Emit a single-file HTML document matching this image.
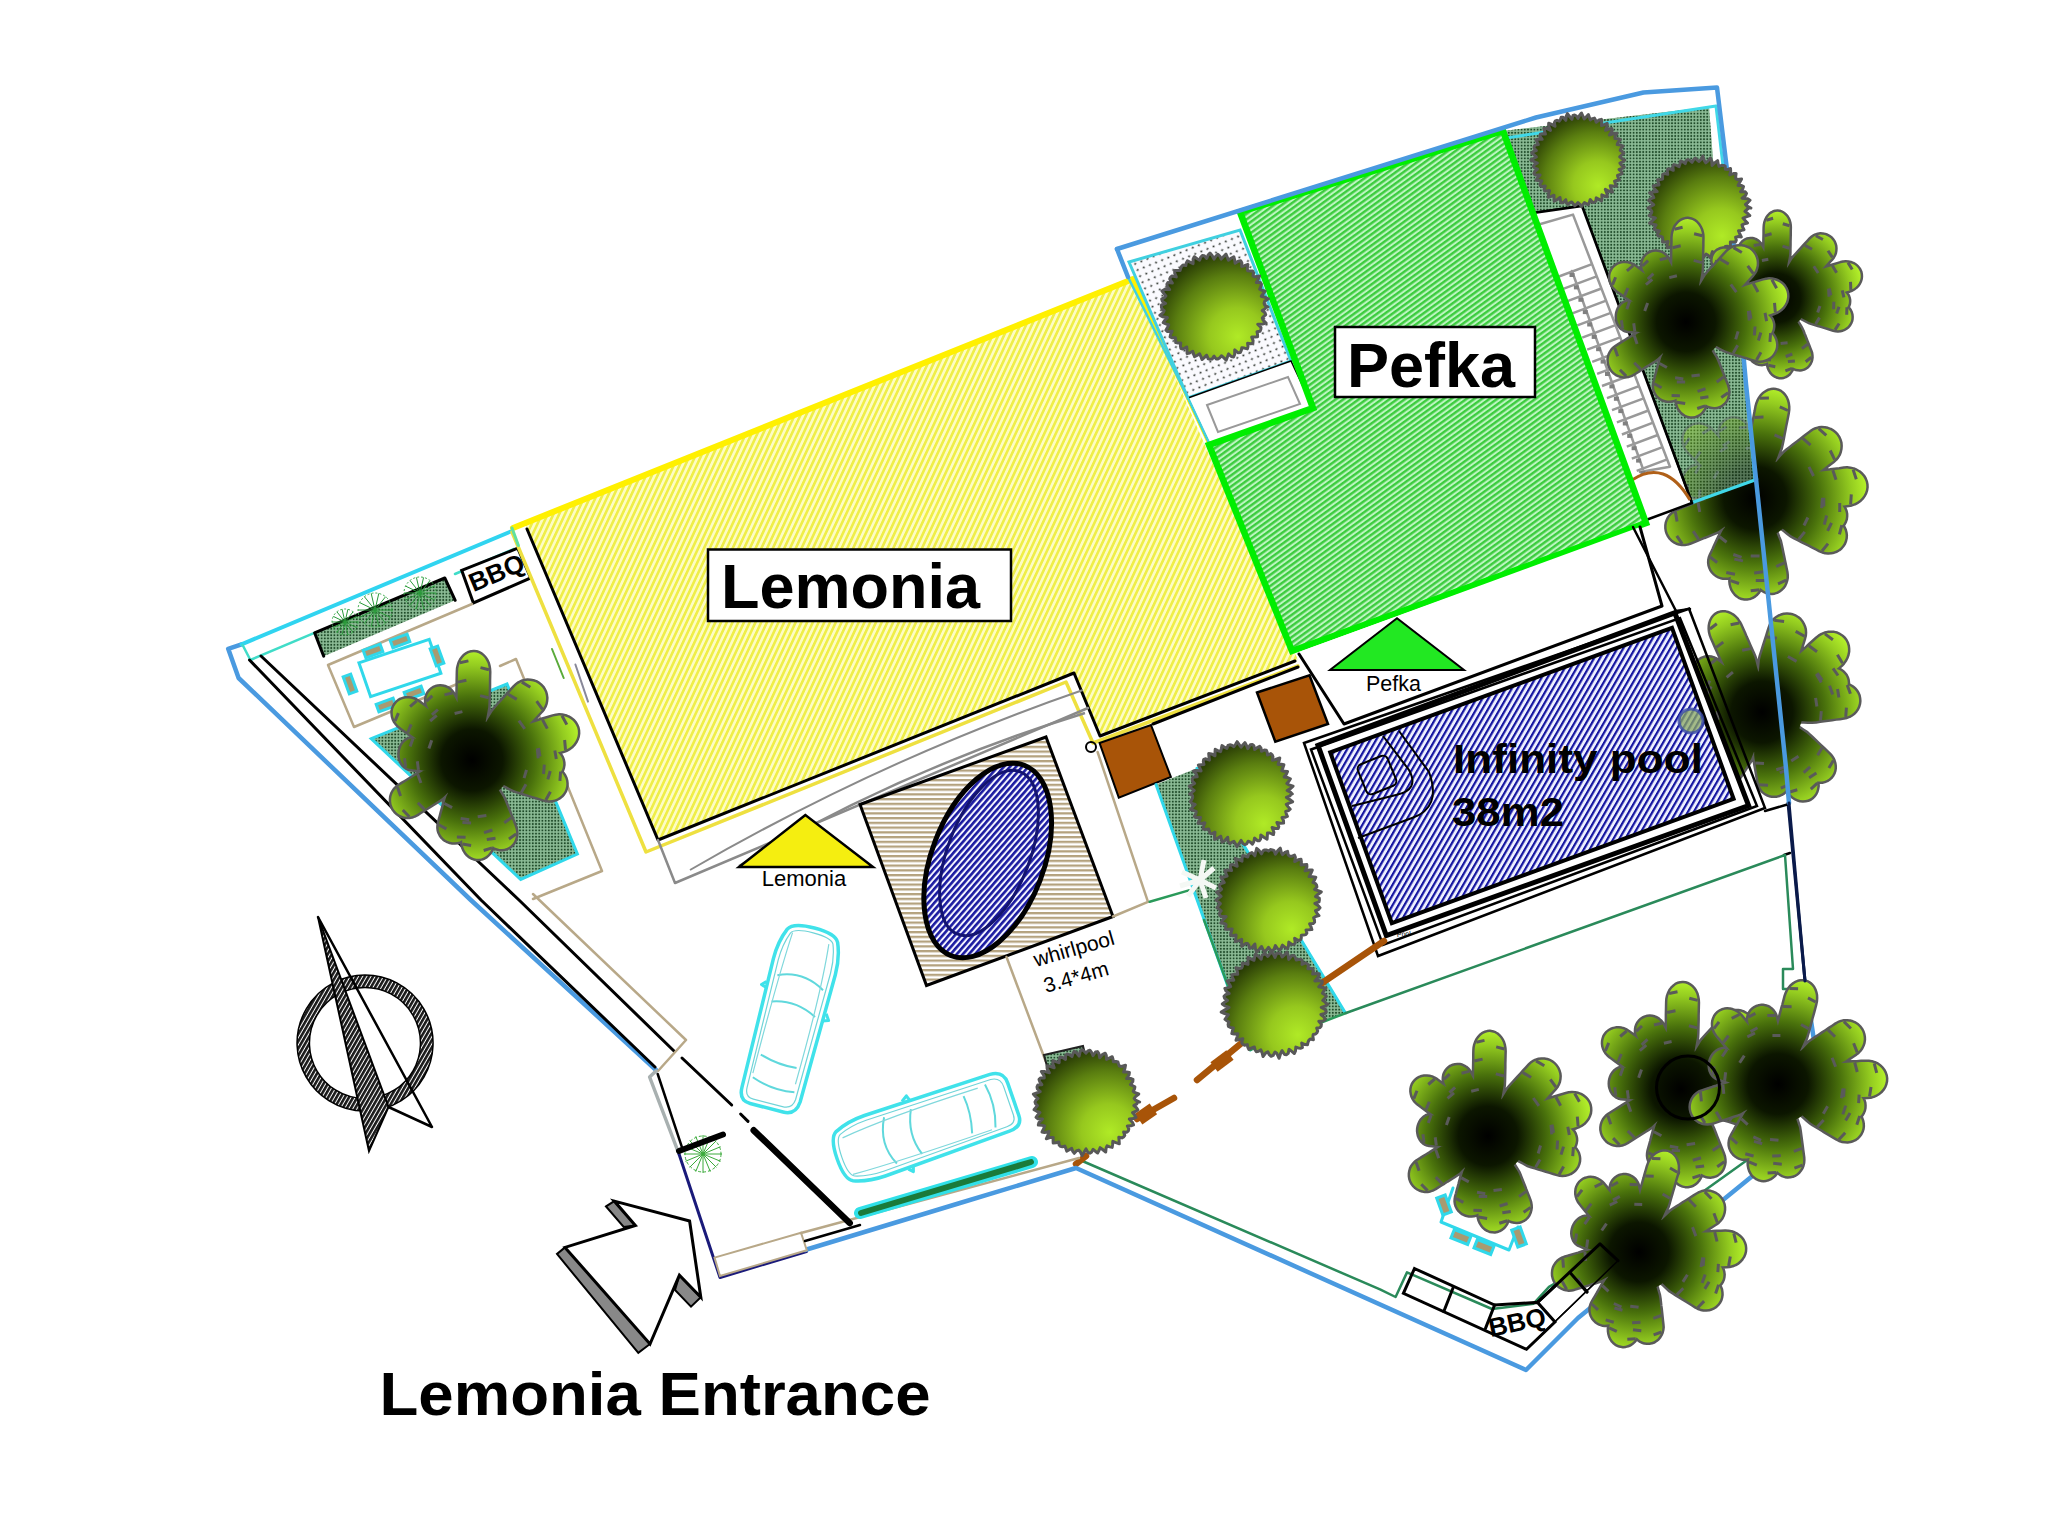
<!DOCTYPE html><html><head><meta charset="utf-8"><style>html,body{margin:0;padding:0;background:#fff;overflow:hidden;}svg{display:block;}</style></head><body><svg width="2048" height="1536" viewBox="0 0 2048 1536">
<defs>
 <pattern id="hy" patternUnits="userSpaceOnUse" width="5.2" height="5.2" patternTransform="rotate(-65)">
  <rect width="5.2" height="5.2" fill="#fdfcc4"/><rect width="5.2" height="2.6" fill="#efee48"/>
 </pattern>
 <pattern id="hg" patternUnits="userSpaceOnUse" width="4.5" height="4.5" patternTransform="rotate(-36)">
  <rect width="4.5" height="4.5" fill="#bcf6c0"/><rect width="4.5" height="2.4" fill="#3ccc3e"/>
 </pattern>
 <pattern id="hb" patternUnits="userSpaceOnUse" width="5.1" height="5.1" patternTransform="rotate(-60)">
  <rect width="5.1" height="5.1" fill="#eef0ff"/><rect width="5.1" height="2.2" fill="#1414a0"/>
 </pattern>
 <pattern id="ht" patternUnits="userSpaceOnUse" width="8" height="4.75">
  <rect width="8" height="4.75" fill="#ffffff"/><rect width="8" height="2.3" fill="#b4a27e"/>
 </pattern>
 <pattern id="he" patternUnits="userSpaceOnUse" width="4.6" height="4.6" patternTransform="rotate(-70)">
  <rect width="4.6" height="4.6" fill="#f4f4ff"/><rect width="4.6" height="2.6" fill="#1a1aa0"/>
 </pattern>
 <pattern id="hk" patternUnits="userSpaceOnUse" width="3.6" height="3.6" patternTransform="rotate(-60)">
  <rect width="3.6" height="3.6" fill="#ffffff"/><rect width="3.6" height="2.6" fill="#1a1a1a"/>
 </pattern>
 <pattern id="dots" patternUnits="userSpaceOnUse" width="6.6" height="6.6" patternTransform="rotate(-22)">
  <rect width="6.6" height="6.6" fill="#fafafe"/><circle cx="3.3" cy="3.3" r="1.05" fill="#2a302a"/>
 </pattern>
 <pattern id="tex" patternUnits="userSpaceOnUse" width="3.2" height="3.2">
  <rect width="3.2" height="3.2" fill="#8cbc96"/><circle cx="1.6" cy="1.6" r="1.0" fill="#1e4a28"/>
 </pattern>
 <radialGradient id="tree" cx="0.68" cy="0.74" r="0.85" fx="0.72" fy="0.78">
  <stop offset="0" stop-color="#b0ea26"/><stop offset="0.3" stop-color="#96c81e"/><stop offset="0.65" stop-color="#5a7e10"/><stop offset="1" stop-color="#142000"/>
 </radialGradient>
</defs>

<rect width="2048" height="1536" fill="#ffffff"/>
<polyline points="241.5,644.3 228.2,648.8 238.6,678.0 470.8,900.0 656.0,1070.0" fill="none" stroke="#4a9ae0" stroke-width="4.5" stroke-linejoin="round" stroke-linecap="round" />
<polyline points="241.5,644.3 512.0,531.0" fill="none" stroke="#30d4f0" stroke-width="4" stroke-linejoin="round" stroke-linecap="round" />
<polyline points="242.6,645.0 250.4,660.0 315.0,632.6" fill="none" stroke="#40dcc8" stroke-width="2.5" stroke-linejoin="round" stroke-linecap="round" />
<polyline points="455.0,574.0 514.0,549.0" fill="none" stroke="#40dcc8" stroke-width="2.5" stroke-linejoin="round" stroke-linecap="round" />
<polyline points="249.5,660.0 481.0,900.0 655.0,1067.0" fill="none" stroke="#000" stroke-width="3" stroke-linejoin="round" stroke-linecap="round" />
<polyline points="261.0,656.0 519.0,900.0 674.0,1051.0" fill="none" stroke="#000" stroke-width="3" stroke-linejoin="round" stroke-linecap="round" />
<polyline points="533.0,894.0 686.0,1040.0 658.0,1071.0" fill="none" stroke="#b8a888" stroke-width="2.5" stroke-linejoin="round" stroke-linecap="round" />
<polygon points="314.6,632.8 444.8,578.0 455.2,600.3 323.7,656.2" fill="url(#tex)" stroke="none" stroke-width="1" stroke-linejoin="miter" />
<polyline points="323.7,656.2 314.6,632.8 444.8,578.0 455.2,600.3" fill="none" stroke="#000" stroke-width="3" stroke-linejoin="round" stroke-linecap="round" />
<path d="M345,622 L358.0,622.0 M345,622 L356.7,627.6 M345,622 L353.1,632.2 M345,622 L347.9,634.7 M345,622 L342.1,634.7 M345,622 L336.9,632.2 M345,622 L333.3,627.6 M345,622 L332.0,622.0 M345,622 L333.3,616.4 M345,622 L336.9,611.8 M345,622 L342.1,609.3 M345,622 L347.9,609.3 M345,622 L353.1,611.8 M345,622 L356.7,616.4" stroke="#2a9a3a" stroke-width="1" fill="none"/>
<circle cx="345" cy="622" r="13" fill="none" stroke="#3aaa4a" stroke-width="1" stroke-dasharray="2 2"/>
<path d="M375,610 L392.0,610.0 M375,610 L390.3,617.4 M375,610 L385.6,623.3 M375,610 L378.8,626.6 M375,610 L371.2,626.6 M375,610 L364.4,623.3 M375,610 L359.7,617.4 M375,610 L358.0,610.0 M375,610 L359.7,602.6 M375,610 L364.4,596.7 M375,610 L371.2,593.4 M375,610 L378.8,593.4 M375,610 L385.6,596.7 M375,610 L390.3,602.6" stroke="#2a9a3a" stroke-width="1" fill="none"/>
<circle cx="375" cy="610" r="17" fill="none" stroke="#3aaa4a" stroke-width="1" stroke-dasharray="2 2"/>
<path d="M420,593 L436.0,593.0 M420,593 L434.4,599.9 M420,593 L430.0,605.5 M420,593 L423.6,608.6 M420,593 L416.4,608.6 M420,593 L410.0,605.5 M420,593 L405.6,599.9 M420,593 L404.0,593.0 M420,593 L405.6,586.1 M420,593 L410.0,580.5 M420,593 L416.4,577.4 M420,593 L423.6,577.4 M420,593 L430.0,580.5 M420,593 L434.4,586.1" stroke="#2a9a3a" stroke-width="1" fill="none"/>
<circle cx="420" cy="593" r="16" fill="none" stroke="#3aaa4a" stroke-width="1" stroke-dasharray="2 2"/>
<polygon points="461.7,570.3 517.7,548.2 530.7,578.0 473.4,602.9" fill="#fff" stroke="#000" stroke-width="3" stroke-linejoin="miter" />
<text x="0" y="0" font-family="Liberation Sans, sans-serif" font-size="26" font-weight="bold" text-anchor="middle" fill="#000" transform="translate(500,581) rotate(-23)">BBQ</text>
<polyline points="472.0,604.0 328.0,665.0 354.0,727.0 462.0,682.0" fill="none" stroke="#b8a888" stroke-width="2.5" stroke-linejoin="round" stroke-linecap="round" />
<polyline points="500.0,666.0 516.0,659.0 602.0,871.0 533.0,899.0" fill="none" stroke="#b8a888" stroke-width="2.5" stroke-linejoin="round" stroke-linecap="round" />
<polygon points="358.9,662.8 429.2,639.3 440.9,673.2 370.6,696.6" fill="#fff" stroke="#30d8ea" stroke-width="3" stroke-linejoin="miter" />
<rect x="-9" y="-4" width="18" height="8" fill="#a89a70" stroke="#30d8ea" stroke-width="3" transform="translate(373,651) rotate(-20)"/>
<rect x="-9" y="-4" width="18" height="8" fill="#a89a70" stroke="#30d8ea" stroke-width="3" transform="translate(400,641) rotate(-20)"/>
<rect x="-9" y="-4" width="18" height="8" fill="#a89a70" stroke="#30d8ea" stroke-width="3" transform="translate(350,684) rotate(70)"/>
<rect x="-9" y="-4" width="18" height="8" fill="#a89a70" stroke="#30d8ea" stroke-width="3" transform="translate(437,656) rotate(70)"/>
<rect x="-9" y="-4" width="18" height="8" fill="#a89a70" stroke="#30d8ea" stroke-width="3" transform="translate(386,705) rotate(-20)"/>
<rect x="-9" y="-4" width="18" height="8" fill="#a89a70" stroke="#30d8ea" stroke-width="3" transform="translate(414,693) rotate(-20)"/>
<polygon points="371.3,738.7 507.0,684.0 577.4,854.0 520.7,879.4" fill="url(#tex)" stroke="#30d8ea" stroke-width="3" stroke-linejoin="miter" />
<polyline points="552.0,649.0 563.7,678.0" fill="none" stroke="#5aaa3a" stroke-width="2" stroke-linejoin="round" stroke-linecap="round" />
<polyline points="575.4,664.5 588.0,701.6" fill="none" stroke="#888899" stroke-width="2" stroke-linejoin="round" stroke-linecap="round" />
<polygon points="525.0,524.0 1133.0,279.0 1298.0,660.0 1100.0,736.0 1074.0,673.0 658.0,840.0" fill="url(#hy)" stroke="none" stroke-width="1" stroke-linejoin="miter" />
<polyline points="513.0,528.0 1133.0,279.0 1212.0,447.0" fill="none" stroke="#fff000" stroke-width="6" stroke-linejoin="round" stroke-linecap="round" />
<polyline points="512.0,532.0 646.0,852.0 1066.0,682.0 1093.0,743.0 1298.0,666.0" fill="none" stroke="#eee040" stroke-width="3.5" stroke-linejoin="round" stroke-linecap="round" />
<polyline points="512.0,528.0 518.4,545.5" fill="none" stroke="#60e0a0" stroke-width="3" stroke-linejoin="round" stroke-linecap="round" />
<polyline points="527.0,529.0 658.0,840.0 1074.0,673.0 1100.0,736.0 1295.0,661.0" fill="none" stroke="#000" stroke-width="3" stroke-linejoin="round" stroke-linecap="round" />
<polyline points="1153.0,724.0 1298.0,667.0" fill="none" stroke="#000" stroke-width="3" stroke-linejoin="round" stroke-linecap="round" />
<polygon points="1129.0,262.0 1240.0,230.0 1291.0,361.0 1188.0,398.0" fill="url(#dots)" stroke="#40d0e0" stroke-width="3" stroke-linejoin="miter" />
<polygon points="1188.0,398.0 1291.0,361.0 1313.0,408.0 1210.0,445.0" fill="#ffffff" stroke="#000" stroke-width="1.5" stroke-linejoin="miter" />
<polygon points="1207.0,405.0 1288.0,377.0 1300.0,404.0 1218.0,432.0" fill="none" stroke="#999" stroke-width="2" stroke-linejoin="miter" />
<polyline points="1128.0,277.0 1188.0,398.0 1210.0,445.0" fill="none" stroke="#40d0e0" stroke-width="2.5" stroke-linejoin="round" stroke-linecap="round" />
<polygon points="1503.0,131.0 1709.0,107.0 1713.0,160.0 1746.0,384.0 1756.0,479.0 1691.0,504.0 1582.0,206.0 1533.0,213.0" fill="url(#tex)" stroke="none" stroke-width="1" stroke-linejoin="miter" />
<radialGradient id="pg0" gradientUnits="userSpaceOnUse" cx="1755" cy="498" r="112.0"><stop offset="0" stop-color="#000000"/><stop offset="0.28" stop-color="#0c1600"/><stop offset="0.58" stop-color="#4a720c"/><stop offset="0.86" stop-color="#94cc20"/><stop offset="1" stop-color="#b4f02a"/></radialGradient>
<path d="M1761.9,499.4 L1763.5,495.1 L1765.1,490.8 L1766.6,486.5 L1768.2,482.2 L1769.7,477.9 L1771.3,473.7 L1772.8,469.4 L1774.4,465.1 L1775.9,460.8 L1777.5,456.5 L1779.0,452.2 L1780.6,448.0 L1781.6,443.6 L1782.5,439.2 L1783.3,434.7 L1784.2,430.3 L1785.0,425.9 L1785.9,421.5 L1786.8,417.1 L1787.6,412.7 L1788.0,409.6 L1788.0,406.5 L1787.6,403.5 L1786.9,400.7 L1785.8,398.1 L1784.3,395.7 L1782.5,393.7 L1780.5,392.1 L1778.3,391.0 L1775.9,390.3 L1775.9,390.3 L1773.5,390.0 L1771.0,390.3 L1768.5,391.0 L1766.2,392.2 L1763.9,393.8 L1761.9,395.8 L1760.1,398.2 L1758.7,400.8 L1757.5,403.7 L1756.7,406.6 L1755.9,411.1 L1755.0,415.5 L1754.2,419.9 L1753.3,424.3 L1752.4,428.7 L1751.6,433.2 L1750.7,437.6 L1750.0,442.0 L1749.8,446.6 L1749.7,451.1 L1749.5,455.7 L1749.4,460.2 L1749.2,464.8 L1749.0,469.3 L1748.9,473.9 L1748.7,478.4 L1748.5,483.0 L1748.4,487.5 L1748.2,492.1 L1748.1,496.6Z M1761.2,496.0 L1760.8,492.5 L1760.4,489.1 L1759.9,485.7 L1759.5,482.2 L1759.1,478.8 L1758.6,475.4 L1758.2,471.9 L1757.8,468.5 L1757.4,465.1 L1756.9,461.6 L1756.5,458.2 L1756.1,454.8 L1755.2,451.5 L1754.1,448.3 L1753.1,445.0 L1752.0,441.8 L1751.0,438.6 L1749.9,435.3 L1748.9,432.1 L1747.8,428.9 L1746.9,426.7 L1745.7,424.7 L1744.2,422.9 L1742.5,421.4 L1740.5,420.2 L1738.4,419.2 L1736.2,418.7 L1733.9,418.5 L1731.6,418.6 L1729.4,419.2 L1729.4,419.2 L1727.3,420.1 L1725.3,421.3 L1723.6,422.8 L1722.2,424.5 L1721.0,426.5 L1720.1,428.7 L1719.6,430.9 L1719.4,433.2 L1719.6,435.6 L1720.2,437.9 L1721.2,441.1 L1722.3,444.3 L1723.3,447.5 L1724.4,450.8 L1725.4,454.0 L1726.5,457.2 L1727.5,460.5 L1728.7,463.7 L1730.4,466.7 L1732.1,469.7 L1733.7,472.8 L1735.4,475.8 L1737.1,478.8 L1738.8,481.8 L1740.4,484.9 L1742.1,487.9 L1743.8,490.9 L1745.4,494.0 L1747.1,497.0 L1748.8,500.0Z M1760.1,493.1 L1757.9,489.8 L1755.6,486.4 L1753.4,483.1 L1751.2,479.8 L1748.9,476.4 L1746.7,473.1 L1744.5,469.8 L1742.2,466.4 L1740.0,463.1 L1737.8,459.8 L1735.5,456.4 L1733.3,453.1 L1730.6,450.1 L1727.9,447.3 L1725.2,444.5 L1722.4,441.6 L1719.7,438.8 L1716.9,435.9 L1714.2,433.1 L1711.4,430.3 L1709.4,428.4 L1707.2,426.9 L1704.7,425.8 L1702.2,425.0 L1699.6,424.6 L1697.0,424.7 L1694.5,425.1 L1692.2,425.9 L1690.0,427.2 L1688.1,428.7 L1688.1,428.7 L1686.5,430.6 L1685.2,432.7 L1684.3,435.0 L1683.7,437.5 L1683.6,440.1 L1683.9,442.7 L1684.6,445.3 L1685.7,447.7 L1687.1,450.0 L1688.8,452.1 L1691.6,454.9 L1694.3,457.8 L1697.1,460.6 L1699.8,463.5 L1702.5,466.3 L1705.3,469.2 L1708.0,472.0 L1710.9,474.7 L1714.1,477.1 L1717.4,479.4 L1720.6,481.8 L1723.9,484.1 L1727.1,486.5 L1730.4,488.8 L1733.6,491.2 L1736.9,493.5 L1740.1,495.9 L1743.4,498.2 L1746.7,500.6 L1749.9,502.9Z M1760.0,504.5 L1763.8,502.6 L1767.7,500.6 L1771.5,498.7 L1775.4,496.8 L1779.2,494.9 L1783.1,492.9 L1786.9,491.0 L1790.8,489.1 L1794.6,487.2 L1798.5,485.3 L1802.3,483.3 L1806.2,481.4 L1809.6,479.0 L1813.0,476.4 L1816.3,473.8 L1819.7,471.2 L1823.0,468.7 L1826.4,466.1 L1829.7,463.5 L1833.1,461.0 L1835.2,459.0 L1837.1,456.8 L1838.6,454.3 L1839.6,451.6 L1840.2,448.8 L1840.4,445.9 L1840.2,443.0 L1839.4,440.3 L1838.3,437.7 L1836.7,435.3 L1836.7,435.3 L1834.8,433.2 L1832.6,431.4 L1830.1,430.0 L1827.4,429.0 L1824.6,428.4 L1821.7,428.3 L1818.9,428.6 L1816.1,429.4 L1813.4,430.6 L1811.0,432.2 L1807.6,434.7 L1804.3,437.3 L1800.9,439.9 L1797.6,442.5 L1794.2,445.0 L1790.9,447.6 L1787.5,450.2 L1784.3,452.9 L1781.4,456.1 L1778.6,459.3 L1775.7,462.5 L1772.9,465.8 L1770.0,469.0 L1767.2,472.2 L1764.3,475.4 L1761.4,478.6 L1758.6,481.9 L1755.7,485.1 L1752.9,488.3 L1750.0,491.5Z M1756.0,506.1 L1760.7,506.4 L1765.3,506.6 L1770.0,506.9 L1774.6,507.1 L1779.3,507.4 L1783.9,507.6 L1788.6,507.9 L1793.3,508.1 L1797.9,508.4 L1802.6,508.6 L1807.2,508.9 L1811.9,509.1 L1816.5,508.7 L1821.0,508.2 L1825.6,507.6 L1830.1,507.1 L1834.7,506.5 L1839.3,505.9 L1843.8,505.4 L1848.4,504.8 L1851.5,504.2 L1854.4,503.2 L1857.2,501.7 L1859.7,499.9 L1861.9,497.8 L1863.6,495.4 L1865.0,492.8 L1865.9,490.0 L1866.3,487.2 L1866.2,484.4 L1866.2,484.4 L1865.6,481.6 L1864.5,478.9 L1863.0,476.4 L1861.0,474.2 L1858.7,472.3 L1856.1,470.8 L1853.3,469.6 L1850.2,468.9 L1847.1,468.6 L1843.9,468.8 L1839.4,469.4 L1834.8,469.9 L1830.3,470.5 L1825.7,471.0 L1821.2,471.6 L1816.6,472.2 L1812.0,472.7 L1807.5,473.4 L1803.0,474.8 L1798.6,476.2 L1794.1,477.5 L1789.7,478.9 L1785.2,480.3 L1780.8,481.7 L1776.3,483.0 L1771.8,484.4 L1767.4,485.8 L1762.9,487.2 L1758.5,488.5 L1754.0,489.9Z M1753.4,504.9 L1757.0,506.4 L1760.5,508.0 L1764.1,509.5 L1767.6,511.1 L1771.2,512.6 L1774.7,514.2 L1778.3,515.7 L1781.8,517.3 L1785.4,518.8 L1788.9,520.4 L1792.5,521.9 L1796.1,523.5 L1799.7,524.5 L1803.5,525.3 L1807.2,526.2 L1810.9,527.0 L1814.6,527.9 L1818.3,528.8 L1822.0,529.6 L1825.7,530.5 L1828.3,530.9 L1830.9,530.9 L1833.5,530.5 L1836.0,529.8 L1838.3,528.6 L1840.4,527.2 L1842.2,525.5 L1843.7,523.5 L1844.8,521.3 L1845.6,518.9 L1845.6,518.9 L1845.9,516.5 L1845.9,514.0 L1845.4,511.5 L1844.5,509.2 L1843.3,507.0 L1841.7,505.0 L1839.8,503.2 L1837.7,501.7 L1835.3,500.6 L1832.8,499.8 L1829.1,499.0 L1825.4,498.1 L1821.7,497.3 L1818.0,496.4 L1814.2,495.5 L1810.5,494.7 L1806.8,493.8 L1803.1,493.1 L1799.2,492.9 L1795.3,492.8 L1791.5,492.6 L1787.6,492.4 L1783.7,492.3 L1779.8,492.1 L1776.0,491.9 L1772.1,491.8 L1768.2,491.6 L1764.3,491.4 L1760.5,491.3 L1756.6,491.1Z M1751.5,504.8 L1754.8,507.3 L1758.1,509.9 L1761.4,512.4 L1764.7,514.9 L1768.0,517.5 L1771.3,520.0 L1774.6,522.5 L1777.9,525.1 L1781.2,527.6 L1784.5,530.1 L1787.8,532.7 L1791.1,535.2 L1794.7,537.2 L1798.3,539.1 L1801.9,540.9 L1805.6,542.8 L1809.2,544.6 L1812.9,546.5 L1816.5,548.3 L1820.1,550.2 L1822.7,551.3 L1825.5,552.0 L1828.2,552.3 L1831.0,552.1 L1833.7,551.5 L1836.2,550.6 L1838.6,549.2 L1840.7,547.5 L1842.4,545.5 L1843.8,543.3 L1843.8,543.3 L1844.8,540.8 L1845.4,538.2 L1845.6,535.5 L1845.3,532.8 L1844.6,530.2 L1843.4,527.7 L1841.9,525.4 L1840.1,523.3 L1837.9,521.5 L1835.5,520.0 L1831.9,518.2 L1828.2,516.3 L1824.6,514.5 L1821.0,512.6 L1817.3,510.7 L1813.7,508.9 L1810.0,507.0 L1806.3,505.3 L1802.3,504.1 L1798.3,503.0 L1794.4,501.8 L1790.4,500.6 L1786.4,499.4 L1782.4,498.3 L1778.4,497.1 L1774.4,495.9 L1770.4,494.7 L1766.4,493.6 L1762.4,492.4 L1758.5,491.2Z M1748.1,499.4 L1748.2,503.4 L1748.3,507.4 L1748.3,511.4 L1748.4,515.5 L1748.5,519.5 L1748.6,523.5 L1748.7,527.5 L1748.8,531.5 L1748.9,535.5 L1749.0,539.5 L1749.1,543.5 L1749.2,547.5 L1749.8,551.4 L1750.6,555.3 L1751.4,559.2 L1752.2,563.1 L1753.0,566.9 L1753.8,570.8 L1754.6,574.7 L1755.3,578.5 L1756.1,581.2 L1757.2,583.6 L1758.6,585.9 L1760.3,587.9 L1762.3,589.6 L1764.5,591.0 L1766.8,592.0 L1769.3,592.5 L1771.8,592.7 L1774.2,592.4 L1774.2,592.4 L1776.6,591.7 L1778.8,590.6 L1780.8,589.1 L1782.6,587.3 L1784.1,585.2 L1785.2,582.8 L1786.0,580.3 L1786.5,577.7 L1786.5,575.0 L1786.2,572.3 L1785.4,568.4 L1784.6,564.5 L1783.8,560.7 L1783.0,556.8 L1782.2,552.9 L1781.4,549.0 L1780.6,545.2 L1779.7,541.3 L1778.2,537.6 L1776.8,533.9 L1775.3,530.1 L1773.8,526.4 L1772.3,522.7 L1770.8,519.0 L1769.3,515.2 L1767.9,511.5 L1766.4,507.8 L1764.9,504.0 L1763.4,500.3 L1761.9,496.6Z M1748.0,497.3 L1746.8,501.3 L1745.7,505.3 L1744.6,509.4 L1743.4,513.4 L1742.3,517.4 L1741.1,521.5 L1740.0,525.5 L1738.9,529.5 L1737.7,533.6 L1736.6,537.6 L1735.5,541.7 L1734.3,545.7 L1733.7,549.8 L1733.3,553.9 L1732.9,558.0 L1732.4,562.1 L1732.0,566.2 L1731.6,570.3 L1731.2,574.4 L1730.7,578.6 L1730.6,581.4 L1730.9,584.2 L1731.6,586.9 L1732.6,589.5 L1734.0,591.8 L1735.6,593.8 L1737.6,595.5 L1739.7,596.9 L1742.0,597.8 L1744.5,598.2 L1744.5,598.2 L1746.9,598.3 L1749.4,597.9 L1751.8,597.0 L1754.0,595.8 L1756.1,594.1 L1757.9,592.1 L1759.4,589.9 L1760.6,587.3 L1761.5,584.6 L1762.0,581.8 L1762.4,577.7 L1762.9,573.6 L1763.3,569.5 L1763.7,565.4 L1764.2,561.3 L1764.6,557.2 L1765.0,553.1 L1765.3,549.0 L1765.0,544.8 L1764.8,540.6 L1764.5,536.4 L1764.2,532.2 L1764.0,528.0 L1763.7,523.8 L1763.4,519.7 L1763.1,515.5 L1762.9,511.3 L1762.6,507.1 L1762.3,502.9 L1762.0,498.7Z M1748.6,495.0 L1746.4,497.9 L1744.3,500.8 L1742.2,503.7 L1740.0,506.6 L1737.9,509.5 L1735.8,512.4 L1733.6,515.3 L1731.5,518.2 L1729.4,521.2 L1727.2,524.1 L1725.1,527.0 L1722.9,529.9 L1721.3,533.0 L1719.8,536.2 L1718.3,539.4 L1716.8,542.6 L1715.3,545.8 L1713.9,549.0 L1712.4,552.2 L1710.9,555.4 L1710.0,557.7 L1709.5,560.1 L1709.4,562.6 L1709.7,565.0 L1710.4,567.3 L1711.4,569.6 L1712.8,571.6 L1714.5,573.4 L1716.4,574.9 L1718.6,576.2 L1718.6,576.2 L1720.9,577.0 L1723.3,577.5 L1725.7,577.6 L1728.2,577.4 L1730.6,576.7 L1732.8,575.7 L1734.8,574.4 L1736.6,572.8 L1738.2,570.9 L1739.4,568.7 L1740.9,565.5 L1742.4,562.3 L1743.8,559.1 L1745.3,555.9 L1746.8,552.7 L1748.3,549.5 L1749.8,546.3 L1751.2,543.0 L1752.0,539.5 L1752.9,536.0 L1753.7,532.5 L1754.6,529.0 L1755.5,525.5 L1756.3,522.0 L1757.2,518.5 L1758.0,515.0 L1758.9,511.5 L1759.7,508.0 L1760.6,504.5 L1761.4,501.0Z M1752.1,490.9 L1748.3,491.7 L1744.4,492.4 L1740.6,493.1 L1736.7,493.9 L1732.8,494.6 L1729.0,495.4 L1725.1,496.1 L1721.2,496.8 L1717.4,497.6 L1713.5,498.3 L1709.7,499.0 L1705.8,499.8 L1702.2,501.1 L1698.6,502.5 L1695.0,504.0 L1691.4,505.4 L1687.9,506.9 L1684.3,508.3 L1680.7,509.8 L1677.1,511.2 L1674.7,512.4 L1672.6,513.9 L1670.7,515.8 L1669.1,517.9 L1667.9,520.3 L1667.0,522.8 L1666.6,525.4 L1666.6,528.1 L1667.0,530.7 L1667.8,533.2 L1667.8,533.2 L1669.0,535.6 L1670.5,537.8 L1672.4,539.7 L1674.5,541.3 L1676.9,542.5 L1679.4,543.3 L1682.0,543.8 L1684.7,543.8 L1687.3,543.4 L1689.8,542.6 L1693.4,541.2 L1697.0,539.7 L1700.5,538.3 L1704.1,536.8 L1707.7,535.4 L1711.3,533.9 L1714.9,532.5 L1718.4,530.9 L1721.7,528.7 L1725.0,526.6 L1728.2,524.4 L1731.5,522.3 L1734.8,520.1 L1738.1,518.0 L1741.4,515.8 L1744.7,513.7 L1748.0,511.5 L1751.3,509.4 L1754.6,507.2 L1757.9,505.1Z M1757.0,491.2 L1754.2,489.7 L1751.5,488.2 L1748.8,486.6 L1746.1,485.1 L1743.4,483.6 L1740.6,482.1 L1737.9,480.6 L1735.2,479.1 L1732.5,477.5 L1729.8,476.0 L1727.1,474.5 L1724.3,473.0 L1721.5,472.0 L1718.5,471.2 L1715.6,470.4 L1712.7,469.5 L1709.8,468.7 L1706.9,467.8 L1704.0,467.0 L1701.1,466.2 L1699.0,465.8 L1696.9,465.8 L1694.8,466.2 L1692.7,466.9 L1690.8,468.0 L1688.9,469.4 L1687.3,471.2 L1685.9,473.1 L1684.8,475.3 L1683.9,477.6 L1683.9,477.6 L1683.4,480.0 L1683.2,482.5 L1683.4,484.9 L1683.8,487.2 L1684.6,489.4 L1685.7,491.4 L1687.1,493.1 L1688.7,494.5 L1690.5,495.6 L1692.4,496.4 L1695.3,497.2 L1698.2,498.1 L1701.1,498.9 L1704.1,499.7 L1707.0,500.6 L1709.9,501.4 L1712.8,502.3 L1715.7,503.0 L1718.9,503.1 L1722.0,503.3 L1725.1,503.4 L1728.2,503.6 L1731.3,503.7 L1734.4,503.9 L1737.5,504.0 L1740.6,504.2 L1743.7,504.3 L1746.8,504.5 L1749.9,504.6 L1753.0,504.8Z M1716.9,498.0 A38.1,38.1 0 1 0 1793.1,498.0 A38.1,38.1 0 1 0 1716.9,498.0Z" fill="#5a5a5a" stroke="#5a5a5a" stroke-width="5" stroke-linejoin="round"/>
<path d="M1761.9,499.4 L1763.5,495.1 L1765.1,490.8 L1766.6,486.5 L1768.2,482.2 L1769.7,477.9 L1771.3,473.7 L1772.8,469.4 L1774.4,465.1 L1775.9,460.8 L1777.5,456.5 L1779.0,452.2 L1780.6,448.0 L1781.6,443.6 L1782.5,439.2 L1783.3,434.7 L1784.2,430.3 L1785.0,425.9 L1785.9,421.5 L1786.8,417.1 L1787.6,412.7 L1788.0,409.6 L1788.0,406.5 L1787.6,403.5 L1786.9,400.7 L1785.8,398.1 L1784.3,395.7 L1782.5,393.7 L1780.5,392.1 L1778.3,391.0 L1775.9,390.3 L1775.9,390.3 L1773.5,390.0 L1771.0,390.3 L1768.5,391.0 L1766.2,392.2 L1763.9,393.8 L1761.9,395.8 L1760.1,398.2 L1758.7,400.8 L1757.5,403.7 L1756.7,406.6 L1755.9,411.1 L1755.0,415.5 L1754.2,419.9 L1753.3,424.3 L1752.4,428.7 L1751.6,433.2 L1750.7,437.6 L1750.0,442.0 L1749.8,446.6 L1749.7,451.1 L1749.5,455.7 L1749.4,460.2 L1749.2,464.8 L1749.0,469.3 L1748.9,473.9 L1748.7,478.4 L1748.5,483.0 L1748.4,487.5 L1748.2,492.1 L1748.1,496.6Z M1761.2,496.0 L1760.8,492.5 L1760.4,489.1 L1759.9,485.7 L1759.5,482.2 L1759.1,478.8 L1758.6,475.4 L1758.2,471.9 L1757.8,468.5 L1757.4,465.1 L1756.9,461.6 L1756.5,458.2 L1756.1,454.8 L1755.2,451.5 L1754.1,448.3 L1753.1,445.0 L1752.0,441.8 L1751.0,438.6 L1749.9,435.3 L1748.9,432.1 L1747.8,428.9 L1746.9,426.7 L1745.7,424.7 L1744.2,422.9 L1742.5,421.4 L1740.5,420.2 L1738.4,419.2 L1736.2,418.7 L1733.9,418.5 L1731.6,418.6 L1729.4,419.2 L1729.4,419.2 L1727.3,420.1 L1725.3,421.3 L1723.6,422.8 L1722.2,424.5 L1721.0,426.5 L1720.1,428.7 L1719.6,430.9 L1719.4,433.2 L1719.6,435.6 L1720.2,437.9 L1721.2,441.1 L1722.3,444.3 L1723.3,447.5 L1724.4,450.8 L1725.4,454.0 L1726.5,457.2 L1727.5,460.5 L1728.7,463.7 L1730.4,466.7 L1732.1,469.7 L1733.7,472.8 L1735.4,475.8 L1737.1,478.8 L1738.8,481.8 L1740.4,484.9 L1742.1,487.9 L1743.8,490.9 L1745.4,494.0 L1747.1,497.0 L1748.8,500.0Z M1760.1,493.1 L1757.9,489.8 L1755.6,486.4 L1753.4,483.1 L1751.2,479.8 L1748.9,476.4 L1746.7,473.1 L1744.5,469.8 L1742.2,466.4 L1740.0,463.1 L1737.8,459.8 L1735.5,456.4 L1733.3,453.1 L1730.6,450.1 L1727.9,447.3 L1725.2,444.5 L1722.4,441.6 L1719.7,438.8 L1716.9,435.9 L1714.2,433.1 L1711.4,430.3 L1709.4,428.4 L1707.2,426.9 L1704.7,425.8 L1702.2,425.0 L1699.6,424.6 L1697.0,424.7 L1694.5,425.1 L1692.2,425.9 L1690.0,427.2 L1688.1,428.7 L1688.1,428.7 L1686.5,430.6 L1685.2,432.7 L1684.3,435.0 L1683.7,437.5 L1683.6,440.1 L1683.9,442.7 L1684.6,445.3 L1685.7,447.7 L1687.1,450.0 L1688.8,452.1 L1691.6,454.9 L1694.3,457.8 L1697.1,460.6 L1699.8,463.5 L1702.5,466.3 L1705.3,469.2 L1708.0,472.0 L1710.9,474.7 L1714.1,477.1 L1717.4,479.4 L1720.6,481.8 L1723.9,484.1 L1727.1,486.5 L1730.4,488.8 L1733.6,491.2 L1736.9,493.5 L1740.1,495.9 L1743.4,498.2 L1746.7,500.6 L1749.9,502.9Z M1760.0,504.5 L1763.8,502.6 L1767.7,500.6 L1771.5,498.7 L1775.4,496.8 L1779.2,494.9 L1783.1,492.9 L1786.9,491.0 L1790.8,489.1 L1794.6,487.2 L1798.5,485.3 L1802.3,483.3 L1806.2,481.4 L1809.6,479.0 L1813.0,476.4 L1816.3,473.8 L1819.7,471.2 L1823.0,468.7 L1826.4,466.1 L1829.7,463.5 L1833.1,461.0 L1835.2,459.0 L1837.1,456.8 L1838.6,454.3 L1839.6,451.6 L1840.2,448.8 L1840.4,445.9 L1840.2,443.0 L1839.4,440.3 L1838.3,437.7 L1836.7,435.3 L1836.7,435.3 L1834.8,433.2 L1832.6,431.4 L1830.1,430.0 L1827.4,429.0 L1824.6,428.4 L1821.7,428.3 L1818.9,428.6 L1816.1,429.4 L1813.4,430.6 L1811.0,432.2 L1807.6,434.7 L1804.3,437.3 L1800.9,439.9 L1797.6,442.5 L1794.2,445.0 L1790.9,447.6 L1787.5,450.2 L1784.3,452.9 L1781.4,456.1 L1778.6,459.3 L1775.7,462.5 L1772.9,465.8 L1770.0,469.0 L1767.2,472.2 L1764.3,475.4 L1761.4,478.6 L1758.6,481.9 L1755.7,485.1 L1752.9,488.3 L1750.0,491.5Z M1756.0,506.1 L1760.7,506.4 L1765.3,506.6 L1770.0,506.9 L1774.6,507.1 L1779.3,507.4 L1783.9,507.6 L1788.6,507.9 L1793.3,508.1 L1797.9,508.4 L1802.6,508.6 L1807.2,508.9 L1811.9,509.1 L1816.5,508.7 L1821.0,508.2 L1825.6,507.6 L1830.1,507.1 L1834.7,506.5 L1839.3,505.9 L1843.8,505.4 L1848.4,504.8 L1851.5,504.2 L1854.4,503.2 L1857.2,501.7 L1859.7,499.9 L1861.9,497.8 L1863.6,495.4 L1865.0,492.8 L1865.9,490.0 L1866.3,487.2 L1866.2,484.4 L1866.2,484.4 L1865.6,481.6 L1864.5,478.9 L1863.0,476.4 L1861.0,474.2 L1858.7,472.3 L1856.1,470.8 L1853.3,469.6 L1850.2,468.9 L1847.1,468.6 L1843.9,468.8 L1839.4,469.4 L1834.8,469.9 L1830.3,470.5 L1825.7,471.0 L1821.2,471.6 L1816.6,472.2 L1812.0,472.7 L1807.5,473.4 L1803.0,474.8 L1798.6,476.2 L1794.1,477.5 L1789.7,478.9 L1785.2,480.3 L1780.8,481.7 L1776.3,483.0 L1771.8,484.4 L1767.4,485.8 L1762.9,487.2 L1758.5,488.5 L1754.0,489.9Z M1753.4,504.9 L1757.0,506.4 L1760.5,508.0 L1764.1,509.5 L1767.6,511.1 L1771.2,512.6 L1774.7,514.2 L1778.3,515.7 L1781.8,517.3 L1785.4,518.8 L1788.9,520.4 L1792.5,521.9 L1796.1,523.5 L1799.7,524.5 L1803.5,525.3 L1807.2,526.2 L1810.9,527.0 L1814.6,527.9 L1818.3,528.8 L1822.0,529.6 L1825.7,530.5 L1828.3,530.9 L1830.9,530.9 L1833.5,530.5 L1836.0,529.8 L1838.3,528.6 L1840.4,527.2 L1842.2,525.5 L1843.7,523.5 L1844.8,521.3 L1845.6,518.9 L1845.6,518.9 L1845.9,516.5 L1845.9,514.0 L1845.4,511.5 L1844.5,509.2 L1843.3,507.0 L1841.7,505.0 L1839.8,503.2 L1837.7,501.7 L1835.3,500.6 L1832.8,499.8 L1829.1,499.0 L1825.4,498.1 L1821.7,497.3 L1818.0,496.4 L1814.2,495.5 L1810.5,494.7 L1806.8,493.8 L1803.1,493.1 L1799.2,492.9 L1795.3,492.8 L1791.5,492.6 L1787.6,492.4 L1783.7,492.3 L1779.8,492.1 L1776.0,491.9 L1772.1,491.8 L1768.2,491.6 L1764.3,491.4 L1760.5,491.3 L1756.6,491.1Z M1751.5,504.8 L1754.8,507.3 L1758.1,509.9 L1761.4,512.4 L1764.7,514.9 L1768.0,517.5 L1771.3,520.0 L1774.6,522.5 L1777.9,525.1 L1781.2,527.6 L1784.5,530.1 L1787.8,532.7 L1791.1,535.2 L1794.7,537.2 L1798.3,539.1 L1801.9,540.9 L1805.6,542.8 L1809.2,544.6 L1812.9,546.5 L1816.5,548.3 L1820.1,550.2 L1822.7,551.3 L1825.5,552.0 L1828.2,552.3 L1831.0,552.1 L1833.7,551.5 L1836.2,550.6 L1838.6,549.2 L1840.7,547.5 L1842.4,545.5 L1843.8,543.3 L1843.8,543.3 L1844.8,540.8 L1845.4,538.2 L1845.6,535.5 L1845.3,532.8 L1844.6,530.2 L1843.4,527.7 L1841.9,525.4 L1840.1,523.3 L1837.9,521.5 L1835.5,520.0 L1831.9,518.2 L1828.2,516.3 L1824.6,514.5 L1821.0,512.6 L1817.3,510.7 L1813.7,508.9 L1810.0,507.0 L1806.3,505.3 L1802.3,504.1 L1798.3,503.0 L1794.4,501.8 L1790.4,500.6 L1786.4,499.4 L1782.4,498.3 L1778.4,497.1 L1774.4,495.9 L1770.4,494.7 L1766.4,493.6 L1762.4,492.4 L1758.5,491.2Z M1748.1,499.4 L1748.2,503.4 L1748.3,507.4 L1748.3,511.4 L1748.4,515.5 L1748.5,519.5 L1748.6,523.5 L1748.7,527.5 L1748.8,531.5 L1748.9,535.5 L1749.0,539.5 L1749.1,543.5 L1749.2,547.5 L1749.8,551.4 L1750.6,555.3 L1751.4,559.2 L1752.2,563.1 L1753.0,566.9 L1753.8,570.8 L1754.6,574.7 L1755.3,578.5 L1756.1,581.2 L1757.2,583.6 L1758.6,585.9 L1760.3,587.9 L1762.3,589.6 L1764.5,591.0 L1766.8,592.0 L1769.3,592.5 L1771.8,592.7 L1774.2,592.4 L1774.2,592.4 L1776.6,591.7 L1778.8,590.6 L1780.8,589.1 L1782.6,587.3 L1784.1,585.2 L1785.2,582.8 L1786.0,580.3 L1786.5,577.7 L1786.5,575.0 L1786.2,572.3 L1785.4,568.4 L1784.6,564.5 L1783.8,560.7 L1783.0,556.8 L1782.2,552.9 L1781.4,549.0 L1780.6,545.2 L1779.7,541.3 L1778.2,537.6 L1776.8,533.9 L1775.3,530.1 L1773.8,526.4 L1772.3,522.7 L1770.8,519.0 L1769.3,515.2 L1767.9,511.5 L1766.4,507.8 L1764.9,504.0 L1763.4,500.3 L1761.9,496.6Z M1748.0,497.3 L1746.8,501.3 L1745.7,505.3 L1744.6,509.4 L1743.4,513.4 L1742.3,517.4 L1741.1,521.5 L1740.0,525.5 L1738.9,529.5 L1737.7,533.6 L1736.6,537.6 L1735.5,541.7 L1734.3,545.7 L1733.7,549.8 L1733.3,553.9 L1732.9,558.0 L1732.4,562.1 L1732.0,566.2 L1731.6,570.3 L1731.2,574.4 L1730.7,578.6 L1730.6,581.4 L1730.9,584.2 L1731.6,586.9 L1732.6,589.5 L1734.0,591.8 L1735.6,593.8 L1737.6,595.5 L1739.7,596.9 L1742.0,597.8 L1744.5,598.2 L1744.5,598.2 L1746.9,598.3 L1749.4,597.9 L1751.8,597.0 L1754.0,595.8 L1756.1,594.1 L1757.9,592.1 L1759.4,589.9 L1760.6,587.3 L1761.5,584.6 L1762.0,581.8 L1762.4,577.7 L1762.9,573.6 L1763.3,569.5 L1763.7,565.4 L1764.2,561.3 L1764.6,557.2 L1765.0,553.1 L1765.3,549.0 L1765.0,544.8 L1764.8,540.6 L1764.5,536.4 L1764.2,532.2 L1764.0,528.0 L1763.7,523.8 L1763.4,519.7 L1763.1,515.5 L1762.9,511.3 L1762.6,507.1 L1762.3,502.9 L1762.0,498.7Z M1748.6,495.0 L1746.4,497.9 L1744.3,500.8 L1742.2,503.7 L1740.0,506.6 L1737.9,509.5 L1735.8,512.4 L1733.6,515.3 L1731.5,518.2 L1729.4,521.2 L1727.2,524.1 L1725.1,527.0 L1722.9,529.9 L1721.3,533.0 L1719.8,536.2 L1718.3,539.4 L1716.8,542.6 L1715.3,545.8 L1713.9,549.0 L1712.4,552.2 L1710.9,555.4 L1710.0,557.7 L1709.5,560.1 L1709.4,562.6 L1709.7,565.0 L1710.4,567.3 L1711.4,569.6 L1712.8,571.6 L1714.5,573.4 L1716.4,574.9 L1718.6,576.2 L1718.6,576.2 L1720.9,577.0 L1723.3,577.5 L1725.7,577.6 L1728.2,577.4 L1730.6,576.7 L1732.8,575.7 L1734.8,574.4 L1736.6,572.8 L1738.2,570.9 L1739.4,568.7 L1740.9,565.5 L1742.4,562.3 L1743.8,559.1 L1745.3,555.9 L1746.8,552.7 L1748.3,549.5 L1749.8,546.3 L1751.2,543.0 L1752.0,539.5 L1752.9,536.0 L1753.7,532.5 L1754.6,529.0 L1755.5,525.5 L1756.3,522.0 L1757.2,518.5 L1758.0,515.0 L1758.9,511.5 L1759.7,508.0 L1760.6,504.5 L1761.4,501.0Z M1752.1,490.9 L1748.3,491.7 L1744.4,492.4 L1740.6,493.1 L1736.7,493.9 L1732.8,494.6 L1729.0,495.4 L1725.1,496.1 L1721.2,496.8 L1717.4,497.6 L1713.5,498.3 L1709.7,499.0 L1705.8,499.8 L1702.2,501.1 L1698.6,502.5 L1695.0,504.0 L1691.4,505.4 L1687.9,506.9 L1684.3,508.3 L1680.7,509.8 L1677.1,511.2 L1674.7,512.4 L1672.6,513.9 L1670.7,515.8 L1669.1,517.9 L1667.9,520.3 L1667.0,522.8 L1666.6,525.4 L1666.6,528.1 L1667.0,530.7 L1667.8,533.2 L1667.8,533.2 L1669.0,535.6 L1670.5,537.8 L1672.4,539.7 L1674.5,541.3 L1676.9,542.5 L1679.4,543.3 L1682.0,543.8 L1684.7,543.8 L1687.3,543.4 L1689.8,542.6 L1693.4,541.2 L1697.0,539.7 L1700.5,538.3 L1704.1,536.8 L1707.7,535.4 L1711.3,533.9 L1714.9,532.5 L1718.4,530.9 L1721.7,528.7 L1725.0,526.6 L1728.2,524.4 L1731.5,522.3 L1734.8,520.1 L1738.1,518.0 L1741.4,515.8 L1744.7,513.7 L1748.0,511.5 L1751.3,509.4 L1754.6,507.2 L1757.9,505.1Z M1757.0,491.2 L1754.2,489.7 L1751.5,488.2 L1748.8,486.6 L1746.1,485.1 L1743.4,483.6 L1740.6,482.1 L1737.9,480.6 L1735.2,479.1 L1732.5,477.5 L1729.8,476.0 L1727.1,474.5 L1724.3,473.0 L1721.5,472.0 L1718.5,471.2 L1715.6,470.4 L1712.7,469.5 L1709.8,468.7 L1706.9,467.8 L1704.0,467.0 L1701.1,466.2 L1699.0,465.8 L1696.9,465.8 L1694.8,466.2 L1692.7,466.9 L1690.8,468.0 L1688.9,469.4 L1687.3,471.2 L1685.9,473.1 L1684.8,475.3 L1683.9,477.6 L1683.9,477.6 L1683.4,480.0 L1683.2,482.5 L1683.4,484.9 L1683.8,487.2 L1684.6,489.4 L1685.7,491.4 L1687.1,493.1 L1688.7,494.5 L1690.5,495.6 L1692.4,496.4 L1695.3,497.2 L1698.2,498.1 L1701.1,498.9 L1704.1,499.7 L1707.0,500.6 L1709.9,501.4 L1712.8,502.3 L1715.7,503.0 L1718.9,503.1 L1722.0,503.3 L1725.1,503.4 L1728.2,503.6 L1731.3,503.7 L1734.4,503.9 L1737.5,504.0 L1740.6,504.2 L1743.7,504.3 L1746.8,504.5 L1749.9,504.6 L1753.0,504.8Z" fill="url(#pg0)"/><circle cx="1755" cy="498" r="41.4" fill="url(#pg0)"/>
<path d="M1782.6,438.5 L1774.5,434.9 M1754.6,417.4 L1763.5,417.1 M1787.9,410.5 L1779.8,406.9 M1760.0,398.3 L1768.9,398.0 M1754.0,447.8 L1745.7,448.4 M1722.8,445.7 L1729.7,441.4 M1747.2,427.3 L1739.0,427.9 M1719.6,431.1 L1726.6,426.7 M1727.5,446.9 L1719.9,451.5 M1695.5,459.0 L1700.3,451.6 M1710.0,428.9 L1702.4,433.5 M1684.6,445.4 L1689.5,438.0 M1813.5,476.0 L1809.0,466.9 M1802.8,438.4 L1810.5,445.1 M1834.6,459.6 L1830.2,450.5 M1818.7,428.7 L1826.3,435.4 M1821.7,508.1 L1822.5,497.9 M1832.8,470.2 L1836.0,479.8 M1850.6,504.4 L1851.3,494.3 M1853.1,469.6 L1856.3,479.2 M1804.0,525.5 L1807.9,517.5 M1823.8,497.7 L1823.8,506.6 M1827.6,530.8 L1831.5,522.8 M1839.7,503.1 L1839.7,512.0 M1798.8,539.3 L1804.8,531.9 M1826.6,515.5 L1824.2,524.7 M1822.0,551.0 L1828.0,543.6 M1841.8,525.2 L1839.4,534.4 M1750.7,555.9 L1759.6,556.1 M1784.2,562.8 L1776.2,566.5 M1755.8,580.4 L1764.7,580.6 M1786.1,580.1 L1778.0,583.8 M1733.3,554.5 L1741.6,557.4 M1763.1,571.8 L1754.2,572.9 M1730.6,580.6 L1739.0,583.5 M1759.5,589.7 L1750.7,590.8 M1719.6,536.7 L1726.6,542.2 M1743.0,560.9 L1734.3,559.1 M1710.2,557.0 L1717.2,562.5 M1735.0,574.3 L1726.3,572.5 M1698.1,502.7 L1699.7,512.1 M1698.5,539.1 L1693.2,531.2 M1675.4,512.0 L1677.1,521.4 M1682.2,543.8 L1676.8,535.9 M1718.1,471.1 L1713.8,478.8 M1699.5,498.4 L1700.0,489.6 M1699.6,465.9 L1695.3,473.6 M1687.2,493.2 L1687.6,484.3" stroke="#5a5a5a" stroke-width="3" fill="none"/>
<polygon points="1503.0,131.0 1709.0,107.0 1713.0,160.0 1746.0,384.0 1756.0,479.0 1691.0,504.0 1582.0,206.0 1533.0,213.0" fill="url(#tex)" stroke="none" stroke-width="1" stroke-linejoin="miter" opacity="0.6"/>
<polyline points="1533.0,213.0 1582.0,206.0 1692.0,503.0" fill="none" stroke="#000" stroke-width="2.5" stroke-linejoin="round" stroke-linecap="round" />
<polyline points="1506.0,138.0 1716.0,106.0 1733.0,251.0 1755.0,480.0 1691.0,503.0" fill="none" stroke="#40d8e8" stroke-width="3" stroke-linejoin="round" stroke-linecap="round" />
<polygon points="1533.0,213.0 1582.5,206.0 1691.0,504.0 1646.0,522.0" fill="#fff" stroke="none" stroke-width="1" stroke-linejoin="miter" />
<polyline points="1533.0,213.0 1582.0,206.0 1692.0,503.0" fill="none" stroke="#000" stroke-width="2.5" stroke-linejoin="round" stroke-linecap="round" />
<polyline points="1537.0,225.0 1573.0,214.6 1670.0,466.7 1640.0,472.0" fill="none" stroke="#999" stroke-width="2.5" stroke-linejoin="round" stroke-linecap="round" />
<polyline points="1537.0,225.0 1557.0,277.0" fill="none" stroke="#999" stroke-width="2.5" stroke-linejoin="round" stroke-linecap="round" />
<polyline points="1572.0,271.0 1643.0,469.0" fill="none" stroke="#999" stroke-width="2.5" stroke-linejoin="round" stroke-linecap="round" />
<path d="M1557.5,277.0 L1592.0,264.1 M1562.5,289.1 L1596.7,276.3 M1567.4,301.2 L1601.4,288.5 M1572.3,313.3 L1606.1,300.7 M1577.3,325.4 L1610.8,312.9 M1582.2,337.6 L1615.5,325.1 M1587.2,349.7 L1620.2,337.3 M1592.2,361.8 L1624.9,349.5 M1597.1,373.9 L1629.6,361.7 M1602.0,386.0 L1634.3,373.9 M1607.0,398.1 L1639.0,386.1 M1612.0,410.2 L1643.7,398.3 M1616.9,422.4 L1648.4,410.5 M1621.9,434.5 L1653.1,422.7 M1626.8,446.6 L1657.8,435.0 M1631.8,458.7 L1662.5,447.2 M1636.7,470.8 L1667.2,459.4" stroke="#999" stroke-width="2.5"/>
<rect x="1569.5" y="273.0" width="5" height="4" fill="#808080"/><rect x="1573.9" y="285.4" width="5" height="4" fill="#808080"/><rect x="1578.4" y="297.8" width="5" height="4" fill="#808080"/><rect x="1582.8" y="310.1" width="5" height="4" fill="#808080"/><rect x="1587.2" y="322.5" width="5" height="4" fill="#808080"/><rect x="1591.7" y="334.9" width="5" height="4" fill="#808080"/><rect x="1596.1" y="347.2" width="5" height="4" fill="#808080"/><rect x="1600.6" y="359.6" width="5" height="4" fill="#808080"/><rect x="1605.0" y="372.0" width="5" height="4" fill="#808080"/><rect x="1609.4" y="384.4" width="5" height="4" fill="#808080"/><rect x="1613.9" y="396.8" width="5" height="4" fill="#808080"/><rect x="1618.3" y="409.1" width="5" height="4" fill="#808080"/><rect x="1622.8" y="421.5" width="5" height="4" fill="#808080"/><rect x="1627.2" y="433.9" width="5" height="4" fill="#808080"/><rect x="1631.6" y="446.2" width="5" height="4" fill="#808080"/><rect x="1636.1" y="458.6" width="5" height="4" fill="#808080"/><rect x="1640.5" y="471.0" width="5" height="4" fill="#808080"/>
<path d="M1632,480 Q1665,458 1690,500" fill="none" stroke="#b06018" stroke-width="3"/>
<polyline points="1646.0,520.0 1692.0,503.0" fill="none" stroke="#000" stroke-width="2.5" stroke-linejoin="round" stroke-linecap="round" />
<polygon points="1240.0,212.0 1503.0,131.0 1646.0,523.0 1292.0,651.0 1209.0,445.0 1313.0,408.0" fill="url(#hg)" stroke="#00ee00" stroke-width="6.5" stroke-linejoin="miter" />
<polyline points="1117.0,249.0 1536.0,117.5 1643.5,92.5 1717.0,87.5 1727.0,170.0 1746.0,384.0 1756.0,479.0" fill="none" stroke="#4a9ae0" stroke-width="4.5" stroke-linejoin="round" stroke-linecap="round" />
<polyline points="1117.0,249.0 1128.0,277.0" fill="none" stroke="#4a9ae0" stroke-width="4.5" stroke-linejoin="round" stroke-linecap="round" />
<polyline points="1788.0,803.0 1805.0,981.0" fill="none" stroke="#0a1a4a" stroke-width="3" stroke-linejoin="round" stroke-linecap="round" />
<rect x="708" y="549.5" width="303" height="71.5" fill="#fff" stroke="#000" stroke-width="2.5"/>
<text x="850.5" y="608" font-family="Liberation Sans, sans-serif" font-size="63" font-weight="bold" text-anchor="middle" fill="#000" >Lemonia</text>
<rect x="1335" y="327" width="200" height="70" fill="#fff" stroke="#000" stroke-width="2.5"/>
<text x="1431" y="387" font-family="Liberation Sans, sans-serif" font-size="63" font-weight="bold" text-anchor="middle" fill="#000" >Pefka</text>
<polyline points="658.0,840.0 675.0,883.0 1088.0,708.0" fill="none" stroke="#8a8a8a" stroke-width="2.5" stroke-linejoin="round" stroke-linecap="round" />
<path d="M739,866 Q900,770 1085,713" fill="none" stroke="#8a8a8a" stroke-width="2.5"/>
<path d="M690,870 Q880,760 1083,690" fill="none" stroke="#8a8a8a" stroke-width="2"/>
<polygon points="860.0,804.5 1046.0,737.0 1113.0,916.5 926.5,985.5" fill="url(#ht)" stroke="#000" stroke-width="3" stroke-linejoin="miter" />
<ellipse cx="0" cy="0" rx="56" ry="102" fill="url(#he)" stroke="#000" stroke-width="5" transform="translate(987.7,860.5) rotate(21)"/>
<ellipse cx="0" cy="0" rx="41" ry="87" fill="none" stroke="#141470" stroke-width="3" transform="translate(989,853) rotate(21)"/>
<polyline points="1097.6,752.0 1148.0,901.8 1113.0,916.5" fill="none" stroke="#b8a888" stroke-width="2.5" stroke-linejoin="round" stroke-linecap="round" />
<polyline points="1149.7,901.8 1188.8,890.4" fill="none" stroke="#2a9a5a" stroke-width="2.5" stroke-linejoin="round" stroke-linecap="round" />
<polyline points="1006.5,957.0 1045.6,1061.0" fill="none" stroke="#b8a888" stroke-width="2.5" stroke-linejoin="round" stroke-linecap="round" />
<polygon points="1099.6,743.0 1151.0,725.0 1170.9,777.0 1118.8,797.6" fill="#a85408" stroke="#000" stroke-width="2" stroke-linejoin="miter" />
<polygon points="1257.0,692.5 1309.5,675.4 1328.0,724.0 1275.3,741.7" fill="#a85408" stroke="#000" stroke-width="2.5" stroke-linejoin="miter" />
<circle cx="1091" cy="747" r="5" fill="none" stroke="#000" stroke-width="2"/>
<polygon points="805.4,815.0 739.0,867.0 873.0,867.0" fill="#f5ee10" stroke="#000" stroke-width="2.5" stroke-linejoin="miter" />
<text x="804" y="886" font-family="Liberation Sans, sans-serif" font-size="22" font-weight="normal" text-anchor="middle" fill="#000" >Lemonia</text>
<text x="0" y="0" font-family="Liberation Sans, sans-serif" font-size="21" font-weight="normal" text-anchor="start" fill="#000" transform="translate(1036,967) rotate(-16)">whirlpool</text>
<text x="0" y="0" font-family="Liberation Sans, sans-serif" font-size="21" font-weight="normal" text-anchor="start" fill="#000" transform="translate(1046,993) rotate(-16)">3.4*4m</text>
<polygon points="1156.0,784.6 1197.0,768.3 1345.0,1012.4 1250.6,1049.9" fill="url(#tex)" stroke="none" stroke-width="1" stroke-linejoin="miter" />
<polyline points="1156.0,784.6 1250.6,1049.9" fill="none" stroke="#30d8ea" stroke-width="3" stroke-linejoin="round" stroke-linecap="round" />
<path d="M1200,880 l-18,-8 M1200,880 l-20,6 M1200,880 l-12,16 M1200,880 l4,-20 M1200,880 l14,-12 M1200,880 l16,8 M1200,880 l6,18" stroke="#f4f8f4" stroke-width="5" fill="none"/>
<polyline points="1197.0,768.3 1345.0,1012.4" fill="none" stroke="#30d8ea" stroke-width="3" stroke-linejoin="round" stroke-linecap="round" />
<polyline points="1250.0,1050.0 1346.0,1013.0" fill="none" stroke="#2a9a5a" stroke-width="2.5" stroke-linejoin="round" stroke-linecap="round" />
<polyline points="1204.0,920.0 1251.0,1049.0" fill="none" stroke="#2a9a5a" stroke-width="2.5" stroke-linejoin="round" stroke-linecap="round" />
<polygon points="1299.0,652.0 1640.0,527.0 1662.0,606.0 1344.0,724.0" fill="#fff" stroke="none" stroke-width="1" stroke-linejoin="miter" />
<polyline points="1640.0,527.0 1662.0,606.0 1344.0,724.0 1299.0,654.0" fill="none" stroke="#000" stroke-width="3" stroke-linejoin="round" stroke-linecap="round" />
<polygon points="1397.0,618.3 1330.0,670.0 1464.0,670.0" fill="#22e822" stroke="#000" stroke-width="2" stroke-linejoin="miter" />
<text x="1393.5" y="691" font-family="Liberation Sans, sans-serif" font-size="21.5" font-weight="normal" text-anchor="middle" fill="#000" >Pefka</text>
<polyline points="1633.0,527.0 1676.0,611.0 1690.0,609.0" fill="none" stroke="#000" stroke-width="2.5" stroke-linejoin="round" stroke-linecap="round" />
<polygon points="1304.0,743.0 1689.0,608.7 1765.0,808.0 1378.0,956.0" fill="#fff" stroke="none" stroke-width="2.5" stroke-linejoin="miter" />
<radialGradient id="pg1" gradientUnits="userSpaceOnUse" cx="1762" cy="712" r="110.0"><stop offset="0" stop-color="#000000"/><stop offset="0.28" stop-color="#0c1600"/><stop offset="0.58" stop-color="#4a720c"/><stop offset="0.86" stop-color="#94cc20"/><stop offset="1" stop-color="#b4f02a"/></radialGradient>
<path d="M1768.3,709.2 L1767.2,704.9 L1766.0,700.5 L1764.9,696.2 L1763.7,691.9 L1762.5,687.6 L1761.4,683.2 L1760.2,678.9 L1759.1,674.6 L1757.9,670.3 L1756.7,666.0 L1755.6,661.6 L1754.4,657.3 L1752.7,653.2 L1750.9,649.2 L1749.1,645.2 L1747.3,641.1 L1745.5,637.1 L1743.8,633.0 L1742.0,629.0 L1740.2,625.0 L1738.7,622.3 L1737.0,619.8 L1735.0,617.6 L1732.8,615.7 L1730.4,614.3 L1728.0,613.2 L1725.4,612.6 L1722.9,612.4 L1720.5,612.8 L1718.2,613.5 L1718.2,613.5 L1716.0,614.7 L1714.2,616.3 L1712.6,618.3 L1711.4,620.6 L1710.5,623.2 L1710.0,625.9 L1709.9,628.8 L1710.2,631.7 L1710.9,634.7 L1711.9,637.5 L1713.7,641.6 L1715.5,645.6 L1717.3,649.6 L1719.1,653.7 L1720.9,657.7 L1722.7,661.8 L1724.5,665.8 L1726.4,669.8 L1728.9,673.5 L1731.3,677.3 L1733.7,681.0 L1736.2,684.8 L1738.6,688.5 L1741.0,692.3 L1743.5,696.1 L1745.9,699.8 L1748.3,703.6 L1750.8,707.3 L1753.2,711.1 L1755.7,714.8Z M1765.9,706.9 L1763.6,704.4 L1761.3,701.8 L1759.0,699.3 L1756.7,696.8 L1754.5,694.3 L1752.2,691.7 L1749.9,689.2 L1747.6,686.7 L1745.4,684.2 L1743.1,681.7 L1740.8,679.1 L1738.5,676.6 L1735.9,674.5 L1733.3,672.5 L1730.6,670.5 L1727.9,668.5 L1725.3,666.5 L1722.6,664.5 L1719.9,662.5 L1717.3,660.4 L1715.3,659.2 L1713.2,658.3 L1711.0,657.7 L1708.8,657.4 L1706.5,657.5 L1704.3,658.0 L1702.2,658.8 L1700.2,659.9 L1698.5,661.3 L1697.0,663.0 L1697.0,663.0 L1695.8,664.9 L1694.9,667.0 L1694.4,669.1 L1694.2,671.4 L1694.4,673.6 L1694.9,675.9 L1695.7,678.0 L1696.9,679.9 L1698.4,681.7 L1700.1,683.2 L1702.8,685.2 L1705.4,687.2 L1708.1,689.2 L1710.8,691.2 L1713.4,693.3 L1716.1,695.3 L1718.8,697.3 L1721.5,699.2 L1724.6,700.7 L1727.6,702.2 L1730.7,703.7 L1733.7,705.2 L1736.8,706.7 L1739.8,708.2 L1742.9,709.6 L1745.9,711.1 L1749.0,712.6 L1752.0,714.1 L1755.1,715.6 L1758.1,717.1Z M1763.3,705.2 L1759.7,703.8 L1756.0,702.3 L1752.3,700.9 L1748.6,699.5 L1745.0,698.1 L1741.3,696.6 L1737.6,695.2 L1733.9,693.8 L1730.3,692.4 L1726.6,690.9 L1722.9,689.5 L1719.2,688.1 L1715.5,687.2 L1711.6,686.5 L1707.8,685.7 L1704.0,685.0 L1700.2,684.3 L1696.4,683.5 L1692.6,682.8 L1688.8,682.0 L1686.1,681.7 L1683.5,681.8 L1680.9,682.2 L1678.4,683.0 L1676.1,684.2 L1674.1,685.7 L1672.3,687.4 L1670.9,689.4 L1669.8,691.6 L1669.1,693.9 L1669.1,693.9 L1668.9,696.4 L1669.0,698.8 L1669.6,701.2 L1670.6,703.5 L1672.0,705.6 L1673.6,707.6 L1675.6,709.2 L1677.9,710.6 L1680.3,711.7 L1682.9,712.4 L1686.7,713.1 L1690.5,713.8 L1694.3,714.6 L1698.1,715.3 L1701.9,716.1 L1705.8,716.8 L1709.6,717.5 L1713.4,718.1 L1717.3,718.2 L1721.3,718.3 L1725.2,718.3 L1729.2,718.4 L1733.1,718.4 L1737.0,718.5 L1741.0,718.5 L1744.9,718.6 L1748.9,718.7 L1752.8,718.7 L1756.7,718.8 L1760.7,718.8Z M1769.6,714.4 L1771.7,710.7 L1773.7,707.0 L1775.7,703.3 L1777.7,699.5 L1779.7,695.8 L1781.7,692.1 L1783.7,688.4 L1785.8,684.7 L1787.8,681.0 L1789.8,677.3 L1791.8,673.5 L1793.8,669.8 L1795.2,665.9 L1796.5,662.0 L1797.7,658.0 L1799.0,654.0 L1800.2,650.1 L1801.5,646.1 L1802.7,642.2 L1803.9,638.2 L1804.6,635.4 L1804.8,632.6 L1804.6,629.7 L1803.9,627.0 L1802.8,624.4 L1801.4,622.0 L1799.6,619.8 L1797.4,618.0 L1795.0,616.5 L1792.4,615.5 L1792.4,615.5 L1789.7,614.9 L1786.9,614.7 L1784.1,614.9 L1781.4,615.7 L1778.8,616.8 L1776.4,618.3 L1774.3,620.2 L1772.5,622.4 L1771.0,624.8 L1770.0,627.5 L1768.7,631.5 L1767.5,635.4 L1766.2,639.4 L1765.0,643.3 L1763.7,647.3 L1762.5,651.2 L1761.2,655.2 L1760.1,659.2 L1759.6,663.4 L1759.2,667.6 L1758.7,671.8 L1758.2,676.0 L1757.7,680.2 L1757.2,684.4 L1756.8,688.6 L1756.3,692.8 L1755.8,697.0 L1755.3,701.2 L1754.8,705.4 L1754.4,709.6Z M1767.4,718.0 L1771.3,715.5 L1775.1,713.1 L1779.0,710.7 L1782.9,708.3 L1786.8,705.9 L1790.7,703.4 L1794.6,701.0 L1798.5,698.6 L1802.4,696.2 L1806.3,693.8 L1810.1,691.3 L1814.0,688.9 L1817.5,686.0 L1820.8,683.0 L1824.2,680.0 L1827.5,677.0 L1830.9,673.9 L1834.3,670.9 L1837.6,667.9 L1841.0,664.9 L1843.1,662.7 L1844.9,660.1 L1846.3,657.4 L1847.3,654.6 L1847.9,651.6 L1847.9,648.7 L1847.6,645.9 L1846.7,643.1 L1845.4,640.6 L1843.7,638.4 L1843.7,638.4 L1841.7,636.5 L1839.3,635.0 L1836.7,633.8 L1833.9,633.1 L1831.0,632.9 L1828.0,633.1 L1825.1,633.8 L1822.2,635.0 L1819.6,636.5 L1817.1,638.4 L1813.8,641.4 L1810.4,644.4 L1807.1,647.5 L1803.7,650.5 L1800.3,653.5 L1797.0,656.5 L1793.6,659.5 L1790.4,662.7 L1787.6,666.3 L1784.8,669.9 L1782.0,673.5 L1779.1,677.1 L1776.3,680.7 L1773.5,684.4 L1770.7,688.0 L1767.9,691.6 L1765.1,695.2 L1762.3,698.8 L1759.4,702.4 L1756.6,706.0Z M1764.6,718.4 L1768.3,717.7 L1772.1,716.9 L1775.8,716.2 L1779.5,715.4 L1783.3,714.7 L1787.0,713.9 L1790.7,713.1 L1794.5,712.4 L1798.2,711.6 L1801.9,710.9 L1805.7,710.1 L1809.4,709.4 L1812.9,708.1 L1816.4,706.7 L1819.8,705.3 L1823.3,703.9 L1826.8,702.5 L1830.3,701.1 L1833.7,699.7 L1837.2,698.3 L1839.5,697.1 L1841.6,695.7 L1843.5,693.9 L1845.1,691.9 L1846.3,689.7 L1847.1,687.4 L1847.6,685.0 L1847.7,682.5 L1847.4,680.1 L1846.7,677.8 L1846.7,677.8 L1845.6,675.6 L1844.1,673.7 L1842.4,672.0 L1840.3,670.6 L1838.1,669.5 L1835.7,668.8 L1833.2,668.4 L1830.6,668.4 L1828.1,668.8 L1825.6,669.6 L1822.2,671.0 L1818.7,672.4 L1815.2,673.8 L1811.7,675.2 L1808.3,676.6 L1804.8,678.0 L1801.3,679.5 L1797.9,681.0 L1794.7,683.0 L1791.5,685.1 L1788.3,687.1 L1785.1,689.2 L1781.9,691.2 L1778.7,693.3 L1775.4,695.3 L1772.2,697.4 L1769.0,699.4 L1765.8,701.5 L1762.6,703.5 L1759.4,705.6Z M1763.0,719.4 L1767.1,719.6 L1771.2,719.8 L1775.3,720.0 L1779.4,720.1 L1783.4,720.3 L1787.5,720.5 L1791.6,720.7 L1795.7,720.9 L1799.8,721.1 L1803.8,721.3 L1807.9,721.4 L1812.0,721.6 L1816.0,721.2 L1820.0,720.6 L1823.9,720.1 L1827.9,719.5 L1831.9,719.0 L1835.9,718.4 L1839.8,717.9 L1843.8,717.3 L1846.5,716.7 L1849.1,715.7 L1851.5,714.4 L1853.6,712.7 L1855.5,710.7 L1857.0,708.5 L1858.1,706.1 L1858.8,703.6 L1859.1,701.0 L1858.9,698.4 L1858.9,698.4 L1858.4,695.8 L1857.4,693.4 L1856.0,691.2 L1854.3,689.2 L1852.2,687.4 L1849.9,686.1 L1847.4,685.0 L1844.7,684.4 L1841.9,684.2 L1839.2,684.4 L1835.2,684.9 L1831.2,685.5 L1827.3,686.0 L1823.3,686.6 L1819.3,687.2 L1815.3,687.7 L1811.4,688.3 L1807.4,689.0 L1803.5,690.3 L1799.7,691.6 L1795.8,692.9 L1791.9,694.2 L1788.1,695.5 L1784.2,696.8 L1780.3,698.1 L1776.4,699.4 L1772.6,700.7 L1768.7,702.0 L1764.8,703.3 L1761.0,704.6Z M1757.2,717.0 L1759.6,720.2 L1761.9,723.4 L1764.2,726.6 L1766.6,729.7 L1768.9,732.9 L1771.2,736.1 L1773.6,739.3 L1775.9,742.4 L1778.2,745.6 L1780.6,748.8 L1782.9,752.0 L1785.2,755.1 L1787.9,757.9 L1790.8,760.6 L1793.6,763.3 L1796.4,765.9 L1799.2,768.6 L1802.0,771.3 L1804.8,773.9 L1807.6,776.6 L1809.7,778.3 L1812.0,779.7 L1814.4,780.7 L1816.9,781.3 L1819.5,781.6 L1822.0,781.5 L1824.4,780.9 L1826.7,780.0 L1828.8,778.7 L1830.6,777.1 L1830.6,777.1 L1832.1,775.2 L1833.3,773.1 L1834.1,770.8 L1834.5,768.3 L1834.5,765.8 L1834.1,763.2 L1833.3,760.7 L1832.2,758.4 L1830.7,756.2 L1828.9,754.2 L1826.1,751.5 L1823.3,748.9 L1820.5,746.2 L1817.6,743.5 L1814.8,740.8 L1812.0,738.2 L1809.2,735.5 L1806.3,732.9 L1803.0,730.8 L1799.7,728.6 L1796.4,726.4 L1793.1,724.3 L1789.8,722.1 L1786.5,719.9 L1783.2,717.8 L1780.0,715.6 L1776.7,713.5 L1773.4,711.3 L1770.1,709.1 L1766.8,707.0Z M1755.9,715.4 L1757.3,719.3 L1758.6,723.1 L1760.0,727.0 L1761.4,730.9 L1762.7,734.8 L1764.1,738.7 L1765.4,742.6 L1766.8,746.5 L1768.1,750.4 L1769.5,754.2 L1770.9,758.1 L1772.2,762.0 L1774.1,765.6 L1776.0,769.2 L1778.0,772.7 L1780.0,776.3 L1781.9,779.8 L1783.9,783.4 L1785.9,786.9 L1787.8,790.5 L1789.4,792.8 L1791.2,794.9 L1793.2,796.7 L1795.5,798.2 L1797.9,799.3 L1800.4,800.0 L1802.9,800.3 L1805.4,800.1 L1807.8,799.6 L1810.0,798.6 L1810.0,798.6 L1812.0,797.2 L1813.7,795.5 L1815.2,793.5 L1816.3,791.2 L1817.0,788.7 L1817.4,786.1 L1817.3,783.4 L1816.9,780.7 L1816.0,778.0 L1814.9,775.5 L1812.9,772.0 L1810.9,768.4 L1809.0,764.9 L1807.0,761.3 L1805.0,757.8 L1803.1,754.2 L1801.1,750.7 L1799.0,747.2 L1796.4,744.0 L1793.8,740.8 L1791.3,737.5 L1788.7,734.3 L1786.1,731.1 L1783.5,727.9 L1781.0,724.7 L1778.4,721.5 L1775.8,718.3 L1773.2,715.1 L1770.7,711.8 L1768.1,708.6Z M1755.2,713.2 L1755.1,716.7 L1755.0,720.3 L1754.9,723.8 L1754.8,727.4 L1754.7,730.9 L1754.7,734.5 L1754.6,738.0 L1754.5,741.5 L1754.4,745.1 L1754.3,748.6 L1754.2,752.2 L1754.2,755.7 L1754.6,759.1 L1755.2,762.6 L1755.8,766.0 L1756.4,769.4 L1757.0,772.8 L1757.6,776.2 L1758.2,779.7 L1758.9,783.1 L1759.5,785.4 L1760.4,787.6 L1761.7,789.6 L1763.3,791.4 L1765.2,792.9 L1767.3,794.1 L1769.5,795.0 L1771.9,795.5 L1774.3,795.6 L1776.7,795.4 L1776.7,795.4 L1779.1,794.8 L1781.3,793.8 L1783.3,792.6 L1785.1,791.0 L1786.7,789.1 L1787.9,787.1 L1788.8,784.8 L1789.3,782.5 L1789.5,780.1 L1789.3,777.7 L1788.7,774.3 L1788.1,770.9 L1787.5,767.5 L1786.9,764.0 L1786.3,760.6 L1785.7,757.2 L1785.0,753.8 L1784.3,750.4 L1783.0,747.1 L1781.7,743.8 L1780.4,740.5 L1779.2,737.2 L1777.9,733.9 L1776.6,730.6 L1775.3,727.3 L1774.0,724.0 L1772.7,720.7 L1771.4,717.4 L1770.1,714.1 L1768.8,710.8Z M1755.7,707.9 L1753.0,710.7 L1750.3,713.5 L1747.6,716.2 L1745.0,719.0 L1742.3,721.8 L1739.6,724.5 L1736.9,727.3 L1734.2,730.1 L1731.5,732.8 L1728.8,735.6 L1726.1,738.4 L1723.4,741.1 L1721.2,744.2 L1719.2,747.4 L1717.1,750.6 L1715.0,753.8 L1713.0,757.0 L1710.9,760.1 L1708.8,763.3 L1706.8,766.5 L1705.5,768.8 L1704.7,771.2 L1704.2,773.8 L1704.1,776.4 L1704.5,779.0 L1705.2,781.5 L1706.3,783.9 L1707.8,786.0 L1709.6,787.9 L1711.7,789.5 L1711.7,789.5 L1714.0,790.7 L1716.4,791.6 L1719.0,792.1 L1721.6,792.2 L1724.2,791.8 L1726.7,791.1 L1729.0,789.9 L1731.2,788.5 L1733.1,786.7 L1734.7,784.6 L1736.7,781.4 L1738.8,778.2 L1740.9,775.1 L1742.9,771.9 L1745.0,768.7 L1747.1,765.5 L1749.1,762.4 L1751.1,759.1 L1752.5,755.5 L1753.9,751.9 L1755.4,748.3 L1756.8,744.8 L1758.2,741.2 L1759.7,737.6 L1761.1,734.0 L1762.5,730.4 L1764.0,726.8 L1765.4,723.2 L1766.8,719.7 L1768.3,716.1Z M1759.7,705.4 L1756.7,705.7 L1753.7,706.0 L1750.6,706.4 L1747.6,706.7 L1744.5,707.0 L1741.5,707.3 L1738.4,707.6 L1735.4,707.9 L1732.4,708.2 L1729.3,708.5 L1726.3,708.8 L1723.2,709.2 L1720.4,710.0 L1717.6,711.0 L1714.8,711.9 L1711.9,712.9 L1709.1,713.9 L1706.3,714.8 L1703.5,715.8 L1700.7,716.8 L1698.8,717.6 L1697.1,718.8 L1695.6,720.3 L1694.4,722.1 L1693.4,724.1 L1692.8,726.2 L1692.4,728.5 L1692.4,730.9 L1692.7,733.3 L1693.4,735.6 L1693.4,735.6 L1694.3,737.9 L1695.5,739.9 L1697.0,741.8 L1698.7,743.4 L1700.5,744.7 L1702.5,745.7 L1704.6,746.3 L1706.7,746.6 L1708.7,746.5 L1710.7,746.0 L1713.6,745.0 L1716.4,744.0 L1719.2,743.1 L1722.0,742.1 L1724.8,741.1 L1727.6,740.2 L1730.4,739.2 L1733.2,738.1 L1735.8,736.5 L1738.4,734.8 L1741.0,733.2 L1743.6,731.6 L1746.1,730.0 L1748.7,728.3 L1751.3,726.7 L1753.9,725.1 L1756.5,723.5 L1759.1,721.8 L1761.7,720.2 L1764.3,718.6Z M1724.6,712.0 A37.4,37.4 0 1 0 1799.4,712.0 A37.4,37.4 0 1 0 1724.6,712.0Z" fill="#5a5a5a" stroke="#5a5a5a" stroke-width="5" stroke-linejoin="round"/>
<path d="M1768.3,709.2 L1767.2,704.9 L1766.0,700.5 L1764.9,696.2 L1763.7,691.9 L1762.5,687.6 L1761.4,683.2 L1760.2,678.9 L1759.1,674.6 L1757.9,670.3 L1756.7,666.0 L1755.6,661.6 L1754.4,657.3 L1752.7,653.2 L1750.9,649.2 L1749.1,645.2 L1747.3,641.1 L1745.5,637.1 L1743.8,633.0 L1742.0,629.0 L1740.2,625.0 L1738.7,622.3 L1737.0,619.8 L1735.0,617.6 L1732.8,615.7 L1730.4,614.3 L1728.0,613.2 L1725.4,612.6 L1722.9,612.4 L1720.5,612.8 L1718.2,613.5 L1718.2,613.5 L1716.0,614.7 L1714.2,616.3 L1712.6,618.3 L1711.4,620.6 L1710.5,623.2 L1710.0,625.9 L1709.9,628.8 L1710.2,631.7 L1710.9,634.7 L1711.9,637.5 L1713.7,641.6 L1715.5,645.6 L1717.3,649.6 L1719.1,653.7 L1720.9,657.7 L1722.7,661.8 L1724.5,665.8 L1726.4,669.8 L1728.9,673.5 L1731.3,677.3 L1733.7,681.0 L1736.2,684.8 L1738.6,688.5 L1741.0,692.3 L1743.5,696.1 L1745.9,699.8 L1748.3,703.6 L1750.8,707.3 L1753.2,711.1 L1755.7,714.8Z M1765.9,706.9 L1763.6,704.4 L1761.3,701.8 L1759.0,699.3 L1756.7,696.8 L1754.5,694.3 L1752.2,691.7 L1749.9,689.2 L1747.6,686.7 L1745.4,684.2 L1743.1,681.7 L1740.8,679.1 L1738.5,676.6 L1735.9,674.5 L1733.3,672.5 L1730.6,670.5 L1727.9,668.5 L1725.3,666.5 L1722.6,664.5 L1719.9,662.5 L1717.3,660.4 L1715.3,659.2 L1713.2,658.3 L1711.0,657.7 L1708.8,657.4 L1706.5,657.5 L1704.3,658.0 L1702.2,658.8 L1700.2,659.9 L1698.5,661.3 L1697.0,663.0 L1697.0,663.0 L1695.8,664.9 L1694.9,667.0 L1694.4,669.1 L1694.2,671.4 L1694.4,673.6 L1694.9,675.9 L1695.7,678.0 L1696.9,679.9 L1698.4,681.7 L1700.1,683.2 L1702.8,685.2 L1705.4,687.2 L1708.1,689.2 L1710.8,691.2 L1713.4,693.3 L1716.1,695.3 L1718.8,697.3 L1721.5,699.2 L1724.6,700.7 L1727.6,702.2 L1730.7,703.7 L1733.7,705.2 L1736.8,706.7 L1739.8,708.2 L1742.9,709.6 L1745.9,711.1 L1749.0,712.6 L1752.0,714.1 L1755.1,715.6 L1758.1,717.1Z M1763.3,705.2 L1759.7,703.8 L1756.0,702.3 L1752.3,700.9 L1748.6,699.5 L1745.0,698.1 L1741.3,696.6 L1737.6,695.2 L1733.9,693.8 L1730.3,692.4 L1726.6,690.9 L1722.9,689.5 L1719.2,688.1 L1715.5,687.2 L1711.6,686.5 L1707.8,685.7 L1704.0,685.0 L1700.2,684.3 L1696.4,683.5 L1692.6,682.8 L1688.8,682.0 L1686.1,681.7 L1683.5,681.8 L1680.9,682.2 L1678.4,683.0 L1676.1,684.2 L1674.1,685.7 L1672.3,687.4 L1670.9,689.4 L1669.8,691.6 L1669.1,693.9 L1669.1,693.9 L1668.9,696.4 L1669.0,698.8 L1669.6,701.2 L1670.6,703.5 L1672.0,705.6 L1673.6,707.6 L1675.6,709.2 L1677.9,710.6 L1680.3,711.7 L1682.9,712.4 L1686.7,713.1 L1690.5,713.8 L1694.3,714.6 L1698.1,715.3 L1701.9,716.1 L1705.8,716.8 L1709.6,717.5 L1713.4,718.1 L1717.3,718.2 L1721.3,718.3 L1725.2,718.3 L1729.2,718.4 L1733.1,718.4 L1737.0,718.5 L1741.0,718.5 L1744.9,718.6 L1748.9,718.7 L1752.8,718.7 L1756.7,718.8 L1760.7,718.8Z M1769.6,714.4 L1771.7,710.7 L1773.7,707.0 L1775.7,703.3 L1777.7,699.5 L1779.7,695.8 L1781.7,692.1 L1783.7,688.4 L1785.8,684.7 L1787.8,681.0 L1789.8,677.3 L1791.8,673.5 L1793.8,669.8 L1795.2,665.9 L1796.5,662.0 L1797.7,658.0 L1799.0,654.0 L1800.2,650.1 L1801.5,646.1 L1802.7,642.2 L1803.9,638.2 L1804.6,635.4 L1804.8,632.6 L1804.6,629.7 L1803.9,627.0 L1802.8,624.4 L1801.4,622.0 L1799.6,619.8 L1797.4,618.0 L1795.0,616.5 L1792.4,615.5 L1792.4,615.5 L1789.7,614.9 L1786.9,614.7 L1784.1,614.9 L1781.4,615.7 L1778.8,616.8 L1776.4,618.3 L1774.3,620.2 L1772.5,622.4 L1771.0,624.8 L1770.0,627.5 L1768.7,631.5 L1767.5,635.4 L1766.2,639.4 L1765.0,643.3 L1763.7,647.3 L1762.5,651.2 L1761.2,655.2 L1760.1,659.2 L1759.6,663.4 L1759.2,667.6 L1758.7,671.8 L1758.2,676.0 L1757.7,680.2 L1757.2,684.4 L1756.8,688.6 L1756.3,692.8 L1755.8,697.0 L1755.3,701.2 L1754.8,705.4 L1754.4,709.6Z M1767.4,718.0 L1771.3,715.5 L1775.1,713.1 L1779.0,710.7 L1782.9,708.3 L1786.8,705.9 L1790.7,703.4 L1794.6,701.0 L1798.5,698.6 L1802.4,696.2 L1806.3,693.8 L1810.1,691.3 L1814.0,688.9 L1817.5,686.0 L1820.8,683.0 L1824.2,680.0 L1827.5,677.0 L1830.9,673.9 L1834.3,670.9 L1837.6,667.9 L1841.0,664.9 L1843.1,662.7 L1844.9,660.1 L1846.3,657.4 L1847.3,654.6 L1847.9,651.6 L1847.9,648.7 L1847.6,645.9 L1846.7,643.1 L1845.4,640.6 L1843.7,638.4 L1843.7,638.4 L1841.7,636.5 L1839.3,635.0 L1836.7,633.8 L1833.9,633.1 L1831.0,632.9 L1828.0,633.1 L1825.1,633.8 L1822.2,635.0 L1819.6,636.5 L1817.1,638.4 L1813.8,641.4 L1810.4,644.4 L1807.1,647.5 L1803.7,650.5 L1800.3,653.5 L1797.0,656.5 L1793.6,659.5 L1790.4,662.7 L1787.6,666.3 L1784.8,669.9 L1782.0,673.5 L1779.1,677.1 L1776.3,680.7 L1773.5,684.4 L1770.7,688.0 L1767.9,691.6 L1765.1,695.2 L1762.3,698.8 L1759.4,702.4 L1756.6,706.0Z M1764.6,718.4 L1768.3,717.7 L1772.1,716.9 L1775.8,716.2 L1779.5,715.4 L1783.3,714.7 L1787.0,713.9 L1790.7,713.1 L1794.5,712.4 L1798.2,711.6 L1801.9,710.9 L1805.7,710.1 L1809.4,709.4 L1812.9,708.1 L1816.4,706.7 L1819.8,705.3 L1823.3,703.9 L1826.8,702.5 L1830.3,701.1 L1833.7,699.7 L1837.2,698.3 L1839.5,697.1 L1841.6,695.7 L1843.5,693.9 L1845.1,691.9 L1846.3,689.7 L1847.1,687.4 L1847.6,685.0 L1847.7,682.5 L1847.4,680.1 L1846.7,677.8 L1846.7,677.8 L1845.6,675.6 L1844.1,673.7 L1842.4,672.0 L1840.3,670.6 L1838.1,669.5 L1835.7,668.8 L1833.2,668.4 L1830.6,668.4 L1828.1,668.8 L1825.6,669.6 L1822.2,671.0 L1818.7,672.4 L1815.2,673.8 L1811.7,675.2 L1808.3,676.6 L1804.8,678.0 L1801.3,679.5 L1797.9,681.0 L1794.7,683.0 L1791.5,685.1 L1788.3,687.1 L1785.1,689.2 L1781.9,691.2 L1778.7,693.3 L1775.4,695.3 L1772.2,697.4 L1769.0,699.4 L1765.8,701.5 L1762.6,703.5 L1759.4,705.6Z M1763.0,719.4 L1767.1,719.6 L1771.2,719.8 L1775.3,720.0 L1779.4,720.1 L1783.4,720.3 L1787.5,720.5 L1791.6,720.7 L1795.7,720.9 L1799.8,721.1 L1803.8,721.3 L1807.9,721.4 L1812.0,721.6 L1816.0,721.2 L1820.0,720.6 L1823.9,720.1 L1827.9,719.5 L1831.9,719.0 L1835.9,718.4 L1839.8,717.9 L1843.8,717.3 L1846.5,716.7 L1849.1,715.7 L1851.5,714.4 L1853.6,712.7 L1855.5,710.7 L1857.0,708.5 L1858.1,706.1 L1858.8,703.6 L1859.1,701.0 L1858.9,698.4 L1858.9,698.4 L1858.4,695.8 L1857.4,693.4 L1856.0,691.2 L1854.3,689.2 L1852.2,687.4 L1849.9,686.1 L1847.4,685.0 L1844.7,684.4 L1841.9,684.2 L1839.2,684.4 L1835.2,684.9 L1831.2,685.5 L1827.3,686.0 L1823.3,686.6 L1819.3,687.2 L1815.3,687.7 L1811.4,688.3 L1807.4,689.0 L1803.5,690.3 L1799.7,691.6 L1795.8,692.9 L1791.9,694.2 L1788.1,695.5 L1784.2,696.8 L1780.3,698.1 L1776.4,699.4 L1772.6,700.7 L1768.7,702.0 L1764.8,703.3 L1761.0,704.6Z M1757.2,717.0 L1759.6,720.2 L1761.9,723.4 L1764.2,726.6 L1766.6,729.7 L1768.9,732.9 L1771.2,736.1 L1773.6,739.3 L1775.9,742.4 L1778.2,745.6 L1780.6,748.8 L1782.9,752.0 L1785.2,755.1 L1787.9,757.9 L1790.8,760.6 L1793.6,763.3 L1796.4,765.9 L1799.2,768.6 L1802.0,771.3 L1804.8,773.9 L1807.6,776.6 L1809.7,778.3 L1812.0,779.7 L1814.4,780.7 L1816.9,781.3 L1819.5,781.6 L1822.0,781.5 L1824.4,780.9 L1826.7,780.0 L1828.8,778.7 L1830.6,777.1 L1830.6,777.1 L1832.1,775.2 L1833.3,773.1 L1834.1,770.8 L1834.5,768.3 L1834.5,765.8 L1834.1,763.2 L1833.3,760.7 L1832.2,758.4 L1830.7,756.2 L1828.9,754.2 L1826.1,751.5 L1823.3,748.9 L1820.5,746.2 L1817.6,743.5 L1814.8,740.8 L1812.0,738.2 L1809.2,735.5 L1806.3,732.9 L1803.0,730.8 L1799.7,728.6 L1796.4,726.4 L1793.1,724.3 L1789.8,722.1 L1786.5,719.9 L1783.2,717.8 L1780.0,715.6 L1776.7,713.5 L1773.4,711.3 L1770.1,709.1 L1766.8,707.0Z M1755.9,715.4 L1757.3,719.3 L1758.6,723.1 L1760.0,727.0 L1761.4,730.9 L1762.7,734.8 L1764.1,738.7 L1765.4,742.6 L1766.8,746.5 L1768.1,750.4 L1769.5,754.2 L1770.9,758.1 L1772.2,762.0 L1774.1,765.6 L1776.0,769.2 L1778.0,772.7 L1780.0,776.3 L1781.9,779.8 L1783.9,783.4 L1785.9,786.9 L1787.8,790.5 L1789.4,792.8 L1791.2,794.9 L1793.2,796.7 L1795.5,798.2 L1797.9,799.3 L1800.4,800.0 L1802.9,800.3 L1805.4,800.1 L1807.8,799.6 L1810.0,798.6 L1810.0,798.6 L1812.0,797.2 L1813.7,795.5 L1815.2,793.5 L1816.3,791.2 L1817.0,788.7 L1817.4,786.1 L1817.3,783.4 L1816.9,780.7 L1816.0,778.0 L1814.9,775.5 L1812.9,772.0 L1810.9,768.4 L1809.0,764.9 L1807.0,761.3 L1805.0,757.8 L1803.1,754.2 L1801.1,750.7 L1799.0,747.2 L1796.4,744.0 L1793.8,740.8 L1791.3,737.5 L1788.7,734.3 L1786.1,731.1 L1783.5,727.9 L1781.0,724.7 L1778.4,721.5 L1775.8,718.3 L1773.2,715.1 L1770.7,711.8 L1768.1,708.6Z M1755.2,713.2 L1755.1,716.7 L1755.0,720.3 L1754.9,723.8 L1754.8,727.4 L1754.7,730.9 L1754.7,734.5 L1754.6,738.0 L1754.5,741.5 L1754.4,745.1 L1754.3,748.6 L1754.2,752.2 L1754.2,755.7 L1754.6,759.1 L1755.2,762.6 L1755.8,766.0 L1756.4,769.4 L1757.0,772.8 L1757.6,776.2 L1758.2,779.7 L1758.9,783.1 L1759.5,785.4 L1760.4,787.6 L1761.7,789.6 L1763.3,791.4 L1765.2,792.9 L1767.3,794.1 L1769.5,795.0 L1771.9,795.5 L1774.3,795.6 L1776.7,795.4 L1776.7,795.4 L1779.1,794.8 L1781.3,793.8 L1783.3,792.6 L1785.1,791.0 L1786.7,789.1 L1787.9,787.1 L1788.8,784.8 L1789.3,782.5 L1789.5,780.1 L1789.3,777.7 L1788.7,774.3 L1788.1,770.9 L1787.5,767.5 L1786.9,764.0 L1786.3,760.6 L1785.7,757.2 L1785.0,753.8 L1784.3,750.4 L1783.0,747.1 L1781.7,743.8 L1780.4,740.5 L1779.2,737.2 L1777.9,733.9 L1776.6,730.6 L1775.3,727.3 L1774.0,724.0 L1772.7,720.7 L1771.4,717.4 L1770.1,714.1 L1768.8,710.8Z M1755.7,707.9 L1753.0,710.7 L1750.3,713.5 L1747.6,716.2 L1745.0,719.0 L1742.3,721.8 L1739.6,724.5 L1736.9,727.3 L1734.2,730.1 L1731.5,732.8 L1728.8,735.6 L1726.1,738.4 L1723.4,741.1 L1721.2,744.2 L1719.2,747.4 L1717.1,750.6 L1715.0,753.8 L1713.0,757.0 L1710.9,760.1 L1708.8,763.3 L1706.8,766.5 L1705.5,768.8 L1704.7,771.2 L1704.2,773.8 L1704.1,776.4 L1704.5,779.0 L1705.2,781.5 L1706.3,783.9 L1707.8,786.0 L1709.6,787.9 L1711.7,789.5 L1711.7,789.5 L1714.0,790.7 L1716.4,791.6 L1719.0,792.1 L1721.6,792.2 L1724.2,791.8 L1726.7,791.1 L1729.0,789.9 L1731.2,788.5 L1733.1,786.7 L1734.7,784.6 L1736.7,781.4 L1738.8,778.2 L1740.9,775.1 L1742.9,771.9 L1745.0,768.7 L1747.1,765.5 L1749.1,762.4 L1751.1,759.1 L1752.5,755.5 L1753.9,751.9 L1755.4,748.3 L1756.8,744.8 L1758.2,741.2 L1759.7,737.6 L1761.1,734.0 L1762.5,730.4 L1764.0,726.8 L1765.4,723.2 L1766.8,719.7 L1768.3,716.1Z M1759.7,705.4 L1756.7,705.7 L1753.7,706.0 L1750.6,706.4 L1747.6,706.7 L1744.5,707.0 L1741.5,707.3 L1738.4,707.6 L1735.4,707.9 L1732.4,708.2 L1729.3,708.5 L1726.3,708.8 L1723.2,709.2 L1720.4,710.0 L1717.6,711.0 L1714.8,711.9 L1711.9,712.9 L1709.1,713.9 L1706.3,714.8 L1703.5,715.8 L1700.7,716.8 L1698.8,717.6 L1697.1,718.8 L1695.6,720.3 L1694.4,722.1 L1693.4,724.1 L1692.8,726.2 L1692.4,728.5 L1692.4,730.9 L1692.7,733.3 L1693.4,735.6 L1693.4,735.6 L1694.3,737.9 L1695.5,739.9 L1697.0,741.8 L1698.7,743.4 L1700.5,744.7 L1702.5,745.7 L1704.6,746.3 L1706.7,746.6 L1708.7,746.5 L1710.7,746.0 L1713.6,745.0 L1716.4,744.0 L1719.2,743.1 L1722.0,742.1 L1724.8,741.1 L1727.6,740.2 L1730.4,739.2 L1733.2,738.1 L1735.8,736.5 L1738.4,734.8 L1741.0,733.2 L1743.6,731.6 L1746.1,730.0 L1748.7,728.3 L1751.3,726.7 L1753.9,725.1 L1756.5,723.5 L1759.1,721.8 L1761.7,720.2 L1764.3,718.6Z" fill="url(#pg1)"/><circle cx="1762" cy="712" r="40.7" fill="url(#pg1)"/>
<path d="M1750.7,648.6 L1742.1,650.2 M1716.3,647.4 L1723.3,642.1 M1739.2,623.0 L1730.6,624.7 M1709.9,629.0 L1716.8,623.7 M1732.9,672.2 L1726.6,677.3 M1706.6,688.1 L1709.7,680.6 M1715.9,659.5 L1709.6,664.6 M1695.8,678.1 L1698.9,670.6 M1711.1,686.4 L1707.5,694.3 M1692.2,714.2 L1691.9,705.4 M1686.9,681.8 L1683.3,689.7 M1675.8,709.3 L1675.4,700.6 M1796.6,661.4 L1787.9,656.5 M1766.9,637.1 L1776.9,638.2 M1804.5,636.3 L1795.7,631.4 M1774.2,620.3 L1784.1,621.4 M1821.3,682.6 L1816.3,673.9 M1808.9,645.8 L1817.0,651.7 M1842.5,663.3 L1837.4,654.7 M1824.9,633.9 L1832.9,639.8 M1816.9,706.5 L1815.6,697.9 M1817.2,673.1 L1822.2,680.2 M1838.9,697.5 L1837.5,688.9 M1833.0,668.4 L1838.0,675.5 M1820.5,720.6 L1821.3,711.2 M1829.5,685.7 L1832.7,694.5 M1845.7,716.9 L1846.4,707.6 M1847.2,685.0 L1850.4,693.8 M1791.2,761.0 L1798.5,756.2 M1822.0,747.7 L1817.6,755.2 M1809.1,777.8 L1816.4,773.0 M1833.3,760.6 L1828.9,768.1 M1776.3,769.7 L1784.7,767.3 M1810.1,766.9 L1803.6,772.7 M1788.9,792.2 L1797.3,789.8 M1817.3,783.2 L1810.8,789.1 M1755.3,763.1 L1764.0,763.6 M1787.8,769.4 L1779.8,772.8 M1759.2,784.7 L1768.0,785.2 M1788.9,784.7 L1780.8,788.1 M1718.9,747.9 L1725.4,754.5 M1739.7,776.9 L1731.0,773.5 M1705.9,768.1 L1712.4,774.8 M1729.2,789.9 L1720.4,786.6 M1717.2,711.1 L1718.0,719.8 M1717.6,743.6 L1712.9,736.2 M1699.3,717.3 L1700.2,726.0 M1704.7,746.4 L1700.1,739.0" stroke="#5a5a5a" stroke-width="3" fill="none"/>
<polygon points="1318.0,745.4 1674.8,612.8 1748.6,805.6 1386.3,935.5" fill="#fff" stroke="#000" stroke-width="5" stroke-linejoin="miter" />
<polygon points="1304.0,743.0 1689.0,608.7 1765.0,808.0 1378.0,956.0" fill="none" stroke="#000" stroke-width="2.5" stroke-linejoin="miter" />
<polygon points="1311.0,749.5 1680.0,618.0 1757.0,806.0 1383.0,945.0" fill="none" stroke="#000" stroke-width="2.5" stroke-linejoin="miter" />
<polygon points="1330.2,752.3 1672.0,627.9 1733.6,798.8 1391.8,923.2" fill="url(#hb)" stroke="#000" stroke-width="4" stroke-linejoin="miter" />
<rect x="-16" y="-16" width="32" height="32" rx="5" fill="none" stroke="#000" stroke-width="2" transform="translate(1377,775) rotate(-22)"/>
<path d="M1383,736 L1409,770 Q1420,790 1396,795 L1352,806" fill="none" stroke="#000" stroke-width="2"/>
<path d="M1399,731 L1429,772 Q1442,808 1412,818 L1358,838" fill="none" stroke="#000" stroke-width="2"/>
<text x="1453" y="773" font-family="Liberation Sans, sans-serif" font-size="40" font-weight="bold" text-anchor="start" fill="#000" textLength="250" lengthAdjust="spacingAndGlyphs">Infinity pool</text>
<text x="1452" y="826" font-family="Liberation Sans, sans-serif" font-size="40" font-weight="bold" text-anchor="start" fill="#000" textLength="112" lengthAdjust="spacingAndGlyphs">38m2</text>
<text x="0" y="0" font-family="Liberation Sans, sans-serif" font-size="7" font-weight="normal" text-anchor="start" fill="#000" transform="translate(1397,937) rotate(-5)">Pool</text>
<circle cx="1691" cy="721" r="12" fill="#8aa860" fill-opacity="0.75" stroke="#3a4aa8" stroke-width="3" stroke-opacity="0.8"/>
<polyline points="1765.0,811.0 1789.0,804.0" fill="none" stroke="#000" stroke-width="2.5" stroke-linejoin="round" stroke-linecap="round" />
<polyline points="1784.0,855.0 1790.0,853.0" fill="none" stroke="#000" stroke-width="2.5" stroke-linejoin="round" stroke-linecap="round" />
<polyline points="1346.0,1013.0 1785.0,855.0 1793.0,969.0 1783.0,969.0 1783.0,989.0 1796.0,989.0" fill="none" stroke="#2a8a5a" stroke-width="2.5" stroke-linejoin="round" stroke-linecap="round" />
<polyline points="1080.0,1160.0 1380.0,1289.4 1395.6,1297.0 1407.0,1272.4 1492.0,1309.0 1533.6,1303.7 1549.0,1286.8 1655.0,1226.0 1750.0,1158.0" fill="none" stroke="#2a8a5a" stroke-width="2.5" stroke-linejoin="round" stroke-linecap="round" />
<polyline points="1384.0,941.0 1322.0,983.0" fill="none" stroke="#a85408" stroke-width="6.5" stroke-linejoin="round" stroke-linecap="round" />
<polyline points="1244.0,1041.0 1197.0,1080.0" fill="none" stroke="#a85408" stroke-width="6.5" stroke-linejoin="round" stroke-linecap="round" />
<polyline points="1174.0,1098.0 1137.0,1119.0" fill="none" stroke="#a85408" stroke-width="6.5" stroke-linejoin="round" stroke-linecap="round" />
<polyline points="1086.0,1156.0 1076.0,1164.0" fill="none" stroke="#a85408" stroke-width="6.5" stroke-linejoin="round" stroke-linecap="round" />
<rect x="-10" y="-6" width="20" height="12" fill="#a85408" transform="translate(1222,1061) rotate(-37)"/>
<rect x="-9" y="-6.5" width="18" height="13" fill="#a85408" transform="translate(1146,1114) rotate(-35)"/>
<polyline points="656.0,1071.0 649.6,1077.0 679.0,1154.0" fill="none" stroke="#a8b0b0" stroke-width="3.5" stroke-linejoin="round" stroke-linecap="round" />
<polyline points="679.0,1154.0 720.0,1277.5 806.5,1251.5" fill="none" stroke="#1a1a7a" stroke-width="3" stroke-linejoin="round" stroke-linecap="round" />
<path d="M703,1154 L722.0,1154.0" stroke="#3aaa3a" stroke-width="1"/>
<path d="M703,1154 L720.6,1161.3" stroke="#3aaa3a" stroke-width="1"/>
<path d="M703,1154 L716.4,1167.4" stroke="#3aaa3a" stroke-width="1"/>
<path d="M703,1154 L710.3,1171.6" stroke="#3aaa3a" stroke-width="1"/>
<path d="M703,1154 L703.0,1173.0" stroke="#3aaa3a" stroke-width="1"/>
<path d="M703,1154 L695.7,1171.6" stroke="#3aaa3a" stroke-width="1"/>
<path d="M703,1154 L689.6,1167.4" stroke="#3aaa3a" stroke-width="1"/>
<path d="M703,1154 L685.4,1161.3" stroke="#3aaa3a" stroke-width="1"/>
<path d="M703,1154 L684.0,1154.0" stroke="#3aaa3a" stroke-width="1"/>
<path d="M703,1154 L685.4,1146.7" stroke="#3aaa3a" stroke-width="1"/>
<path d="M703,1154 L689.6,1140.6" stroke="#3aaa3a" stroke-width="1"/>
<path d="M703,1154 L695.7,1136.4" stroke="#3aaa3a" stroke-width="1"/>
<path d="M703,1154 L703.0,1135.0" stroke="#3aaa3a" stroke-width="1"/>
<path d="M703,1154 L710.3,1136.4" stroke="#3aaa3a" stroke-width="1"/>
<path d="M703,1154 L716.4,1140.6" stroke="#3aaa3a" stroke-width="1"/>
<path d="M703,1154 L720.6,1146.7" stroke="#3aaa3a" stroke-width="1"/>
<circle cx="703" cy="1154" r="18" fill="none" stroke="#3aaa3a" stroke-width="1" stroke-dasharray="3 2"/>
<polyline points="805.0,1250.0 960.0,1203.0 1076.0,1168.0 1526.0,1370.0 1578.0,1318.0 1761.0,1169.0 1820.0,1080.0 1805.0,981.0" fill="none" stroke="#4a9ae0" stroke-width="4.5" stroke-linejoin="round" stroke-linecap="round" />
<polygon points="714.5,1257.6 801.0,1232.7 806.8,1250.3 720.0,1276.0" fill="#fff" stroke="#b8a888" stroke-width="2" stroke-linejoin="miter" />
<polyline points="805.0,1241.0 860.0,1225.0" fill="none" stroke="#000" stroke-width="2.5" stroke-linejoin="round" stroke-linecap="round" />
<polyline points="801.0,1233.0 1079.0,1158.0" fill="none" stroke="#b8a888" stroke-width="2.5" stroke-linejoin="round" stroke-linecap="round" />
<polyline points="860.0,1213.0 1032.0,1162.0" fill="none" stroke="#30e0e8" stroke-width="12" stroke-linejoin="round" stroke-linecap="round" stroke-linecap="butt"/>
<polyline points="861.0,1213.0 1031.0,1162.0" fill="none" stroke="#1a7a3a" stroke-width="6" stroke-linejoin="round" stroke-linecap="round" stroke-linecap="butt"/>
<polyline points="753.7,1130.3 849.7,1223.0" fill="none" stroke="#000" stroke-width="6.5" stroke-linejoin="round" stroke-linecap="round" />
<polyline points="682.0,1058.0 731.7,1105.0" fill="none" stroke="#000" stroke-width="3" stroke-linejoin="round" stroke-linecap="round" />
<polyline points="740.6,1114.0 748.0,1121.4" fill="none" stroke="#000" stroke-width="3" stroke-linejoin="round" stroke-linecap="round" />
<polyline points="679.0,1151.0 723.0,1134.5" fill="none" stroke="#000" stroke-width="6" stroke-linejoin="round" stroke-linecap="round" />
<polyline points="657.7,1074.0 682.0,1147.4" fill="none" stroke="#000" stroke-width="2.5" stroke-linejoin="round" stroke-linecap="round" />
<g transform="translate(791,1018) rotate(14.6)" fill="none" stroke-linejoin="round"><path d="M-26.0,-85.0 Q-22.0,-93.0 0,-93.0 Q22.0,-93.0 26.0,-85.0 Q32.0,-71.0 32.0,-53.0 L30.0,79.0 Q29.0,93.0 16.0,93.0 L-18.0,93.0 Q-30.0,93.0 -30.0,79.0 L-32.0,-53.0 Q-32.0,-71.0 -26.0,-85.0Z" stroke="#40e2ea" stroke-width="3.5"/><path d="M-22.0,-82.0 Q-19.0,-88.0 0,-88.0 Q19.0,-88.0 22.0,-82.0 Q27.0,-69.0 27.0,-53.0 L25.0,78.0 Q24.0,88.0 14.0,88.0 L-16.0,88.0 Q-25.0,88.0 -25.0,78.0 L-27.0,-53.0 Q-27.0,-69.0 -22.0,-82.0Z" stroke="#70d4d8" stroke-width="1.2"/><path d="M-24.0,-38.0 Q0,-49.0 24.0,-35.0 M-23.0,-11.0 Q0,-19.0 23.0,-7.0 M-20.0,43.0 Q0,49.0 18.0,47.0 M-22.0,67.0 Q0,75.0 22.0,71.0" stroke="#60d8dc" stroke-width="2"/><path d="M-20.0,-83.0 Q-23.0,-33.0 -23.0,63.0 M18.0,-81.0 Q23.0,-33.0 21.0,63.0" stroke="#80d8dc" stroke-width="1.2"/><path d="M-33.0,-29.0 L-37.0,-25.0 L-31.0,-23.0 M33.0,-13.0 L37.0,-7.0 L31.0,-5.0" stroke="#40e2ea" stroke-width="3"/></g>
<g transform="translate(925,1128.5) rotate(-109)" fill="none" stroke-linejoin="round"><path d="M-26.0,-85.0 Q-22.0,-93.0 0,-93.0 Q22.0,-93.0 26.0,-85.0 Q32.0,-71.0 32.0,-53.0 L30.0,79.0 Q29.0,93.0 16.0,93.0 L-18.0,93.0 Q-30.0,93.0 -30.0,79.0 L-32.0,-53.0 Q-32.0,-71.0 -26.0,-85.0Z" stroke="#40e2ea" stroke-width="3.5"/><path d="M-22.0,-82.0 Q-19.0,-88.0 0,-88.0 Q19.0,-88.0 22.0,-82.0 Q27.0,-69.0 27.0,-53.0 L25.0,78.0 Q24.0,88.0 14.0,88.0 L-16.0,88.0 Q-25.0,88.0 -25.0,78.0 L-27.0,-53.0 Q-27.0,-69.0 -22.0,-82.0Z" stroke="#70d4d8" stroke-width="1.2"/><path d="M-24.0,-38.0 Q0,-49.0 24.0,-35.0 M-23.0,-11.0 Q0,-19.0 23.0,-7.0 M-20.0,43.0 Q0,49.0 18.0,47.0 M-22.0,67.0 Q0,75.0 22.0,71.0" stroke="#60d8dc" stroke-width="2"/><path d="M-20.0,-83.0 Q-23.0,-33.0 -23.0,63.0 M18.0,-81.0 Q23.0,-33.0 21.0,63.0" stroke="#80d8dc" stroke-width="1.2"/><path d="M-33.0,-29.0 L-37.0,-25.0 L-31.0,-23.0 M33.0,-13.0 L37.0,-7.0 L31.0,-5.0" stroke="#40e2ea" stroke-width="3"/></g>
<polyline points="1453.0,1188.0 1441.0,1222.0 1509.0,1250.0 1518.0,1227.0" fill="none" stroke="#30d8ea" stroke-width="3" stroke-linejoin="round" stroke-linecap="round" />
<rect x="-9" y="-4.5" width="18" height="9" fill="#a89a70" stroke="#30d8ea" stroke-width="3" transform="translate(1444,1205) rotate(70)"/>
<rect x="-9" y="-4.5" width="18" height="9" fill="#a89a70" stroke="#30d8ea" stroke-width="3" transform="translate(1461,1237) rotate(22)"/>
<rect x="-9" y="-4.5" width="18" height="9" fill="#a89a70" stroke="#30d8ea" stroke-width="3" transform="translate(1484,1247) rotate(22)"/>
<rect x="-9" y="-4.5" width="18" height="9" fill="#a89a70" stroke="#30d8ea" stroke-width="3" transform="translate(1519,1237) rotate(70)"/>
<polygon points="1414.5,1268.5 1494.6,1305.0 1537.5,1302.4 1555.0,1322.0 1526.5,1349.3 1403.4,1293.3" fill="none" stroke="#000" stroke-width="3" stroke-linejoin="miter" />
<polyline points="1453.0,1288.0 1443.8,1311.5" fill="none" stroke="#000" stroke-width="3" stroke-linejoin="round" stroke-linecap="round" />
<polyline points="1494.6,1305.0 1485.5,1328.4" fill="none" stroke="#000" stroke-width="3" stroke-linejoin="round" stroke-linecap="round" />
<polyline points="1537.5,1302.4 1600.0,1243.8 1618.0,1260.7" fill="none" stroke="#000" stroke-width="3" stroke-linejoin="round" stroke-linecap="round" />
<polyline points="1526.5,1349.3 1618.0,1260.7" fill="none" stroke="#000" stroke-width="1.5" stroke-linejoin="round" stroke-linecap="round" />
<polyline points="1570.0,1272.4 1587.0,1292.0" fill="none" stroke="#000" stroke-width="3" stroke-linejoin="round" stroke-linecap="round" />
<text x="0" y="0" font-family="Liberation Sans, sans-serif" font-size="26" font-weight="bold" text-anchor="middle" fill="#000" transform="translate(1519,1331) rotate(-12)">BBQ</text>
<path d="M1266.4,307.0 L1264.8,308.9 L1262.3,310.6 L1265.0,312.7 L1265.7,314.8 L1263.7,316.4 L1262.3,318.0 L1263.1,320.2 L1266.1,323.1 L1262.5,324.0 L1257.7,324.2 L1261.0,327.5 L1260.8,329.5 L1260.0,331.3 L1257.0,331.8 L1257.5,334.3 L1257.6,336.7 L1254.8,337.1 L1251.7,337.1 L1253.1,340.6 L1252.9,343.0 L1250.8,343.8 L1247.6,343.2 L1248.0,346.6 L1247.4,348.9 L1244.3,348.1 L1241.8,347.8 L1241.3,350.4 L1240.3,352.6 L1238.2,352.8 L1234.7,349.9 L1234.7,354.4 L1233.6,356.9 L1231.3,356.5 L1228.5,353.9 L1227.4,356.9 L1226.2,360.3 L1223.5,357.4 L1221.4,355.8 L1219.7,357.9 L1217.9,358.9 L1215.9,358.7 L1214.0,356.1 L1212.1,359.1 L1210.1,359.3 L1208.2,358.9 L1206.7,355.2 L1204.5,357.3 L1202.0,359.5 L1200.8,356.3 L1199.6,353.8 L1197.0,355.5 L1194.5,356.6 L1193.6,353.9 L1192.7,351.3 L1189.7,353.0 L1187.1,353.5 L1187.0,350.0 L1186.7,347.0 L1183.0,349.0 L1180.9,348.5 L1180.4,346.1 L1180.7,342.9 L1178.1,342.9 L1175.7,342.6 L1175.6,340.0 L1175.4,337.8 L1172.2,337.8 L1170.1,336.9 L1170.7,334.2 L1172.1,331.2 L1167.5,331.6 L1165.9,330.2 L1167.6,327.2 L1168.7,324.8 L1165.8,323.9 L1163.2,322.7 L1164.9,320.2 L1167.4,317.6 L1162.5,316.7 L1159.9,315.1 L1163.2,312.7 L1164.2,310.7 L1162.0,308.9 L1161.4,307.0 L1161.5,305.0 L1165.6,303.4 L1162.3,301.2 L1161.7,299.1 L1164.3,297.6 L1165.9,296.0 L1164.0,293.6 L1162.0,291.0 L1164.4,289.6 L1169.7,289.6 L1167.4,286.7 L1166.9,284.3 L1167.8,282.6 L1172.4,283.0 L1169.9,279.3 L1170.4,277.3 L1172.0,276.0 L1176.3,276.9 L1174.7,273.2 L1174.7,270.5 L1177.6,270.6 L1180.1,270.5 L1180.7,268.3 L1181.6,266.4 L1183.0,265.0 L1185.8,265.6 L1186.3,263.0 L1187.4,260.9 L1190.4,262.4 L1193.1,263.7 L1193.1,259.1 L1194.3,256.7 L1197.1,258.7 L1199.6,260.2 L1200.7,257.2 L1202.3,255.6 L1204.3,255.8 L1206.7,258.5 L1208.1,255.1 L1210.0,253.1 L1212.1,255.5 L1214.0,259.1 L1215.9,256.1 L1217.9,254.3 L1219.7,256.0 L1221.2,259.1 L1223.6,256.5 L1226.0,254.2 L1227.3,257.3 L1228.4,260.3 L1231.1,258.3 L1233.8,256.7 L1234.6,259.7 L1235.1,263.3 L1238.2,261.2 L1240.7,260.7 L1241.8,262.7 L1241.6,266.5 L1244.4,265.7 L1247.9,264.5 L1247.3,268.3 L1247.6,270.7 L1249.9,271.1 L1252.7,271.1 L1253.7,272.9 L1253.0,275.9 L1255.0,276.8 L1259.6,275.9 L1258.2,279.2 L1256.4,282.5 L1260.3,282.6 L1261.4,284.2 L1260.9,286.5 L1259.7,289.1 L1261.9,290.2 L1265.1,291.2 L1263.2,293.8 L1261.3,296.2 L1265.3,297.3 L1268.4,298.8 L1264.6,301.3 L1264.1,303.2 L1264.7,305.1 L1268.0,307.0Z" fill="url(#tree)" stroke="#585858" stroke-width="3" stroke-linejoin="round"/>
<path d="M1624.8,160.0 L1623.1,161.7 L1619.9,163.1 L1621.2,164.9 L1624.3,167.0 L1622.3,168.4 L1619.0,169.4 L1621.4,171.6 L1622.1,173.6 L1619.7,174.6 L1617.5,175.5 L1618.1,177.5 L1619.5,180.0 L1616.6,180.4 L1614.5,181.1 L1615.3,183.4 L1616.6,186.3 L1613.3,186.1 L1610.2,185.7 L1611.0,188.4 L1612.5,192.0 L1609.3,191.3 L1605.3,189.4 L1607.0,193.7 L1607.3,196.8 L1604.4,195.8 L1601.8,194.9 L1602.0,198.1 L1601.6,200.9 L1598.6,199.1 L1596.2,197.9 L1595.9,201.0 L1594.5,202.2 L1592.8,202.4 L1590.2,199.5 L1589.4,202.4 L1588.2,204.8 L1586.2,203.5 L1584.4,202.6 L1583.0,204.5 L1581.5,206.6 L1579.7,204.1 L1578.0,202.6 L1576.3,204.5 L1574.6,205.7 L1573.1,203.6 L1571.7,202.0 L1569.9,202.7 L1567.9,204.4 L1566.5,203.1 L1565.8,199.7 L1563.0,202.7 L1561.2,202.7 L1560.4,200.4 L1560.0,197.4 L1557.0,199.7 L1554.2,201.2 L1554.0,198.2 L1554.0,195.2 L1551.2,196.3 L1548.2,197.3 L1548.5,194.3 L1549.6,190.6 L1547.2,190.8 L1544.7,190.9 L1544.0,189.3 L1545.3,186.1 L1541.9,186.6 L1540.4,185.7 L1539.8,184.0 L1541.8,180.9 L1539.3,180.5 L1536.0,180.2 L1537.8,177.5 L1540.1,174.9 L1535.1,175.0 L1533.8,173.6 L1534.7,171.6 L1537.6,169.2 L1535.0,168.1 L1533.3,166.7 L1534.0,165.0 L1537.4,163.0 L1534.2,161.6 L1530.8,160.0 L1533.8,158.3 L1536.4,156.9 L1534.5,155.1 L1531.7,153.0 L1533.3,151.5 L1536.4,150.5 L1534.1,148.2 L1534.1,146.5 L1535.4,145.1 L1538.4,144.5 L1537.3,142.3 L1535.8,139.7 L1538.5,139.1 L1542.2,139.3 L1539.8,136.0 L1540.3,134.3 L1542.4,133.7 L1545.5,134.1 L1544.6,131.3 L1543.8,128.3 L1546.4,128.4 L1550.5,130.4 L1548.6,125.8 L1548.7,123.2 L1551.7,124.4 L1555.0,126.2 L1554.4,122.5 L1555.4,120.9 L1557.0,120.3 L1559.3,121.2 L1560.4,119.7 L1561.2,117.2 L1563.1,117.3 L1565.8,120.3 L1566.3,116.2 L1567.4,113.6 L1569.9,117.0 L1571.9,119.3 L1573.0,115.4 L1574.6,115.0 L1576.4,116.0 L1578.0,118.4 L1579.7,115.2 L1581.5,113.0 L1582.9,116.1 L1584.2,119.0 L1586.1,117.0 L1588.4,114.6 L1589.4,117.5 L1590.3,120.0 L1592.5,118.6 L1594.4,118.1 L1595.5,120.0 L1596.2,122.3 L1599.1,120.0 L1601.4,119.4 L1601.7,122.3 L1601.5,125.5 L1604.1,124.7 L1607.2,123.3 L1607.2,126.1 L1605.5,130.3 L1609.1,128.9 L1611.8,128.6 L1612.4,130.4 L1609.4,135.0 L1613.9,133.5 L1617.1,133.3 L1614.9,136.8 L1615.0,138.6 L1618.0,138.8 L1620.5,139.6 L1618.0,142.5 L1617.2,144.6 L1620.6,145.1 L1623.2,146.1 L1621.0,148.5 L1620.2,150.4 L1622.3,151.6 L1623.9,153.1 L1621.6,155.1 L1619.7,156.9 L1621.5,158.4 L1624.7,160.0Z" fill="url(#tree)" stroke="#585858" stroke-width="3" stroke-linejoin="round"/>
<path d="M1748.7,208.0 L1746.6,209.8 L1745.0,211.4 L1747.7,213.5 L1749.8,215.6 L1746.1,216.9 L1743.0,218.1 L1744.9,220.3 L1747.5,223.0 L1744.3,223.9 L1742.0,224.9 L1742.6,227.0 L1744.0,229.7 L1741.5,230.4 L1738.5,230.8 L1739.6,233.5 L1741.3,236.9 L1737.7,236.6 L1735.6,237.2 L1736.3,240.1 L1735.6,241.9 L1733.1,242.1 L1730.4,241.9 L1730.4,244.5 L1730.6,247.6 L1727.2,246.2 L1725.2,246.4 L1725.3,249.8 L1725.0,253.0 L1721.6,250.8 L1719.5,250.5 L1718.1,251.8 L1717.5,255.1 L1714.9,253.4 L1712.4,251.6 L1711.5,254.5 L1710.3,257.6 L1708.0,255.3 L1706.0,254.1 L1704.4,256.2 L1702.7,257.2 L1700.8,257.2 L1699.0,254.2 L1697.2,255.8 L1695.2,258.7 L1693.6,255.5 L1692.1,253.5 L1690.0,255.4 L1687.5,258.5 L1686.6,254.4 L1685.7,251.0 L1682.9,254.0 L1680.9,254.2 L1679.5,252.7 L1679.4,248.7 L1676.6,250.3 L1674.1,251.1 L1672.7,249.9 L1673.3,245.6 L1670.2,247.0 L1667.3,247.8 L1667.0,245.2 L1668.0,241.4 L1664.9,242.1 L1662.5,241.9 L1662.7,239.2 L1662.4,237.2 L1660.7,236.3 L1658.1,235.9 L1657.3,234.2 L1659.3,230.9 L1656.9,230.3 L1654.4,229.5 L1654.5,227.4 L1656.0,224.9 L1652.9,224.1 L1649.6,223.2 L1652.7,220.4 L1655.4,217.9 L1651.5,217.0 L1649.1,215.5 L1651.4,213.4 L1651.9,211.5 L1650.8,209.8 L1647.9,208.0 L1651.0,206.2 L1653.7,204.6 L1651.3,202.6 L1648.6,200.4 L1650.5,198.8 L1653.8,197.7 L1652.9,195.6 L1649.6,192.8 L1653.3,192.0 L1657.2,191.6 L1654.2,188.5 L1653.2,186.0 L1655.9,185.2 L1659.0,184.9 L1658.5,182.6 L1657.6,179.8 L1660.4,179.5 L1662.6,179.0 L1662.6,176.7 L1662.7,174.3 L1664.6,173.6 L1667.7,174.3 L1667.3,171.2 L1667.8,168.9 L1670.1,168.8 L1673.3,170.3 L1672.8,166.3 L1673.9,164.6 L1676.4,165.3 L1679.1,166.6 L1679.9,164.1 L1680.6,161.0 L1682.8,161.8 L1685.3,163.6 L1686.3,160.5 L1687.9,159.5 L1690.0,160.5 L1692.1,162.3 L1693.6,159.8 L1695.3,158.0 L1697.2,160.1 L1699.0,161.5 L1700.8,159.7 L1702.9,156.1 L1704.3,160.6 L1705.8,162.8 L1707.9,161.1 L1710.4,158.0 L1711.7,160.8 L1712.1,165.5 L1714.9,162.6 L1717.6,160.6 L1718.2,163.9 L1719.0,166.4 L1721.6,165.3 L1723.6,165.4 L1725.2,166.2 L1725.4,169.3 L1727.4,169.6 L1730.5,168.5 L1730.7,171.1 L1729.7,174.9 L1733.4,173.6 L1736.1,173.6 L1735.7,176.5 L1735.7,178.7 L1737.6,179.5 L1741.6,178.9 L1739.6,182.5 L1738.1,185.4 L1741.6,185.5 L1743.5,186.6 L1742.7,188.9 L1740.6,191.7 L1745.3,191.8 L1746.5,193.4 L1745.6,195.5 L1742.1,198.2 L1747.7,198.8 L1750.0,200.3 L1747.9,202.5 L1745.5,204.5 L1747.1,206.2 L1750.9,208.0Z" fill="url(#tree)" stroke="#585858" stroke-width="3" stroke-linejoin="round"/>
<path d="M1291.2,794.0 L1290.0,795.8 L1286.4,797.4 L1289.7,799.5 L1292.6,801.8 L1289.1,803.1 L1286.3,804.3 L1288.0,806.6 L1290.2,809.2 L1288.5,810.6 L1285.7,811.5 L1286.2,813.7 L1287.4,816.4 L1285.0,817.3 L1282.0,817.6 L1283.5,820.7 L1283.6,823.1 L1280.6,823.2 L1276.9,822.6 L1278.8,826.6 L1278.2,828.5 L1275.5,828.5 L1272.1,827.5 L1273.9,832.2 L1273.4,834.6 L1269.8,833.0 L1267.5,832.9 L1267.3,835.9 L1267.1,839.2 L1263.8,837.2 L1260.8,835.1 L1260.6,838.9 L1259.4,840.8 L1257.4,840.7 L1254.6,838.0 L1253.8,841.8 L1252.4,844.1 L1250.1,841.9 L1248.1,841.3 L1246.6,843.9 L1244.8,844.7 L1242.9,843.5 L1241.0,840.4 L1239.2,843.4 L1237.0,846.8 L1235.4,843.8 L1233.9,841.3 L1231.9,842.1 L1229.7,843.7 L1228.2,841.7 L1227.7,837.2 L1224.6,840.8 L1222.1,842.2 L1221.4,839.0 L1220.7,836.2 L1217.6,838.2 L1214.7,839.5 L1214.5,836.2 L1215.0,832.2 L1211.6,833.8 L1209.8,833.2 L1209.3,830.8 L1208.6,828.9 L1205.5,829.5 L1203.2,829.1 L1203.6,826.2 L1204.9,822.8 L1201.1,823.5 L1198.0,823.3 L1199.7,820.0 L1200.5,817.4 L1196.4,817.6 L1194.4,816.4 L1195.8,813.7 L1196.3,811.6 L1193.9,810.5 L1190.6,809.5 L1192.6,807.0 L1195.2,804.5 L1192.0,803.3 L1190.3,801.6 L1191.7,799.6 L1192.7,797.6 L1192.6,795.8 L1189.7,794.0 L1192.3,792.2 L1194.2,790.5 L1191.5,788.4 L1189.2,786.2 L1192.4,784.8 L1194.6,783.4 L1192.4,781.0 L1192.2,778.9 L1193.3,777.3 L1197.2,776.8 L1196.6,774.6 L1193.4,771.1 L1196.7,770.6 L1201.1,770.9 L1199.9,768.2 L1198.4,765.0 L1201.4,764.7 L1204.0,764.5 L1203.3,761.5 L1203.7,759.4 L1205.8,758.8 L1209.5,760.1 L1209.0,756.8 L1208.7,753.5 L1211.4,753.9 L1215.0,755.8 L1215.0,752.6 L1215.2,749.3 L1218.2,750.9 L1220.6,751.6 L1221.3,748.9 L1222.0,745.6 L1224.7,747.4 L1226.9,748.4 L1228.0,745.5 L1229.8,744.8 L1231.8,745.3 L1233.9,746.7 L1235.4,744.5 L1237.1,741.7 L1239.2,744.7 L1241.0,747.2 L1242.8,745.1 L1244.9,742.6 L1246.5,745.4 L1247.8,748.6 L1250.3,744.7 L1252.3,744.5 L1253.9,745.7 L1254.7,749.6 L1257.2,747.6 L1259.7,746.3 L1261.0,748.2 L1261.5,751.3 L1264.3,750.0 L1266.3,750.2 L1267.2,752.3 L1267.5,755.1 L1270.8,753.6 L1272.2,754.9 L1273.0,756.8 L1272.4,760.2 L1275.5,759.5 L1279.8,758.0 L1279.0,761.3 L1278.1,764.4 L1281.4,764.2 L1283.9,764.8 L1283.0,767.6 L1281.8,770.5 L1284.0,771.3 L1287.6,771.5 L1286.4,774.2 L1284.2,777.0 L1287.7,777.6 L1290.4,778.8 L1288.9,781.2 L1286.9,783.5 L1289.1,784.9 L1293.1,786.1 L1290.7,788.4 L1287.2,790.5 L1290.4,792.1 L1292.3,794.0Z" fill="url(#tree)" stroke="#585858" stroke-width="3" stroke-linejoin="round"/>
<path d="M1319.4,900.0 L1319.0,901.9 L1314.9,903.5 L1318.1,905.6 L1320.0,907.8 L1318.5,909.5 L1315.5,910.7 L1316.7,912.9 L1319.0,915.6 L1315.6,916.5 L1313.6,917.7 L1314.5,920.1 L1314.6,922.2 L1313.1,923.6 L1309.6,923.8 L1311.0,926.7 L1311.9,929.6 L1308.9,929.8 L1306.0,929.9 L1306.9,933.1 L1305.8,934.6 L1303.6,935.1 L1301.3,935.3 L1301.3,938.1 L1300.4,940.0 L1298.4,940.5 L1294.6,938.3 L1295.3,942.7 L1294.1,944.3 L1292.0,944.5 L1288.8,942.2 L1288.5,945.9 L1287.6,948.6 L1285.1,947.4 L1282.4,945.1 L1281.3,947.9 L1279.9,950.1 L1277.8,949.0 L1275.4,945.6 L1274.0,949.2 L1272.3,951.1 L1270.4,950.1 L1268.5,947.3 L1266.6,949.8 L1264.6,951.9 L1262.9,949.5 L1261.5,946.5 L1259.1,949.5 L1256.6,952.1 L1255.4,948.7 L1254.9,944.1 L1251.8,947.7 L1249.5,948.3 L1248.8,945.1 L1247.5,943.5 L1245.5,943.6 L1241.8,946.3 L1241.6,942.8 L1241.7,939.3 L1238.3,940.9 L1235.3,941.6 L1235.8,938.0 L1236.1,934.9 L1232.7,935.8 L1230.6,935.1 L1231.2,932.1 L1232.1,929.0 L1228.8,929.3 L1225.6,929.3 L1225.6,927.0 L1226.1,924.5 L1224.2,923.4 L1220.8,923.0 L1222.9,919.9 L1226.1,916.6 L1221.0,916.6 L1219.7,915.1 L1219.4,913.2 L1221.2,910.8 L1219.4,909.3 L1217.0,907.8 L1218.5,905.6 L1220.4,903.6 L1218.6,901.9 L1216.0,900.0 L1218.8,898.1 L1221.1,896.4 L1219.0,894.4 L1216.5,892.2 L1219.8,890.8 L1221.6,889.3 L1219.6,886.9 L1219.5,884.9 L1221.3,883.5 L1224.3,882.6 L1222.5,879.9 L1220.8,877.0 L1224.8,876.9 L1227.1,876.1 L1225.8,873.2 L1224.8,870.2 L1228.0,870.1 L1231.6,870.5 L1230.4,867.2 L1230.5,864.7 L1233.1,864.6 L1237.2,866.3 L1236.5,862.9 L1235.2,858.3 L1238.9,859.9 L1242.0,861.1 L1242.1,858.0 L1242.8,855.5 L1245.2,856.0 L1247.8,857.0 L1248.5,854.3 L1250.2,853.3 L1251.9,852.5 L1254.9,855.8 L1255.7,852.1 L1256.7,848.4 L1259.2,850.7 L1261.5,853.8 L1263.0,850.8 L1264.7,849.9 L1266.6,849.9 L1268.5,851.1 L1270.4,849.6 L1272.3,849.9 L1274.1,850.7 L1275.4,854.3 L1277.8,850.6 L1280.3,848.2 L1281.3,852.3 L1282.5,854.7 L1285.3,852.1 L1287.6,851.4 L1288.2,854.9 L1289.6,856.2 L1291.6,856.3 L1294.5,855.0 L1295.4,857.3 L1294.7,861.6 L1298.2,859.7 L1301.0,859.2 L1301.4,861.8 L1301.0,864.9 L1303.8,864.7 L1306.8,864.5 L1306.9,866.9 L1305.1,870.8 L1309.2,869.9 L1312.3,870.1 L1310.9,873.3 L1309.1,876.6 L1312.4,876.8 L1315.8,877.2 L1314.6,879.9 L1313.0,882.5 L1315.5,883.6 L1316.6,885.2 L1316.9,887.0 L1314.6,889.5 L1318.0,890.6 L1321.3,892.0 L1317.8,894.4 L1315.5,896.5 L1319.3,898.1 L1319.4,900.0Z" fill="url(#tree)" stroke="#585858" stroke-width="3" stroke-linejoin="round"/>
<path d="M1328.1,1004.0 L1325.8,1005.9 L1321.3,1007.5 L1325.5,1009.7 L1326.3,1011.7 L1324.9,1013.5 L1320.9,1014.5 L1324.1,1017.2 L1325.3,1019.5 L1323.4,1020.9 L1318.8,1021.2 L1321.4,1024.3 L1321.1,1026.2 L1319.8,1027.7 L1316.7,1028.1 L1317.7,1030.9 L1317.0,1032.6 L1315.6,1034.0 L1313.2,1034.5 L1312.9,1036.6 L1313.4,1039.7 L1310.1,1039.1 L1308.8,1040.4 L1308.0,1042.4 L1307.5,1044.8 L1305.0,1044.6 L1301.7,1043.1 L1302.4,1047.6 L1300.5,1048.2 L1298.3,1048.0 L1295.8,1047.1 L1295.5,1050.9 L1294.4,1053.5 L1291.5,1051.1 L1289.0,1049.3 L1288.2,1053.4 L1286.6,1054.7 L1284.6,1054.5 L1282.0,1050.7 L1280.6,1053.5 L1279.1,1058.3 L1276.9,1053.5 L1275.0,1052.0 L1273.1,1055.4 L1271.1,1056.3 L1269.3,1054.7 L1267.8,1051.8 L1265.8,1052.8 L1263.0,1056.5 L1262.0,1052.5 L1260.8,1049.9 L1258.5,1051.2 L1256.3,1051.7 L1255.0,1049.7 L1254.3,1047.0 L1251.8,1047.9 L1248.8,1049.4 L1247.8,1047.2 L1247.3,1044.6 L1244.5,1045.3 L1242.9,1044.3 L1241.7,1042.7 L1242.8,1038.7 L1239.5,1039.5 L1236.0,1040.2 L1237.2,1036.6 L1237.8,1033.7 L1234.2,1034.1 L1231.8,1033.5 L1232.5,1030.7 L1233.4,1028.0 L1230.5,1027.5 L1228.4,1026.4 L1228.1,1024.4 L1229.0,1022.1 L1226.9,1020.8 L1225.0,1019.4 L1226.6,1017.0 L1228.4,1014.6 L1224.6,1013.5 L1221.2,1012.1 L1225.4,1009.6 L1229.0,1007.4 L1224.8,1005.9 L1222.3,1004.0 L1224.7,1002.1 L1227.5,1000.4 L1224.6,998.3 L1224.0,996.3 L1225.7,994.7 L1229.2,993.5 L1225.9,990.8 L1224.9,988.5 L1228.2,987.6 L1230.7,986.6 L1229.3,984.1 L1227.2,981.0 L1230.1,980.3 L1233.8,980.2 L1232.3,977.2 L1231.9,974.6 L1234.5,974.1 L1237.7,974.3 L1237.4,971.6 L1235.9,967.7 L1239.5,968.5 L1241.6,968.1 L1242.5,966.2 L1242.4,963.1 L1245.1,963.5 L1248.0,964.4 L1248.0,961.1 L1248.1,957.3 L1251.3,959.1 L1254.0,960.3 L1254.6,957.3 L1255.4,954.2 L1258.3,956.3 L1261.2,959.2 L1262.0,955.5 L1263.6,954.3 L1265.5,953.9 L1267.8,956.5 L1269.4,954.3 L1271.1,952.6 L1273.1,953.5 L1275.0,957.4 L1276.9,953.0 L1278.8,953.4 L1280.7,953.8 L1282.1,957.0 L1284.3,955.1 L1286.9,952.0 L1288.1,955.3 L1288.8,959.4 L1292.0,955.5 L1294.0,955.5 L1295.3,957.5 L1296.2,960.0 L1298.5,959.5 L1300.8,959.3 L1302.3,960.5 L1302.0,964.4 L1305.4,962.8 L1307.1,963.8 L1308.6,965.0 L1307.8,968.7 L1310.6,968.4 L1312.9,968.8 L1313.3,971.1 L1312.6,974.0 L1316.2,973.6 L1319.4,973.7 L1318.5,976.7 L1314.9,980.9 L1319.3,980.6 L1322.3,981.2 L1322.0,983.5 L1318.8,986.8 L1322.6,987.4 L1325.8,988.3 L1323.9,990.9 L1322.5,993.2 L1324.8,994.6 L1326.3,996.3 L1324.6,998.4 L1322.8,1000.4 L1325.2,1002.1 L1326.5,1004.0Z" fill="url(#tree)" stroke="#585858" stroke-width="3" stroke-linejoin="round"/>
<polygon points="1044.0,1055.0 1083.0,1046.0 1087.0,1062.0 1048.0,1070.0" fill="url(#tex)" stroke="#222" stroke-width="2" stroke-linejoin="miter" />
<path d="M1137.6,1102.0 L1136.8,1103.9 L1133.8,1105.6 L1136.4,1107.7 L1137.9,1109.8 L1135.6,1111.4 L1132.5,1112.6 L1134.7,1115.0 L1136.0,1117.4 L1133.2,1118.5 L1129.3,1119.0 L1132.3,1122.2 L1133.6,1124.9 L1131.0,1125.8 L1127.3,1125.9 L1128.8,1128.9 L1128.3,1130.9 L1126.9,1132.2 L1123.6,1132.0 L1124.8,1135.4 L1123.7,1136.9 L1121.9,1137.9 L1118.8,1137.3 L1119.1,1140.4 L1119.3,1143.8 L1116.0,1142.7 L1112.8,1141.3 L1112.6,1144.4 L1112.2,1147.4 L1109.7,1146.9 L1107.1,1145.8 L1106.1,1148.2 L1105.7,1152.1 L1102.6,1149.5 L1100.1,1147.7 L1099.0,1150.5 L1097.6,1153.0 L1095.3,1151.2 L1093.1,1149.3 L1091.6,1152.1 L1089.8,1153.2 L1087.9,1152.4 L1086.0,1148.9 L1084.1,1152.3 L1082.0,1155.7 L1080.4,1151.9 L1078.7,1150.1 L1076.8,1150.6 L1074.3,1153.3 L1072.8,1151.4 L1071.7,1148.4 L1069.3,1149.7 L1066.7,1151.1 L1065.8,1148.4 L1064.8,1146.1 L1062.3,1146.8 L1060.3,1146.4 L1059.1,1144.8 L1058.8,1141.9 L1055.9,1142.8 L1053.2,1143.1 L1053.1,1140.2 L1053.2,1137.4 L1050.6,1137.4 L1046.3,1138.8 L1048.3,1134.5 L1049.0,1131.5 L1044.5,1132.6 L1042.0,1132.0 L1043.7,1128.6 L1044.6,1125.9 L1042.0,1125.3 L1038.3,1125.0 L1039.0,1122.5 L1042.6,1119.0 L1037.9,1118.8 L1036.0,1117.4 L1037.8,1114.9 L1040.0,1112.5 L1036.8,1111.3 L1034.0,1109.8 L1035.7,1107.7 L1037.5,1105.6 L1035.7,1103.9 L1035.0,1102.0 L1036.1,1100.1 L1038.1,1098.4 L1035.2,1096.3 L1033.3,1094.1 L1037.4,1092.8 L1040.3,1091.6 L1037.4,1089.0 L1037.0,1086.9 L1037.8,1085.1 L1041.9,1084.7 L1039.9,1081.9 L1039.0,1079.4 L1040.6,1078.0 L1044.3,1077.9 L1044.0,1075.6 L1041.3,1071.5 L1044.9,1071.6 L1049.4,1072.8 L1047.1,1068.5 L1047.0,1065.8 L1050.5,1066.5 L1054.2,1067.7 L1052.7,1063.3 L1053.0,1060.6 L1056.4,1061.9 L1059.2,1062.7 L1059.2,1059.4 L1060.0,1057.0 L1062.5,1057.5 L1065.5,1059.5 L1065.6,1055.3 L1067.1,1053.9 L1069.5,1054.8 L1072.0,1056.6 L1073.0,1053.4 L1074.4,1051.3 L1076.7,1053.0 L1079.1,1056.1 L1080.3,1051.2 L1082.1,1049.6 L1084.1,1051.2 L1086.0,1053.1 L1087.9,1050.9 L1089.9,1050.2 L1091.6,1052.5 L1093.0,1055.6 L1095.5,1052.0 L1097.5,1051.6 L1098.9,1053.7 L1099.7,1057.7 L1102.7,1054.3 L1105.2,1053.2 L1106.3,1055.5 L1106.5,1059.4 L1109.2,1058.1 L1112.2,1056.7 L1113.0,1059.1 L1113.4,1061.8 L1115.9,1061.4 L1117.9,1062.0 L1118.6,1064.2 L1119.3,1066.1 L1121.5,1066.5 L1125.5,1065.3 L1124.9,1068.5 L1123.6,1072.0 L1126.7,1072.0 L1129.4,1072.4 L1129.0,1075.0 L1126.6,1078.5 L1130.6,1078.5 L1133.0,1079.4 L1132.8,1081.6 L1130.4,1084.6 L1132.7,1085.7 L1134.9,1086.9 L1134.5,1089.0 L1133.2,1091.2 L1135.1,1092.7 L1138.8,1094.0 L1135.8,1096.4 L1134.1,1098.4 L1135.5,1100.1 L1139.7,1102.0Z" fill="url(#tree)" stroke="#585858" stroke-width="3" stroke-linejoin="round"/>
<radialGradient id="pg2" gradientUnits="userSpaceOnUse" cx="1776" cy="298" r="88.0"><stop offset="0" stop-color="#000000"/><stop offset="0.28" stop-color="#0c1600"/><stop offset="0.58" stop-color="#4a720c"/><stop offset="0.86" stop-color="#94cc20"/><stop offset="1" stop-color="#b4f02a"/></radialGradient>
<path d="M1781.6,298.1 L1782.2,294.6 L1782.8,291.0 L1783.4,287.5 L1784.0,284.0 L1784.7,280.5 L1785.3,276.9 L1785.9,273.4 L1786.5,269.9 L1787.1,266.4 L1787.7,262.8 L1788.4,259.3 L1789.0,255.8 L1789.2,252.3 L1789.2,248.7 L1789.3,245.2 L1789.3,241.7 L1789.4,238.1 L1789.5,234.6 L1789.5,231.0 L1789.6,227.5 L1789.5,225.1 L1789.1,222.7 L1788.4,220.4 L1787.4,218.3 L1786.2,216.5 L1784.7,214.9 L1783.1,213.6 L1781.3,212.6 L1779.4,212.0 L1777.5,211.8 L1777.5,211.8 L1775.6,211.9 L1773.7,212.5 L1771.9,213.4 L1770.2,214.6 L1768.7,216.2 L1767.4,218.0 L1766.4,220.1 L1765.6,222.3 L1765.1,224.7 L1764.9,227.1 L1764.8,230.6 L1764.8,234.1 L1764.7,237.7 L1764.6,241.2 L1764.6,244.8 L1764.5,248.3 L1764.4,251.8 L1764.5,255.4 L1765.0,258.9 L1765.5,262.5 L1766.0,266.0 L1766.5,269.5 L1767.0,273.1 L1767.5,276.6 L1768.0,280.2 L1768.5,283.7 L1769.0,287.3 L1769.5,290.8 L1769.9,294.4 L1770.4,297.9Z M1780.5,295.6 L1779.7,293.0 L1778.9,290.4 L1778.1,287.8 L1777.3,285.2 L1776.5,282.6 L1775.7,280.0 L1774.9,277.4 L1774.1,274.8 L1773.3,272.2 L1772.5,269.6 L1771.7,267.0 L1770.9,264.4 L1769.8,262.0 L1768.5,259.6 L1767.3,257.3 L1766.0,254.9 L1764.8,252.6 L1763.5,250.2 L1762.3,247.9 L1761.0,245.5 L1760.0,243.9 L1758.8,242.6 L1757.4,241.4 L1755.8,240.4 L1754.2,239.7 L1752.4,239.3 L1750.6,239.2 L1748.8,239.4 L1747.1,239.8 L1745.4,240.5 L1745.4,240.5 L1743.9,241.5 L1742.6,242.7 L1741.5,244.1 L1740.6,245.6 L1739.9,247.3 L1739.5,249.1 L1739.5,250.9 L1739.7,252.7 L1740.1,254.5 L1740.9,256.2 L1742.1,258.6 L1743.4,260.9 L1744.6,263.3 L1745.9,265.6 L1747.1,268.0 L1748.4,270.4 L1749.6,272.7 L1751.0,275.0 L1752.7,277.1 L1754.4,279.3 L1756.1,281.4 L1757.8,283.5 L1759.5,285.6 L1761.2,287.7 L1762.9,289.8 L1764.6,291.9 L1766.3,294.1 L1768.1,296.2 L1769.8,298.3 L1771.5,300.4Z M1779.3,293.5 L1777.1,291.2 L1774.9,289.0 L1772.7,286.7 L1770.5,284.4 L1768.4,282.1 L1766.2,279.9 L1764.0,277.6 L1761.8,275.3 L1759.6,273.0 L1757.4,270.8 L1755.3,268.5 L1753.1,266.2 L1750.6,264.3 L1748.1,262.5 L1745.6,260.6 L1743.1,258.8 L1740.6,257.0 L1738.1,255.2 L1735.6,253.4 L1733.1,251.5 L1731.2,250.4 L1729.3,249.5 L1727.3,249.0 L1725.2,248.7 L1723.1,248.8 L1721.1,249.2 L1719.3,249.9 L1717.6,250.8 L1716.0,252.1 L1714.8,253.5 L1714.8,253.5 L1713.8,255.2 L1713.1,257.0 L1712.7,258.9 L1712.6,260.9 L1712.9,262.9 L1713.4,264.9 L1714.3,266.8 L1715.5,268.6 L1716.9,270.1 L1718.5,271.5 L1721.0,273.3 L1723.6,275.2 L1726.1,277.0 L1728.6,278.8 L1731.1,280.6 L1733.6,282.5 L1736.1,284.3 L1738.7,286.0 L1741.5,287.4 L1744.4,288.8 L1747.2,290.1 L1750.0,291.5 L1752.9,292.9 L1755.7,294.3 L1758.5,295.6 L1761.4,297.0 L1764.2,298.4 L1767.1,299.8 L1769.9,301.1 L1772.7,302.5Z M1780.7,302.3 L1783.4,300.3 L1786.2,298.3 L1788.9,296.3 L1791.6,294.3 L1794.3,292.3 L1797.0,290.3 L1799.7,288.2 L1802.5,286.2 L1805.2,284.2 L1807.9,282.2 L1810.6,280.2 L1813.3,278.2 L1815.7,275.8 L1817.9,273.4 L1820.1,270.9 L1822.4,268.5 L1824.6,266.0 L1826.9,263.6 L1829.1,261.1 L1831.4,258.7 L1832.8,256.9 L1833.9,254.9 L1834.7,252.8 L1835.1,250.5 L1835.2,248.3 L1835.0,246.0 L1834.4,243.9 L1833.5,241.8 L1832.2,239.9 L1830.7,238.3 L1830.7,238.3 L1828.9,236.9 L1827.0,235.9 L1824.9,235.1 L1822.6,234.7 L1820.4,234.6 L1818.1,234.9 L1816.0,235.6 L1813.9,236.6 L1812.0,237.9 L1810.3,239.4 L1808.1,241.9 L1805.9,244.3 L1803.6,246.8 L1801.4,249.2 L1799.1,251.7 L1796.9,254.1 L1794.6,256.6 L1792.5,259.1 L1790.7,262.0 L1789.0,264.8 L1787.2,267.7 L1785.4,270.6 L1783.6,273.5 L1781.9,276.4 L1780.1,279.3 L1778.3,282.1 L1776.6,285.0 L1774.8,287.9 L1773.0,290.8 L1771.3,293.7Z M1777.9,304.1 L1781.5,303.7 L1785.2,303.3 L1788.8,302.8 L1792.4,302.4 L1796.1,301.9 L1799.7,301.5 L1803.3,301.1 L1807.0,300.6 L1810.6,300.2 L1814.3,299.7 L1817.9,299.3 L1821.5,298.9 L1825.0,297.9 L1828.5,296.9 L1831.9,295.8 L1835.4,294.8 L1838.8,293.7 L1842.3,292.6 L1845.7,291.6 L1849.2,290.5 L1851.5,289.6 L1853.7,288.4 L1855.6,286.9 L1857.3,285.2 L1858.7,283.3 L1859.7,281.2 L1860.4,279.0 L1860.7,276.7 L1860.6,274.5 L1860.2,272.3 L1860.2,272.3 L1859.3,270.2 L1858.1,268.3 L1856.6,266.6 L1854.8,265.1 L1852.8,264.0 L1850.5,263.2 L1848.2,262.7 L1845.7,262.5 L1843.3,262.7 L1840.8,263.3 L1837.4,264.3 L1833.9,265.4 L1830.5,266.4 L1827.0,267.5 L1823.6,268.5 L1820.1,269.6 L1816.7,270.7 L1813.3,271.8 L1810.0,273.5 L1806.7,275.2 L1803.5,276.8 L1800.2,278.5 L1797.0,280.2 L1793.7,281.8 L1790.4,283.5 L1787.2,285.2 L1783.9,286.9 L1780.6,288.5 L1777.4,290.2 L1774.1,291.9Z M1775.7,303.6 L1778.7,304.3 L1781.6,305.0 L1784.6,305.7 L1787.6,306.4 L1790.5,307.1 L1793.5,307.8 L1796.4,308.5 L1799.4,309.3 L1802.4,310.0 L1805.3,310.7 L1808.3,311.4 L1811.2,312.1 L1814.2,312.4 L1817.2,312.5 L1820.2,312.7 L1823.2,312.8 L1826.2,313.0 L1829.2,313.2 L1832.2,313.3 L1835.2,313.5 L1837.2,313.4 L1839.3,313.1 L1841.2,312.4 L1843.0,311.5 L1844.6,310.3 L1846.1,308.9 L1847.2,307.3 L1848.1,305.6 L1848.7,303.7 L1848.9,301.8 L1848.9,301.8 L1848.9,299.9 L1848.5,298.0 L1847.8,296.1 L1846.8,294.4 L1845.6,292.9 L1844.1,291.6 L1842.3,290.5 L1840.5,289.6 L1838.5,289.1 L1836.5,288.8 L1833.5,288.6 L1830.5,288.5 L1827.5,288.3 L1824.5,288.2 L1821.5,288.0 L1818.5,287.9 L1815.5,287.7 L1812.5,287.7 L1809.5,288.1 L1806.5,288.5 L1803.5,288.9 L1800.4,289.2 L1797.4,289.6 L1794.4,290.0 L1791.4,290.4 L1788.4,290.8 L1785.4,291.2 L1782.3,291.6 L1779.3,292.0 L1776.3,292.4Z M1774.2,303.7 L1777.1,305.2 L1780.0,306.8 L1782.9,308.3 L1785.8,309.8 L1788.7,311.3 L1791.6,312.8 L1794.5,314.3 L1797.4,315.8 L1800.3,317.3 L1803.2,318.9 L1806.1,320.4 L1809.0,321.9 L1812.0,322.9 L1815.1,323.9 L1818.2,324.8 L1821.2,325.7 L1824.3,326.7 L1827.4,327.6 L1830.5,328.6 L1833.5,329.5 L1835.7,330.0 L1837.9,330.2 L1840.1,330.0 L1842.2,329.5 L1844.2,328.7 L1846.0,327.6 L1847.7,326.2 L1849.0,324.6 L1850.1,322.8 L1850.9,320.9 L1850.9,320.9 L1851.3,318.9 L1851.4,316.8 L1851.2,314.7 L1850.6,312.6 L1849.7,310.7 L1848.5,308.9 L1847.0,307.3 L1845.3,305.9 L1843.4,304.9 L1841.3,304.1 L1838.2,303.1 L1835.2,302.2 L1832.1,301.2 L1829.0,300.3 L1826.0,299.4 L1822.9,298.4 L1819.8,297.5 L1816.7,296.7 L1813.5,296.3 L1810.2,295.9 L1807.0,295.6 L1803.7,295.2 L1800.5,294.8 L1797.2,294.5 L1794.0,294.1 L1790.7,293.7 L1787.5,293.4 L1784.2,293.0 L1781.0,292.6 L1777.8,292.3Z M1770.8,300.0 L1771.4,303.1 L1772.1,306.2 L1772.7,309.3 L1773.3,312.4 L1773.9,315.5 L1774.5,318.6 L1775.2,321.7 L1775.8,324.8 L1776.4,327.9 L1777.0,330.9 L1777.6,334.0 L1778.3,337.1 L1779.3,340.1 L1780.4,342.9 L1781.6,345.8 L1782.7,348.7 L1783.8,351.6 L1785.0,354.5 L1786.1,357.4 L1787.2,360.3 L1788.2,362.2 L1789.4,364.0 L1790.8,365.5 L1792.4,366.9 L1794.1,367.9 L1796.0,368.7 L1798.0,369.1 L1799.9,369.2 L1801.9,369.0 L1803.7,368.4 L1803.7,368.4 L1805.5,367.5 L1807.0,366.4 L1808.4,365.0 L1809.5,363.3 L1810.4,361.5 L1811.0,359.5 L1811.3,357.5 L1811.2,355.3 L1810.9,353.2 L1810.2,351.2 L1809.1,348.3 L1808.0,345.4 L1806.8,342.6 L1805.7,339.7 L1804.6,336.8 L1803.4,333.9 L1802.3,331.0 L1801.0,328.2 L1799.4,325.5 L1797.7,322.8 L1796.1,320.1 L1794.4,317.4 L1792.8,314.7 L1791.1,312.1 L1789.5,309.4 L1787.8,306.7 L1786.1,304.0 L1784.5,301.3 L1782.8,298.6 L1781.2,296.0Z M1770.5,298.4 L1770.1,301.7 L1769.8,304.9 L1769.5,308.2 L1769.1,311.5 L1768.8,314.8 L1768.5,318.1 L1768.1,321.3 L1767.8,324.6 L1767.5,327.9 L1767.2,331.2 L1766.8,334.4 L1766.5,337.7 L1766.6,341.0 L1766.8,344.2 L1767.1,347.5 L1767.3,350.7 L1767.5,353.9 L1767.8,357.2 L1768.0,360.4 L1768.2,363.6 L1768.5,365.9 L1769.1,368.0 L1770.0,370.0 L1771.1,371.8 L1772.5,373.5 L1774.1,374.8 L1775.8,375.8 L1777.7,376.6 L1779.6,377.0 L1781.5,377.0 L1781.5,377.0 L1783.4,376.7 L1785.3,376.0 L1787.0,375.1 L1788.6,373.8 L1789.9,372.2 L1791.1,370.4 L1792.0,368.5 L1792.6,366.4 L1792.9,364.2 L1792.9,361.9 L1792.6,358.7 L1792.4,355.4 L1792.2,352.2 L1791.9,349.0 L1791.7,345.7 L1791.5,342.5 L1791.3,339.2 L1790.9,336.0 L1790.2,332.8 L1789.4,329.6 L1788.6,326.4 L1787.8,323.2 L1787.0,320.0 L1786.2,316.8 L1785.5,313.6 L1784.7,310.4 L1783.9,307.2 L1783.1,304.0 L1782.3,300.8 L1781.5,297.6Z M1770.6,296.6 L1769.4,299.1 L1768.1,301.6 L1766.9,304.2 L1765.6,306.7 L1764.3,309.3 L1763.1,311.8 L1761.8,314.3 L1760.6,316.9 L1759.3,319.4 L1758.1,322.0 L1756.8,324.5 L1755.5,327.0 L1754.7,329.7 L1754.0,332.4 L1753.3,335.1 L1752.6,337.7 L1751.8,340.4 L1751.1,343.1 L1750.4,345.8 L1749.7,348.5 L1749.3,350.4 L1749.3,352.3 L1749.6,354.2 L1750.1,356.0 L1750.9,357.7 L1752.1,359.3 L1753.4,360.7 L1754.9,361.9 L1756.6,362.8 L1758.5,363.5 L1758.5,363.5 L1760.4,363.8 L1762.3,363.9 L1764.2,363.6 L1766.1,363.1 L1767.8,362.3 L1769.4,361.2 L1770.8,359.9 L1772.0,358.4 L1772.9,356.7 L1773.6,354.9 L1774.3,352.2 L1775.0,349.5 L1775.7,346.8 L1776.4,344.1 L1777.1,341.5 L1777.9,338.8 L1778.6,336.1 L1779.2,333.4 L1779.4,330.5 L1779.6,327.7 L1779.7,324.9 L1779.9,322.1 L1780.1,319.2 L1780.3,316.4 L1780.5,313.6 L1780.6,310.7 L1780.8,307.9 L1781.0,305.1 L1781.2,302.3 L1781.4,299.4Z M1772.8,292.9 L1769.9,294.0 L1767.1,295.1 L1764.2,296.2 L1761.3,297.3 L1758.4,298.4 L1755.5,299.5 L1752.6,300.6 L1749.7,301.7 L1746.8,302.8 L1743.9,303.9 L1741.1,305.0 L1738.2,306.1 L1735.5,307.6 L1733.0,309.2 L1730.4,310.8 L1727.8,312.4 L1725.3,314.0 L1722.7,315.6 L1720.1,317.2 L1717.5,318.8 L1715.9,320.1 L1714.4,321.6 L1713.2,323.3 L1712.3,325.1 L1711.6,327.1 L1711.3,329.2 L1711.3,331.3 L1711.7,333.3 L1712.3,335.3 L1713.3,337.2 L1713.3,337.2 L1714.6,338.8 L1716.0,340.3 L1717.7,341.5 L1719.6,342.5 L1721.6,343.1 L1723.7,343.4 L1725.8,343.4 L1727.8,343.0 L1729.8,342.4 L1731.6,341.4 L1734.2,339.8 L1736.8,338.2 L1739.4,336.6 L1741.9,335.0 L1744.5,333.4 L1747.1,331.8 L1749.6,330.2 L1752.1,328.5 L1754.4,326.3 L1756.7,324.2 L1758.9,322.1 L1761.2,320.0 L1763.4,317.9 L1765.7,315.8 L1767.9,313.7 L1770.2,311.5 L1772.4,309.4 L1774.7,307.3 L1776.9,305.2 L1779.2,303.1Z M1776.6,292.5 L1774.3,291.7 L1772.0,290.9 L1769.7,290.1 L1767.3,289.3 L1765.0,288.5 L1762.7,287.7 L1760.4,286.8 L1758.1,286.0 L1755.8,285.2 L1753.5,284.4 L1751.2,283.6 L1748.9,282.8 L1746.5,282.5 L1744.1,282.2 L1741.8,282.0 L1739.4,281.7 L1737.0,281.5 L1734.7,281.2 L1732.3,281.0 L1729.9,280.7 L1728.3,280.7 L1726.7,281.0 L1725.1,281.6 L1723.6,282.4 L1722.2,283.6 L1721.0,284.9 L1720.0,286.5 L1719.1,288.2 L1718.6,290.0 L1718.2,291.9 L1718.2,291.9 L1718.2,293.9 L1718.3,295.8 L1718.8,297.6 L1719.5,299.4 L1720.4,300.9 L1721.5,302.3 L1722.8,303.5 L1724.2,304.4 L1725.7,305.0 L1727.3,305.3 L1729.7,305.6 L1732.1,305.8 L1734.4,306.1 L1736.8,306.3 L1739.2,306.6 L1741.6,306.8 L1743.9,307.1 L1746.3,307.2 L1748.7,306.9 L1751.2,306.6 L1753.6,306.3 L1756.0,306.0 L1758.4,305.7 L1760.9,305.4 L1763.3,305.1 L1765.7,304.8 L1768.1,304.4 L1770.6,304.1 L1773.0,303.8 L1775.4,303.5Z M1746.1,298.0 A29.9,29.9 0 1 0 1805.9,298.0 A29.9,29.9 0 1 0 1746.1,298.0Z" fill="#5a5a5a" stroke="#5a5a5a" stroke-width="5" stroke-linejoin="round"/>
<path d="M1781.6,298.1 L1782.2,294.6 L1782.8,291.0 L1783.4,287.5 L1784.0,284.0 L1784.7,280.5 L1785.3,276.9 L1785.9,273.4 L1786.5,269.9 L1787.1,266.4 L1787.7,262.8 L1788.4,259.3 L1789.0,255.8 L1789.2,252.3 L1789.2,248.7 L1789.3,245.2 L1789.3,241.7 L1789.4,238.1 L1789.5,234.6 L1789.5,231.0 L1789.6,227.5 L1789.5,225.1 L1789.1,222.7 L1788.4,220.4 L1787.4,218.3 L1786.2,216.5 L1784.7,214.9 L1783.1,213.6 L1781.3,212.6 L1779.4,212.0 L1777.5,211.8 L1777.5,211.8 L1775.6,211.9 L1773.7,212.5 L1771.9,213.4 L1770.2,214.6 L1768.7,216.2 L1767.4,218.0 L1766.4,220.1 L1765.6,222.3 L1765.1,224.7 L1764.9,227.1 L1764.8,230.6 L1764.8,234.1 L1764.7,237.7 L1764.6,241.2 L1764.6,244.8 L1764.5,248.3 L1764.4,251.8 L1764.5,255.4 L1765.0,258.9 L1765.5,262.5 L1766.0,266.0 L1766.5,269.5 L1767.0,273.1 L1767.5,276.6 L1768.0,280.2 L1768.5,283.7 L1769.0,287.3 L1769.5,290.8 L1769.9,294.4 L1770.4,297.9Z M1780.5,295.6 L1779.7,293.0 L1778.9,290.4 L1778.1,287.8 L1777.3,285.2 L1776.5,282.6 L1775.7,280.0 L1774.9,277.4 L1774.1,274.8 L1773.3,272.2 L1772.5,269.6 L1771.7,267.0 L1770.9,264.4 L1769.8,262.0 L1768.5,259.6 L1767.3,257.3 L1766.0,254.9 L1764.8,252.6 L1763.5,250.2 L1762.3,247.9 L1761.0,245.5 L1760.0,243.9 L1758.8,242.6 L1757.4,241.4 L1755.8,240.4 L1754.2,239.7 L1752.4,239.3 L1750.6,239.2 L1748.8,239.4 L1747.1,239.8 L1745.4,240.5 L1745.4,240.5 L1743.9,241.5 L1742.6,242.7 L1741.5,244.1 L1740.6,245.6 L1739.9,247.3 L1739.5,249.1 L1739.5,250.9 L1739.7,252.7 L1740.1,254.5 L1740.9,256.2 L1742.1,258.6 L1743.4,260.9 L1744.6,263.3 L1745.9,265.6 L1747.1,268.0 L1748.4,270.4 L1749.6,272.7 L1751.0,275.0 L1752.7,277.1 L1754.4,279.3 L1756.1,281.4 L1757.8,283.5 L1759.5,285.6 L1761.2,287.7 L1762.9,289.8 L1764.6,291.9 L1766.3,294.1 L1768.1,296.2 L1769.8,298.3 L1771.5,300.4Z M1779.3,293.5 L1777.1,291.2 L1774.9,289.0 L1772.7,286.7 L1770.5,284.4 L1768.4,282.1 L1766.2,279.9 L1764.0,277.6 L1761.8,275.3 L1759.6,273.0 L1757.4,270.8 L1755.3,268.5 L1753.1,266.2 L1750.6,264.3 L1748.1,262.5 L1745.6,260.6 L1743.1,258.8 L1740.6,257.0 L1738.1,255.2 L1735.6,253.4 L1733.1,251.5 L1731.2,250.4 L1729.3,249.5 L1727.3,249.0 L1725.2,248.7 L1723.1,248.8 L1721.1,249.2 L1719.3,249.9 L1717.6,250.8 L1716.0,252.1 L1714.8,253.5 L1714.8,253.5 L1713.8,255.2 L1713.1,257.0 L1712.7,258.9 L1712.6,260.9 L1712.9,262.9 L1713.4,264.9 L1714.3,266.8 L1715.5,268.6 L1716.9,270.1 L1718.5,271.5 L1721.0,273.3 L1723.6,275.2 L1726.1,277.0 L1728.6,278.8 L1731.1,280.6 L1733.6,282.5 L1736.1,284.3 L1738.7,286.0 L1741.5,287.4 L1744.4,288.8 L1747.2,290.1 L1750.0,291.5 L1752.9,292.9 L1755.7,294.3 L1758.5,295.6 L1761.4,297.0 L1764.2,298.4 L1767.1,299.8 L1769.9,301.1 L1772.7,302.5Z M1780.7,302.3 L1783.4,300.3 L1786.2,298.3 L1788.9,296.3 L1791.6,294.3 L1794.3,292.3 L1797.0,290.3 L1799.7,288.2 L1802.5,286.2 L1805.2,284.2 L1807.9,282.2 L1810.6,280.2 L1813.3,278.2 L1815.7,275.8 L1817.9,273.4 L1820.1,270.9 L1822.4,268.5 L1824.6,266.0 L1826.9,263.6 L1829.1,261.1 L1831.4,258.7 L1832.8,256.9 L1833.9,254.9 L1834.7,252.8 L1835.1,250.5 L1835.2,248.3 L1835.0,246.0 L1834.4,243.9 L1833.5,241.8 L1832.2,239.9 L1830.7,238.3 L1830.7,238.3 L1828.9,236.9 L1827.0,235.9 L1824.9,235.1 L1822.6,234.7 L1820.4,234.6 L1818.1,234.9 L1816.0,235.6 L1813.9,236.6 L1812.0,237.9 L1810.3,239.4 L1808.1,241.9 L1805.9,244.3 L1803.6,246.8 L1801.4,249.2 L1799.1,251.7 L1796.9,254.1 L1794.6,256.6 L1792.5,259.1 L1790.7,262.0 L1789.0,264.8 L1787.2,267.7 L1785.4,270.6 L1783.6,273.5 L1781.9,276.4 L1780.1,279.3 L1778.3,282.1 L1776.6,285.0 L1774.8,287.9 L1773.0,290.8 L1771.3,293.7Z M1777.9,304.1 L1781.5,303.7 L1785.2,303.3 L1788.8,302.8 L1792.4,302.4 L1796.1,301.9 L1799.7,301.5 L1803.3,301.1 L1807.0,300.6 L1810.6,300.2 L1814.3,299.7 L1817.9,299.3 L1821.5,298.9 L1825.0,297.9 L1828.5,296.9 L1831.9,295.8 L1835.4,294.8 L1838.8,293.7 L1842.3,292.6 L1845.7,291.6 L1849.2,290.5 L1851.5,289.6 L1853.7,288.4 L1855.6,286.9 L1857.3,285.2 L1858.7,283.3 L1859.7,281.2 L1860.4,279.0 L1860.7,276.7 L1860.6,274.5 L1860.2,272.3 L1860.2,272.3 L1859.3,270.2 L1858.1,268.3 L1856.6,266.6 L1854.8,265.1 L1852.8,264.0 L1850.5,263.2 L1848.2,262.7 L1845.7,262.5 L1843.3,262.7 L1840.8,263.3 L1837.4,264.3 L1833.9,265.4 L1830.5,266.4 L1827.0,267.5 L1823.6,268.5 L1820.1,269.6 L1816.7,270.7 L1813.3,271.8 L1810.0,273.5 L1806.7,275.2 L1803.5,276.8 L1800.2,278.5 L1797.0,280.2 L1793.7,281.8 L1790.4,283.5 L1787.2,285.2 L1783.9,286.9 L1780.6,288.5 L1777.4,290.2 L1774.1,291.9Z M1775.7,303.6 L1778.7,304.3 L1781.6,305.0 L1784.6,305.7 L1787.6,306.4 L1790.5,307.1 L1793.5,307.8 L1796.4,308.5 L1799.4,309.3 L1802.4,310.0 L1805.3,310.7 L1808.3,311.4 L1811.2,312.1 L1814.2,312.4 L1817.2,312.5 L1820.2,312.7 L1823.2,312.8 L1826.2,313.0 L1829.2,313.2 L1832.2,313.3 L1835.2,313.5 L1837.2,313.4 L1839.3,313.1 L1841.2,312.4 L1843.0,311.5 L1844.6,310.3 L1846.1,308.9 L1847.2,307.3 L1848.1,305.6 L1848.7,303.7 L1848.9,301.8 L1848.9,301.8 L1848.9,299.9 L1848.5,298.0 L1847.8,296.1 L1846.8,294.4 L1845.6,292.9 L1844.1,291.6 L1842.3,290.5 L1840.5,289.6 L1838.5,289.1 L1836.5,288.8 L1833.5,288.6 L1830.5,288.5 L1827.5,288.3 L1824.5,288.2 L1821.5,288.0 L1818.5,287.9 L1815.5,287.7 L1812.5,287.7 L1809.5,288.1 L1806.5,288.5 L1803.5,288.9 L1800.4,289.2 L1797.4,289.6 L1794.4,290.0 L1791.4,290.4 L1788.4,290.8 L1785.4,291.2 L1782.3,291.6 L1779.3,292.0 L1776.3,292.4Z M1774.2,303.7 L1777.1,305.2 L1780.0,306.8 L1782.9,308.3 L1785.8,309.8 L1788.7,311.3 L1791.6,312.8 L1794.5,314.3 L1797.4,315.8 L1800.3,317.3 L1803.2,318.9 L1806.1,320.4 L1809.0,321.9 L1812.0,322.9 L1815.1,323.9 L1818.2,324.8 L1821.2,325.7 L1824.3,326.7 L1827.4,327.6 L1830.5,328.6 L1833.5,329.5 L1835.7,330.0 L1837.9,330.2 L1840.1,330.0 L1842.2,329.5 L1844.2,328.7 L1846.0,327.6 L1847.7,326.2 L1849.0,324.6 L1850.1,322.8 L1850.9,320.9 L1850.9,320.9 L1851.3,318.9 L1851.4,316.8 L1851.2,314.7 L1850.6,312.6 L1849.7,310.7 L1848.5,308.9 L1847.0,307.3 L1845.3,305.9 L1843.4,304.9 L1841.3,304.1 L1838.2,303.1 L1835.2,302.2 L1832.1,301.2 L1829.0,300.3 L1826.0,299.4 L1822.9,298.4 L1819.8,297.5 L1816.7,296.7 L1813.5,296.3 L1810.2,295.9 L1807.0,295.6 L1803.7,295.2 L1800.5,294.8 L1797.2,294.5 L1794.0,294.1 L1790.7,293.7 L1787.5,293.4 L1784.2,293.0 L1781.0,292.6 L1777.8,292.3Z M1770.8,300.0 L1771.4,303.1 L1772.1,306.2 L1772.7,309.3 L1773.3,312.4 L1773.9,315.5 L1774.5,318.6 L1775.2,321.7 L1775.8,324.8 L1776.4,327.9 L1777.0,330.9 L1777.6,334.0 L1778.3,337.1 L1779.3,340.1 L1780.4,342.9 L1781.6,345.8 L1782.7,348.7 L1783.8,351.6 L1785.0,354.5 L1786.1,357.4 L1787.2,360.3 L1788.2,362.2 L1789.4,364.0 L1790.8,365.5 L1792.4,366.9 L1794.1,367.9 L1796.0,368.7 L1798.0,369.1 L1799.9,369.2 L1801.9,369.0 L1803.7,368.4 L1803.7,368.4 L1805.5,367.5 L1807.0,366.4 L1808.4,365.0 L1809.5,363.3 L1810.4,361.5 L1811.0,359.5 L1811.3,357.5 L1811.2,355.3 L1810.9,353.2 L1810.2,351.2 L1809.1,348.3 L1808.0,345.4 L1806.8,342.6 L1805.7,339.7 L1804.6,336.8 L1803.4,333.9 L1802.3,331.0 L1801.0,328.2 L1799.4,325.5 L1797.7,322.8 L1796.1,320.1 L1794.4,317.4 L1792.8,314.7 L1791.1,312.1 L1789.5,309.4 L1787.8,306.7 L1786.1,304.0 L1784.5,301.3 L1782.8,298.6 L1781.2,296.0Z M1770.5,298.4 L1770.1,301.7 L1769.8,304.9 L1769.5,308.2 L1769.1,311.5 L1768.8,314.8 L1768.5,318.1 L1768.1,321.3 L1767.8,324.6 L1767.5,327.9 L1767.2,331.2 L1766.8,334.4 L1766.5,337.7 L1766.6,341.0 L1766.8,344.2 L1767.1,347.5 L1767.3,350.7 L1767.5,353.9 L1767.8,357.2 L1768.0,360.4 L1768.2,363.6 L1768.5,365.9 L1769.1,368.0 L1770.0,370.0 L1771.1,371.8 L1772.5,373.5 L1774.1,374.8 L1775.8,375.8 L1777.7,376.6 L1779.6,377.0 L1781.5,377.0 L1781.5,377.0 L1783.4,376.7 L1785.3,376.0 L1787.0,375.1 L1788.6,373.8 L1789.9,372.2 L1791.1,370.4 L1792.0,368.5 L1792.6,366.4 L1792.9,364.2 L1792.9,361.9 L1792.6,358.7 L1792.4,355.4 L1792.2,352.2 L1791.9,349.0 L1791.7,345.7 L1791.5,342.5 L1791.3,339.2 L1790.9,336.0 L1790.2,332.8 L1789.4,329.6 L1788.6,326.4 L1787.8,323.2 L1787.0,320.0 L1786.2,316.8 L1785.5,313.6 L1784.7,310.4 L1783.9,307.2 L1783.1,304.0 L1782.3,300.8 L1781.5,297.6Z M1770.6,296.6 L1769.4,299.1 L1768.1,301.6 L1766.9,304.2 L1765.6,306.7 L1764.3,309.3 L1763.1,311.8 L1761.8,314.3 L1760.6,316.9 L1759.3,319.4 L1758.1,322.0 L1756.8,324.5 L1755.5,327.0 L1754.7,329.7 L1754.0,332.4 L1753.3,335.1 L1752.6,337.7 L1751.8,340.4 L1751.1,343.1 L1750.4,345.8 L1749.7,348.5 L1749.3,350.4 L1749.3,352.3 L1749.6,354.2 L1750.1,356.0 L1750.9,357.7 L1752.1,359.3 L1753.4,360.7 L1754.9,361.9 L1756.6,362.8 L1758.5,363.5 L1758.5,363.5 L1760.4,363.8 L1762.3,363.9 L1764.2,363.6 L1766.1,363.1 L1767.8,362.3 L1769.4,361.2 L1770.8,359.9 L1772.0,358.4 L1772.9,356.7 L1773.6,354.9 L1774.3,352.2 L1775.0,349.5 L1775.7,346.8 L1776.4,344.1 L1777.1,341.5 L1777.9,338.8 L1778.6,336.1 L1779.2,333.4 L1779.4,330.5 L1779.6,327.7 L1779.7,324.9 L1779.9,322.1 L1780.1,319.2 L1780.3,316.4 L1780.5,313.6 L1780.6,310.7 L1780.8,307.9 L1781.0,305.1 L1781.2,302.3 L1781.4,299.4Z M1772.8,292.9 L1769.9,294.0 L1767.1,295.1 L1764.2,296.2 L1761.3,297.3 L1758.4,298.4 L1755.5,299.5 L1752.6,300.6 L1749.7,301.7 L1746.8,302.8 L1743.9,303.9 L1741.1,305.0 L1738.2,306.1 L1735.5,307.6 L1733.0,309.2 L1730.4,310.8 L1727.8,312.4 L1725.3,314.0 L1722.7,315.6 L1720.1,317.2 L1717.5,318.8 L1715.9,320.1 L1714.4,321.6 L1713.2,323.3 L1712.3,325.1 L1711.6,327.1 L1711.3,329.2 L1711.3,331.3 L1711.7,333.3 L1712.3,335.3 L1713.3,337.2 L1713.3,337.2 L1714.6,338.8 L1716.0,340.3 L1717.7,341.5 L1719.6,342.5 L1721.6,343.1 L1723.7,343.4 L1725.8,343.4 L1727.8,343.0 L1729.8,342.4 L1731.6,341.4 L1734.2,339.8 L1736.8,338.2 L1739.4,336.6 L1741.9,335.0 L1744.5,333.4 L1747.1,331.8 L1749.6,330.2 L1752.1,328.5 L1754.4,326.3 L1756.7,324.2 L1758.9,322.1 L1761.2,320.0 L1763.4,317.9 L1765.7,315.8 L1767.9,313.7 L1770.2,311.5 L1772.4,309.4 L1774.7,307.3 L1776.9,305.2 L1779.2,303.1Z M1776.6,292.5 L1774.3,291.7 L1772.0,290.9 L1769.7,290.1 L1767.3,289.3 L1765.0,288.5 L1762.7,287.7 L1760.4,286.8 L1758.1,286.0 L1755.8,285.2 L1753.5,284.4 L1751.2,283.6 L1748.9,282.8 L1746.5,282.5 L1744.1,282.2 L1741.8,282.0 L1739.4,281.7 L1737.0,281.5 L1734.7,281.2 L1732.3,281.0 L1729.9,280.7 L1728.3,280.7 L1726.7,281.0 L1725.1,281.6 L1723.6,282.4 L1722.2,283.6 L1721.0,284.9 L1720.0,286.5 L1719.1,288.2 L1718.6,290.0 L1718.2,291.9 L1718.2,291.9 L1718.2,293.9 L1718.3,295.8 L1718.8,297.6 L1719.5,299.4 L1720.4,300.9 L1721.5,302.3 L1722.8,303.5 L1724.2,304.4 L1725.7,305.0 L1727.3,305.3 L1729.7,305.6 L1732.1,305.8 L1734.4,306.1 L1736.8,306.3 L1739.2,306.6 L1741.6,306.8 L1743.9,307.1 L1746.3,307.2 L1748.7,306.9 L1751.2,306.6 L1753.6,306.3 L1756.0,306.0 L1758.4,305.7 L1760.9,305.4 L1763.3,305.1 L1765.7,304.8 L1768.1,304.4 L1770.6,304.1 L1773.0,303.8 L1775.4,303.5Z" fill="url(#pg2)"/><circle cx="1776" cy="298" r="32.6" fill="url(#pg2)"/>
<path d="M1789.2,248.2 L1782.5,246.1 M1764.7,235.7 L1771.6,233.8 M1789.5,225.8 L1782.8,223.7 M1766.3,220.2 L1773.1,218.3 M1768.3,259.3 L1761.9,260.5 M1743.9,262.0 L1748.5,257.2 M1760.3,244.4 L1753.8,245.6 M1739.5,251.0 L1744.1,246.3 M1747.8,262.2 L1742.1,266.5 M1724.7,276.0 L1727.0,269.3 M1731.8,250.7 L1726.2,255.0 M1714.4,266.9 L1716.8,260.2 M1818.2,273.0 L1813.8,266.2 M1804.9,245.4 L1812.0,249.2 M1832.4,257.4 L1828.0,250.7 M1815.8,235.7 L1822.9,239.5 M1829.0,296.7 L1828.6,288.6 M1832.4,265.8 L1836.6,272.8 M1850.8,289.9 L1850.5,281.9 M1848.0,262.6 L1852.2,269.5 M1817.7,312.6 L1820.0,305.9 M1829.2,288.4 L1830.8,295.3 M1836.6,313.5 L1839.0,306.8 M1842.2,290.4 L1843.9,297.3 M1815.6,324.0 L1819.6,317.6 M1833.8,301.8 L1833.6,309.3 M1835.0,329.9 L1839.1,323.5 M1846.9,307.2 L1846.7,314.8 M1780.6,343.4 L1787.6,342.7 M1807.5,344.2 L1801.9,348.5 M1787.9,361.6 L1794.9,361.0 M1811.3,357.3 L1805.7,361.7 M1766.9,344.7 L1773.8,346.2 M1792.3,354.0 L1785.7,356.5 M1768.4,365.2 L1775.3,366.7 M1792.0,368.3 L1785.4,370.8 M1753.9,332.8 L1759.9,336.5 M1775.3,348.3 L1768.2,348.5 M1749.4,349.8 L1755.5,353.5 M1770.9,359.8 L1763.8,359.9 M1732.6,309.4 L1734.8,316.7 M1737.9,337.5 L1732.3,332.3 M1716.3,319.7 L1718.5,327.0 M1725.9,343.4 L1720.3,338.2 M1743.8,282.2 L1741.1,288.7 M1733.1,305.9 L1731.8,298.9 M1728.8,280.7 L1726.1,287.2 M1722.9,303.5 L1721.6,296.6" stroke="#5a5a5a" stroke-width="3" fill="none"/>
<radialGradient id="pg3" gradientUnits="userSpaceOnUse" cx="1686" cy="322" r="105.0"><stop offset="0" stop-color="#000000"/><stop offset="0.28" stop-color="#0c1600"/><stop offset="0.58" stop-color="#4a720c"/><stop offset="0.86" stop-color="#94cc20"/><stop offset="1" stop-color="#b4f02a"/></radialGradient>
<path d="M1692.6,322.1 L1693.4,317.9 L1694.1,313.7 L1694.8,309.5 L1695.6,305.3 L1696.3,301.1 L1697.1,296.9 L1697.8,292.7 L1698.5,288.5 L1699.3,284.3 L1700.0,280.0 L1700.8,275.8 L1701.5,271.6 L1701.7,267.4 L1701.8,263.2 L1701.8,259.0 L1701.9,254.8 L1702.0,250.5 L1702.1,246.3 L1702.1,242.1 L1702.2,237.9 L1702.1,235.0 L1701.6,232.2 L1700.8,229.5 L1699.6,227.0 L1698.1,224.7 L1696.4,222.8 L1694.5,221.3 L1692.3,220.1 L1690.1,219.4 L1687.8,219.1 L1687.8,219.1 L1685.5,219.3 L1683.2,219.9 L1681.1,221.0 L1679.1,222.5 L1677.3,224.4 L1675.7,226.5 L1674.5,229.0 L1673.6,231.7 L1673.0,234.5 L1672.7,237.4 L1672.7,241.6 L1672.6,245.8 L1672.5,250.0 L1672.4,254.3 L1672.4,258.5 L1672.3,262.7 L1672.2,266.9 L1672.3,271.1 L1672.9,275.4 L1673.5,279.6 L1674.0,283.8 L1674.6,288.0 L1675.2,292.3 L1675.8,296.5 L1676.4,300.7 L1677.0,305.0 L1677.6,309.2 L1678.2,313.4 L1678.8,317.7 L1679.4,321.9Z M1691.4,319.1 L1690.5,316.0 L1689.5,312.9 L1688.5,309.8 L1687.6,306.7 L1686.6,303.6 L1685.7,300.5 L1684.7,297.4 L1683.8,294.3 L1682.8,291.2 L1681.9,288.1 L1680.9,285.0 L1680.0,281.9 L1678.6,279.0 L1677.1,276.2 L1675.6,273.4 L1674.1,270.6 L1672.6,267.8 L1671.1,265.0 L1669.6,262.2 L1668.1,259.4 L1666.9,257.5 L1665.5,255.9 L1663.8,254.4 L1661.9,253.3 L1659.9,252.5 L1657.8,252.0 L1655.7,251.8 L1653.6,252.0 L1651.5,252.5 L1649.5,253.4 L1649.5,253.4 L1647.7,254.5 L1646.1,256.0 L1644.8,257.6 L1643.7,259.5 L1642.9,261.5 L1642.5,263.7 L1642.4,265.8 L1642.6,268.0 L1643.2,270.1 L1644.1,272.1 L1645.6,274.9 L1647.1,277.8 L1648.6,280.6 L1650.1,283.4 L1651.6,286.2 L1653.0,289.0 L1654.5,291.8 L1656.1,294.6 L1658.2,297.1 L1660.2,299.6 L1662.3,302.2 L1664.3,304.7 L1666.3,307.2 L1668.4,309.7 L1670.4,312.3 L1672.4,314.8 L1674.5,317.3 L1676.5,319.8 L1678.6,322.4 L1680.6,324.9Z M1689.9,316.6 L1687.3,313.9 L1684.7,311.2 L1682.1,308.5 L1679.5,305.8 L1676.9,303.1 L1674.3,300.3 L1671.7,297.6 L1669.1,294.9 L1666.5,292.2 L1663.9,289.5 L1661.3,286.8 L1658.6,284.1 L1655.7,281.8 L1652.7,279.6 L1649.7,277.4 L1646.7,275.3 L1643.7,273.1 L1640.8,270.9 L1637.8,268.7 L1634.8,266.6 L1632.6,265.2 L1630.3,264.2 L1627.8,263.5 L1625.4,263.2 L1622.9,263.3 L1620.6,263.7 L1618.3,264.5 L1616.3,265.7 L1614.5,267.2 L1612.9,268.9 L1612.9,268.9 L1611.8,270.9 L1610.9,273.1 L1610.4,275.4 L1610.4,277.8 L1610.7,280.2 L1611.4,282.5 L1612.4,284.8 L1613.8,286.9 L1615.5,288.8 L1617.4,290.4 L1620.4,292.6 L1623.4,294.8 L1626.4,296.9 L1629.4,299.1 L1632.4,301.3 L1635.4,303.5 L1638.4,305.6 L1641.5,307.7 L1644.9,309.3 L1648.2,311.0 L1651.6,312.6 L1655.0,314.3 L1658.4,315.9 L1661.8,317.5 L1665.2,319.2 L1668.6,320.8 L1671.9,322.5 L1675.3,324.1 L1678.7,325.7 L1682.1,327.4Z M1691.6,327.2 L1694.9,324.8 L1698.1,322.4 L1701.4,320.0 L1704.6,317.6 L1707.9,315.2 L1711.1,312.8 L1714.3,310.4 L1717.6,308.0 L1720.8,305.6 L1724.1,303.2 L1727.3,300.8 L1730.5,298.3 L1733.3,295.5 L1736.0,292.6 L1738.7,289.7 L1741.4,286.8 L1744.0,283.9 L1746.7,280.9 L1749.4,278.0 L1752.1,275.1 L1753.7,272.9 L1755.1,270.6 L1756.0,268.0 L1756.6,265.4 L1756.7,262.7 L1756.4,260.0 L1755.7,257.4 L1754.6,255.0 L1753.1,252.7 L1751.3,250.8 L1751.3,250.8 L1749.2,249.1 L1746.8,247.9 L1744.3,247.0 L1741.6,246.5 L1739.0,246.4 L1736.3,246.8 L1733.7,247.5 L1731.2,248.7 L1729.0,250.2 L1727.0,252.1 L1724.3,255.0 L1721.6,257.9 L1718.9,260.9 L1716.3,263.8 L1713.6,266.7 L1710.9,269.6 L1708.2,272.5 L1705.7,275.6 L1703.6,279.0 L1701.5,282.4 L1699.3,285.9 L1697.2,289.3 L1695.1,292.8 L1693.0,296.2 L1690.9,299.6 L1688.8,303.1 L1686.7,306.5 L1684.6,310.0 L1682.5,313.4 L1680.4,316.8Z M1688.2,329.3 L1692.6,328.8 L1696.9,328.3 L1701.3,327.7 L1705.6,327.2 L1709.9,326.7 L1714.3,326.2 L1718.6,325.6 L1723.0,325.1 L1727.3,324.6 L1731.6,324.1 L1736.0,323.5 L1740.3,323.0 L1744.5,321.9 L1748.6,320.6 L1752.7,319.4 L1756.8,318.1 L1761.0,316.9 L1765.1,315.6 L1769.2,314.4 L1773.3,313.1 L1776.1,312.0 L1778.7,310.6 L1781.0,308.8 L1783.0,306.7 L1784.6,304.4 L1785.9,301.9 L1786.7,299.3 L1787.1,296.6 L1787.0,293.9 L1786.4,291.3 L1786.4,291.3 L1785.4,288.8 L1784.0,286.5 L1782.2,284.5 L1780.0,282.8 L1777.6,281.4 L1774.9,280.4 L1772.1,279.8 L1769.2,279.6 L1766.3,279.9 L1763.4,280.6 L1759.2,281.8 L1755.1,283.1 L1751.0,284.3 L1746.9,285.6 L1742.8,286.9 L1738.7,288.1 L1734.5,289.4 L1730.5,290.8 L1726.6,292.8 L1722.7,294.8 L1718.8,296.7 L1714.9,298.7 L1711.0,300.7 L1707.1,302.7 L1703.2,304.7 L1699.3,306.7 L1695.4,308.7 L1691.5,310.7 L1687.7,312.7 L1683.8,314.7Z M1685.7,328.6 L1689.2,329.5 L1692.7,330.3 L1696.3,331.2 L1699.8,332.0 L1703.3,332.9 L1706.9,333.7 L1710.4,334.6 L1713.9,335.4 L1717.5,336.3 L1721.0,337.1 L1724.5,338.0 L1728.1,338.8 L1731.6,339.2 L1735.2,339.3 L1738.8,339.5 L1742.3,339.7 L1745.9,339.9 L1749.5,340.1 L1753.0,340.3 L1756.6,340.5 L1759.1,340.4 L1761.5,340.0 L1763.8,339.2 L1765.9,338.1 L1767.9,336.7 L1769.6,335.1 L1771.0,333.2 L1772.0,331.1 L1772.7,328.9 L1773.0,326.6 L1773.0,326.6 L1773.0,324.2 L1772.5,322.0 L1771.7,319.8 L1770.5,317.8 L1769.0,315.9 L1767.2,314.3 L1765.2,313.0 L1762.9,312.0 L1760.6,311.3 L1758.1,311.0 L1754.6,310.8 L1751.0,310.6 L1747.4,310.5 L1743.9,310.3 L1740.3,310.1 L1736.7,309.9 L1733.2,309.7 L1729.6,309.7 L1726.0,310.1 L1722.4,310.6 L1718.8,311.1 L1715.2,311.6 L1711.6,312.0 L1708.0,312.5 L1704.4,313.0 L1700.8,313.5 L1697.2,313.9 L1693.6,314.4 L1690.0,314.9 L1686.3,315.4Z M1683.9,328.8 L1687.4,330.6 L1690.8,332.4 L1694.3,334.2 L1697.7,336.1 L1701.2,337.9 L1704.6,339.7 L1708.1,341.5 L1711.5,343.3 L1715.0,345.1 L1718.5,346.9 L1721.9,348.7 L1725.4,350.5 L1729.0,351.7 L1732.7,352.9 L1736.3,354.0 L1740.0,355.1 L1743.6,356.2 L1747.3,357.3 L1751.0,358.5 L1754.6,359.6 L1757.2,360.2 L1759.8,360.4 L1762.4,360.2 L1765.0,359.6 L1767.4,358.6 L1769.6,357.3 L1771.5,355.7 L1773.1,353.8 L1774.4,351.6 L1775.4,349.3 L1775.4,349.3 L1775.9,346.9 L1776.0,344.4 L1775.7,341.9 L1775.0,339.5 L1773.9,337.1 L1772.5,335.0 L1770.7,333.1 L1768.7,331.5 L1766.4,330.2 L1763.9,329.2 L1760.3,328.1 L1756.6,327.0 L1752.9,325.9 L1749.3,324.7 L1745.6,323.6 L1741.9,322.5 L1738.3,321.4 L1734.6,320.4 L1730.7,320.0 L1726.8,319.5 L1722.9,319.1 L1719.1,318.7 L1715.2,318.2 L1711.3,317.8 L1707.5,317.3 L1703.6,316.9 L1699.7,316.5 L1695.8,316.0 L1692.0,315.6 L1688.1,315.2Z M1679.8,324.4 L1680.6,328.1 L1681.3,331.8 L1682.0,335.5 L1682.8,339.2 L1683.5,342.9 L1684.3,346.6 L1685.0,350.2 L1685.7,353.9 L1686.5,357.6 L1687.2,361.3 L1687.9,365.0 L1688.7,368.7 L1689.9,372.2 L1691.3,375.6 L1692.6,379.1 L1694.0,382.5 L1695.4,386.0 L1696.7,389.4 L1698.1,392.9 L1699.4,396.3 L1700.5,398.6 L1701.9,400.7 L1703.6,402.6 L1705.5,404.2 L1707.7,405.4 L1709.9,406.3 L1712.2,406.8 L1714.6,406.9 L1716.9,406.7 L1719.1,406.0 L1719.1,406.0 L1721.2,405.0 L1723.0,403.6 L1724.7,401.9 L1726.0,400.0 L1727.0,397.8 L1727.7,395.4 L1728.1,392.9 L1728.0,390.4 L1727.6,387.9 L1726.9,385.5 L1725.5,382.0 L1724.1,378.6 L1722.8,375.2 L1721.4,371.7 L1720.1,368.3 L1718.7,364.8 L1717.4,361.4 L1715.9,358.0 L1713.9,354.8 L1711.9,351.6 L1710.0,348.4 L1708.0,345.2 L1706.0,342.0 L1704.0,338.8 L1702.0,335.6 L1700.1,332.4 L1698.1,329.2 L1696.1,326.0 L1694.1,322.8 L1692.2,319.6Z M1679.4,322.5 L1679.0,326.4 L1678.6,330.3 L1678.2,334.2 L1677.8,338.1 L1677.4,342.0 L1677.0,345.9 L1676.6,349.8 L1676.2,353.8 L1675.8,357.7 L1675.5,361.6 L1675.1,365.5 L1674.7,369.4 L1674.8,373.3 L1675.1,377.1 L1675.3,381.0 L1675.6,384.9 L1675.9,388.7 L1676.2,392.6 L1676.4,396.5 L1676.7,400.3 L1677.1,403.0 L1677.8,405.5 L1678.8,407.9 L1680.2,410.1 L1681.8,412.0 L1683.7,413.6 L1685.8,414.9 L1688.0,415.8 L1690.3,416.2 L1692.6,416.3 L1692.6,416.3 L1694.9,415.9 L1697.1,415.1 L1699.1,414.0 L1701.0,412.4 L1702.6,410.6 L1704.0,408.4 L1705.0,406.1 L1705.8,403.6 L1706.1,400.9 L1706.1,398.3 L1705.8,394.4 L1705.6,390.5 L1705.3,386.7 L1705.0,382.8 L1704.8,378.9 L1704.5,375.1 L1704.2,371.2 L1703.8,367.4 L1702.9,363.5 L1702.0,359.7 L1701.0,355.9 L1700.1,352.1 L1699.2,348.3 L1698.2,344.4 L1697.3,340.6 L1696.4,336.8 L1695.4,333.0 L1694.5,329.2 L1693.6,325.4 L1692.6,321.5Z M1679.6,320.3 L1678.1,323.3 L1676.6,326.3 L1675.1,329.4 L1673.6,332.4 L1672.1,335.4 L1670.6,338.5 L1669.1,341.5 L1667.6,344.5 L1666.1,347.6 L1664.6,350.6 L1663.1,353.6 L1661.6,356.6 L1660.6,359.8 L1659.7,363.0 L1658.9,366.2 L1658.0,369.4 L1657.2,372.6 L1656.3,375.8 L1655.5,379.0 L1654.6,382.2 L1654.2,384.5 L1654.1,386.8 L1654.4,389.0 L1655.1,391.2 L1656.1,393.3 L1657.4,395.2 L1659.0,396.8 L1660.9,398.2 L1662.9,399.3 L1665.1,400.1 L1665.1,400.1 L1667.3,400.5 L1669.7,400.6 L1671.9,400.3 L1674.2,399.7 L1676.2,398.7 L1678.1,397.4 L1679.8,395.8 L1681.2,394.0 L1682.3,392.0 L1683.1,389.9 L1683.9,386.7 L1684.8,383.4 L1685.7,380.2 L1686.5,377.0 L1687.4,373.8 L1688.2,370.6 L1689.1,367.4 L1689.8,364.2 L1690.0,360.8 L1690.3,357.5 L1690.5,354.1 L1690.7,350.7 L1690.9,347.3 L1691.1,344.0 L1691.3,340.6 L1691.5,337.2 L1691.8,333.8 L1692.0,330.5 L1692.2,327.1 L1692.4,323.7Z M1682.2,315.9 L1678.8,317.3 L1675.3,318.6 L1671.9,319.9 L1668.4,321.2 L1665.0,322.5 L1661.5,323.8 L1658.1,325.1 L1654.6,326.4 L1651.2,327.7 L1647.8,329.0 L1644.3,330.3 L1640.9,331.7 L1637.7,333.4 L1634.7,335.4 L1631.6,337.3 L1628.5,339.2 L1625.5,341.1 L1622.4,343.0 L1619.3,344.9 L1616.3,346.9 L1614.3,348.3 L1612.5,350.1 L1611.1,352.1 L1609.9,354.4 L1609.2,356.8 L1608.8,359.2 L1608.9,361.7 L1609.3,364.2 L1610.1,366.5 L1611.2,368.7 L1611.2,368.7 L1612.7,370.7 L1614.5,372.5 L1616.5,373.9 L1618.7,375.0 L1621.1,375.8 L1623.6,376.2 L1626.0,376.1 L1628.5,375.7 L1630.9,374.9 L1633.1,373.8 L1636.1,371.9 L1639.2,370.0 L1642.3,368.0 L1645.3,366.1 L1648.4,364.2 L1651.5,362.3 L1654.5,360.4 L1657.5,358.3 L1660.2,355.8 L1662.9,353.3 L1665.6,350.8 L1668.3,348.2 L1671.0,345.7 L1673.7,343.2 L1676.3,340.7 L1679.0,338.2 L1681.7,335.6 L1684.4,333.1 L1687.1,330.6 L1689.8,328.1Z M1686.7,315.4 L1683.9,314.4 L1681.2,313.5 L1678.4,312.5 L1675.7,311.6 L1672.9,310.6 L1670.2,309.7 L1667.4,308.7 L1664.6,307.7 L1661.9,306.8 L1659.1,305.8 L1656.4,304.9 L1653.6,303.9 L1650.8,303.5 L1648.0,303.2 L1645.2,302.9 L1642.3,302.6 L1639.5,302.3 L1636.7,302.0 L1633.9,301.7 L1631.0,301.4 L1629.1,301.4 L1627.1,301.7 L1625.2,302.4 L1623.4,303.4 L1621.8,304.8 L1620.4,306.4 L1619.1,308.2 L1618.2,310.3 L1617.5,312.5 L1617.1,314.8 L1617.1,314.8 L1617.0,317.1 L1617.2,319.4 L1617.7,321.6 L1618.5,323.6 L1619.6,325.5 L1620.9,327.2 L1622.5,328.5 L1624.2,329.6 L1626.0,330.3 L1627.9,330.7 L1630.8,331.0 L1633.6,331.3 L1636.4,331.6 L1639.2,331.9 L1642.1,332.2 L1644.9,332.5 L1647.7,332.8 L1650.6,333.0 L1653.5,332.6 L1656.4,332.2 L1659.2,331.9 L1662.1,331.5 L1665.0,331.1 L1667.9,330.8 L1670.8,330.4 L1673.7,330.1 L1676.6,329.7 L1679.5,329.3 L1682.4,329.0 L1685.3,328.6Z M1650.3,322.0 A35.7,35.7 0 1 0 1721.7,322.0 A35.7,35.7 0 1 0 1650.3,322.0Z" fill="#5a5a5a" stroke="#5a5a5a" stroke-width="5" stroke-linejoin="round"/>
<path d="M1692.6,322.1 L1693.4,317.9 L1694.1,313.7 L1694.8,309.5 L1695.6,305.3 L1696.3,301.1 L1697.1,296.9 L1697.8,292.7 L1698.5,288.5 L1699.3,284.3 L1700.0,280.0 L1700.8,275.8 L1701.5,271.6 L1701.7,267.4 L1701.8,263.2 L1701.8,259.0 L1701.9,254.8 L1702.0,250.5 L1702.1,246.3 L1702.1,242.1 L1702.2,237.9 L1702.1,235.0 L1701.6,232.2 L1700.8,229.5 L1699.6,227.0 L1698.1,224.7 L1696.4,222.8 L1694.5,221.3 L1692.3,220.1 L1690.1,219.4 L1687.8,219.1 L1687.8,219.1 L1685.5,219.3 L1683.2,219.9 L1681.1,221.0 L1679.1,222.5 L1677.3,224.4 L1675.7,226.5 L1674.5,229.0 L1673.6,231.7 L1673.0,234.5 L1672.7,237.4 L1672.7,241.6 L1672.6,245.8 L1672.5,250.0 L1672.4,254.3 L1672.4,258.5 L1672.3,262.7 L1672.2,266.9 L1672.3,271.1 L1672.9,275.4 L1673.5,279.6 L1674.0,283.8 L1674.6,288.0 L1675.2,292.3 L1675.8,296.5 L1676.4,300.7 L1677.0,305.0 L1677.6,309.2 L1678.2,313.4 L1678.8,317.7 L1679.4,321.9Z M1691.4,319.1 L1690.5,316.0 L1689.5,312.9 L1688.5,309.8 L1687.6,306.7 L1686.6,303.6 L1685.7,300.5 L1684.7,297.4 L1683.8,294.3 L1682.8,291.2 L1681.9,288.1 L1680.9,285.0 L1680.0,281.9 L1678.6,279.0 L1677.1,276.2 L1675.6,273.4 L1674.1,270.6 L1672.6,267.8 L1671.1,265.0 L1669.6,262.2 L1668.1,259.4 L1666.9,257.5 L1665.5,255.9 L1663.8,254.4 L1661.9,253.3 L1659.9,252.5 L1657.8,252.0 L1655.7,251.8 L1653.6,252.0 L1651.5,252.5 L1649.5,253.4 L1649.5,253.4 L1647.7,254.5 L1646.1,256.0 L1644.8,257.6 L1643.7,259.5 L1642.9,261.5 L1642.5,263.7 L1642.4,265.8 L1642.6,268.0 L1643.2,270.1 L1644.1,272.1 L1645.6,274.9 L1647.1,277.8 L1648.6,280.6 L1650.1,283.4 L1651.6,286.2 L1653.0,289.0 L1654.5,291.8 L1656.1,294.6 L1658.2,297.1 L1660.2,299.6 L1662.3,302.2 L1664.3,304.7 L1666.3,307.2 L1668.4,309.7 L1670.4,312.3 L1672.4,314.8 L1674.5,317.3 L1676.5,319.8 L1678.6,322.4 L1680.6,324.9Z M1689.9,316.6 L1687.3,313.9 L1684.7,311.2 L1682.1,308.5 L1679.5,305.8 L1676.9,303.1 L1674.3,300.3 L1671.7,297.6 L1669.1,294.9 L1666.5,292.2 L1663.9,289.5 L1661.3,286.8 L1658.6,284.1 L1655.7,281.8 L1652.7,279.6 L1649.7,277.4 L1646.7,275.3 L1643.7,273.1 L1640.8,270.9 L1637.8,268.7 L1634.8,266.6 L1632.6,265.2 L1630.3,264.2 L1627.8,263.5 L1625.4,263.2 L1622.9,263.3 L1620.6,263.7 L1618.3,264.5 L1616.3,265.7 L1614.5,267.2 L1612.9,268.9 L1612.9,268.9 L1611.8,270.9 L1610.9,273.1 L1610.4,275.4 L1610.4,277.8 L1610.7,280.2 L1611.4,282.5 L1612.4,284.8 L1613.8,286.9 L1615.5,288.8 L1617.4,290.4 L1620.4,292.6 L1623.4,294.8 L1626.4,296.9 L1629.4,299.1 L1632.4,301.3 L1635.4,303.5 L1638.4,305.6 L1641.5,307.7 L1644.9,309.3 L1648.2,311.0 L1651.6,312.6 L1655.0,314.3 L1658.4,315.9 L1661.8,317.5 L1665.2,319.2 L1668.6,320.8 L1671.9,322.5 L1675.3,324.1 L1678.7,325.7 L1682.1,327.4Z M1691.6,327.2 L1694.9,324.8 L1698.1,322.4 L1701.4,320.0 L1704.6,317.6 L1707.9,315.2 L1711.1,312.8 L1714.3,310.4 L1717.6,308.0 L1720.8,305.6 L1724.1,303.2 L1727.3,300.8 L1730.5,298.3 L1733.3,295.5 L1736.0,292.6 L1738.7,289.7 L1741.4,286.8 L1744.0,283.9 L1746.7,280.9 L1749.4,278.0 L1752.1,275.1 L1753.7,272.9 L1755.1,270.6 L1756.0,268.0 L1756.6,265.4 L1756.7,262.7 L1756.4,260.0 L1755.7,257.4 L1754.6,255.0 L1753.1,252.7 L1751.3,250.8 L1751.3,250.8 L1749.2,249.1 L1746.8,247.9 L1744.3,247.0 L1741.6,246.5 L1739.0,246.4 L1736.3,246.8 L1733.7,247.5 L1731.2,248.7 L1729.0,250.2 L1727.0,252.1 L1724.3,255.0 L1721.6,257.9 L1718.9,260.9 L1716.3,263.8 L1713.6,266.7 L1710.9,269.6 L1708.2,272.5 L1705.7,275.6 L1703.6,279.0 L1701.5,282.4 L1699.3,285.9 L1697.2,289.3 L1695.1,292.8 L1693.0,296.2 L1690.9,299.6 L1688.8,303.1 L1686.7,306.5 L1684.6,310.0 L1682.5,313.4 L1680.4,316.8Z M1688.2,329.3 L1692.6,328.8 L1696.9,328.3 L1701.3,327.7 L1705.6,327.2 L1709.9,326.7 L1714.3,326.2 L1718.6,325.6 L1723.0,325.1 L1727.3,324.6 L1731.6,324.1 L1736.0,323.5 L1740.3,323.0 L1744.5,321.9 L1748.6,320.6 L1752.7,319.4 L1756.8,318.1 L1761.0,316.9 L1765.1,315.6 L1769.2,314.4 L1773.3,313.1 L1776.1,312.0 L1778.7,310.6 L1781.0,308.8 L1783.0,306.7 L1784.6,304.4 L1785.9,301.9 L1786.7,299.3 L1787.1,296.6 L1787.0,293.9 L1786.4,291.3 L1786.4,291.3 L1785.4,288.8 L1784.0,286.5 L1782.2,284.5 L1780.0,282.8 L1777.6,281.4 L1774.9,280.4 L1772.1,279.8 L1769.2,279.6 L1766.3,279.9 L1763.4,280.6 L1759.2,281.8 L1755.1,283.1 L1751.0,284.3 L1746.9,285.6 L1742.8,286.9 L1738.7,288.1 L1734.5,289.4 L1730.5,290.8 L1726.6,292.8 L1722.7,294.8 L1718.8,296.7 L1714.9,298.7 L1711.0,300.7 L1707.1,302.7 L1703.2,304.7 L1699.3,306.7 L1695.4,308.7 L1691.5,310.7 L1687.7,312.7 L1683.8,314.7Z M1685.7,328.6 L1689.2,329.5 L1692.7,330.3 L1696.3,331.2 L1699.8,332.0 L1703.3,332.9 L1706.9,333.7 L1710.4,334.6 L1713.9,335.4 L1717.5,336.3 L1721.0,337.1 L1724.5,338.0 L1728.1,338.8 L1731.6,339.2 L1735.2,339.3 L1738.8,339.5 L1742.3,339.7 L1745.9,339.9 L1749.5,340.1 L1753.0,340.3 L1756.6,340.5 L1759.1,340.4 L1761.5,340.0 L1763.8,339.2 L1765.9,338.1 L1767.9,336.7 L1769.6,335.1 L1771.0,333.2 L1772.0,331.1 L1772.7,328.9 L1773.0,326.6 L1773.0,326.6 L1773.0,324.2 L1772.5,322.0 L1771.7,319.8 L1770.5,317.8 L1769.0,315.9 L1767.2,314.3 L1765.2,313.0 L1762.9,312.0 L1760.6,311.3 L1758.1,311.0 L1754.6,310.8 L1751.0,310.6 L1747.4,310.5 L1743.9,310.3 L1740.3,310.1 L1736.7,309.9 L1733.2,309.7 L1729.6,309.7 L1726.0,310.1 L1722.4,310.6 L1718.8,311.1 L1715.2,311.6 L1711.6,312.0 L1708.0,312.5 L1704.4,313.0 L1700.8,313.5 L1697.2,313.9 L1693.6,314.4 L1690.0,314.9 L1686.3,315.4Z M1683.9,328.8 L1687.4,330.6 L1690.8,332.4 L1694.3,334.2 L1697.7,336.1 L1701.2,337.9 L1704.6,339.7 L1708.1,341.5 L1711.5,343.3 L1715.0,345.1 L1718.5,346.9 L1721.9,348.7 L1725.4,350.5 L1729.0,351.7 L1732.7,352.9 L1736.3,354.0 L1740.0,355.1 L1743.6,356.2 L1747.3,357.3 L1751.0,358.5 L1754.6,359.6 L1757.2,360.2 L1759.8,360.4 L1762.4,360.2 L1765.0,359.6 L1767.4,358.6 L1769.6,357.3 L1771.5,355.7 L1773.1,353.8 L1774.4,351.6 L1775.4,349.3 L1775.4,349.3 L1775.9,346.9 L1776.0,344.4 L1775.7,341.9 L1775.0,339.5 L1773.9,337.1 L1772.5,335.0 L1770.7,333.1 L1768.7,331.5 L1766.4,330.2 L1763.9,329.2 L1760.3,328.1 L1756.6,327.0 L1752.9,325.9 L1749.3,324.7 L1745.6,323.6 L1741.9,322.5 L1738.3,321.4 L1734.6,320.4 L1730.7,320.0 L1726.8,319.5 L1722.9,319.1 L1719.1,318.7 L1715.2,318.2 L1711.3,317.8 L1707.5,317.3 L1703.6,316.9 L1699.7,316.5 L1695.8,316.0 L1692.0,315.6 L1688.1,315.2Z M1679.8,324.4 L1680.6,328.1 L1681.3,331.8 L1682.0,335.5 L1682.8,339.2 L1683.5,342.9 L1684.3,346.6 L1685.0,350.2 L1685.7,353.9 L1686.5,357.6 L1687.2,361.3 L1687.9,365.0 L1688.7,368.7 L1689.9,372.2 L1691.3,375.6 L1692.6,379.1 L1694.0,382.5 L1695.4,386.0 L1696.7,389.4 L1698.1,392.9 L1699.4,396.3 L1700.5,398.6 L1701.9,400.7 L1703.6,402.6 L1705.5,404.2 L1707.7,405.4 L1709.9,406.3 L1712.2,406.8 L1714.6,406.9 L1716.9,406.7 L1719.1,406.0 L1719.1,406.0 L1721.2,405.0 L1723.0,403.6 L1724.7,401.9 L1726.0,400.0 L1727.0,397.8 L1727.7,395.4 L1728.1,392.9 L1728.0,390.4 L1727.6,387.9 L1726.9,385.5 L1725.5,382.0 L1724.1,378.6 L1722.8,375.2 L1721.4,371.7 L1720.1,368.3 L1718.7,364.8 L1717.4,361.4 L1715.9,358.0 L1713.9,354.8 L1711.9,351.6 L1710.0,348.4 L1708.0,345.2 L1706.0,342.0 L1704.0,338.8 L1702.0,335.6 L1700.1,332.4 L1698.1,329.2 L1696.1,326.0 L1694.1,322.8 L1692.2,319.6Z M1679.4,322.5 L1679.0,326.4 L1678.6,330.3 L1678.2,334.2 L1677.8,338.1 L1677.4,342.0 L1677.0,345.9 L1676.6,349.8 L1676.2,353.8 L1675.8,357.7 L1675.5,361.6 L1675.1,365.5 L1674.7,369.4 L1674.8,373.3 L1675.1,377.1 L1675.3,381.0 L1675.6,384.9 L1675.9,388.7 L1676.2,392.6 L1676.4,396.5 L1676.7,400.3 L1677.1,403.0 L1677.8,405.5 L1678.8,407.9 L1680.2,410.1 L1681.8,412.0 L1683.7,413.6 L1685.8,414.9 L1688.0,415.8 L1690.3,416.2 L1692.6,416.3 L1692.6,416.3 L1694.9,415.9 L1697.1,415.1 L1699.1,414.0 L1701.0,412.4 L1702.6,410.6 L1704.0,408.4 L1705.0,406.1 L1705.8,403.6 L1706.1,400.9 L1706.1,398.3 L1705.8,394.4 L1705.6,390.5 L1705.3,386.7 L1705.0,382.8 L1704.8,378.9 L1704.5,375.1 L1704.2,371.2 L1703.8,367.4 L1702.9,363.5 L1702.0,359.7 L1701.0,355.9 L1700.1,352.1 L1699.2,348.3 L1698.2,344.4 L1697.3,340.6 L1696.4,336.8 L1695.4,333.0 L1694.5,329.2 L1693.6,325.4 L1692.6,321.5Z M1679.6,320.3 L1678.1,323.3 L1676.6,326.3 L1675.1,329.4 L1673.6,332.4 L1672.1,335.4 L1670.6,338.5 L1669.1,341.5 L1667.6,344.5 L1666.1,347.6 L1664.6,350.6 L1663.1,353.6 L1661.6,356.6 L1660.6,359.8 L1659.7,363.0 L1658.9,366.2 L1658.0,369.4 L1657.2,372.6 L1656.3,375.8 L1655.5,379.0 L1654.6,382.2 L1654.2,384.5 L1654.1,386.8 L1654.4,389.0 L1655.1,391.2 L1656.1,393.3 L1657.4,395.2 L1659.0,396.8 L1660.9,398.2 L1662.9,399.3 L1665.1,400.1 L1665.1,400.1 L1667.3,400.5 L1669.7,400.6 L1671.9,400.3 L1674.2,399.7 L1676.2,398.7 L1678.1,397.4 L1679.8,395.8 L1681.2,394.0 L1682.3,392.0 L1683.1,389.9 L1683.9,386.7 L1684.8,383.4 L1685.7,380.2 L1686.5,377.0 L1687.4,373.8 L1688.2,370.6 L1689.1,367.4 L1689.8,364.2 L1690.0,360.8 L1690.3,357.5 L1690.5,354.1 L1690.7,350.7 L1690.9,347.3 L1691.1,344.0 L1691.3,340.6 L1691.5,337.2 L1691.8,333.8 L1692.0,330.5 L1692.2,327.1 L1692.4,323.7Z M1682.2,315.9 L1678.8,317.3 L1675.3,318.6 L1671.9,319.9 L1668.4,321.2 L1665.0,322.5 L1661.5,323.8 L1658.1,325.1 L1654.6,326.4 L1651.2,327.7 L1647.8,329.0 L1644.3,330.3 L1640.9,331.7 L1637.7,333.4 L1634.7,335.4 L1631.6,337.3 L1628.5,339.2 L1625.5,341.1 L1622.4,343.0 L1619.3,344.9 L1616.3,346.9 L1614.3,348.3 L1612.5,350.1 L1611.1,352.1 L1609.9,354.4 L1609.2,356.8 L1608.8,359.2 L1608.9,361.7 L1609.3,364.2 L1610.1,366.5 L1611.2,368.7 L1611.2,368.7 L1612.7,370.7 L1614.5,372.5 L1616.5,373.9 L1618.7,375.0 L1621.1,375.8 L1623.6,376.2 L1626.0,376.1 L1628.5,375.7 L1630.9,374.9 L1633.1,373.8 L1636.1,371.9 L1639.2,370.0 L1642.3,368.0 L1645.3,366.1 L1648.4,364.2 L1651.5,362.3 L1654.5,360.4 L1657.5,358.3 L1660.2,355.8 L1662.9,353.3 L1665.6,350.8 L1668.3,348.2 L1671.0,345.7 L1673.7,343.2 L1676.3,340.7 L1679.0,338.2 L1681.7,335.6 L1684.4,333.1 L1687.1,330.6 L1689.8,328.1Z M1686.7,315.4 L1683.9,314.4 L1681.2,313.5 L1678.4,312.5 L1675.7,311.6 L1672.9,310.6 L1670.2,309.7 L1667.4,308.7 L1664.6,307.7 L1661.9,306.8 L1659.1,305.8 L1656.4,304.9 L1653.6,303.9 L1650.8,303.5 L1648.0,303.2 L1645.2,302.9 L1642.3,302.6 L1639.5,302.3 L1636.7,302.0 L1633.9,301.7 L1631.0,301.4 L1629.1,301.4 L1627.1,301.7 L1625.2,302.4 L1623.4,303.4 L1621.8,304.8 L1620.4,306.4 L1619.1,308.2 L1618.2,310.3 L1617.5,312.5 L1617.1,314.8 L1617.1,314.8 L1617.0,317.1 L1617.2,319.4 L1617.7,321.6 L1618.5,323.6 L1619.6,325.5 L1620.9,327.2 L1622.5,328.5 L1624.2,329.6 L1626.0,330.3 L1627.9,330.7 L1630.8,331.0 L1633.6,331.3 L1636.4,331.6 L1639.2,331.9 L1642.1,332.2 L1644.9,332.5 L1647.7,332.8 L1650.6,333.0 L1653.5,332.6 L1656.4,332.2 L1659.2,331.9 L1662.1,331.5 L1665.0,331.1 L1667.9,330.8 L1670.8,330.4 L1673.7,330.1 L1676.6,329.7 L1679.5,329.3 L1682.4,329.0 L1685.3,328.6Z" fill="url(#pg3)"/><circle cx="1686" cy="322" r="38.9" fill="url(#pg3)"/>
<path d="M1701.8,262.6 L1693.7,260.4 M1672.6,247.7 L1680.7,245.8 M1702.2,235.8 L1694.1,233.7 M1674.4,229.2 L1682.6,227.3 M1676.9,275.8 L1669.3,277.6 M1647.7,279.0 L1653.4,273.7 M1667.3,258.0 L1659.8,259.8 M1642.4,266.0 L1648.1,260.7 M1652.3,279.3 L1645.9,284.7 M1624.7,295.7 L1627.9,288.0 M1633.2,265.6 L1626.9,270.9 M1612.5,284.9 L1615.6,277.2 M1736.4,292.2 L1730.8,284.4 M1720.4,259.2 L1728.7,264.1 M1753.3,273.6 L1747.7,265.8 M1733.5,247.6 L1741.8,252.5 M1749.2,320.5 L1748.4,310.9 M1753.3,283.6 L1758.0,292.0 M1775.3,312.4 L1774.5,302.8 M1771.9,279.8 L1776.6,288.2 M1735.7,339.4 L1738.1,331.4 M1749.4,310.6 L1751.0,318.8 M1758.3,340.5 L1760.8,332.5 M1765.0,312.9 L1766.6,321.1 M1733.2,353.0 L1737.7,345.3 M1755.0,326.5 L1754.3,335.4 M1756.5,360.0 L1760.9,352.3 M1770.6,333.0 L1769.9,341.9 M1691.5,376.1 L1699.8,375.0 M1723.5,377.1 L1716.7,381.9 M1700.2,397.9 L1708.4,396.8 M1728.1,392.8 L1721.3,397.6 M1675.1,377.7 L1683.3,379.1 M1705.5,388.8 L1697.5,391.4 M1676.9,402.2 L1685.2,403.6 M1705.1,405.9 L1697.2,408.5 M1659.6,363.5 L1666.9,367.5 M1685.2,382.0 L1676.8,381.9 M1654.3,383.8 L1661.6,387.8 M1679.9,395.7 L1671.6,395.5 M1634.2,335.6 L1637.1,344.1 M1640.6,369.1 L1634.2,362.8 M1614.8,347.9 L1617.7,356.3 M1626.2,376.1 L1619.9,369.8 M1647.6,303.1 L1644.7,311.0 M1634.8,331.4 L1633.7,323.2 M1629.6,301.3 L1626.8,309.2 M1622.6,328.6 L1621.4,320.3" stroke="#5a5a5a" stroke-width="3" fill="none"/>
<radialGradient id="pg4" gradientUnits="userSpaceOnUse" cx="472" cy="760" r="110.0"><stop offset="0" stop-color="#000000"/><stop offset="0.28" stop-color="#0c1600"/><stop offset="0.58" stop-color="#4a720c"/><stop offset="0.86" stop-color="#94cc20"/><stop offset="1" stop-color="#b4f02a"/></radialGradient>
<path d="M478.9,760.1 L479.7,755.7 L480.5,751.3 L481.3,746.9 L482.0,742.5 L482.8,738.1 L483.6,733.7 L484.4,729.3 L485.1,724.9 L485.9,720.5 L486.7,716.1 L487.5,711.6 L488.2,707.2 L488.4,702.8 L488.5,698.4 L488.6,694.0 L488.7,689.6 L488.8,685.1 L488.8,680.7 L488.9,676.3 L489.0,671.9 L488.8,668.8 L488.3,665.9 L487.5,663.0 L486.2,660.4 L484.7,658.1 L482.9,656.1 L480.9,654.5 L478.6,653.2 L476.3,652.5 L473.9,652.2 L473.9,652.2 L471.5,652.4 L469.1,653.1 L466.8,654.2 L464.7,655.8 L462.9,657.7 L461.2,660.0 L459.9,662.6 L459.0,665.4 L458.3,668.3 L458.1,671.3 L458.0,675.8 L457.9,680.2 L457.9,684.6 L457.8,689.0 L457.7,693.4 L457.6,697.9 L457.6,702.3 L457.6,706.7 L458.2,711.1 L458.9,715.6 L459.5,720.0 L460.1,724.4 L460.7,728.9 L461.3,733.3 L462.0,737.7 L462.6,742.2 L463.2,746.6 L463.8,751.0 L464.4,755.4 L465.1,759.9Z M477.7,757.0 L476.7,753.7 L475.7,750.5 L474.7,747.2 L473.7,744.0 L472.7,740.7 L471.7,737.5 L470.7,734.2 L469.7,731.0 L468.7,727.8 L467.7,724.5 L466.7,721.3 L465.7,718.0 L464.2,715.0 L462.7,712.1 L461.1,709.1 L459.5,706.2 L458.0,703.2 L456.4,700.3 L454.8,697.3 L453.3,694.4 L452.0,692.4 L450.5,690.7 L448.8,689.2 L446.8,688.0 L444.7,687.2 L442.5,686.7 L440.2,686.5 L438.0,686.7 L435.8,687.2 L433.8,688.1 L433.8,688.1 L431.9,689.3 L430.2,690.8 L428.8,692.6 L427.7,694.5 L426.9,696.6 L426.4,698.9 L426.3,701.2 L426.6,703.4 L427.2,705.7 L428.1,707.8 L429.6,710.7 L431.2,713.7 L432.8,716.6 L434.3,719.5 L435.9,722.5 L437.5,725.4 L439.0,728.4 L440.7,731.3 L442.9,733.9 L445.0,736.6 L447.1,739.2 L449.3,741.9 L451.4,744.5 L453.5,747.1 L455.7,749.8 L457.8,752.4 L459.9,755.1 L462.1,757.7 L464.2,760.4 L466.3,763.0Z M476.1,754.4 L473.4,751.5 L470.6,748.7 L467.9,745.8 L465.2,743.0 L462.4,740.2 L459.7,737.3 L457.0,734.5 L454.3,731.6 L451.5,728.8 L448.8,725.9 L446.1,723.1 L443.3,720.3 L440.3,717.9 L437.1,715.6 L434.0,713.3 L430.9,711.0 L427.7,708.7 L424.6,706.5 L421.5,704.2 L418.3,701.9 L416.1,700.5 L413.6,699.4 L411.1,698.7 L408.5,698.4 L405.9,698.5 L403.4,699.0 L401.1,699.8 L398.9,701.0 L397.1,702.6 L395.5,704.4 L395.5,704.4 L394.2,706.5 L393.3,708.7 L392.8,711.2 L392.8,713.7 L393.1,716.2 L393.8,718.6 L394.9,721.0 L396.4,723.2 L398.1,725.2 L400.2,726.9 L403.3,729.2 L406.4,731.5 L409.6,733.7 L412.7,736.0 L415.9,738.3 L419.0,740.6 L422.1,742.9 L425.3,745.0 L428.9,746.7 L432.4,748.5 L436.0,750.2 L439.5,751.9 L443.1,753.6 L446.6,755.3 L450.2,757.0 L453.7,758.8 L457.3,760.5 L460.8,762.2 L464.4,763.9 L467.9,765.6Z M477.9,765.4 L481.3,762.9 L484.7,760.4 L488.1,757.9 L491.5,755.4 L494.9,752.8 L498.3,750.3 L501.7,747.8 L505.1,745.3 L508.5,742.8 L511.9,740.3 L515.3,737.7 L518.7,735.2 L521.6,732.3 L524.4,729.2 L527.2,726.2 L530.0,723.1 L532.8,720.0 L535.6,717.0 L538.4,713.9 L541.2,710.9 L543.0,708.6 L544.4,706.1 L545.4,703.4 L545.9,700.7 L546.1,697.8 L545.7,695.0 L545.0,692.3 L543.8,689.8 L542.3,687.4 L540.4,685.4 L540.4,685.4 L538.2,683.7 L535.7,682.3 L533.1,681.4 L530.3,680.9 L527.5,680.8 L524.7,681.2 L521.9,682.0 L519.4,683.2 L517.0,684.8 L514.9,686.8 L512.1,689.8 L509.3,692.9 L506.5,696.0 L503.7,699.0 L500.9,702.1 L498.1,705.1 L495.3,708.2 L492.6,711.4 L490.4,715.0 L488.2,718.6 L486.0,722.2 L483.8,725.8 L481.6,729.4 L479.4,733.0 L477.1,736.6 L474.9,740.2 L472.7,743.8 L470.5,747.4 L468.3,751.0 L466.1,754.6Z M474.3,767.7 L478.9,767.1 L483.4,766.6 L488.0,766.0 L492.5,765.5 L497.1,764.9 L501.6,764.4 L506.2,763.8 L510.7,763.3 L515.3,762.7 L519.8,762.2 L524.4,761.6 L528.9,761.1 L533.3,759.9 L537.6,758.6 L541.9,757.3 L546.2,755.9 L550.5,754.6 L554.8,753.3 L559.2,752.0 L563.5,750.7 L566.4,749.6 L569.1,748.0 L571.5,746.2 L573.6,744.0 L575.3,741.6 L576.6,739.0 L577.5,736.2 L577.9,733.4 L577.8,730.6 L577.2,727.8 L577.2,727.8 L576.1,725.2 L574.7,722.9 L572.8,720.7 L570.5,718.9 L568.0,717.5 L565.2,716.4 L562.2,715.8 L559.2,715.6 L556.1,715.9 L553.0,716.6 L548.7,717.9 L544.4,719.2 L540.1,720.5 L535.8,721.9 L531.5,723.2 L527.2,724.5 L522.9,725.8 L518.6,727.3 L514.5,729.4 L510.4,731.5 L506.4,733.5 L502.3,735.6 L498.2,737.7 L494.1,739.8 L490.0,741.9 L486.0,744.0 L481.9,746.1 L477.8,748.2 L473.7,750.2 L469.7,752.3Z M471.6,766.9 L475.3,767.8 L479.0,768.7 L482.7,769.6 L486.4,770.5 L490.1,771.4 L493.8,772.3 L497.5,773.2 L501.3,774.1 L505.0,775.0 L508.7,775.9 L512.4,776.7 L516.1,777.6 L519.8,778.0 L523.5,778.2 L527.3,778.4 L531.0,778.6 L534.7,778.8 L538.5,778.9 L542.2,779.1 L546.0,779.3 L548.5,779.3 L551.1,778.9 L553.5,778.1 L555.8,776.9 L557.8,775.4 L559.6,773.7 L561.0,771.7 L562.1,769.5 L562.8,767.2 L563.2,764.8 L563.2,764.8 L563.1,762.4 L562.6,760.0 L561.8,757.7 L560.5,755.5 L558.9,753.6 L557.1,751.9 L554.9,750.6 L552.6,749.5 L550.1,748.8 L547.6,748.5 L543.8,748.3 L540.1,748.1 L536.4,747.9 L532.6,747.7 L528.9,747.5 L525.1,747.3 L521.4,747.1 L517.7,747.1 L513.9,747.6 L510.1,748.1 L506.3,748.6 L502.6,749.1 L498.8,749.6 L495.0,750.1 L491.2,750.6 L487.5,751.1 L483.7,751.6 L479.9,752.1 L476.1,752.6 L472.4,753.1Z M469.8,767.2 L473.4,769.0 L477.1,770.9 L480.7,772.8 L484.3,774.7 L487.9,776.6 L491.5,778.5 L495.1,780.4 L498.8,782.3 L502.4,784.2 L506.0,786.1 L509.6,788.0 L513.2,789.8 L517.0,791.2 L520.9,792.3 L524.7,793.5 L528.6,794.7 L532.4,795.9 L536.2,797.0 L540.1,798.2 L543.9,799.4 L546.6,800.0 L549.4,800.2 L552.1,800.0 L554.7,799.4 L557.2,798.4 L559.5,797.0 L561.6,795.3 L563.3,793.3 L564.7,791.0 L565.6,788.6 L565.6,788.6 L566.2,786.1 L566.3,783.5 L566.0,780.8 L565.3,778.3 L564.1,775.9 L562.6,773.6 L560.8,771.6 L558.6,769.9 L556.2,768.6 L553.6,767.6 L549.8,766.4 L546.0,765.2 L542.1,764.0 L538.3,762.9 L534.4,761.7 L530.6,760.5 L526.8,759.4 L522.9,758.3 L518.8,757.9 L514.8,757.4 L510.7,756.9 L506.7,756.5 L502.6,756.0 L498.5,755.6 L494.5,755.1 L490.4,754.7 L486.4,754.2 L482.3,753.8 L478.2,753.3 L474.2,752.8Z M465.5,762.5 L466.3,766.4 L467.1,770.3 L467.9,774.1 L468.6,778.0 L469.4,781.9 L470.2,785.7 L470.9,789.6 L471.7,793.5 L472.5,797.3 L473.3,801.2 L474.0,805.1 L474.8,808.9 L476.1,812.6 L477.5,816.2 L479.0,819.8 L480.4,823.4 L481.8,827.0 L483.2,830.6 L484.6,834.2 L486.1,837.8 L487.2,840.2 L488.7,842.5 L490.5,844.4 L492.5,846.1 L494.7,847.4 L497.0,848.3 L499.5,848.9 L501.9,849.0 L504.3,848.7 L506.7,848.0 L506.7,848.0 L508.8,846.9 L510.8,845.5 L512.5,843.7 L513.9,841.7 L515.0,839.4 L515.7,836.9 L516.1,834.3 L516.0,831.7 L515.6,829.1 L514.8,826.5 L513.4,822.9 L512.0,819.3 L510.5,815.7 L509.1,812.1 L507.7,808.5 L506.3,804.9 L504.8,801.3 L503.3,797.7 L501.2,794.3 L499.2,791.0 L497.1,787.6 L495.0,784.3 L493.0,780.9 L490.9,777.6 L488.8,774.2 L486.7,770.9 L484.7,767.5 L482.6,764.2 L480.5,760.8 L478.5,757.5Z M465.1,760.5 L464.7,764.6 L464.2,768.7 L463.8,772.8 L463.4,776.9 L463.0,781.0 L462.6,785.1 L462.2,789.2 L461.8,793.3 L461.4,797.4 L461.0,801.5 L460.5,805.6 L460.1,809.7 L460.3,813.7 L460.6,817.8 L460.8,821.8 L461.1,825.9 L461.4,829.9 L461.7,834.0 L462.0,838.0 L462.3,842.1 L462.6,844.8 L463.4,847.5 L464.5,850.0 L465.9,852.3 L467.6,854.3 L469.6,856.0 L471.8,857.3 L474.1,858.2 L476.5,858.7 L478.9,858.8 L478.9,858.8 L481.3,858.4 L483.6,857.6 L485.8,856.3 L487.7,854.7 L489.4,852.8 L490.9,850.6 L492.0,848.1 L492.7,845.5 L493.1,842.7 L493.1,839.9 L492.8,835.9 L492.5,831.8 L492.2,827.8 L491.9,823.7 L491.7,819.7 L491.4,815.6 L491.1,811.6 L490.7,807.5 L489.7,803.5 L488.7,799.5 L487.7,795.5 L486.8,791.5 L485.8,787.5 L484.8,783.5 L483.8,779.5 L482.8,775.5 L481.9,771.5 L480.9,767.5 L479.9,763.5 L478.9,759.5Z M465.3,758.2 L463.7,761.4 L462.1,764.5 L460.6,767.7 L459.0,770.9 L457.4,774.1 L455.9,777.2 L454.3,780.4 L452.7,783.6 L451.1,786.8 L449.6,789.9 L448.0,793.1 L446.4,796.3 L445.4,799.6 L444.5,803.0 L443.6,806.3 L442.7,809.7 L441.8,813.0 L440.9,816.4 L440.0,819.7 L439.1,823.1 L438.7,825.4 L438.6,827.8 L438.9,830.2 L439.6,832.5 L440.7,834.7 L442.1,836.7 L443.7,838.4 L445.7,839.9 L447.8,841.0 L450.1,841.8 L450.1,841.8 L452.5,842.3 L454.9,842.3 L457.3,842.0 L459.6,841.4 L461.8,840.3 L463.8,839.0 L465.5,837.3 L467.0,835.4 L468.1,833.3 L468.9,831.1 L469.8,827.7 L470.7,824.4 L471.6,821.0 L472.5,817.7 L473.4,814.3 L474.3,811.0 L475.2,807.6 L476.0,804.2 L476.2,800.7 L476.5,797.1 L476.7,793.6 L476.9,790.1 L477.1,786.5 L477.4,783.0 L477.6,779.5 L477.8,775.9 L478.0,772.4 L478.3,768.9 L478.5,765.3 L478.7,761.8Z M468.0,753.7 L464.4,755.0 L460.8,756.4 L457.2,757.8 L453.6,759.1 L450.0,760.5 L446.4,761.9 L442.8,763.3 L439.2,764.6 L435.5,766.0 L431.9,767.4 L428.3,768.7 L424.7,770.1 L421.4,772.0 L418.2,774.0 L415.0,776.0 L411.8,778.0 L408.6,780.0 L405.4,782.0 L402.1,784.0 L398.9,786.0 L396.8,787.6 L395.0,789.5 L393.5,791.6 L392.3,793.9 L391.5,796.4 L391.2,799.0 L391.2,801.6 L391.6,804.2 L392.4,806.6 L393.6,809.0 L393.6,809.0 L395.2,811.1 L397.1,812.9 L399.2,814.4 L401.5,815.6 L404.0,816.4 L406.6,816.7 L409.2,816.7 L411.8,816.3 L414.2,815.5 L416.6,814.3 L419.8,812.2 L423.0,810.2 L426.2,808.2 L429.4,806.2 L432.6,804.2 L435.8,802.2 L439.0,800.2 L442.2,798.1 L445.0,795.4 L447.8,792.8 L450.6,790.1 L453.4,787.5 L456.3,784.9 L459.1,782.2 L461.9,779.6 L464.7,776.9 L467.5,774.3 L470.3,771.6 L473.2,769.0 L476.0,766.3Z M472.7,753.1 L469.8,752.1 L467.0,751.1 L464.1,750.1 L461.2,749.1 L458.3,748.1 L455.4,747.1 L452.5,746.1 L449.6,745.1 L446.7,744.1 L443.9,743.0 L441.0,742.0 L438.1,741.0 L435.1,740.6 L432.2,740.3 L429.2,740.0 L426.2,739.7 L423.3,739.4 L420.3,739.0 L417.4,738.7 L414.4,738.4 L412.4,738.4 L410.3,738.7 L408.3,739.5 L406.5,740.5 L404.7,742.0 L403.2,743.6 L401.9,745.6 L400.9,747.7 L400.2,750.0 L399.8,752.4 L399.8,752.4 L399.7,754.8 L399.9,757.2 L400.5,759.5 L401.3,761.7 L402.5,763.7 L403.8,765.4 L405.5,766.8 L407.2,768.0 L409.2,768.7 L411.2,769.1 L414.1,769.4 L417.1,769.8 L420.1,770.1 L423.0,770.4 L426.0,770.7 L428.9,771.0 L431.9,771.3 L434.9,771.5 L437.9,771.1 L440.9,770.7 L444.0,770.3 L447.0,770.0 L450.0,769.6 L453.1,769.2 L456.1,768.8 L459.1,768.4 L462.2,768.1 L465.2,767.7 L468.2,767.3 L471.3,766.9Z M434.6,760.0 A37.4,37.4 0 1 0 509.4,760.0 A37.4,37.4 0 1 0 434.6,760.0Z" fill="#5a5a5a" stroke="#5a5a5a" stroke-width="5" stroke-linejoin="round"/>
<path d="M478.9,760.1 L479.7,755.7 L480.5,751.3 L481.3,746.9 L482.0,742.5 L482.8,738.1 L483.6,733.7 L484.4,729.3 L485.1,724.9 L485.9,720.5 L486.7,716.1 L487.5,711.6 L488.2,707.2 L488.4,702.8 L488.5,698.4 L488.6,694.0 L488.7,689.6 L488.8,685.1 L488.8,680.7 L488.9,676.3 L489.0,671.9 L488.8,668.8 L488.3,665.9 L487.5,663.0 L486.2,660.4 L484.7,658.1 L482.9,656.1 L480.9,654.5 L478.6,653.2 L476.3,652.5 L473.9,652.2 L473.9,652.2 L471.5,652.4 L469.1,653.1 L466.8,654.2 L464.7,655.8 L462.9,657.7 L461.2,660.0 L459.9,662.6 L459.0,665.4 L458.3,668.3 L458.1,671.3 L458.0,675.8 L457.9,680.2 L457.9,684.6 L457.8,689.0 L457.7,693.4 L457.6,697.9 L457.6,702.3 L457.6,706.7 L458.2,711.1 L458.9,715.6 L459.5,720.0 L460.1,724.4 L460.7,728.9 L461.3,733.3 L462.0,737.7 L462.6,742.2 L463.2,746.6 L463.8,751.0 L464.4,755.4 L465.1,759.9Z M477.7,757.0 L476.7,753.7 L475.7,750.5 L474.7,747.2 L473.7,744.0 L472.7,740.7 L471.7,737.5 L470.7,734.2 L469.7,731.0 L468.7,727.8 L467.7,724.5 L466.7,721.3 L465.7,718.0 L464.2,715.0 L462.7,712.1 L461.1,709.1 L459.5,706.2 L458.0,703.2 L456.4,700.3 L454.8,697.3 L453.3,694.4 L452.0,692.4 L450.5,690.7 L448.8,689.2 L446.8,688.0 L444.7,687.2 L442.5,686.7 L440.2,686.5 L438.0,686.7 L435.8,687.2 L433.8,688.1 L433.8,688.1 L431.9,689.3 L430.2,690.8 L428.8,692.6 L427.7,694.5 L426.9,696.6 L426.4,698.9 L426.3,701.2 L426.6,703.4 L427.2,705.7 L428.1,707.8 L429.6,710.7 L431.2,713.7 L432.8,716.6 L434.3,719.5 L435.9,722.5 L437.5,725.4 L439.0,728.4 L440.7,731.3 L442.9,733.9 L445.0,736.6 L447.1,739.2 L449.3,741.9 L451.4,744.5 L453.5,747.1 L455.7,749.8 L457.8,752.4 L459.9,755.1 L462.1,757.7 L464.2,760.4 L466.3,763.0Z M476.1,754.4 L473.4,751.5 L470.6,748.7 L467.9,745.8 L465.2,743.0 L462.4,740.2 L459.7,737.3 L457.0,734.5 L454.3,731.6 L451.5,728.8 L448.8,725.9 L446.1,723.1 L443.3,720.3 L440.3,717.9 L437.1,715.6 L434.0,713.3 L430.9,711.0 L427.7,708.7 L424.6,706.5 L421.5,704.2 L418.3,701.9 L416.1,700.5 L413.6,699.4 L411.1,698.7 L408.5,698.4 L405.9,698.5 L403.4,699.0 L401.1,699.8 L398.9,701.0 L397.1,702.6 L395.5,704.4 L395.5,704.4 L394.2,706.5 L393.3,708.7 L392.8,711.2 L392.8,713.7 L393.1,716.2 L393.8,718.6 L394.9,721.0 L396.4,723.2 L398.1,725.2 L400.2,726.9 L403.3,729.2 L406.4,731.5 L409.6,733.7 L412.7,736.0 L415.9,738.3 L419.0,740.6 L422.1,742.9 L425.3,745.0 L428.9,746.7 L432.4,748.5 L436.0,750.2 L439.5,751.9 L443.1,753.6 L446.6,755.3 L450.2,757.0 L453.7,758.8 L457.3,760.5 L460.8,762.2 L464.4,763.9 L467.9,765.6Z M477.9,765.4 L481.3,762.9 L484.7,760.4 L488.1,757.9 L491.5,755.4 L494.9,752.8 L498.3,750.3 L501.7,747.8 L505.1,745.3 L508.5,742.8 L511.9,740.3 L515.3,737.7 L518.7,735.2 L521.6,732.3 L524.4,729.2 L527.2,726.2 L530.0,723.1 L532.8,720.0 L535.6,717.0 L538.4,713.9 L541.2,710.9 L543.0,708.6 L544.4,706.1 L545.4,703.4 L545.9,700.7 L546.1,697.8 L545.7,695.0 L545.0,692.3 L543.8,689.8 L542.3,687.4 L540.4,685.4 L540.4,685.4 L538.2,683.7 L535.7,682.3 L533.1,681.4 L530.3,680.9 L527.5,680.8 L524.7,681.2 L521.9,682.0 L519.4,683.2 L517.0,684.8 L514.9,686.8 L512.1,689.8 L509.3,692.9 L506.5,696.0 L503.7,699.0 L500.9,702.1 L498.1,705.1 L495.3,708.2 L492.6,711.4 L490.4,715.0 L488.2,718.6 L486.0,722.2 L483.8,725.8 L481.6,729.4 L479.4,733.0 L477.1,736.6 L474.9,740.2 L472.7,743.8 L470.5,747.4 L468.3,751.0 L466.1,754.6Z M474.3,767.7 L478.9,767.1 L483.4,766.6 L488.0,766.0 L492.5,765.5 L497.1,764.9 L501.6,764.4 L506.2,763.8 L510.7,763.3 L515.3,762.7 L519.8,762.2 L524.4,761.6 L528.9,761.1 L533.3,759.9 L537.6,758.6 L541.9,757.3 L546.2,755.9 L550.5,754.6 L554.8,753.3 L559.2,752.0 L563.5,750.7 L566.4,749.6 L569.1,748.0 L571.5,746.2 L573.6,744.0 L575.3,741.6 L576.6,739.0 L577.5,736.2 L577.9,733.4 L577.8,730.6 L577.2,727.8 L577.2,727.8 L576.1,725.2 L574.7,722.9 L572.8,720.7 L570.5,718.9 L568.0,717.5 L565.2,716.4 L562.2,715.8 L559.2,715.6 L556.1,715.9 L553.0,716.6 L548.7,717.9 L544.4,719.2 L540.1,720.5 L535.8,721.9 L531.5,723.2 L527.2,724.5 L522.9,725.8 L518.6,727.3 L514.5,729.4 L510.4,731.5 L506.4,733.5 L502.3,735.6 L498.2,737.7 L494.1,739.8 L490.0,741.9 L486.0,744.0 L481.9,746.1 L477.8,748.2 L473.7,750.2 L469.7,752.3Z M471.6,766.9 L475.3,767.8 L479.0,768.7 L482.7,769.6 L486.4,770.5 L490.1,771.4 L493.8,772.3 L497.5,773.2 L501.3,774.1 L505.0,775.0 L508.7,775.9 L512.4,776.7 L516.1,777.6 L519.8,778.0 L523.5,778.2 L527.3,778.4 L531.0,778.6 L534.7,778.8 L538.5,778.9 L542.2,779.1 L546.0,779.3 L548.5,779.3 L551.1,778.9 L553.5,778.1 L555.8,776.9 L557.8,775.4 L559.6,773.7 L561.0,771.7 L562.1,769.5 L562.8,767.2 L563.2,764.8 L563.2,764.8 L563.1,762.4 L562.6,760.0 L561.8,757.7 L560.5,755.5 L558.9,753.6 L557.1,751.9 L554.9,750.6 L552.6,749.5 L550.1,748.8 L547.6,748.5 L543.8,748.3 L540.1,748.1 L536.4,747.9 L532.6,747.7 L528.9,747.5 L525.1,747.3 L521.4,747.1 L517.7,747.1 L513.9,747.6 L510.1,748.1 L506.3,748.6 L502.6,749.1 L498.8,749.6 L495.0,750.1 L491.2,750.6 L487.5,751.1 L483.7,751.6 L479.9,752.1 L476.1,752.6 L472.4,753.1Z M469.8,767.2 L473.4,769.0 L477.1,770.9 L480.7,772.8 L484.3,774.7 L487.9,776.6 L491.5,778.5 L495.1,780.4 L498.8,782.3 L502.4,784.2 L506.0,786.1 L509.6,788.0 L513.2,789.8 L517.0,791.2 L520.9,792.3 L524.7,793.5 L528.6,794.7 L532.4,795.9 L536.2,797.0 L540.1,798.2 L543.9,799.4 L546.6,800.0 L549.4,800.2 L552.1,800.0 L554.7,799.4 L557.2,798.4 L559.5,797.0 L561.6,795.3 L563.3,793.3 L564.7,791.0 L565.6,788.6 L565.6,788.6 L566.2,786.1 L566.3,783.5 L566.0,780.8 L565.3,778.3 L564.1,775.9 L562.6,773.6 L560.8,771.6 L558.6,769.9 L556.2,768.6 L553.6,767.6 L549.8,766.4 L546.0,765.2 L542.1,764.0 L538.3,762.9 L534.4,761.7 L530.6,760.5 L526.8,759.4 L522.9,758.3 L518.8,757.9 L514.8,757.4 L510.7,756.9 L506.7,756.5 L502.6,756.0 L498.5,755.6 L494.5,755.1 L490.4,754.7 L486.4,754.2 L482.3,753.8 L478.2,753.3 L474.2,752.8Z M465.5,762.5 L466.3,766.4 L467.1,770.3 L467.9,774.1 L468.6,778.0 L469.4,781.9 L470.2,785.7 L470.9,789.6 L471.7,793.5 L472.5,797.3 L473.3,801.2 L474.0,805.1 L474.8,808.9 L476.1,812.6 L477.5,816.2 L479.0,819.8 L480.4,823.4 L481.8,827.0 L483.2,830.6 L484.6,834.2 L486.1,837.8 L487.2,840.2 L488.7,842.5 L490.5,844.4 L492.5,846.1 L494.7,847.4 L497.0,848.3 L499.5,848.9 L501.9,849.0 L504.3,848.7 L506.7,848.0 L506.7,848.0 L508.8,846.9 L510.8,845.5 L512.5,843.7 L513.9,841.7 L515.0,839.4 L515.7,836.9 L516.1,834.3 L516.0,831.7 L515.6,829.1 L514.8,826.5 L513.4,822.9 L512.0,819.3 L510.5,815.7 L509.1,812.1 L507.7,808.5 L506.3,804.9 L504.8,801.3 L503.3,797.7 L501.2,794.3 L499.2,791.0 L497.1,787.6 L495.0,784.3 L493.0,780.9 L490.9,777.6 L488.8,774.2 L486.7,770.9 L484.7,767.5 L482.6,764.2 L480.5,760.8 L478.5,757.5Z M465.1,760.5 L464.7,764.6 L464.2,768.7 L463.8,772.8 L463.4,776.9 L463.0,781.0 L462.6,785.1 L462.2,789.2 L461.8,793.3 L461.4,797.4 L461.0,801.5 L460.5,805.6 L460.1,809.7 L460.3,813.7 L460.6,817.8 L460.8,821.8 L461.1,825.9 L461.4,829.9 L461.7,834.0 L462.0,838.0 L462.3,842.1 L462.6,844.8 L463.4,847.5 L464.5,850.0 L465.9,852.3 L467.6,854.3 L469.6,856.0 L471.8,857.3 L474.1,858.2 L476.5,858.7 L478.9,858.8 L478.9,858.8 L481.3,858.4 L483.6,857.6 L485.8,856.3 L487.7,854.7 L489.4,852.8 L490.9,850.6 L492.0,848.1 L492.7,845.5 L493.1,842.7 L493.1,839.9 L492.8,835.9 L492.5,831.8 L492.2,827.8 L491.9,823.7 L491.7,819.7 L491.4,815.6 L491.1,811.6 L490.7,807.5 L489.7,803.5 L488.7,799.5 L487.7,795.5 L486.8,791.5 L485.8,787.5 L484.8,783.5 L483.8,779.5 L482.8,775.5 L481.9,771.5 L480.9,767.5 L479.9,763.5 L478.9,759.5Z M465.3,758.2 L463.7,761.4 L462.1,764.5 L460.6,767.7 L459.0,770.9 L457.4,774.1 L455.9,777.2 L454.3,780.4 L452.7,783.6 L451.1,786.8 L449.6,789.9 L448.0,793.1 L446.4,796.3 L445.4,799.6 L444.5,803.0 L443.6,806.3 L442.7,809.7 L441.8,813.0 L440.9,816.4 L440.0,819.7 L439.1,823.1 L438.7,825.4 L438.6,827.8 L438.9,830.2 L439.6,832.5 L440.7,834.7 L442.1,836.7 L443.7,838.4 L445.7,839.9 L447.8,841.0 L450.1,841.8 L450.1,841.8 L452.5,842.3 L454.9,842.3 L457.3,842.0 L459.6,841.4 L461.8,840.3 L463.8,839.0 L465.5,837.3 L467.0,835.4 L468.1,833.3 L468.9,831.1 L469.8,827.7 L470.7,824.4 L471.6,821.0 L472.5,817.7 L473.4,814.3 L474.3,811.0 L475.2,807.6 L476.0,804.2 L476.2,800.7 L476.5,797.1 L476.7,793.6 L476.9,790.1 L477.1,786.5 L477.4,783.0 L477.6,779.5 L477.8,775.9 L478.0,772.4 L478.3,768.9 L478.5,765.3 L478.7,761.8Z M468.0,753.7 L464.4,755.0 L460.8,756.4 L457.2,757.8 L453.6,759.1 L450.0,760.5 L446.4,761.9 L442.8,763.3 L439.2,764.6 L435.5,766.0 L431.9,767.4 L428.3,768.7 L424.7,770.1 L421.4,772.0 L418.2,774.0 L415.0,776.0 L411.8,778.0 L408.6,780.0 L405.4,782.0 L402.1,784.0 L398.9,786.0 L396.8,787.6 L395.0,789.5 L393.5,791.6 L392.3,793.9 L391.5,796.4 L391.2,799.0 L391.2,801.6 L391.6,804.2 L392.4,806.6 L393.6,809.0 L393.6,809.0 L395.2,811.1 L397.1,812.9 L399.2,814.4 L401.5,815.6 L404.0,816.4 L406.6,816.7 L409.2,816.7 L411.8,816.3 L414.2,815.5 L416.6,814.3 L419.8,812.2 L423.0,810.2 L426.2,808.2 L429.4,806.2 L432.6,804.2 L435.8,802.2 L439.0,800.2 L442.2,798.1 L445.0,795.4 L447.8,792.8 L450.6,790.1 L453.4,787.5 L456.3,784.9 L459.1,782.2 L461.9,779.6 L464.7,776.9 L467.5,774.3 L470.3,771.6 L473.2,769.0 L476.0,766.3Z M472.7,753.1 L469.8,752.1 L467.0,751.1 L464.1,750.1 L461.2,749.1 L458.3,748.1 L455.4,747.1 L452.5,746.1 L449.6,745.1 L446.7,744.1 L443.9,743.0 L441.0,742.0 L438.1,741.0 L435.1,740.6 L432.2,740.3 L429.2,740.0 L426.2,739.7 L423.3,739.4 L420.3,739.0 L417.4,738.7 L414.4,738.4 L412.4,738.4 L410.3,738.7 L408.3,739.5 L406.5,740.5 L404.7,742.0 L403.2,743.6 L401.9,745.6 L400.9,747.7 L400.2,750.0 L399.8,752.4 L399.8,752.4 L399.7,754.8 L399.9,757.2 L400.5,759.5 L401.3,761.7 L402.5,763.7 L403.8,765.4 L405.5,766.8 L407.2,768.0 L409.2,768.7 L411.2,769.1 L414.1,769.4 L417.1,769.8 L420.1,770.1 L423.0,770.4 L426.0,770.7 L428.9,771.0 L431.9,771.3 L434.9,771.5 L437.9,771.1 L440.9,770.7 L444.0,770.3 L447.0,770.0 L450.0,769.6 L453.1,769.2 L456.1,768.8 L459.1,768.4 L462.2,768.1 L465.2,767.7 L468.2,767.3 L471.3,766.9Z" fill="url(#pg4)"/><circle cx="472" cy="760" r="40.7" fill="url(#pg4)"/>
<path d="M488.5,697.8 L480.1,695.6 M457.9,682.1 L466.4,680.3 M488.9,669.7 L480.5,667.6 M459.9,662.8 L468.4,660.9 M462.4,711.6 L454.6,713.5 M431.9,714.9 L437.9,709.5 M452.4,693.0 L444.5,694.9 M426.3,701.3 L432.3,695.9 M436.7,715.3 L430.1,721.0 M407.8,732.5 L411.2,724.4 M416.7,700.9 L410.1,706.6 M395.0,721.1 L398.4,713.1 M524.8,728.8 L518.9,720.7 M508.1,694.2 L516.7,699.4 M542.5,709.3 L536.6,701.2 M521.8,682.1 L530.3,687.2 M538.2,758.4 L537.3,748.4 M542.5,719.8 L547.3,728.6 M565.5,749.9 L564.6,740.0 M562.0,715.8 L566.8,724.6 M524.1,778.2 L526.5,769.8 M538.5,748.0 L540.0,756.6 M547.8,779.3 L550.2,771.0 M554.8,750.5 L556.3,759.1 M521.4,792.5 L526.0,784.3 M544.3,764.7 L543.5,774.0 M545.8,799.9 L550.4,791.7 M560.6,771.5 L559.9,780.8 M477.7,816.7 L486.4,815.5 M511.3,817.7 L504.2,822.7 M486.8,839.6 L495.5,838.3 M516.1,834.1 L508.9,839.1 M460.6,818.4 L469.2,819.8 M492.4,830.0 L484.0,832.6 M462.5,844.0 L471.1,845.4 M492.0,847.9 L483.7,850.5 M444.4,803.5 L452.1,807.6 M471.1,822.9 L462.4,822.6 M438.8,824.8 L446.4,828.9 M465.6,837.2 L456.9,836.9 M417.7,774.3 L420.9,783.1 M424.4,809.4 L417.9,802.7 M397.4,787.1 L400.6,795.9 M409.4,816.7 L402.8,810.0 M431.7,740.2 L428.9,748.5 M418.4,769.9 L417.3,761.2 M413.0,738.4 L410.1,746.6 M405.6,766.9 L404.5,758.3" stroke="#5a5a5a" stroke-width="3" fill="none"/>
<radialGradient id="pg5" gradientUnits="userSpaceOnUse" cx="1488" cy="1136" r="106.0"><stop offset="0" stop-color="#000000"/><stop offset="0.28" stop-color="#0c1600"/><stop offset="0.58" stop-color="#4a720c"/><stop offset="0.86" stop-color="#94cc20"/><stop offset="1" stop-color="#b4f02a"/></radialGradient>
<path d="M1494.7,1136.1 L1495.4,1131.9 L1496.2,1127.6 L1496.9,1123.4 L1497.7,1119.1 L1498.4,1114.9 L1499.2,1110.6 L1499.9,1106.4 L1500.7,1102.1 L1501.4,1097.9 L1502.2,1093.6 L1502.9,1089.4 L1503.6,1085.2 L1503.8,1080.9 L1503.9,1076.6 L1504.0,1072.4 L1504.1,1068.1 L1504.1,1063.9 L1504.2,1059.6 L1504.3,1055.3 L1504.4,1051.1 L1504.2,1048.2 L1503.7,1045.3 L1502.9,1042.6 L1501.7,1040.1 L1500.2,1037.8 L1498.5,1035.9 L1496.5,1034.3 L1494.4,1033.1 L1492.1,1032.4 L1489.8,1032.1 L1489.8,1032.1 L1487.5,1032.3 L1485.2,1033.0 L1483.0,1034.1 L1481.0,1035.6 L1479.2,1037.4 L1477.6,1039.6 L1476.4,1042.1 L1475.4,1044.8 L1474.8,1047.7 L1474.6,1050.6 L1474.5,1054.8 L1474.5,1059.1 L1474.4,1063.3 L1474.3,1067.6 L1474.2,1071.9 L1474.2,1076.1 L1474.1,1080.4 L1474.1,1084.6 L1474.7,1088.9 L1475.3,1093.2 L1475.9,1097.5 L1476.5,1101.7 L1477.1,1106.0 L1477.7,1110.3 L1478.3,1114.5 L1478.9,1118.8 L1479.5,1123.1 L1480.1,1127.3 L1480.7,1131.6 L1481.3,1135.9Z M1493.5,1133.1 L1492.5,1130.0 L1491.5,1126.8 L1490.6,1123.7 L1489.6,1120.6 L1488.6,1117.4 L1487.7,1114.3 L1486.7,1111.2 L1485.8,1108.1 L1484.8,1104.9 L1483.8,1101.8 L1482.9,1098.7 L1481.9,1095.5 L1480.5,1092.6 L1479.0,1089.8 L1477.5,1087.0 L1476.0,1084.1 L1474.5,1081.3 L1473.0,1078.4 L1471.4,1075.6 L1469.9,1072.8 L1468.7,1070.9 L1467.3,1069.2 L1465.6,1067.8 L1463.7,1066.7 L1461.7,1065.8 L1459.6,1065.3 L1457.4,1065.2 L1455.2,1065.4 L1453.2,1065.9 L1451.2,1066.7 L1451.2,1066.7 L1449.4,1067.9 L1447.8,1069.3 L1446.4,1071.0 L1445.3,1072.9 L1444.5,1075.0 L1444.1,1077.1 L1444.0,1079.3 L1444.2,1081.5 L1444.8,1083.6 L1445.7,1085.7 L1447.2,1088.5 L1448.7,1091.3 L1450.2,1094.2 L1451.7,1097.0 L1453.2,1099.9 L1454.7,1102.7 L1456.2,1105.5 L1457.9,1108.3 L1459.9,1110.9 L1462.0,1113.4 L1464.0,1116.0 L1466.1,1118.5 L1468.1,1121.1 L1470.2,1123.6 L1472.3,1126.2 L1474.3,1128.7 L1476.4,1131.3 L1478.4,1133.8 L1480.5,1136.4 L1482.5,1138.9Z M1491.9,1130.6 L1489.3,1127.8 L1486.7,1125.1 L1484.0,1122.4 L1481.4,1119.6 L1478.8,1116.9 L1476.2,1114.1 L1473.5,1111.4 L1470.9,1108.7 L1468.3,1105.9 L1465.6,1103.2 L1463.0,1100.4 L1460.4,1097.7 L1457.4,1095.4 L1454.4,1093.2 L1451.4,1091.0 L1448.4,1088.8 L1445.3,1086.6 L1442.3,1084.4 L1439.3,1082.2 L1436.3,1080.0 L1434.1,1078.7 L1431.7,1077.6 L1429.3,1077.0 L1426.8,1076.7 L1424.3,1076.7 L1421.9,1077.2 L1419.7,1078.0 L1417.6,1079.2 L1415.8,1080.7 L1414.3,1082.4 L1414.3,1082.4 L1413.0,1084.4 L1412.2,1086.6 L1411.7,1088.9 L1411.6,1091.3 L1412.0,1093.8 L1412.6,1096.1 L1413.7,1098.4 L1415.1,1100.5 L1416.8,1102.4 L1418.8,1104.1 L1421.8,1106.3 L1424.8,1108.5 L1427.8,1110.7 L1430.9,1112.9 L1433.9,1115.1 L1436.9,1117.3 L1439.9,1119.5 L1443.0,1121.6 L1446.5,1123.2 L1449.9,1124.9 L1453.3,1126.5 L1456.7,1128.2 L1460.1,1129.8 L1463.6,1131.5 L1467.0,1133.1 L1470.4,1134.8 L1473.8,1136.5 L1477.2,1138.1 L1480.6,1139.8 L1484.1,1141.4Z M1493.7,1141.2 L1497.0,1138.8 L1500.2,1136.4 L1503.5,1133.9 L1506.8,1131.5 L1510.1,1129.1 L1513.3,1126.7 L1516.6,1124.2 L1519.9,1121.8 L1523.1,1119.4 L1526.4,1117.0 L1529.7,1114.5 L1533.0,1112.1 L1535.8,1109.3 L1538.5,1106.3 L1541.2,1103.4 L1543.9,1100.4 L1546.6,1097.5 L1549.3,1094.5 L1552.0,1091.6 L1554.7,1088.6 L1556.4,1086.5 L1557.7,1084.1 L1558.7,1081.5 L1559.2,1078.8 L1559.4,1076.1 L1559.1,1073.4 L1558.3,1070.8 L1557.2,1068.3 L1555.7,1066.1 L1553.9,1064.1 L1553.9,1064.1 L1551.8,1062.4 L1549.4,1061.1 L1546.8,1060.2 L1544.2,1059.8 L1541.5,1059.7 L1538.8,1060.0 L1536.1,1060.8 L1533.6,1062.0 L1531.4,1063.6 L1529.4,1065.4 L1526.7,1068.4 L1524.0,1071.3 L1521.3,1074.3 L1518.6,1077.2 L1515.9,1080.2 L1513.2,1083.1 L1510.5,1086.1 L1507.9,1089.1 L1505.7,1092.6 L1503.6,1096.1 L1501.5,1099.5 L1499.3,1103.0 L1497.2,1106.5 L1495.1,1110.0 L1493.0,1113.4 L1490.8,1116.9 L1488.7,1120.4 L1486.6,1123.8 L1484.4,1127.3 L1482.3,1130.8Z M1490.3,1143.4 L1494.6,1142.9 L1499.0,1142.3 L1503.4,1141.8 L1507.8,1141.3 L1512.2,1140.7 L1516.6,1140.2 L1520.9,1139.7 L1525.3,1139.1 L1529.7,1138.6 L1534.1,1138.1 L1538.5,1137.6 L1542.8,1137.0 L1547.0,1135.9 L1551.2,1134.6 L1555.4,1133.4 L1559.5,1132.1 L1563.7,1130.8 L1567.8,1129.6 L1572.0,1128.3 L1576.1,1127.0 L1578.9,1125.9 L1581.5,1124.5 L1583.9,1122.7 L1585.9,1120.6 L1587.6,1118.3 L1588.8,1115.7 L1589.7,1113.1 L1590.0,1110.4 L1589.9,1107.6 L1589.4,1105.0 L1589.4,1105.0 L1588.4,1102.5 L1586.9,1100.2 L1585.1,1098.2 L1582.9,1096.4 L1580.5,1095.0 L1577.8,1094.0 L1574.9,1093.4 L1572.0,1093.2 L1569.0,1093.5 L1566.1,1094.2 L1561.9,1095.4 L1557.8,1096.7 L1553.6,1098.0 L1549.5,1099.2 L1545.3,1100.5 L1541.2,1101.8 L1537.0,1103.1 L1532.9,1104.5 L1529.0,1106.5 L1525.0,1108.5 L1521.1,1110.5 L1517.2,1112.5 L1513.2,1114.5 L1509.3,1116.5 L1505.4,1118.6 L1501.5,1120.6 L1497.5,1122.6 L1493.6,1124.6 L1489.7,1126.6 L1485.7,1128.6Z M1487.6,1142.7 L1491.2,1143.5 L1494.8,1144.4 L1498.4,1145.3 L1501.9,1146.1 L1505.5,1147.0 L1509.1,1147.8 L1512.6,1148.7 L1516.2,1149.6 L1519.8,1150.4 L1523.3,1151.3 L1526.9,1152.1 L1530.5,1153.0 L1534.1,1153.3 L1537.7,1153.5 L1541.3,1153.7 L1544.9,1153.9 L1548.5,1154.1 L1552.1,1154.3 L1555.7,1154.4 L1559.3,1154.6 L1561.7,1154.6 L1564.2,1154.2 L1566.5,1153.4 L1568.7,1152.3 L1570.7,1150.9 L1572.4,1149.2 L1573.8,1147.3 L1574.8,1145.2 L1575.5,1142.9 L1575.9,1140.6 L1575.9,1140.6 L1575.8,1138.3 L1575.3,1136.0 L1574.5,1133.8 L1573.3,1131.7 L1571.8,1129.9 L1570.0,1128.2 L1567.9,1126.9 L1565.7,1125.9 L1563.3,1125.2 L1560.8,1124.9 L1557.2,1124.7 L1553.6,1124.5 L1550.0,1124.3 L1546.4,1124.2 L1542.8,1124.0 L1539.2,1123.8 L1535.6,1123.6 L1532.0,1123.5 L1528.4,1124.0 L1524.7,1124.5 L1521.1,1125.0 L1517.4,1125.5 L1513.8,1125.9 L1510.2,1126.4 L1506.5,1126.9 L1502.9,1127.4 L1499.3,1127.9 L1495.6,1128.3 L1492.0,1128.8 L1488.4,1129.3Z M1485.9,1142.9 L1489.4,1144.7 L1492.9,1146.5 L1496.4,1148.4 L1499.8,1150.2 L1503.3,1152.0 L1506.8,1153.8 L1510.3,1155.7 L1513.8,1157.5 L1517.3,1159.3 L1520.8,1161.1 L1524.3,1162.9 L1527.7,1164.8 L1531.4,1166.0 L1535.1,1167.2 L1538.8,1168.3 L1542.5,1169.4 L1546.2,1170.6 L1549.9,1171.7 L1553.6,1172.8 L1557.3,1173.9 L1559.9,1174.5 L1562.5,1174.7 L1565.2,1174.5 L1567.7,1173.9 L1570.1,1173.0 L1572.4,1171.6 L1574.3,1170.0 L1576.0,1168.1 L1577.3,1165.9 L1578.2,1163.6 L1578.2,1163.6 L1578.8,1161.1 L1578.9,1158.6 L1578.6,1156.1 L1577.9,1153.6 L1576.8,1151.3 L1575.3,1149.1 L1573.5,1147.2 L1571.5,1145.6 L1569.1,1144.3 L1566.7,1143.3 L1563.0,1142.2 L1559.3,1141.0 L1555.6,1139.9 L1551.9,1138.8 L1548.2,1137.6 L1544.5,1136.5 L1540.8,1135.4 L1537.0,1134.4 L1533.1,1133.9 L1529.2,1133.5 L1525.3,1133.1 L1521.4,1132.6 L1517.5,1132.2 L1513.6,1131.7 L1509.7,1131.3 L1505.7,1130.9 L1501.8,1130.4 L1497.9,1130.0 L1494.0,1129.5 L1490.1,1129.1Z M1481.8,1138.5 L1482.5,1142.2 L1483.3,1145.9 L1484.0,1149.6 L1484.8,1153.3 L1485.5,1157.1 L1486.2,1160.8 L1487.0,1164.5 L1487.7,1168.2 L1488.5,1172.0 L1489.2,1175.7 L1490.0,1179.4 L1490.7,1183.1 L1492.0,1186.7 L1493.3,1190.1 L1494.7,1193.6 L1496.1,1197.1 L1497.4,1200.6 L1498.8,1204.0 L1500.2,1207.5 L1501.5,1211.0 L1502.7,1213.3 L1504.1,1215.5 L1505.8,1217.3 L1507.7,1218.9 L1509.9,1220.2 L1512.1,1221.1 L1514.5,1221.6 L1516.8,1221.8 L1519.2,1221.5 L1521.4,1220.8 L1521.4,1220.8 L1523.5,1219.8 L1525.4,1218.4 L1527.0,1216.7 L1528.4,1214.7 L1529.4,1212.5 L1530.1,1210.1 L1530.5,1207.6 L1530.4,1205.1 L1530.0,1202.6 L1529.2,1200.1 L1527.9,1196.6 L1526.5,1193.1 L1525.1,1189.7 L1523.8,1186.2 L1522.4,1182.7 L1521.0,1179.2 L1519.7,1175.8 L1518.2,1172.3 L1516.2,1169.1 L1514.2,1165.9 L1512.2,1162.6 L1510.2,1159.4 L1508.2,1156.2 L1506.2,1152.9 L1504.2,1149.7 L1502.2,1146.5 L1500.2,1143.2 L1498.2,1140.0 L1496.2,1136.8 L1494.2,1133.5Z M1481.3,1136.5 L1480.9,1140.4 L1480.5,1144.4 L1480.1,1148.3 L1479.7,1152.3 L1479.3,1156.2 L1478.9,1160.2 L1478.5,1164.1 L1478.1,1168.1 L1477.7,1172.0 L1477.4,1176.0 L1477.0,1179.9 L1476.6,1183.9 L1476.7,1187.8 L1477.0,1191.7 L1477.2,1195.6 L1477.5,1199.5 L1477.8,1203.4 L1478.1,1207.3 L1478.3,1211.2 L1478.6,1215.1 L1479.0,1217.7 L1479.7,1220.3 L1480.8,1222.7 L1482.2,1224.9 L1483.8,1226.9 L1485.7,1228.5 L1487.8,1229.8 L1490.0,1230.7 L1492.3,1231.1 L1494.7,1231.2 L1494.7,1231.2 L1497.0,1230.8 L1499.2,1230.0 L1501.3,1228.8 L1503.2,1227.3 L1504.8,1225.4 L1506.2,1223.3 L1507.2,1220.9 L1507.9,1218.3 L1508.3,1215.7 L1508.3,1213.0 L1508.0,1209.1 L1507.8,1205.2 L1507.5,1201.3 L1507.2,1197.4 L1506.9,1193.5 L1506.7,1189.6 L1506.4,1185.7 L1506.0,1181.8 L1505.0,1177.9 L1504.1,1174.1 L1503.2,1170.2 L1502.2,1166.4 L1501.3,1162.5 L1500.3,1158.7 L1499.4,1154.8 L1498.5,1151.0 L1497.5,1147.1 L1496.6,1143.2 L1495.6,1139.4 L1494.7,1135.5Z M1481.5,1134.3 L1480.0,1137.3 L1478.5,1140.4 L1477.0,1143.4 L1475.5,1146.5 L1474.0,1149.6 L1472.4,1152.6 L1470.9,1155.7 L1469.4,1158.7 L1467.9,1161.8 L1466.4,1164.9 L1464.9,1167.9 L1463.4,1171.0 L1462.4,1174.2 L1461.5,1177.4 L1460.6,1180.6 L1459.8,1183.9 L1458.9,1187.1 L1458.0,1190.3 L1457.2,1193.6 L1456.3,1196.8 L1455.9,1199.1 L1455.8,1201.4 L1456.1,1203.7 L1456.8,1205.9 L1457.8,1208.0 L1459.2,1209.9 L1460.8,1211.5 L1462.6,1213.0 L1464.7,1214.1 L1466.9,1214.8 L1466.9,1214.8 L1469.2,1215.3 L1471.5,1215.3 L1473.8,1215.0 L1476.1,1214.4 L1478.2,1213.4 L1480.1,1212.1 L1481.8,1210.5 L1483.2,1208.7 L1484.3,1206.7 L1485.1,1204.5 L1485.9,1201.3 L1486.8,1198.0 L1487.7,1194.8 L1488.5,1191.6 L1489.4,1188.3 L1490.2,1185.1 L1491.1,1181.9 L1491.9,1178.6 L1492.1,1175.2 L1492.3,1171.8 L1492.5,1168.4 L1492.7,1165.0 L1492.9,1161.6 L1493.2,1158.2 L1493.4,1154.8 L1493.6,1151.4 L1493.8,1148.0 L1494.0,1144.5 L1494.3,1141.1 L1494.5,1137.7Z M1484.2,1129.9 L1480.7,1131.2 L1477.2,1132.5 L1473.7,1133.8 L1470.3,1135.2 L1466.8,1136.5 L1463.3,1137.8 L1459.8,1139.1 L1456.3,1140.5 L1452.9,1141.8 L1449.4,1143.1 L1445.9,1144.4 L1442.4,1145.7 L1439.3,1147.6 L1436.2,1149.5 L1433.1,1151.4 L1430.0,1153.4 L1426.9,1155.3 L1423.8,1157.2 L1420.7,1159.2 L1417.6,1161.1 L1415.6,1162.6 L1413.8,1164.4 L1412.3,1166.4 L1411.2,1168.7 L1410.5,1171.1 L1410.1,1173.6 L1410.1,1176.1 L1410.5,1178.6 L1411.3,1181.0 L1412.5,1183.2 L1412.5,1183.2 L1414.0,1185.2 L1415.8,1187.0 L1417.8,1188.4 L1420.1,1189.6 L1422.5,1190.3 L1425.0,1190.7 L1427.5,1190.7 L1430.0,1190.2 L1432.3,1189.4 L1434.6,1188.3 L1437.7,1186.3 L1440.8,1184.4 L1443.9,1182.5 L1447.0,1180.5 L1450.1,1178.6 L1453.2,1176.7 L1456.2,1174.7 L1459.3,1172.7 L1462.0,1170.1 L1464.7,1167.6 L1467.4,1165.0 L1470.1,1162.5 L1472.8,1159.9 L1475.5,1157.4 L1478.3,1154.9 L1481.0,1152.3 L1483.7,1149.8 L1486.4,1147.2 L1489.1,1144.7 L1491.8,1142.1Z M1488.7,1129.3 L1485.9,1128.4 L1483.1,1127.4 L1480.4,1126.4 L1477.6,1125.5 L1474.8,1124.5 L1472.0,1123.5 L1469.2,1122.6 L1466.4,1121.6 L1463.7,1120.6 L1460.9,1119.7 L1458.1,1118.7 L1455.3,1117.7 L1452.5,1117.3 L1449.6,1117.0 L1446.8,1116.7 L1443.9,1116.4 L1441.1,1116.1 L1438.2,1115.8 L1435.4,1115.5 L1432.5,1115.2 L1430.5,1115.2 L1428.6,1115.5 L1426.6,1116.2 L1424.8,1117.3 L1423.2,1118.6 L1421.7,1120.2 L1420.5,1122.1 L1419.5,1124.2 L1418.8,1126.4 L1418.4,1128.7 L1418.4,1128.7 L1418.3,1131.0 L1418.6,1133.3 L1419.1,1135.6 L1419.9,1137.6 L1421.0,1139.5 L1422.3,1141.2 L1423.9,1142.6 L1425.6,1143.7 L1427.5,1144.4 L1429.4,1144.8 L1432.2,1145.1 L1435.1,1145.4 L1437.9,1145.7 L1440.8,1146.0 L1443.7,1146.3 L1446.5,1146.6 L1449.4,1146.9 L1452.2,1147.1 L1455.1,1146.7 L1458.1,1146.3 L1461.0,1146.0 L1463.9,1145.6 L1466.8,1145.2 L1469.8,1144.9 L1472.7,1144.5 L1475.6,1144.1 L1478.5,1143.8 L1481.5,1143.4 L1484.4,1143.0 L1487.3,1142.7Z M1452.0,1136.0 A36.0,36.0 0 1 0 1524.0,1136.0 A36.0,36.0 0 1 0 1452.0,1136.0Z" fill="#5a5a5a" stroke="#5a5a5a" stroke-width="5" stroke-linejoin="round"/>
<path d="M1494.7,1136.1 L1495.4,1131.9 L1496.2,1127.6 L1496.9,1123.4 L1497.7,1119.1 L1498.4,1114.9 L1499.2,1110.6 L1499.9,1106.4 L1500.7,1102.1 L1501.4,1097.9 L1502.2,1093.6 L1502.9,1089.4 L1503.6,1085.2 L1503.8,1080.9 L1503.9,1076.6 L1504.0,1072.4 L1504.1,1068.1 L1504.1,1063.9 L1504.2,1059.6 L1504.3,1055.3 L1504.4,1051.1 L1504.2,1048.2 L1503.7,1045.3 L1502.9,1042.6 L1501.7,1040.1 L1500.2,1037.8 L1498.5,1035.9 L1496.5,1034.3 L1494.4,1033.1 L1492.1,1032.4 L1489.8,1032.1 L1489.8,1032.1 L1487.5,1032.3 L1485.2,1033.0 L1483.0,1034.1 L1481.0,1035.6 L1479.2,1037.4 L1477.6,1039.6 L1476.4,1042.1 L1475.4,1044.8 L1474.8,1047.7 L1474.6,1050.6 L1474.5,1054.8 L1474.5,1059.1 L1474.4,1063.3 L1474.3,1067.6 L1474.2,1071.9 L1474.2,1076.1 L1474.1,1080.4 L1474.1,1084.6 L1474.7,1088.9 L1475.3,1093.2 L1475.9,1097.5 L1476.5,1101.7 L1477.1,1106.0 L1477.7,1110.3 L1478.3,1114.5 L1478.9,1118.8 L1479.5,1123.1 L1480.1,1127.3 L1480.7,1131.6 L1481.3,1135.9Z M1493.5,1133.1 L1492.5,1130.0 L1491.5,1126.8 L1490.6,1123.7 L1489.6,1120.6 L1488.6,1117.4 L1487.7,1114.3 L1486.7,1111.2 L1485.8,1108.1 L1484.8,1104.9 L1483.8,1101.8 L1482.9,1098.7 L1481.9,1095.5 L1480.5,1092.6 L1479.0,1089.8 L1477.5,1087.0 L1476.0,1084.1 L1474.5,1081.3 L1473.0,1078.4 L1471.4,1075.6 L1469.9,1072.8 L1468.7,1070.9 L1467.3,1069.2 L1465.6,1067.8 L1463.7,1066.7 L1461.7,1065.8 L1459.6,1065.3 L1457.4,1065.2 L1455.2,1065.4 L1453.2,1065.9 L1451.2,1066.7 L1451.2,1066.7 L1449.4,1067.9 L1447.8,1069.3 L1446.4,1071.0 L1445.3,1072.9 L1444.5,1075.0 L1444.1,1077.1 L1444.0,1079.3 L1444.2,1081.5 L1444.8,1083.6 L1445.7,1085.7 L1447.2,1088.5 L1448.7,1091.3 L1450.2,1094.2 L1451.7,1097.0 L1453.2,1099.9 L1454.7,1102.7 L1456.2,1105.5 L1457.9,1108.3 L1459.9,1110.9 L1462.0,1113.4 L1464.0,1116.0 L1466.1,1118.5 L1468.1,1121.1 L1470.2,1123.6 L1472.3,1126.2 L1474.3,1128.7 L1476.4,1131.3 L1478.4,1133.8 L1480.5,1136.4 L1482.5,1138.9Z M1491.9,1130.6 L1489.3,1127.8 L1486.7,1125.1 L1484.0,1122.4 L1481.4,1119.6 L1478.8,1116.9 L1476.2,1114.1 L1473.5,1111.4 L1470.9,1108.7 L1468.3,1105.9 L1465.6,1103.2 L1463.0,1100.4 L1460.4,1097.7 L1457.4,1095.4 L1454.4,1093.2 L1451.4,1091.0 L1448.4,1088.8 L1445.3,1086.6 L1442.3,1084.4 L1439.3,1082.2 L1436.3,1080.0 L1434.1,1078.7 L1431.7,1077.6 L1429.3,1077.0 L1426.8,1076.7 L1424.3,1076.7 L1421.9,1077.2 L1419.7,1078.0 L1417.6,1079.2 L1415.8,1080.7 L1414.3,1082.4 L1414.3,1082.4 L1413.0,1084.4 L1412.2,1086.6 L1411.7,1088.9 L1411.6,1091.3 L1412.0,1093.8 L1412.6,1096.1 L1413.7,1098.4 L1415.1,1100.5 L1416.8,1102.4 L1418.8,1104.1 L1421.8,1106.3 L1424.8,1108.5 L1427.8,1110.7 L1430.9,1112.9 L1433.9,1115.1 L1436.9,1117.3 L1439.9,1119.5 L1443.0,1121.6 L1446.5,1123.2 L1449.9,1124.9 L1453.3,1126.5 L1456.7,1128.2 L1460.1,1129.8 L1463.6,1131.5 L1467.0,1133.1 L1470.4,1134.8 L1473.8,1136.5 L1477.2,1138.1 L1480.6,1139.8 L1484.1,1141.4Z M1493.7,1141.2 L1497.0,1138.8 L1500.2,1136.4 L1503.5,1133.9 L1506.8,1131.5 L1510.1,1129.1 L1513.3,1126.7 L1516.6,1124.2 L1519.9,1121.8 L1523.1,1119.4 L1526.4,1117.0 L1529.7,1114.5 L1533.0,1112.1 L1535.8,1109.3 L1538.5,1106.3 L1541.2,1103.4 L1543.9,1100.4 L1546.6,1097.5 L1549.3,1094.5 L1552.0,1091.6 L1554.7,1088.6 L1556.4,1086.5 L1557.7,1084.1 L1558.7,1081.5 L1559.2,1078.8 L1559.4,1076.1 L1559.1,1073.4 L1558.3,1070.8 L1557.2,1068.3 L1555.7,1066.1 L1553.9,1064.1 L1553.9,1064.1 L1551.8,1062.4 L1549.4,1061.1 L1546.8,1060.2 L1544.2,1059.8 L1541.5,1059.7 L1538.8,1060.0 L1536.1,1060.8 L1533.6,1062.0 L1531.4,1063.6 L1529.4,1065.4 L1526.7,1068.4 L1524.0,1071.3 L1521.3,1074.3 L1518.6,1077.2 L1515.9,1080.2 L1513.2,1083.1 L1510.5,1086.1 L1507.9,1089.1 L1505.7,1092.6 L1503.6,1096.1 L1501.5,1099.5 L1499.3,1103.0 L1497.2,1106.5 L1495.1,1110.0 L1493.0,1113.4 L1490.8,1116.9 L1488.7,1120.4 L1486.6,1123.8 L1484.4,1127.3 L1482.3,1130.8Z M1490.3,1143.4 L1494.6,1142.9 L1499.0,1142.3 L1503.4,1141.8 L1507.8,1141.3 L1512.2,1140.7 L1516.6,1140.2 L1520.9,1139.7 L1525.3,1139.1 L1529.7,1138.6 L1534.1,1138.1 L1538.5,1137.6 L1542.8,1137.0 L1547.0,1135.9 L1551.2,1134.6 L1555.4,1133.4 L1559.5,1132.1 L1563.7,1130.8 L1567.8,1129.6 L1572.0,1128.3 L1576.1,1127.0 L1578.9,1125.9 L1581.5,1124.5 L1583.9,1122.7 L1585.9,1120.6 L1587.6,1118.3 L1588.8,1115.7 L1589.7,1113.1 L1590.0,1110.4 L1589.9,1107.6 L1589.4,1105.0 L1589.4,1105.0 L1588.4,1102.5 L1586.9,1100.2 L1585.1,1098.2 L1582.9,1096.4 L1580.5,1095.0 L1577.8,1094.0 L1574.9,1093.4 L1572.0,1093.2 L1569.0,1093.5 L1566.1,1094.2 L1561.9,1095.4 L1557.8,1096.7 L1553.6,1098.0 L1549.5,1099.2 L1545.3,1100.5 L1541.2,1101.8 L1537.0,1103.1 L1532.9,1104.5 L1529.0,1106.5 L1525.0,1108.5 L1521.1,1110.5 L1517.2,1112.5 L1513.2,1114.5 L1509.3,1116.5 L1505.4,1118.6 L1501.5,1120.6 L1497.5,1122.6 L1493.6,1124.6 L1489.7,1126.6 L1485.7,1128.6Z M1487.6,1142.7 L1491.2,1143.5 L1494.8,1144.4 L1498.4,1145.3 L1501.9,1146.1 L1505.5,1147.0 L1509.1,1147.8 L1512.6,1148.7 L1516.2,1149.6 L1519.8,1150.4 L1523.3,1151.3 L1526.9,1152.1 L1530.5,1153.0 L1534.1,1153.3 L1537.7,1153.5 L1541.3,1153.7 L1544.9,1153.9 L1548.5,1154.1 L1552.1,1154.3 L1555.7,1154.4 L1559.3,1154.6 L1561.7,1154.6 L1564.2,1154.2 L1566.5,1153.4 L1568.7,1152.3 L1570.7,1150.9 L1572.4,1149.2 L1573.8,1147.3 L1574.8,1145.2 L1575.5,1142.9 L1575.9,1140.6 L1575.9,1140.6 L1575.8,1138.3 L1575.3,1136.0 L1574.5,1133.8 L1573.3,1131.7 L1571.8,1129.9 L1570.0,1128.2 L1567.9,1126.9 L1565.7,1125.9 L1563.3,1125.2 L1560.8,1124.9 L1557.2,1124.7 L1553.6,1124.5 L1550.0,1124.3 L1546.4,1124.2 L1542.8,1124.0 L1539.2,1123.8 L1535.6,1123.6 L1532.0,1123.5 L1528.4,1124.0 L1524.7,1124.5 L1521.1,1125.0 L1517.4,1125.5 L1513.8,1125.9 L1510.2,1126.4 L1506.5,1126.9 L1502.9,1127.4 L1499.3,1127.9 L1495.6,1128.3 L1492.0,1128.8 L1488.4,1129.3Z M1485.9,1142.9 L1489.4,1144.7 L1492.9,1146.5 L1496.4,1148.4 L1499.8,1150.2 L1503.3,1152.0 L1506.8,1153.8 L1510.3,1155.7 L1513.8,1157.5 L1517.3,1159.3 L1520.8,1161.1 L1524.3,1162.9 L1527.7,1164.8 L1531.4,1166.0 L1535.1,1167.2 L1538.8,1168.3 L1542.5,1169.4 L1546.2,1170.6 L1549.9,1171.7 L1553.6,1172.8 L1557.3,1173.9 L1559.9,1174.5 L1562.5,1174.7 L1565.2,1174.5 L1567.7,1173.9 L1570.1,1173.0 L1572.4,1171.6 L1574.3,1170.0 L1576.0,1168.1 L1577.3,1165.9 L1578.2,1163.6 L1578.2,1163.6 L1578.8,1161.1 L1578.9,1158.6 L1578.6,1156.1 L1577.9,1153.6 L1576.8,1151.3 L1575.3,1149.1 L1573.5,1147.2 L1571.5,1145.6 L1569.1,1144.3 L1566.7,1143.3 L1563.0,1142.2 L1559.3,1141.0 L1555.6,1139.9 L1551.9,1138.8 L1548.2,1137.6 L1544.5,1136.5 L1540.8,1135.4 L1537.0,1134.4 L1533.1,1133.9 L1529.2,1133.5 L1525.3,1133.1 L1521.4,1132.6 L1517.5,1132.2 L1513.6,1131.7 L1509.7,1131.3 L1505.7,1130.9 L1501.8,1130.4 L1497.9,1130.0 L1494.0,1129.5 L1490.1,1129.1Z M1481.8,1138.5 L1482.5,1142.2 L1483.3,1145.9 L1484.0,1149.6 L1484.8,1153.3 L1485.5,1157.1 L1486.2,1160.8 L1487.0,1164.5 L1487.7,1168.2 L1488.5,1172.0 L1489.2,1175.7 L1490.0,1179.4 L1490.7,1183.1 L1492.0,1186.7 L1493.3,1190.1 L1494.7,1193.6 L1496.1,1197.1 L1497.4,1200.6 L1498.8,1204.0 L1500.2,1207.5 L1501.5,1211.0 L1502.7,1213.3 L1504.1,1215.5 L1505.8,1217.3 L1507.7,1218.9 L1509.9,1220.2 L1512.1,1221.1 L1514.5,1221.6 L1516.8,1221.8 L1519.2,1221.5 L1521.4,1220.8 L1521.4,1220.8 L1523.5,1219.8 L1525.4,1218.4 L1527.0,1216.7 L1528.4,1214.7 L1529.4,1212.5 L1530.1,1210.1 L1530.5,1207.6 L1530.4,1205.1 L1530.0,1202.6 L1529.2,1200.1 L1527.9,1196.6 L1526.5,1193.1 L1525.1,1189.7 L1523.8,1186.2 L1522.4,1182.7 L1521.0,1179.2 L1519.7,1175.8 L1518.2,1172.3 L1516.2,1169.1 L1514.2,1165.9 L1512.2,1162.6 L1510.2,1159.4 L1508.2,1156.2 L1506.2,1152.9 L1504.2,1149.7 L1502.2,1146.5 L1500.2,1143.2 L1498.2,1140.0 L1496.2,1136.8 L1494.2,1133.5Z M1481.3,1136.5 L1480.9,1140.4 L1480.5,1144.4 L1480.1,1148.3 L1479.7,1152.3 L1479.3,1156.2 L1478.9,1160.2 L1478.5,1164.1 L1478.1,1168.1 L1477.7,1172.0 L1477.4,1176.0 L1477.0,1179.9 L1476.6,1183.9 L1476.7,1187.8 L1477.0,1191.7 L1477.2,1195.6 L1477.5,1199.5 L1477.8,1203.4 L1478.1,1207.3 L1478.3,1211.2 L1478.6,1215.1 L1479.0,1217.7 L1479.7,1220.3 L1480.8,1222.7 L1482.2,1224.9 L1483.8,1226.9 L1485.7,1228.5 L1487.8,1229.8 L1490.0,1230.7 L1492.3,1231.1 L1494.7,1231.2 L1494.7,1231.2 L1497.0,1230.8 L1499.2,1230.0 L1501.3,1228.8 L1503.2,1227.3 L1504.8,1225.4 L1506.2,1223.3 L1507.2,1220.9 L1507.9,1218.3 L1508.3,1215.7 L1508.3,1213.0 L1508.0,1209.1 L1507.8,1205.2 L1507.5,1201.3 L1507.2,1197.4 L1506.9,1193.5 L1506.7,1189.6 L1506.4,1185.7 L1506.0,1181.8 L1505.0,1177.9 L1504.1,1174.1 L1503.2,1170.2 L1502.2,1166.4 L1501.3,1162.5 L1500.3,1158.7 L1499.4,1154.8 L1498.5,1151.0 L1497.5,1147.1 L1496.6,1143.2 L1495.6,1139.4 L1494.7,1135.5Z M1481.5,1134.3 L1480.0,1137.3 L1478.5,1140.4 L1477.0,1143.4 L1475.5,1146.5 L1474.0,1149.6 L1472.4,1152.6 L1470.9,1155.7 L1469.4,1158.7 L1467.9,1161.8 L1466.4,1164.9 L1464.9,1167.9 L1463.4,1171.0 L1462.4,1174.2 L1461.5,1177.4 L1460.6,1180.6 L1459.8,1183.9 L1458.9,1187.1 L1458.0,1190.3 L1457.2,1193.6 L1456.3,1196.8 L1455.9,1199.1 L1455.8,1201.4 L1456.1,1203.7 L1456.8,1205.9 L1457.8,1208.0 L1459.2,1209.9 L1460.8,1211.5 L1462.6,1213.0 L1464.7,1214.1 L1466.9,1214.8 L1466.9,1214.8 L1469.2,1215.3 L1471.5,1215.3 L1473.8,1215.0 L1476.1,1214.4 L1478.2,1213.4 L1480.1,1212.1 L1481.8,1210.5 L1483.2,1208.7 L1484.3,1206.7 L1485.1,1204.5 L1485.9,1201.3 L1486.8,1198.0 L1487.7,1194.8 L1488.5,1191.6 L1489.4,1188.3 L1490.2,1185.1 L1491.1,1181.9 L1491.9,1178.6 L1492.1,1175.2 L1492.3,1171.8 L1492.5,1168.4 L1492.7,1165.0 L1492.9,1161.6 L1493.2,1158.2 L1493.4,1154.8 L1493.6,1151.4 L1493.8,1148.0 L1494.0,1144.5 L1494.3,1141.1 L1494.5,1137.7Z M1484.2,1129.9 L1480.7,1131.2 L1477.2,1132.5 L1473.7,1133.8 L1470.3,1135.2 L1466.8,1136.5 L1463.3,1137.8 L1459.8,1139.1 L1456.3,1140.5 L1452.9,1141.8 L1449.4,1143.1 L1445.9,1144.4 L1442.4,1145.7 L1439.3,1147.6 L1436.2,1149.5 L1433.1,1151.4 L1430.0,1153.4 L1426.9,1155.3 L1423.8,1157.2 L1420.7,1159.2 L1417.6,1161.1 L1415.6,1162.6 L1413.8,1164.4 L1412.3,1166.4 L1411.2,1168.7 L1410.5,1171.1 L1410.1,1173.6 L1410.1,1176.1 L1410.5,1178.6 L1411.3,1181.0 L1412.5,1183.2 L1412.5,1183.2 L1414.0,1185.2 L1415.8,1187.0 L1417.8,1188.4 L1420.1,1189.6 L1422.5,1190.3 L1425.0,1190.7 L1427.5,1190.7 L1430.0,1190.2 L1432.3,1189.4 L1434.6,1188.3 L1437.7,1186.3 L1440.8,1184.4 L1443.9,1182.5 L1447.0,1180.5 L1450.1,1178.6 L1453.2,1176.7 L1456.2,1174.7 L1459.3,1172.7 L1462.0,1170.1 L1464.7,1167.6 L1467.4,1165.0 L1470.1,1162.5 L1472.8,1159.9 L1475.5,1157.4 L1478.3,1154.9 L1481.0,1152.3 L1483.7,1149.8 L1486.4,1147.2 L1489.1,1144.7 L1491.8,1142.1Z M1488.7,1129.3 L1485.9,1128.4 L1483.1,1127.4 L1480.4,1126.4 L1477.6,1125.5 L1474.8,1124.5 L1472.0,1123.5 L1469.2,1122.6 L1466.4,1121.6 L1463.7,1120.6 L1460.9,1119.7 L1458.1,1118.7 L1455.3,1117.7 L1452.5,1117.3 L1449.6,1117.0 L1446.8,1116.7 L1443.9,1116.4 L1441.1,1116.1 L1438.2,1115.8 L1435.4,1115.5 L1432.5,1115.2 L1430.5,1115.2 L1428.6,1115.5 L1426.6,1116.2 L1424.8,1117.3 L1423.2,1118.6 L1421.7,1120.2 L1420.5,1122.1 L1419.5,1124.2 L1418.8,1126.4 L1418.4,1128.7 L1418.4,1128.7 L1418.3,1131.0 L1418.6,1133.3 L1419.1,1135.6 L1419.9,1137.6 L1421.0,1139.5 L1422.3,1141.2 L1423.9,1142.6 L1425.6,1143.7 L1427.5,1144.4 L1429.4,1144.8 L1432.2,1145.1 L1435.1,1145.4 L1437.9,1145.7 L1440.8,1146.0 L1443.7,1146.3 L1446.5,1146.6 L1449.4,1146.9 L1452.2,1147.1 L1455.1,1146.7 L1458.1,1146.3 L1461.0,1146.0 L1463.9,1145.6 L1466.8,1145.2 L1469.8,1144.9 L1472.7,1144.5 L1475.6,1144.1 L1478.5,1143.8 L1481.5,1143.4 L1484.4,1143.0 L1487.3,1142.7Z" fill="url(#pg5)"/><circle cx="1488" cy="1136" r="39.2" fill="url(#pg5)"/>
<path d="M1503.9,1076.0 L1495.8,1073.9 M1474.4,1061.0 L1482.6,1059.1 M1504.3,1049.0 L1496.2,1046.9 M1476.3,1042.3 L1484.5,1040.4 M1478.8,1089.4 L1471.2,1091.2 M1449.4,1092.6 L1455.1,1087.3 M1469.1,1071.4 L1461.5,1073.2 M1444.0,1079.4 L1449.7,1074.1 M1454.0,1092.9 L1447.5,1098.3 M1426.2,1109.5 L1429.3,1101.7 M1434.7,1079.0 L1428.3,1084.5 M1413.8,1098.6 L1417.0,1090.8 M1538.9,1105.9 L1533.3,1098.0 M1522.8,1072.6 L1531.1,1077.5 M1555.9,1087.1 L1550.3,1079.3 M1536.0,1060.9 L1544.3,1065.8 M1551.8,1134.4 L1551.0,1124.8 M1556.0,1097.3 L1560.6,1105.7 M1578.1,1126.3 L1577.3,1116.7 M1574.7,1093.4 L1579.4,1101.8 M1538.2,1153.5 L1540.6,1145.5 M1552.0,1124.5 L1553.6,1132.7 M1561.0,1154.6 L1563.5,1146.6 M1567.8,1126.8 L1569.3,1135.1 M1535.6,1167.3 L1540.1,1159.5 M1557.6,1140.5 L1557.0,1149.5 M1559.1,1174.4 L1563.6,1166.6 M1573.4,1147.1 L1572.7,1156.1 M1493.5,1190.6 L1501.9,1189.5 M1525.9,1191.6 L1519.0,1196.5 M1502.3,1212.7 L1510.7,1211.5 M1530.5,1207.4 L1523.6,1212.3 M1477.0,1192.2 L1485.3,1193.7 M1507.6,1203.5 L1499.6,1206.0 M1478.8,1217.0 L1487.1,1218.4 M1507.3,1220.7 L1499.3,1223.3 M1461.4,1177.9 L1468.8,1181.9 M1487.2,1196.6 L1478.7,1196.4 M1456.0,1198.4 L1463.4,1202.4 M1481.9,1210.4 L1473.4,1210.2 M1435.7,1149.8 L1438.7,1158.3 M1442.1,1183.6 L1435.8,1177.1 M1416.1,1162.1 L1419.1,1170.7 M1427.6,1190.6 L1421.3,1184.2 M1449.2,1117.0 L1446.4,1124.9 M1436.3,1145.5 L1435.2,1137.2 M1431.1,1115.1 L1428.3,1123.1 M1424.0,1142.7 L1422.9,1134.3" stroke="#5a5a5a" stroke-width="3" fill="none"/>
<radialGradient id="pg6" gradientUnits="userSpaceOnUse" cx="1681" cy="1089" r="108.0"><stop offset="0" stop-color="#000000"/><stop offset="0.28" stop-color="#0c1600"/><stop offset="0.58" stop-color="#4a720c"/><stop offset="0.86" stop-color="#94cc20"/><stop offset="1" stop-color="#b4f02a"/></radialGradient>
<path d="M1687.8,1089.1 L1688.6,1084.8 L1689.3,1080.5 L1690.1,1076.1 L1690.9,1071.8 L1691.6,1067.5 L1692.4,1063.2 L1693.1,1058.8 L1693.9,1054.5 L1694.7,1050.2 L1695.4,1045.9 L1696.2,1041.5 L1696.9,1037.2 L1697.1,1032.9 L1697.2,1028.5 L1697.3,1024.2 L1697.4,1019.8 L1697.4,1015.5 L1697.5,1011.2 L1697.6,1006.8 L1697.7,1002.5 L1697.5,999.5 L1697.0,996.6 L1696.2,993.8 L1695.0,991.2 L1693.5,988.9 L1691.7,987.0 L1689.7,985.4 L1687.5,984.2 L1685.2,983.5 L1682.8,983.2 L1682.8,983.2 L1680.5,983.4 L1678.1,984.0 L1675.9,985.1 L1673.9,986.7 L1672.0,988.6 L1670.4,990.8 L1669.2,993.3 L1668.2,996.1 L1667.6,999.0 L1667.4,1002.0 L1667.3,1006.3 L1667.2,1010.6 L1667.1,1015.0 L1667.1,1019.3 L1667.0,1023.7 L1666.9,1028.0 L1666.8,1032.3 L1666.9,1036.7 L1667.5,1041.0 L1668.1,1045.4 L1668.7,1049.7 L1669.3,1054.1 L1669.9,1058.4 L1670.5,1062.8 L1671.1,1067.1 L1671.7,1071.5 L1672.4,1075.8 L1673.0,1080.2 L1673.6,1084.5 L1674.2,1088.9Z M1686.6,1086.0 L1685.6,1082.9 L1684.6,1079.7 L1683.6,1076.5 L1682.6,1073.3 L1681.7,1070.1 L1680.7,1066.9 L1679.7,1063.7 L1678.7,1060.5 L1677.7,1057.3 L1676.8,1054.1 L1675.8,1051.0 L1674.8,1047.8 L1673.4,1044.8 L1671.8,1041.9 L1670.3,1039.0 L1668.7,1036.1 L1667.2,1033.2 L1665.7,1030.4 L1664.1,1027.5 L1662.6,1024.6 L1661.4,1022.7 L1659.9,1021.0 L1658.2,1019.5 L1656.3,1018.4 L1654.2,1017.5 L1652.0,1017.0 L1649.8,1016.8 L1647.6,1017.0 L1645.5,1017.6 L1643.5,1018.4 L1643.5,1018.4 L1641.6,1019.6 L1640.0,1021.1 L1638.6,1022.8 L1637.5,1024.7 L1636.7,1026.8 L1636.3,1029.0 L1636.2,1031.2 L1636.4,1033.5 L1637.0,1035.6 L1637.9,1037.7 L1639.4,1040.6 L1641.0,1043.5 L1642.5,1046.4 L1644.0,1049.3 L1645.6,1052.2 L1647.1,1055.1 L1648.6,1058.0 L1650.3,1060.8 L1652.4,1063.4 L1654.5,1066.0 L1656.6,1068.6 L1658.7,1071.2 L1660.8,1073.8 L1662.9,1076.4 L1665.0,1079.0 L1667.1,1081.6 L1669.2,1084.2 L1671.2,1086.8 L1673.3,1089.4 L1675.4,1092.0Z M1685.0,1083.5 L1682.3,1080.7 L1679.7,1077.9 L1677.0,1075.1 L1674.3,1072.3 L1671.6,1069.5 L1668.9,1066.7 L1666.3,1063.9 L1663.6,1061.1 L1660.9,1058.4 L1658.2,1055.6 L1655.5,1052.8 L1652.9,1050.0 L1649.9,1047.6 L1646.8,1045.4 L1643.7,1043.2 L1640.6,1040.9 L1637.5,1038.7 L1634.5,1036.4 L1631.4,1034.2 L1628.3,1032.0 L1626.1,1030.6 L1623.7,1029.5 L1621.2,1028.8 L1618.6,1028.5 L1616.1,1028.6 L1613.7,1029.1 L1611.4,1029.9 L1609.3,1031.1 L1607.4,1032.6 L1605.9,1034.4 L1605.9,1034.4 L1604.6,1036.4 L1603.8,1038.7 L1603.3,1041.0 L1603.2,1043.5 L1603.5,1046.0 L1604.2,1048.4 L1605.3,1050.7 L1606.7,1052.9 L1608.5,1054.8 L1610.5,1056.5 L1613.6,1058.7 L1616.6,1061.0 L1619.7,1063.2 L1622.8,1065.5 L1625.9,1067.7 L1629.0,1069.9 L1632.0,1072.2 L1635.2,1074.3 L1638.7,1076.0 L1642.2,1077.7 L1645.6,1079.4 L1649.1,1081.0 L1652.6,1082.7 L1656.1,1084.4 L1659.6,1086.1 L1663.1,1087.8 L1666.5,1089.5 L1670.0,1091.2 L1673.5,1092.8 L1677.0,1094.5Z M1686.8,1094.3 L1690.1,1091.8 L1693.5,1089.4 L1696.8,1086.9 L1700.1,1084.4 L1703.5,1082.0 L1706.8,1079.5 L1710.1,1077.0 L1713.5,1074.6 L1716.8,1072.1 L1720.1,1069.6 L1723.5,1067.1 L1726.8,1064.7 L1729.7,1061.8 L1732.4,1058.8 L1735.2,1055.8 L1737.9,1052.8 L1740.7,1049.8 L1743.4,1046.8 L1746.2,1043.8 L1748.9,1040.8 L1750.7,1038.5 L1752.0,1036.1 L1753.0,1033.5 L1753.6,1030.7 L1753.7,1028.0 L1753.4,1025.2 L1752.7,1022.5 L1751.5,1020.0 L1750.0,1017.8 L1748.1,1015.7 L1748.1,1015.7 L1746.0,1014.1 L1743.5,1012.7 L1741.0,1011.8 L1738.2,1011.3 L1735.5,1011.2 L1732.7,1011.6 L1730.0,1012.4 L1727.5,1013.6 L1725.2,1015.2 L1723.1,1017.1 L1720.4,1020.1 L1717.6,1023.1 L1714.9,1026.1 L1712.1,1029.1 L1709.4,1032.1 L1706.6,1035.1 L1703.9,1038.1 L1701.2,1041.2 L1699.1,1044.8 L1696.9,1048.3 L1694.7,1051.9 L1692.6,1055.4 L1690.4,1058.9 L1688.2,1062.5 L1686.0,1066.0 L1683.9,1069.5 L1681.7,1073.1 L1679.5,1076.6 L1677.4,1080.1 L1675.2,1083.7Z M1683.3,1096.5 L1687.8,1096.0 L1692.2,1095.4 L1696.7,1094.9 L1701.2,1094.4 L1705.6,1093.8 L1710.1,1093.3 L1714.6,1092.7 L1719.0,1092.2 L1723.5,1091.7 L1728.0,1091.1 L1732.4,1090.6 L1736.9,1090.0 L1741.2,1088.9 L1745.4,1087.6 L1749.6,1086.3 L1753.9,1085.0 L1758.1,1083.7 L1762.3,1082.4 L1766.6,1081.1 L1770.8,1079.8 L1773.7,1078.7 L1776.3,1077.3 L1778.7,1075.4 L1780.8,1073.3 L1782.5,1070.9 L1783.7,1068.3 L1784.6,1065.6 L1785.0,1062.9 L1784.9,1060.1 L1784.3,1057.4 L1784.3,1057.4 L1783.3,1054.9 L1781.8,1052.5 L1779.9,1050.4 L1777.7,1048.7 L1775.2,1047.3 L1772.5,1046.2 L1769.6,1045.6 L1766.6,1045.4 L1763.5,1045.7 L1760.6,1046.4 L1756.3,1047.7 L1752.1,1049.0 L1747.9,1050.3 L1743.6,1051.6 L1739.4,1052.8 L1735.2,1054.1 L1730.9,1055.4 L1726.7,1056.9 L1722.7,1058.9 L1718.7,1061.0 L1714.7,1063.0 L1710.7,1065.1 L1706.7,1067.1 L1702.7,1069.2 L1698.7,1071.2 L1694.7,1073.3 L1690.7,1075.3 L1686.7,1077.4 L1682.7,1079.4 L1678.7,1081.5Z M1680.6,1095.8 L1684.3,1096.7 L1687.9,1097.6 L1691.5,1098.4 L1695.2,1099.3 L1698.8,1100.2 L1702.4,1101.1 L1706.1,1101.9 L1709.7,1102.8 L1713.4,1103.7 L1717.0,1104.6 L1720.6,1105.4 L1724.3,1106.3 L1727.9,1106.6 L1731.6,1106.8 L1735.3,1107.0 L1738.9,1107.2 L1742.6,1107.4 L1746.3,1107.6 L1749.9,1107.8 L1753.6,1108.0 L1756.1,1107.9 L1758.6,1107.5 L1761.0,1106.7 L1763.2,1105.6 L1765.2,1104.2 L1767.0,1102.4 L1768.4,1100.5 L1769.5,1098.3 L1770.2,1096.0 L1770.5,1093.7 L1770.5,1093.7 L1770.4,1091.3 L1770.0,1089.0 L1769.1,1086.7 L1767.9,1084.6 L1766.4,1082.7 L1764.5,1081.1 L1762.4,1079.7 L1760.1,1078.7 L1757.7,1078.0 L1755.2,1077.7 L1751.5,1077.5 L1747.9,1077.3 L1744.2,1077.1 L1740.5,1076.9 L1736.8,1076.7 L1733.2,1076.6 L1729.5,1076.4 L1725.8,1076.3 L1722.1,1076.8 L1718.4,1077.3 L1714.7,1077.8 L1711.0,1078.3 L1707.3,1078.8 L1703.6,1079.2 L1699.9,1079.7 L1696.2,1080.2 L1692.5,1080.7 L1688.8,1081.2 L1685.1,1081.7 L1681.4,1082.2Z M1678.9,1096.0 L1682.4,1097.9 L1686.0,1099.7 L1689.5,1101.6 L1693.1,1103.5 L1696.6,1105.3 L1700.2,1107.2 L1703.7,1109.0 L1707.3,1110.9 L1710.8,1112.7 L1714.4,1114.6 L1717.9,1116.4 L1721.5,1118.3 L1725.2,1119.6 L1729.0,1120.7 L1732.8,1121.9 L1736.5,1123.1 L1740.3,1124.2 L1744.1,1125.4 L1747.8,1126.5 L1751.6,1127.7 L1754.2,1128.3 L1756.9,1128.5 L1759.6,1128.3 L1762.2,1127.7 L1764.7,1126.7 L1767.0,1125.3 L1768.9,1123.6 L1770.6,1121.7 L1772.0,1119.5 L1772.9,1117.1 L1772.9,1117.1 L1773.5,1114.6 L1773.6,1112.0 L1773.3,1109.5 L1772.6,1107.0 L1771.4,1104.6 L1770.0,1102.4 L1768.1,1100.4 L1766.0,1098.8 L1763.7,1097.4 L1761.1,1096.4 L1757.4,1095.3 L1753.6,1094.1 L1749.8,1093.0 L1746.1,1091.8 L1742.3,1090.7 L1738.5,1089.5 L1734.8,1088.4 L1731.0,1087.3 L1727.0,1086.9 L1723.0,1086.5 L1719.0,1086.0 L1715.0,1085.6 L1711.0,1085.1 L1707.1,1084.7 L1703.1,1084.2 L1699.1,1083.8 L1695.1,1083.3 L1691.1,1082.9 L1687.1,1082.4 L1683.1,1082.0Z M1674.7,1091.5 L1675.4,1095.3 L1676.2,1099.1 L1676.9,1102.9 L1677.7,1106.7 L1678.4,1110.5 L1679.2,1114.3 L1680.0,1118.1 L1680.7,1121.9 L1681.5,1125.6 L1682.2,1129.4 L1683.0,1133.2 L1683.8,1137.0 L1685.0,1140.6 L1686.4,1144.2 L1687.8,1147.7 L1689.2,1151.2 L1690.6,1154.8 L1692.0,1158.3 L1693.4,1161.9 L1694.8,1165.4 L1695.9,1167.8 L1697.4,1170.0 L1699.1,1171.9 L1701.1,1173.5 L1703.3,1174.8 L1705.6,1175.7 L1708.0,1176.2 L1710.4,1176.4 L1712.8,1176.1 L1715.0,1175.4 L1715.0,1175.4 L1717.2,1174.4 L1719.1,1172.9 L1720.8,1171.2 L1722.2,1169.2 L1723.2,1166.9 L1723.9,1164.5 L1724.3,1162.0 L1724.2,1159.4 L1723.8,1156.8 L1723.0,1154.3 L1721.6,1150.8 L1720.2,1147.2 L1718.8,1143.7 L1717.4,1140.1 L1716.0,1136.6 L1714.6,1133.0 L1713.3,1129.5 L1711.7,1126.0 L1709.7,1122.7 L1707.7,1119.4 L1705.6,1116.1 L1703.6,1112.8 L1701.6,1109.5 L1699.5,1106.3 L1697.5,1103.0 L1695.5,1099.7 L1693.4,1096.4 L1691.4,1093.1 L1689.4,1089.8 L1687.3,1086.5Z M1674.2,1089.5 L1673.8,1093.5 L1673.4,1097.5 L1673.0,1101.5 L1672.6,1105.6 L1672.2,1109.6 L1671.8,1113.6 L1671.4,1117.6 L1671.0,1121.7 L1670.6,1125.7 L1670.2,1129.7 L1669.7,1133.7 L1669.3,1137.8 L1669.5,1141.7 L1669.8,1145.7 L1670.0,1149.7 L1670.3,1153.7 L1670.6,1157.6 L1670.9,1161.6 L1671.2,1165.6 L1671.4,1169.6 L1671.8,1172.3 L1672.6,1174.9 L1673.6,1177.4 L1675.0,1179.6 L1676.7,1181.6 L1678.7,1183.3 L1680.8,1184.5 L1683.0,1185.4 L1685.4,1185.9 L1687.8,1186.0 L1687.8,1186.0 L1690.1,1185.6 L1692.4,1184.8 L1694.5,1183.6 L1696.4,1182.0 L1698.1,1180.1 L1699.5,1177.9 L1700.6,1175.5 L1701.3,1172.9 L1701.7,1170.2 L1701.7,1167.5 L1701.4,1163.5 L1701.1,1159.5 L1700.9,1155.5 L1700.6,1151.6 L1700.3,1147.6 L1700.0,1143.6 L1699.7,1139.6 L1699.3,1135.7 L1698.4,1131.7 L1697.4,1127.8 L1696.4,1123.9 L1695.5,1119.9 L1694.5,1116.0 L1693.6,1112.1 L1692.6,1108.2 L1691.6,1104.2 L1690.7,1100.3 L1689.7,1096.4 L1688.8,1092.5 L1687.8,1088.5Z M1674.4,1087.2 L1672.9,1090.4 L1671.3,1093.5 L1669.8,1096.6 L1668.2,1099.7 L1666.7,1102.8 L1665.2,1105.9 L1663.6,1109.0 L1662.1,1112.2 L1660.5,1115.3 L1659.0,1118.4 L1657.4,1121.5 L1655.9,1124.6 L1654.9,1127.9 L1654.0,1131.2 L1653.1,1134.5 L1652.2,1137.8 L1651.4,1141.1 L1650.5,1144.4 L1649.6,1147.6 L1648.7,1150.9 L1648.3,1153.3 L1648.2,1155.6 L1648.5,1157.9 L1649.2,1160.2 L1650.3,1162.3 L1651.6,1164.3 L1653.2,1166.0 L1655.1,1167.4 L1657.2,1168.5 L1659.5,1169.3 L1659.5,1169.3 L1661.8,1169.8 L1664.2,1169.8 L1666.5,1169.5 L1668.8,1168.9 L1671.0,1167.9 L1672.9,1166.5 L1674.6,1164.9 L1676.1,1163.1 L1677.2,1161.0 L1678.0,1158.8 L1678.9,1155.5 L1679.8,1152.2 L1680.6,1148.9 L1681.5,1145.6 L1682.4,1142.3 L1683.3,1139.0 L1684.2,1135.7 L1684.9,1132.4 L1685.2,1128.9 L1685.4,1125.5 L1685.6,1122.0 L1685.8,1118.5 L1686.0,1115.1 L1686.3,1111.6 L1686.5,1108.1 L1686.7,1104.6 L1686.9,1101.2 L1687.1,1097.7 L1687.4,1094.2 L1687.6,1090.8Z M1677.1,1082.8 L1673.6,1084.1 L1670.0,1085.5 L1666.5,1086.8 L1662.9,1088.2 L1659.4,1089.5 L1655.8,1090.8 L1652.3,1092.2 L1648.7,1093.5 L1645.2,1094.9 L1641.7,1096.2 L1638.1,1097.6 L1634.6,1098.9 L1631.3,1100.8 L1628.2,1102.7 L1625.0,1104.7 L1621.9,1106.7 L1618.7,1108.7 L1615.6,1110.6 L1612.4,1112.6 L1609.3,1114.6 L1607.2,1116.1 L1605.4,1117.9 L1603.9,1120.0 L1602.8,1122.3 L1602.0,1124.7 L1601.6,1127.3 L1601.6,1129.8 L1602.1,1132.4 L1602.9,1134.8 L1604.1,1137.1 L1604.1,1137.1 L1605.6,1139.1 L1607.4,1140.9 L1609.5,1142.4 L1611.8,1143.6 L1614.2,1144.3 L1616.8,1144.7 L1619.3,1144.7 L1621.9,1144.3 L1624.3,1143.5 L1626.6,1142.3 L1629.7,1140.3 L1632.9,1138.3 L1636.0,1136.4 L1639.2,1134.4 L1642.3,1132.4 L1645.5,1130.4 L1648.6,1128.5 L1651.7,1126.4 L1654.5,1123.8 L1657.3,1121.2 L1660.0,1118.6 L1662.8,1116.0 L1665.5,1113.4 L1668.3,1110.8 L1671.1,1108.2 L1673.8,1105.6 L1676.6,1103.0 L1679.4,1100.4 L1682.1,1097.8 L1684.9,1095.2Z M1681.7,1082.2 L1678.9,1081.2 L1676.0,1080.2 L1673.2,1079.3 L1670.4,1078.3 L1667.5,1077.3 L1664.7,1076.3 L1661.9,1075.3 L1659.0,1074.3 L1656.2,1073.3 L1653.4,1072.4 L1650.5,1071.4 L1647.7,1070.4 L1644.8,1069.9 L1641.9,1069.6 L1639.0,1069.3 L1636.1,1069.0 L1633.2,1068.7 L1630.3,1068.4 L1627.4,1068.1 L1624.5,1067.8 L1622.4,1067.8 L1620.4,1068.1 L1618.5,1068.8 L1616.7,1069.9 L1615.0,1071.3 L1613.5,1072.9 L1612.2,1074.8 L1611.2,1077.0 L1610.5,1079.2 L1610.1,1081.5 L1610.1,1081.5 L1610.0,1083.9 L1610.2,1086.3 L1610.8,1088.5 L1611.6,1090.7 L1612.7,1092.6 L1614.1,1094.3 L1615.7,1095.7 L1617.4,1096.8 L1619.3,1097.6 L1621.3,1098.0 L1624.2,1098.3 L1627.1,1098.6 L1630.0,1098.9 L1632.9,1099.2 L1635.8,1099.5 L1638.7,1099.8 L1641.6,1100.1 L1644.6,1100.3 L1647.5,1099.9 L1650.5,1099.5 L1653.5,1099.2 L1656.5,1098.8 L1659.4,1098.4 L1662.4,1098.0 L1665.4,1097.7 L1668.4,1097.3 L1671.4,1096.9 L1674.3,1096.5 L1677.3,1096.2 L1680.3,1095.8Z M1644.3,1089.0 A36.7,36.7 0 1 0 1717.7,1089.0 A36.7,36.7 0 1 0 1644.3,1089.0Z" fill="#5a5a5a" stroke="#5a5a5a" stroke-width="5" stroke-linejoin="round"/>
<path d="M1687.8,1089.1 L1688.6,1084.8 L1689.3,1080.5 L1690.1,1076.1 L1690.9,1071.8 L1691.6,1067.5 L1692.4,1063.2 L1693.1,1058.8 L1693.9,1054.5 L1694.7,1050.2 L1695.4,1045.9 L1696.2,1041.5 L1696.9,1037.2 L1697.1,1032.9 L1697.2,1028.5 L1697.3,1024.2 L1697.4,1019.8 L1697.4,1015.5 L1697.5,1011.2 L1697.6,1006.8 L1697.7,1002.5 L1697.5,999.5 L1697.0,996.6 L1696.2,993.8 L1695.0,991.2 L1693.5,988.9 L1691.7,987.0 L1689.7,985.4 L1687.5,984.2 L1685.2,983.5 L1682.8,983.2 L1682.8,983.2 L1680.5,983.4 L1678.1,984.0 L1675.9,985.1 L1673.9,986.7 L1672.0,988.6 L1670.4,990.8 L1669.2,993.3 L1668.2,996.1 L1667.6,999.0 L1667.4,1002.0 L1667.3,1006.3 L1667.2,1010.6 L1667.1,1015.0 L1667.1,1019.3 L1667.0,1023.7 L1666.9,1028.0 L1666.8,1032.3 L1666.9,1036.7 L1667.5,1041.0 L1668.1,1045.4 L1668.7,1049.7 L1669.3,1054.1 L1669.9,1058.4 L1670.5,1062.8 L1671.1,1067.1 L1671.7,1071.5 L1672.4,1075.8 L1673.0,1080.2 L1673.6,1084.5 L1674.2,1088.9Z M1686.6,1086.0 L1685.6,1082.9 L1684.6,1079.7 L1683.6,1076.5 L1682.6,1073.3 L1681.7,1070.1 L1680.7,1066.9 L1679.7,1063.7 L1678.7,1060.5 L1677.7,1057.3 L1676.8,1054.1 L1675.8,1051.0 L1674.8,1047.8 L1673.4,1044.8 L1671.8,1041.9 L1670.3,1039.0 L1668.7,1036.1 L1667.2,1033.2 L1665.7,1030.4 L1664.1,1027.5 L1662.6,1024.6 L1661.4,1022.7 L1659.9,1021.0 L1658.2,1019.5 L1656.3,1018.4 L1654.2,1017.5 L1652.0,1017.0 L1649.8,1016.8 L1647.6,1017.0 L1645.5,1017.6 L1643.5,1018.4 L1643.5,1018.4 L1641.6,1019.6 L1640.0,1021.1 L1638.6,1022.8 L1637.5,1024.7 L1636.7,1026.8 L1636.3,1029.0 L1636.2,1031.2 L1636.4,1033.5 L1637.0,1035.6 L1637.9,1037.7 L1639.4,1040.6 L1641.0,1043.5 L1642.5,1046.4 L1644.0,1049.3 L1645.6,1052.2 L1647.1,1055.1 L1648.6,1058.0 L1650.3,1060.8 L1652.4,1063.4 L1654.5,1066.0 L1656.6,1068.6 L1658.7,1071.2 L1660.8,1073.8 L1662.9,1076.4 L1665.0,1079.0 L1667.1,1081.6 L1669.2,1084.2 L1671.2,1086.8 L1673.3,1089.4 L1675.4,1092.0Z M1685.0,1083.5 L1682.3,1080.7 L1679.7,1077.9 L1677.0,1075.1 L1674.3,1072.3 L1671.6,1069.5 L1668.9,1066.7 L1666.3,1063.9 L1663.6,1061.1 L1660.9,1058.4 L1658.2,1055.6 L1655.5,1052.8 L1652.9,1050.0 L1649.9,1047.6 L1646.8,1045.4 L1643.7,1043.2 L1640.6,1040.9 L1637.5,1038.7 L1634.5,1036.4 L1631.4,1034.2 L1628.3,1032.0 L1626.1,1030.6 L1623.7,1029.5 L1621.2,1028.8 L1618.6,1028.5 L1616.1,1028.6 L1613.7,1029.1 L1611.4,1029.9 L1609.3,1031.1 L1607.4,1032.6 L1605.9,1034.4 L1605.9,1034.4 L1604.6,1036.4 L1603.8,1038.7 L1603.3,1041.0 L1603.2,1043.5 L1603.5,1046.0 L1604.2,1048.4 L1605.3,1050.7 L1606.7,1052.9 L1608.5,1054.8 L1610.5,1056.5 L1613.6,1058.7 L1616.6,1061.0 L1619.7,1063.2 L1622.8,1065.5 L1625.9,1067.7 L1629.0,1069.9 L1632.0,1072.2 L1635.2,1074.3 L1638.7,1076.0 L1642.2,1077.7 L1645.6,1079.4 L1649.1,1081.0 L1652.6,1082.7 L1656.1,1084.4 L1659.6,1086.1 L1663.1,1087.8 L1666.5,1089.5 L1670.0,1091.2 L1673.5,1092.8 L1677.0,1094.5Z M1686.8,1094.3 L1690.1,1091.8 L1693.5,1089.4 L1696.8,1086.9 L1700.1,1084.4 L1703.5,1082.0 L1706.8,1079.5 L1710.1,1077.0 L1713.5,1074.6 L1716.8,1072.1 L1720.1,1069.6 L1723.5,1067.1 L1726.8,1064.7 L1729.7,1061.8 L1732.4,1058.8 L1735.2,1055.8 L1737.9,1052.8 L1740.7,1049.8 L1743.4,1046.8 L1746.2,1043.8 L1748.9,1040.8 L1750.7,1038.5 L1752.0,1036.1 L1753.0,1033.5 L1753.6,1030.7 L1753.7,1028.0 L1753.4,1025.2 L1752.7,1022.5 L1751.5,1020.0 L1750.0,1017.8 L1748.1,1015.7 L1748.1,1015.7 L1746.0,1014.1 L1743.5,1012.7 L1741.0,1011.8 L1738.2,1011.3 L1735.5,1011.2 L1732.7,1011.6 L1730.0,1012.4 L1727.5,1013.6 L1725.2,1015.2 L1723.1,1017.1 L1720.4,1020.1 L1717.6,1023.1 L1714.9,1026.1 L1712.1,1029.1 L1709.4,1032.1 L1706.6,1035.1 L1703.9,1038.1 L1701.2,1041.2 L1699.1,1044.8 L1696.9,1048.3 L1694.7,1051.9 L1692.6,1055.4 L1690.4,1058.9 L1688.2,1062.5 L1686.0,1066.0 L1683.9,1069.5 L1681.7,1073.1 L1679.5,1076.6 L1677.4,1080.1 L1675.2,1083.7Z M1683.3,1096.5 L1687.8,1096.0 L1692.2,1095.4 L1696.7,1094.9 L1701.2,1094.4 L1705.6,1093.8 L1710.1,1093.3 L1714.6,1092.7 L1719.0,1092.2 L1723.5,1091.7 L1728.0,1091.1 L1732.4,1090.6 L1736.9,1090.0 L1741.2,1088.9 L1745.4,1087.6 L1749.6,1086.3 L1753.9,1085.0 L1758.1,1083.7 L1762.3,1082.4 L1766.6,1081.1 L1770.8,1079.8 L1773.7,1078.7 L1776.3,1077.3 L1778.7,1075.4 L1780.8,1073.3 L1782.5,1070.9 L1783.7,1068.3 L1784.6,1065.6 L1785.0,1062.9 L1784.9,1060.1 L1784.3,1057.4 L1784.3,1057.4 L1783.3,1054.9 L1781.8,1052.5 L1779.9,1050.4 L1777.7,1048.7 L1775.2,1047.3 L1772.5,1046.2 L1769.6,1045.6 L1766.6,1045.4 L1763.5,1045.7 L1760.6,1046.4 L1756.3,1047.7 L1752.1,1049.0 L1747.9,1050.3 L1743.6,1051.6 L1739.4,1052.8 L1735.2,1054.1 L1730.9,1055.4 L1726.7,1056.9 L1722.7,1058.9 L1718.7,1061.0 L1714.7,1063.0 L1710.7,1065.1 L1706.7,1067.1 L1702.7,1069.2 L1698.7,1071.2 L1694.7,1073.3 L1690.7,1075.3 L1686.7,1077.4 L1682.7,1079.4 L1678.7,1081.5Z M1680.6,1095.8 L1684.3,1096.7 L1687.9,1097.6 L1691.5,1098.4 L1695.2,1099.3 L1698.8,1100.2 L1702.4,1101.1 L1706.1,1101.9 L1709.7,1102.8 L1713.4,1103.7 L1717.0,1104.6 L1720.6,1105.4 L1724.3,1106.3 L1727.9,1106.6 L1731.6,1106.8 L1735.3,1107.0 L1738.9,1107.2 L1742.6,1107.4 L1746.3,1107.6 L1749.9,1107.8 L1753.6,1108.0 L1756.1,1107.9 L1758.6,1107.5 L1761.0,1106.7 L1763.2,1105.6 L1765.2,1104.2 L1767.0,1102.4 L1768.4,1100.5 L1769.5,1098.3 L1770.2,1096.0 L1770.5,1093.7 L1770.5,1093.7 L1770.4,1091.3 L1770.0,1089.0 L1769.1,1086.7 L1767.9,1084.6 L1766.4,1082.7 L1764.5,1081.1 L1762.4,1079.7 L1760.1,1078.7 L1757.7,1078.0 L1755.2,1077.7 L1751.5,1077.5 L1747.9,1077.3 L1744.2,1077.1 L1740.5,1076.9 L1736.8,1076.7 L1733.2,1076.6 L1729.5,1076.4 L1725.8,1076.3 L1722.1,1076.8 L1718.4,1077.3 L1714.7,1077.8 L1711.0,1078.3 L1707.3,1078.8 L1703.6,1079.2 L1699.9,1079.7 L1696.2,1080.2 L1692.5,1080.7 L1688.8,1081.2 L1685.1,1081.7 L1681.4,1082.2Z M1678.9,1096.0 L1682.4,1097.9 L1686.0,1099.7 L1689.5,1101.6 L1693.1,1103.5 L1696.6,1105.3 L1700.2,1107.2 L1703.7,1109.0 L1707.3,1110.9 L1710.8,1112.7 L1714.4,1114.6 L1717.9,1116.4 L1721.5,1118.3 L1725.2,1119.6 L1729.0,1120.7 L1732.8,1121.9 L1736.5,1123.1 L1740.3,1124.2 L1744.1,1125.4 L1747.8,1126.5 L1751.6,1127.7 L1754.2,1128.3 L1756.9,1128.5 L1759.6,1128.3 L1762.2,1127.7 L1764.7,1126.7 L1767.0,1125.3 L1768.9,1123.6 L1770.6,1121.7 L1772.0,1119.5 L1772.9,1117.1 L1772.9,1117.1 L1773.5,1114.6 L1773.6,1112.0 L1773.3,1109.5 L1772.6,1107.0 L1771.4,1104.6 L1770.0,1102.4 L1768.1,1100.4 L1766.0,1098.8 L1763.7,1097.4 L1761.1,1096.4 L1757.4,1095.3 L1753.6,1094.1 L1749.8,1093.0 L1746.1,1091.8 L1742.3,1090.7 L1738.5,1089.5 L1734.8,1088.4 L1731.0,1087.3 L1727.0,1086.9 L1723.0,1086.5 L1719.0,1086.0 L1715.0,1085.6 L1711.0,1085.1 L1707.1,1084.7 L1703.1,1084.2 L1699.1,1083.8 L1695.1,1083.3 L1691.1,1082.9 L1687.1,1082.4 L1683.1,1082.0Z M1674.7,1091.5 L1675.4,1095.3 L1676.2,1099.1 L1676.9,1102.9 L1677.7,1106.7 L1678.4,1110.5 L1679.2,1114.3 L1680.0,1118.1 L1680.7,1121.9 L1681.5,1125.6 L1682.2,1129.4 L1683.0,1133.2 L1683.8,1137.0 L1685.0,1140.6 L1686.4,1144.2 L1687.8,1147.7 L1689.2,1151.2 L1690.6,1154.8 L1692.0,1158.3 L1693.4,1161.9 L1694.8,1165.4 L1695.9,1167.8 L1697.4,1170.0 L1699.1,1171.9 L1701.1,1173.5 L1703.3,1174.8 L1705.6,1175.7 L1708.0,1176.2 L1710.4,1176.4 L1712.8,1176.1 L1715.0,1175.4 L1715.0,1175.4 L1717.2,1174.4 L1719.1,1172.9 L1720.8,1171.2 L1722.2,1169.2 L1723.2,1166.9 L1723.9,1164.5 L1724.3,1162.0 L1724.2,1159.4 L1723.8,1156.8 L1723.0,1154.3 L1721.6,1150.8 L1720.2,1147.2 L1718.8,1143.7 L1717.4,1140.1 L1716.0,1136.6 L1714.6,1133.0 L1713.3,1129.5 L1711.7,1126.0 L1709.7,1122.7 L1707.7,1119.4 L1705.6,1116.1 L1703.6,1112.8 L1701.6,1109.5 L1699.5,1106.3 L1697.5,1103.0 L1695.5,1099.7 L1693.4,1096.4 L1691.4,1093.1 L1689.4,1089.8 L1687.3,1086.5Z M1674.2,1089.5 L1673.8,1093.5 L1673.4,1097.5 L1673.0,1101.5 L1672.6,1105.6 L1672.2,1109.6 L1671.8,1113.6 L1671.4,1117.6 L1671.0,1121.7 L1670.6,1125.7 L1670.2,1129.7 L1669.7,1133.7 L1669.3,1137.8 L1669.5,1141.7 L1669.8,1145.7 L1670.0,1149.7 L1670.3,1153.7 L1670.6,1157.6 L1670.9,1161.6 L1671.2,1165.6 L1671.4,1169.6 L1671.8,1172.3 L1672.6,1174.9 L1673.6,1177.4 L1675.0,1179.6 L1676.7,1181.6 L1678.7,1183.3 L1680.8,1184.5 L1683.0,1185.4 L1685.4,1185.9 L1687.8,1186.0 L1687.8,1186.0 L1690.1,1185.6 L1692.4,1184.8 L1694.5,1183.6 L1696.4,1182.0 L1698.1,1180.1 L1699.5,1177.9 L1700.6,1175.5 L1701.3,1172.9 L1701.7,1170.2 L1701.7,1167.5 L1701.4,1163.5 L1701.1,1159.5 L1700.9,1155.5 L1700.6,1151.6 L1700.3,1147.6 L1700.0,1143.6 L1699.7,1139.6 L1699.3,1135.7 L1698.4,1131.7 L1697.4,1127.8 L1696.4,1123.9 L1695.5,1119.9 L1694.5,1116.0 L1693.6,1112.1 L1692.6,1108.2 L1691.6,1104.2 L1690.7,1100.3 L1689.7,1096.4 L1688.8,1092.5 L1687.8,1088.5Z M1674.4,1087.2 L1672.9,1090.4 L1671.3,1093.5 L1669.8,1096.6 L1668.2,1099.7 L1666.7,1102.8 L1665.2,1105.9 L1663.6,1109.0 L1662.1,1112.2 L1660.5,1115.3 L1659.0,1118.4 L1657.4,1121.5 L1655.9,1124.6 L1654.9,1127.9 L1654.0,1131.2 L1653.1,1134.5 L1652.2,1137.8 L1651.4,1141.1 L1650.5,1144.4 L1649.6,1147.6 L1648.7,1150.9 L1648.3,1153.3 L1648.2,1155.6 L1648.5,1157.9 L1649.2,1160.2 L1650.3,1162.3 L1651.6,1164.3 L1653.2,1166.0 L1655.1,1167.4 L1657.2,1168.5 L1659.5,1169.3 L1659.5,1169.3 L1661.8,1169.8 L1664.2,1169.8 L1666.5,1169.5 L1668.8,1168.9 L1671.0,1167.9 L1672.9,1166.5 L1674.6,1164.9 L1676.1,1163.1 L1677.2,1161.0 L1678.0,1158.8 L1678.9,1155.5 L1679.8,1152.2 L1680.6,1148.9 L1681.5,1145.6 L1682.4,1142.3 L1683.3,1139.0 L1684.2,1135.7 L1684.9,1132.4 L1685.2,1128.9 L1685.4,1125.5 L1685.6,1122.0 L1685.8,1118.5 L1686.0,1115.1 L1686.3,1111.6 L1686.5,1108.1 L1686.7,1104.6 L1686.9,1101.2 L1687.1,1097.7 L1687.4,1094.2 L1687.6,1090.8Z M1677.1,1082.8 L1673.6,1084.1 L1670.0,1085.5 L1666.5,1086.8 L1662.9,1088.2 L1659.4,1089.5 L1655.8,1090.8 L1652.3,1092.2 L1648.7,1093.5 L1645.2,1094.9 L1641.7,1096.2 L1638.1,1097.6 L1634.6,1098.9 L1631.3,1100.8 L1628.2,1102.7 L1625.0,1104.7 L1621.9,1106.7 L1618.7,1108.7 L1615.6,1110.6 L1612.4,1112.6 L1609.3,1114.6 L1607.2,1116.1 L1605.4,1117.9 L1603.9,1120.0 L1602.8,1122.3 L1602.0,1124.7 L1601.6,1127.3 L1601.6,1129.8 L1602.1,1132.4 L1602.9,1134.8 L1604.1,1137.1 L1604.1,1137.1 L1605.6,1139.1 L1607.4,1140.9 L1609.5,1142.4 L1611.8,1143.6 L1614.2,1144.3 L1616.8,1144.7 L1619.3,1144.7 L1621.9,1144.3 L1624.3,1143.5 L1626.6,1142.3 L1629.7,1140.3 L1632.9,1138.3 L1636.0,1136.4 L1639.2,1134.4 L1642.3,1132.4 L1645.5,1130.4 L1648.6,1128.5 L1651.7,1126.4 L1654.5,1123.8 L1657.3,1121.2 L1660.0,1118.6 L1662.8,1116.0 L1665.5,1113.4 L1668.3,1110.8 L1671.1,1108.2 L1673.8,1105.6 L1676.6,1103.0 L1679.4,1100.4 L1682.1,1097.8 L1684.9,1095.2Z M1681.7,1082.2 L1678.9,1081.2 L1676.0,1080.2 L1673.2,1079.3 L1670.4,1078.3 L1667.5,1077.3 L1664.7,1076.3 L1661.9,1075.3 L1659.0,1074.3 L1656.2,1073.3 L1653.4,1072.4 L1650.5,1071.4 L1647.7,1070.4 L1644.8,1069.9 L1641.9,1069.6 L1639.0,1069.3 L1636.1,1069.0 L1633.2,1068.7 L1630.3,1068.4 L1627.4,1068.1 L1624.5,1067.8 L1622.4,1067.8 L1620.4,1068.1 L1618.5,1068.8 L1616.7,1069.9 L1615.0,1071.3 L1613.5,1072.9 L1612.2,1074.8 L1611.2,1077.0 L1610.5,1079.2 L1610.1,1081.5 L1610.1,1081.5 L1610.0,1083.9 L1610.2,1086.3 L1610.8,1088.5 L1611.6,1090.7 L1612.7,1092.6 L1614.1,1094.3 L1615.7,1095.7 L1617.4,1096.8 L1619.3,1097.6 L1621.3,1098.0 L1624.2,1098.3 L1627.1,1098.6 L1630.0,1098.9 L1632.9,1099.2 L1635.8,1099.5 L1638.7,1099.8 L1641.6,1100.1 L1644.6,1100.3 L1647.5,1099.9 L1650.5,1099.5 L1653.5,1099.2 L1656.5,1098.8 L1659.4,1098.4 L1662.4,1098.0 L1665.4,1097.7 L1668.4,1097.3 L1671.4,1096.9 L1674.3,1096.5 L1677.3,1096.2 L1680.3,1095.8Z" fill="url(#pg6)"/><circle cx="1681" cy="1089" r="40.0" fill="url(#pg6)"/>
<path d="M1697.2,1027.9 L1688.9,1025.7 M1667.2,1012.5 L1675.5,1010.7 M1697.6,1000.4 L1689.3,998.2 M1669.1,993.5 L1677.5,991.7 M1671.6,1041.5 L1663.9,1043.3 M1641.6,1044.8 L1647.5,1039.4 M1661.8,1023.2 L1654.0,1025.0 M1636.2,1031.4 L1642.0,1026.0 M1646.3,1045.1 L1639.8,1050.6 M1618.0,1062.0 L1621.3,1054.0 M1626.7,1031.0 L1620.2,1036.5 M1605.4,1050.9 L1608.7,1042.9 M1732.8,1058.3 L1727.1,1050.4 M1716.4,1024.4 L1724.9,1029.5 M1750.2,1039.2 L1744.5,1031.2 M1729.9,1012.5 L1738.3,1017.5 M1746.0,1087.4 L1745.1,1077.6 M1750.2,1049.5 L1755.0,1058.2 M1772.8,1079.1 L1771.9,1069.3 M1769.4,1045.6 L1774.1,1054.2 M1732.1,1106.9 L1734.6,1098.6 M1746.2,1077.2 L1747.8,1085.7 M1755.4,1108.0 L1757.8,1099.8 M1762.3,1079.7 L1763.8,1088.1 M1729.5,1120.9 L1734.1,1112.9 M1752.0,1093.6 L1751.2,1102.8 M1753.5,1128.1 L1758.0,1120.1 M1768.0,1100.3 L1767.3,1109.5 M1686.6,1144.7 L1695.1,1143.5 M1719.6,1145.7 L1712.6,1150.6 M1695.6,1167.1 L1704.1,1165.9 M1724.3,1161.8 L1717.2,1166.7 M1669.8,1146.3 L1678.3,1147.7 M1701.0,1157.8 L1692.8,1160.3 M1671.7,1171.5 L1680.1,1172.9 M1700.7,1175.3 L1692.5,1177.9 M1653.9,1131.7 L1661.4,1135.8 M1680.1,1150.8 L1671.6,1150.5 M1648.4,1152.6 L1655.9,1156.7 M1674.7,1164.8 L1666.2,1164.6 M1627.7,1103.0 L1630.8,1111.7 M1634.3,1137.5 L1627.8,1130.9 M1607.8,1115.6 L1610.8,1124.3 M1619.5,1144.7 L1613.1,1138.1 M1641.5,1069.6 L1638.6,1077.7 M1628.4,1098.7 L1627.3,1090.2 M1623.0,1067.8 L1620.2,1075.8 M1615.8,1095.8 L1614.7,1087.3" stroke="#5a5a5a" stroke-width="3" fill="none"/>
<radialGradient id="pg7" gradientUnits="userSpaceOnUse" cx="1778" cy="1084" r="108.0"><stop offset="0" stop-color="#000000"/><stop offset="0.28" stop-color="#0c1600"/><stop offset="0.58" stop-color="#4a720c"/><stop offset="0.86" stop-color="#94cc20"/><stop offset="1" stop-color="#b4f02a"/></radialGradient>
<path d="M1784.6,1085.8 L1786.4,1081.8 L1788.2,1077.7 L1789.9,1073.7 L1791.7,1069.7 L1793.5,1065.7 L1795.3,1061.7 L1797.1,1057.7 L1798.9,1053.6 L1800.6,1049.6 L1802.4,1045.6 L1804.2,1041.6 L1806.0,1037.6 L1807.2,1033.4 L1808.4,1029.2 L1809.5,1025.1 L1810.6,1020.9 L1811.7,1016.7 L1812.9,1012.5 L1814.0,1008.3 L1815.1,1004.1 L1815.7,1001.2 L1815.9,998.2 L1815.8,995.3 L1815.2,992.5 L1814.3,989.9 L1813.1,987.6 L1811.5,985.6 L1809.7,983.9 L1807.6,982.6 L1805.4,981.8 L1805.4,981.8 L1803.0,981.4 L1800.6,981.5 L1798.2,982.0 L1795.8,983.0 L1793.6,984.4 L1791.5,986.2 L1789.7,988.3 L1788.1,990.7 L1786.8,993.4 L1785.8,996.2 L1784.7,1000.4 L1783.6,1004.6 L1782.4,1008.8 L1781.3,1013.0 L1780.2,1017.2 L1779.1,1021.4 L1778.0,1025.6 L1777.0,1029.8 L1776.5,1034.2 L1776.0,1038.5 L1775.6,1042.9 L1775.1,1047.3 L1774.6,1051.7 L1774.2,1056.0 L1773.7,1060.4 L1773.3,1064.8 L1772.8,1069.1 L1772.3,1073.5 L1771.9,1077.9 L1771.4,1082.2Z M1784.1,1082.5 L1783.9,1079.1 L1783.8,1075.8 L1783.6,1072.5 L1783.4,1069.1 L1783.2,1065.8 L1783.0,1062.5 L1782.9,1059.2 L1782.7,1055.8 L1782.5,1052.5 L1782.3,1049.2 L1782.1,1045.8 L1781.9,1042.5 L1781.3,1039.3 L1780.5,1036.1 L1779.7,1032.9 L1778.9,1029.7 L1778.1,1026.6 L1777.3,1023.4 L1776.5,1020.2 L1775.7,1017.0 L1775.0,1014.9 L1774.0,1012.9 L1772.7,1011.1 L1771.1,1009.5 L1769.3,1008.1 L1767.3,1007.1 L1765.2,1006.4 L1763.0,1006.1 L1760.8,1006.1 L1758.7,1006.5 L1758.7,1006.5 L1756.6,1007.2 L1754.6,1008.2 L1752.9,1009.5 L1751.3,1011.1 L1750.1,1012.9 L1749.1,1014.9 L1748.5,1017.1 L1748.2,1019.3 L1748.2,1021.6 L1748.6,1023.8 L1749.4,1027.0 L1750.2,1030.2 L1750.9,1033.3 L1751.7,1036.5 L1752.5,1039.7 L1753.3,1042.9 L1754.1,1046.1 L1755.0,1049.2 L1756.4,1052.2 L1757.8,1055.3 L1759.2,1058.3 L1760.6,1061.3 L1762.1,1064.3 L1763.5,1067.4 L1764.9,1070.4 L1766.3,1073.4 L1767.7,1076.4 L1769.1,1079.5 L1770.5,1082.5 L1771.9,1085.5Z M1783.2,1079.6 L1781.3,1076.3 L1779.4,1072.9 L1777.5,1069.5 L1775.5,1066.2 L1773.6,1062.8 L1771.7,1059.5 L1769.8,1056.1 L1767.8,1052.8 L1765.9,1049.4 L1764.0,1046.0 L1762.1,1042.7 L1760.1,1039.3 L1757.8,1036.3 L1755.3,1033.4 L1752.9,1030.5 L1750.5,1027.6 L1748.0,1024.7 L1745.6,1021.7 L1743.1,1018.8 L1740.7,1015.9 L1738.8,1014.0 L1736.8,1012.4 L1734.5,1011.2 L1732.1,1010.2 L1729.7,1009.7 L1727.2,1009.6 L1724.7,1009.8 L1722.4,1010.5 L1720.2,1011.5 L1718.3,1012.8 L1718.3,1012.8 L1716.6,1014.5 L1715.2,1016.5 L1714.2,1018.7 L1713.5,1021.0 L1713.2,1023.5 L1713.3,1026.0 L1713.8,1028.5 L1714.7,1031.0 L1715.9,1033.3 L1717.4,1035.4 L1719.9,1038.3 L1722.3,1041.2 L1724.8,1044.2 L1727.2,1047.1 L1729.7,1050.0 L1732.1,1052.9 L1734.6,1055.8 L1737.1,1058.7 L1740.1,1061.1 L1743.1,1063.6 L1746.0,1066.1 L1749.0,1068.6 L1752.0,1071.0 L1754.9,1073.5 L1757.9,1076.0 L1760.9,1078.5 L1763.9,1081.0 L1766.8,1083.4 L1769.8,1085.9 L1772.8,1088.4Z M1782.3,1090.6 L1786.2,1089.0 L1790.0,1087.4 L1793.8,1085.8 L1797.7,1084.2 L1801.5,1082.6 L1805.3,1081.0 L1809.2,1079.4 L1813.0,1077.8 L1816.8,1076.3 L1820.7,1074.7 L1824.5,1073.1 L1828.3,1071.5 L1831.8,1069.4 L1835.2,1067.1 L1838.6,1064.9 L1842.0,1062.6 L1845.4,1060.4 L1848.8,1058.1 L1852.2,1055.9 L1855.6,1053.6 L1857.8,1051.9 L1859.7,1049.9 L1861.3,1047.5 L1862.5,1045.0 L1863.3,1042.4 L1863.7,1039.6 L1863.6,1036.9 L1863.1,1034.2 L1862.2,1031.6 L1860.9,1029.2 L1860.9,1029.2 L1859.2,1027.0 L1857.1,1025.1 L1854.8,1023.6 L1852.3,1022.5 L1849.7,1021.7 L1846.9,1021.4 L1844.1,1021.5 L1841.4,1022.1 L1838.7,1023.1 L1836.3,1024.4 L1832.9,1026.7 L1829.5,1028.9 L1826.1,1031.2 L1822.7,1033.4 L1819.3,1035.7 L1815.9,1037.9 L1812.5,1040.2 L1809.2,1042.6 L1806.2,1045.5 L1803.3,1048.4 L1800.3,1051.3 L1797.3,1054.2 L1794.4,1057.1 L1791.4,1060.0 L1788.5,1062.9 L1785.5,1065.8 L1782.5,1068.7 L1779.6,1071.6 L1776.6,1074.5 L1773.7,1077.4Z M1778.4,1091.9 L1782.9,1092.4 L1787.3,1093.0 L1791.8,1093.5 L1796.3,1094.1 L1800.7,1094.6 L1805.2,1095.2 L1809.7,1095.8 L1814.1,1096.3 L1818.6,1096.9 L1823.0,1097.4 L1827.5,1098.0 L1832.0,1098.5 L1836.4,1098.5 L1840.8,1098.2 L1845.2,1098.0 L1849.7,1097.8 L1854.1,1097.5 L1858.5,1097.3 L1862.9,1097.1 L1867.4,1096.8 L1870.4,1096.5 L1873.3,1095.7 L1876.1,1094.5 L1878.6,1092.9 L1880.8,1091.0 L1882.7,1088.8 L1884.2,1086.4 L1885.2,1083.8 L1885.8,1081.1 L1885.9,1078.3 L1885.9,1078.3 L1885.5,1075.6 L1884.6,1073.0 L1883.3,1070.5 L1881.6,1068.3 L1879.5,1066.3 L1877.1,1064.6 L1874.4,1063.3 L1871.6,1062.4 L1868.6,1061.9 L1865.5,1061.9 L1861.1,1062.1 L1856.7,1062.4 L1852.3,1062.6 L1847.8,1062.8 L1843.4,1063.1 L1839.0,1063.3 L1834.6,1063.5 L1830.2,1063.9 L1825.8,1064.9 L1821.4,1065.9 L1817.0,1067.0 L1812.6,1068.0 L1808.3,1069.0 L1803.9,1070.0 L1799.5,1071.0 L1795.1,1072.1 L1790.7,1073.1 L1786.3,1074.1 L1782.0,1075.1 L1777.6,1076.1Z M1776.0,1090.5 L1779.3,1092.3 L1782.6,1094.0 L1785.9,1095.7 L1789.3,1097.4 L1792.6,1099.2 L1795.9,1100.9 L1799.2,1102.6 L1802.5,1104.4 L1805.8,1106.1 L1809.2,1107.8 L1812.5,1109.5 L1815.8,1111.3 L1819.3,1112.5 L1822.8,1113.5 L1826.3,1114.6 L1829.8,1115.7 L1833.3,1116.8 L1836.8,1117.8 L1840.3,1118.9 L1843.9,1120.0 L1846.3,1120.6 L1848.8,1120.7 L1851.3,1120.6 L1853.8,1120.0 L1856.1,1119.1 L1858.2,1117.8 L1860.0,1116.3 L1861.6,1114.5 L1862.8,1112.4 L1863.7,1110.2 L1863.7,1110.2 L1864.2,1107.9 L1864.3,1105.5 L1864.1,1103.1 L1863.4,1100.8 L1862.3,1098.6 L1860.9,1096.5 L1859.2,1094.7 L1857.3,1093.2 L1855.1,1091.9 L1852.7,1091.0 L1849.2,1089.9 L1845.7,1088.8 L1842.2,1087.8 L1838.7,1086.7 L1835.2,1085.6 L1831.6,1084.5 L1828.1,1083.5 L1824.6,1082.5 L1820.9,1082.1 L1817.1,1081.7 L1813.4,1081.3 L1809.7,1080.8 L1806.0,1080.4 L1802.3,1080.0 L1798.6,1079.6 L1794.9,1079.2 L1791.1,1078.7 L1787.4,1078.3 L1783.7,1077.9 L1780.0,1077.5Z M1774.2,1090.3 L1777.2,1093.0 L1780.2,1095.6 L1783.2,1098.3 L1786.2,1100.9 L1789.2,1103.6 L1792.2,1106.3 L1795.2,1108.9 L1798.2,1111.6 L1801.2,1114.2 L1804.2,1116.9 L1807.2,1119.6 L1810.2,1122.2 L1813.5,1124.4 L1816.9,1126.4 L1820.3,1128.4 L1823.6,1130.5 L1827.0,1132.5 L1830.4,1134.5 L1833.8,1136.6 L1837.2,1138.6 L1839.6,1139.8 L1842.1,1140.7 L1844.8,1141.1 L1847.5,1141.2 L1850.1,1140.8 L1852.6,1140.0 L1855.0,1138.9 L1857.1,1137.4 L1858.9,1135.6 L1860.4,1133.5 L1860.4,1133.5 L1861.5,1131.2 L1862.3,1128.7 L1862.6,1126.2 L1862.5,1123.6 L1862.0,1121.0 L1861.1,1118.5 L1859.8,1116.2 L1858.1,1114.0 L1856.2,1112.2 L1854.0,1110.6 L1850.6,1108.6 L1847.2,1106.5 L1843.8,1104.5 L1840.5,1102.5 L1837.1,1100.4 L1833.7,1098.4 L1830.3,1096.4 L1826.9,1094.5 L1823.1,1093.1 L1819.4,1091.7 L1815.6,1090.3 L1811.8,1088.9 L1808.1,1087.5 L1804.3,1086.1 L1800.6,1084.7 L1796.8,1083.3 L1793.1,1081.9 L1789.3,1080.5 L1785.5,1079.1 L1781.8,1077.7Z M1771.2,1084.9 L1771.1,1088.8 L1770.9,1092.6 L1770.7,1096.5 L1770.5,1100.3 L1770.3,1104.2 L1770.1,1108.1 L1770.0,1111.9 L1769.8,1115.8 L1769.6,1119.7 L1769.4,1123.5 L1769.2,1127.4 L1769.1,1131.3 L1769.4,1135.1 L1769.9,1138.8 L1770.4,1142.6 L1770.9,1146.4 L1771.4,1150.2 L1771.9,1153.9 L1772.4,1157.7 L1772.9,1161.5 L1773.4,1164.1 L1774.3,1166.5 L1775.5,1168.8 L1777.1,1170.9 L1778.9,1172.6 L1780.9,1174.1 L1783.1,1175.2 L1785.4,1175.9 L1787.7,1176.2 L1790.1,1176.1 L1790.1,1176.1 L1792.4,1175.6 L1794.7,1174.7 L1796.7,1173.4 L1798.5,1171.8 L1800.1,1169.8 L1801.4,1167.7 L1802.3,1165.3 L1802.9,1162.7 L1803.1,1160.1 L1803.0,1157.5 L1802.5,1153.8 L1802.0,1150.0 L1801.5,1146.2 L1801.0,1142.4 L1800.5,1138.7 L1800.0,1134.9 L1799.5,1131.1 L1798.9,1127.3 L1797.7,1123.7 L1796.5,1120.0 L1795.3,1116.3 L1794.2,1112.6 L1793.0,1108.9 L1791.8,1105.2 L1790.6,1101.5 L1789.5,1097.9 L1788.3,1094.2 L1787.1,1090.5 L1785.9,1086.8 L1784.8,1083.1Z M1771.3,1082.8 L1769.9,1086.6 L1768.5,1090.4 L1767.2,1094.2 L1765.8,1098.0 L1764.5,1101.8 L1763.1,1105.7 L1761.7,1109.5 L1760.4,1113.3 L1759.0,1117.1 L1757.6,1120.9 L1756.3,1124.7 L1754.9,1128.5 L1754.1,1132.4 L1753.4,1136.3 L1752.7,1140.2 L1752.0,1144.2 L1751.3,1148.1 L1750.6,1152.0 L1749.9,1155.9 L1749.2,1159.9 L1748.9,1162.6 L1749.0,1165.3 L1749.5,1168.0 L1750.3,1170.5 L1751.5,1172.8 L1752.9,1174.9 L1754.7,1176.6 L1756.7,1178.1 L1758.8,1179.1 L1761.1,1179.7 L1761.1,1179.7 L1763.5,1179.9 L1765.9,1179.7 L1768.2,1179.0 L1770.5,1178.0 L1772.6,1176.5 L1774.5,1174.8 L1776.1,1172.7 L1777.4,1170.3 L1778.4,1167.8 L1779.1,1165.1 L1779.8,1161.2 L1780.5,1157.3 L1781.2,1153.4 L1781.9,1149.4 L1782.6,1145.5 L1783.2,1141.6 L1783.9,1137.7 L1784.5,1133.7 L1784.5,1129.7 L1784.5,1125.6 L1784.6,1121.6 L1784.6,1117.5 L1784.6,1113.5 L1784.6,1109.4 L1784.6,1105.4 L1784.6,1101.4 L1784.7,1097.3 L1784.7,1093.3 L1784.7,1089.2 L1784.7,1085.2Z M1772.0,1080.7 L1769.8,1083.3 L1767.5,1086.0 L1765.3,1088.6 L1763.0,1091.3 L1760.8,1093.9 L1758.5,1096.6 L1756.3,1099.2 L1754.0,1101.9 L1751.8,1104.5 L1749.5,1107.2 L1747.3,1109.8 L1745.0,1112.5 L1743.2,1115.4 L1741.6,1118.4 L1739.9,1121.4 L1738.3,1124.4 L1736.6,1127.3 L1735.0,1130.3 L1733.3,1133.3 L1731.7,1136.3 L1730.7,1138.4 L1730.1,1140.7 L1729.8,1143.0 L1729.9,1145.4 L1730.4,1147.7 L1731.3,1149.9 L1732.5,1152.0 L1733.9,1153.8 L1735.7,1155.4 L1737.7,1156.7 L1737.7,1156.7 L1739.8,1157.7 L1742.1,1158.4 L1744.5,1158.6 L1746.9,1158.6 L1749.2,1158.1 L1751.4,1157.3 L1753.5,1156.1 L1755.3,1154.7 L1756.9,1153.0 L1758.2,1151.0 L1759.9,1148.0 L1761.5,1145.0 L1763.2,1142.0 L1764.8,1139.1 L1766.5,1136.1 L1768.1,1133.1 L1769.8,1130.1 L1771.3,1127.1 L1772.4,1123.8 L1773.4,1120.4 L1774.5,1117.1 L1775.5,1113.8 L1776.6,1110.5 L1777.6,1107.2 L1778.7,1103.9 L1779.7,1100.6 L1780.8,1097.2 L1781.9,1093.9 L1782.9,1090.6 L1784.0,1087.3Z M1775.7,1077.0 L1772.0,1077.5 L1768.2,1077.9 L1764.4,1078.4 L1760.7,1078.8 L1756.9,1079.3 L1753.1,1079.7 L1749.4,1080.2 L1745.6,1080.6 L1741.8,1081.1 L1738.1,1081.5 L1734.3,1082.0 L1730.5,1082.4 L1727.0,1083.4 L1723.4,1084.6 L1719.9,1085.7 L1716.4,1086.9 L1712.8,1088.0 L1709.3,1089.2 L1705.7,1090.3 L1702.2,1091.5 L1699.8,1092.4 L1697.7,1093.8 L1695.7,1095.4 L1694.0,1097.4 L1692.7,1099.6 L1691.7,1101.9 L1691.1,1104.4 L1690.9,1107.0 L1691.1,1109.5 L1691.7,1112.0 L1691.7,1112.0 L1692.7,1114.4 L1694.0,1116.6 L1695.7,1118.5 L1697.7,1120.2 L1699.8,1121.5 L1702.2,1122.5 L1704.7,1123.1 L1707.3,1123.3 L1709.8,1123.1 L1712.3,1122.5 L1715.8,1121.4 L1719.4,1120.2 L1722.9,1119.1 L1726.4,1117.9 L1730.0,1116.8 L1733.5,1115.6 L1737.1,1114.5 L1740.6,1113.2 L1743.9,1111.3 L1747.2,1109.5 L1750.5,1107.6 L1753.8,1105.8 L1757.1,1103.9 L1760.4,1102.1 L1763.7,1100.2 L1767.0,1098.4 L1770.3,1096.5 L1773.7,1094.7 L1777.0,1092.8 L1780.3,1091.0Z M1780.3,1077.6 L1777.8,1075.9 L1775.3,1074.3 L1772.8,1072.7 L1770.3,1071.0 L1767.8,1069.4 L1765.3,1067.7 L1762.7,1066.1 L1760.2,1064.5 L1757.7,1062.8 L1755.2,1061.2 L1752.7,1059.5 L1750.2,1057.9 L1747.5,1056.8 L1744.7,1055.8 L1742.0,1054.8 L1739.2,1053.8 L1736.5,1052.8 L1733.8,1051.8 L1731.0,1050.8 L1728.3,1049.8 L1726.3,1049.2 L1724.3,1049.1 L1722.2,1049.3 L1720.2,1049.9 L1718.2,1050.8 L1716.4,1052.1 L1714.7,1053.6 L1713.2,1055.4 L1712.0,1057.4 L1711.0,1059.6 L1711.0,1059.6 L1710.4,1061.9 L1710.0,1064.2 L1710.0,1066.6 L1710.3,1068.8 L1710.9,1071.0 L1711.8,1073.0 L1713.0,1074.7 L1714.4,1076.2 L1716.1,1077.4 L1717.9,1078.3 L1720.6,1079.3 L1723.4,1080.3 L1726.1,1081.3 L1728.9,1082.3 L1731.6,1083.3 L1734.4,1084.3 L1737.1,1085.3 L1739.9,1086.1 L1742.9,1086.5 L1745.9,1086.8 L1748.8,1087.2 L1751.8,1087.6 L1754.8,1087.9 L1757.8,1088.3 L1760.8,1088.6 L1763.7,1089.0 L1766.7,1089.3 L1769.7,1089.7 L1772.7,1090.1 L1775.7,1090.4Z M1741.3,1084.0 A36.7,36.7 0 1 0 1814.7,1084.0 A36.7,36.7 0 1 0 1741.3,1084.0Z" fill="#5a5a5a" stroke="#5a5a5a" stroke-width="5" stroke-linejoin="round"/>
<path d="M1784.6,1085.8 L1786.4,1081.8 L1788.2,1077.7 L1789.9,1073.7 L1791.7,1069.7 L1793.5,1065.7 L1795.3,1061.7 L1797.1,1057.7 L1798.9,1053.6 L1800.6,1049.6 L1802.4,1045.6 L1804.2,1041.6 L1806.0,1037.6 L1807.2,1033.4 L1808.4,1029.2 L1809.5,1025.1 L1810.6,1020.9 L1811.7,1016.7 L1812.9,1012.5 L1814.0,1008.3 L1815.1,1004.1 L1815.7,1001.2 L1815.9,998.2 L1815.8,995.3 L1815.2,992.5 L1814.3,989.9 L1813.1,987.6 L1811.5,985.6 L1809.7,983.9 L1807.6,982.6 L1805.4,981.8 L1805.4,981.8 L1803.0,981.4 L1800.6,981.5 L1798.2,982.0 L1795.8,983.0 L1793.6,984.4 L1791.5,986.2 L1789.7,988.3 L1788.1,990.7 L1786.8,993.4 L1785.8,996.2 L1784.7,1000.4 L1783.6,1004.6 L1782.4,1008.8 L1781.3,1013.0 L1780.2,1017.2 L1779.1,1021.4 L1778.0,1025.6 L1777.0,1029.8 L1776.5,1034.2 L1776.0,1038.5 L1775.6,1042.9 L1775.1,1047.3 L1774.6,1051.7 L1774.2,1056.0 L1773.7,1060.4 L1773.3,1064.8 L1772.8,1069.1 L1772.3,1073.5 L1771.9,1077.9 L1771.4,1082.2Z M1784.1,1082.5 L1783.9,1079.1 L1783.8,1075.8 L1783.6,1072.5 L1783.4,1069.1 L1783.2,1065.8 L1783.0,1062.5 L1782.9,1059.2 L1782.7,1055.8 L1782.5,1052.5 L1782.3,1049.2 L1782.1,1045.8 L1781.9,1042.5 L1781.3,1039.3 L1780.5,1036.1 L1779.7,1032.9 L1778.9,1029.7 L1778.1,1026.6 L1777.3,1023.4 L1776.5,1020.2 L1775.7,1017.0 L1775.0,1014.9 L1774.0,1012.9 L1772.7,1011.1 L1771.1,1009.5 L1769.3,1008.1 L1767.3,1007.1 L1765.2,1006.4 L1763.0,1006.1 L1760.8,1006.1 L1758.7,1006.5 L1758.7,1006.5 L1756.6,1007.2 L1754.6,1008.2 L1752.9,1009.5 L1751.3,1011.1 L1750.1,1012.9 L1749.1,1014.9 L1748.5,1017.1 L1748.2,1019.3 L1748.2,1021.6 L1748.6,1023.8 L1749.4,1027.0 L1750.2,1030.2 L1750.9,1033.3 L1751.7,1036.5 L1752.5,1039.7 L1753.3,1042.9 L1754.1,1046.1 L1755.0,1049.2 L1756.4,1052.2 L1757.8,1055.3 L1759.2,1058.3 L1760.6,1061.3 L1762.1,1064.3 L1763.5,1067.4 L1764.9,1070.4 L1766.3,1073.4 L1767.7,1076.4 L1769.1,1079.5 L1770.5,1082.5 L1771.9,1085.5Z M1783.2,1079.6 L1781.3,1076.3 L1779.4,1072.9 L1777.5,1069.5 L1775.5,1066.2 L1773.6,1062.8 L1771.7,1059.5 L1769.8,1056.1 L1767.8,1052.8 L1765.9,1049.4 L1764.0,1046.0 L1762.1,1042.7 L1760.1,1039.3 L1757.8,1036.3 L1755.3,1033.4 L1752.9,1030.5 L1750.5,1027.6 L1748.0,1024.7 L1745.6,1021.7 L1743.1,1018.8 L1740.7,1015.9 L1738.8,1014.0 L1736.8,1012.4 L1734.5,1011.2 L1732.1,1010.2 L1729.7,1009.7 L1727.2,1009.6 L1724.7,1009.8 L1722.4,1010.5 L1720.2,1011.5 L1718.3,1012.8 L1718.3,1012.8 L1716.6,1014.5 L1715.2,1016.5 L1714.2,1018.7 L1713.5,1021.0 L1713.2,1023.5 L1713.3,1026.0 L1713.8,1028.5 L1714.7,1031.0 L1715.9,1033.3 L1717.4,1035.4 L1719.9,1038.3 L1722.3,1041.2 L1724.8,1044.2 L1727.2,1047.1 L1729.7,1050.0 L1732.1,1052.9 L1734.6,1055.8 L1737.1,1058.7 L1740.1,1061.1 L1743.1,1063.6 L1746.0,1066.1 L1749.0,1068.6 L1752.0,1071.0 L1754.9,1073.5 L1757.9,1076.0 L1760.9,1078.5 L1763.9,1081.0 L1766.8,1083.4 L1769.8,1085.9 L1772.8,1088.4Z M1782.3,1090.6 L1786.2,1089.0 L1790.0,1087.4 L1793.8,1085.8 L1797.7,1084.2 L1801.5,1082.6 L1805.3,1081.0 L1809.2,1079.4 L1813.0,1077.8 L1816.8,1076.3 L1820.7,1074.7 L1824.5,1073.1 L1828.3,1071.5 L1831.8,1069.4 L1835.2,1067.1 L1838.6,1064.9 L1842.0,1062.6 L1845.4,1060.4 L1848.8,1058.1 L1852.2,1055.9 L1855.6,1053.6 L1857.8,1051.9 L1859.7,1049.9 L1861.3,1047.5 L1862.5,1045.0 L1863.3,1042.4 L1863.7,1039.6 L1863.6,1036.9 L1863.1,1034.2 L1862.2,1031.6 L1860.9,1029.2 L1860.9,1029.2 L1859.2,1027.0 L1857.1,1025.1 L1854.8,1023.6 L1852.3,1022.5 L1849.7,1021.7 L1846.9,1021.4 L1844.1,1021.5 L1841.4,1022.1 L1838.7,1023.1 L1836.3,1024.4 L1832.9,1026.7 L1829.5,1028.9 L1826.1,1031.2 L1822.7,1033.4 L1819.3,1035.7 L1815.9,1037.9 L1812.5,1040.2 L1809.2,1042.6 L1806.2,1045.5 L1803.3,1048.4 L1800.3,1051.3 L1797.3,1054.2 L1794.4,1057.1 L1791.4,1060.0 L1788.5,1062.9 L1785.5,1065.8 L1782.5,1068.7 L1779.6,1071.6 L1776.6,1074.5 L1773.7,1077.4Z M1778.4,1091.9 L1782.9,1092.4 L1787.3,1093.0 L1791.8,1093.5 L1796.3,1094.1 L1800.7,1094.6 L1805.2,1095.2 L1809.7,1095.8 L1814.1,1096.3 L1818.6,1096.9 L1823.0,1097.4 L1827.5,1098.0 L1832.0,1098.5 L1836.4,1098.5 L1840.8,1098.2 L1845.2,1098.0 L1849.7,1097.8 L1854.1,1097.5 L1858.5,1097.3 L1862.9,1097.1 L1867.4,1096.8 L1870.4,1096.5 L1873.3,1095.7 L1876.1,1094.5 L1878.6,1092.9 L1880.8,1091.0 L1882.7,1088.8 L1884.2,1086.4 L1885.2,1083.8 L1885.8,1081.1 L1885.9,1078.3 L1885.9,1078.3 L1885.5,1075.6 L1884.6,1073.0 L1883.3,1070.5 L1881.6,1068.3 L1879.5,1066.3 L1877.1,1064.6 L1874.4,1063.3 L1871.6,1062.4 L1868.6,1061.9 L1865.5,1061.9 L1861.1,1062.1 L1856.7,1062.4 L1852.3,1062.6 L1847.8,1062.8 L1843.4,1063.1 L1839.0,1063.3 L1834.6,1063.5 L1830.2,1063.9 L1825.8,1064.9 L1821.4,1065.9 L1817.0,1067.0 L1812.6,1068.0 L1808.3,1069.0 L1803.9,1070.0 L1799.5,1071.0 L1795.1,1072.1 L1790.7,1073.1 L1786.3,1074.1 L1782.0,1075.1 L1777.6,1076.1Z M1776.0,1090.5 L1779.3,1092.3 L1782.6,1094.0 L1785.9,1095.7 L1789.3,1097.4 L1792.6,1099.2 L1795.9,1100.9 L1799.2,1102.6 L1802.5,1104.4 L1805.8,1106.1 L1809.2,1107.8 L1812.5,1109.5 L1815.8,1111.3 L1819.3,1112.5 L1822.8,1113.5 L1826.3,1114.6 L1829.8,1115.7 L1833.3,1116.8 L1836.8,1117.8 L1840.3,1118.9 L1843.9,1120.0 L1846.3,1120.6 L1848.8,1120.7 L1851.3,1120.6 L1853.8,1120.0 L1856.1,1119.1 L1858.2,1117.8 L1860.0,1116.3 L1861.6,1114.5 L1862.8,1112.4 L1863.7,1110.2 L1863.7,1110.2 L1864.2,1107.9 L1864.3,1105.5 L1864.1,1103.1 L1863.4,1100.8 L1862.3,1098.6 L1860.9,1096.5 L1859.2,1094.7 L1857.3,1093.2 L1855.1,1091.9 L1852.7,1091.0 L1849.2,1089.9 L1845.7,1088.8 L1842.2,1087.8 L1838.7,1086.7 L1835.2,1085.6 L1831.6,1084.5 L1828.1,1083.5 L1824.6,1082.5 L1820.9,1082.1 L1817.1,1081.7 L1813.4,1081.3 L1809.7,1080.8 L1806.0,1080.4 L1802.3,1080.0 L1798.6,1079.6 L1794.9,1079.2 L1791.1,1078.7 L1787.4,1078.3 L1783.7,1077.9 L1780.0,1077.5Z M1774.2,1090.3 L1777.2,1093.0 L1780.2,1095.6 L1783.2,1098.3 L1786.2,1100.9 L1789.2,1103.6 L1792.2,1106.3 L1795.2,1108.9 L1798.2,1111.6 L1801.2,1114.2 L1804.2,1116.9 L1807.2,1119.6 L1810.2,1122.2 L1813.5,1124.4 L1816.9,1126.4 L1820.3,1128.4 L1823.6,1130.5 L1827.0,1132.5 L1830.4,1134.5 L1833.8,1136.6 L1837.2,1138.6 L1839.6,1139.8 L1842.1,1140.7 L1844.8,1141.1 L1847.5,1141.2 L1850.1,1140.8 L1852.6,1140.0 L1855.0,1138.9 L1857.1,1137.4 L1858.9,1135.6 L1860.4,1133.5 L1860.4,1133.5 L1861.5,1131.2 L1862.3,1128.7 L1862.6,1126.2 L1862.5,1123.6 L1862.0,1121.0 L1861.1,1118.5 L1859.8,1116.2 L1858.1,1114.0 L1856.2,1112.2 L1854.0,1110.6 L1850.6,1108.6 L1847.2,1106.5 L1843.8,1104.5 L1840.5,1102.5 L1837.1,1100.4 L1833.7,1098.4 L1830.3,1096.4 L1826.9,1094.5 L1823.1,1093.1 L1819.4,1091.7 L1815.6,1090.3 L1811.8,1088.9 L1808.1,1087.5 L1804.3,1086.1 L1800.6,1084.7 L1796.8,1083.3 L1793.1,1081.9 L1789.3,1080.5 L1785.5,1079.1 L1781.8,1077.7Z M1771.2,1084.9 L1771.1,1088.8 L1770.9,1092.6 L1770.7,1096.5 L1770.5,1100.3 L1770.3,1104.2 L1770.1,1108.1 L1770.0,1111.9 L1769.8,1115.8 L1769.6,1119.7 L1769.4,1123.5 L1769.2,1127.4 L1769.1,1131.3 L1769.4,1135.1 L1769.9,1138.8 L1770.4,1142.6 L1770.9,1146.4 L1771.4,1150.2 L1771.9,1153.9 L1772.4,1157.7 L1772.9,1161.5 L1773.4,1164.1 L1774.3,1166.5 L1775.5,1168.8 L1777.1,1170.9 L1778.9,1172.6 L1780.9,1174.1 L1783.1,1175.2 L1785.4,1175.9 L1787.7,1176.2 L1790.1,1176.1 L1790.1,1176.1 L1792.4,1175.6 L1794.7,1174.7 L1796.7,1173.4 L1798.5,1171.8 L1800.1,1169.8 L1801.4,1167.7 L1802.3,1165.3 L1802.9,1162.7 L1803.1,1160.1 L1803.0,1157.5 L1802.5,1153.8 L1802.0,1150.0 L1801.5,1146.2 L1801.0,1142.4 L1800.5,1138.7 L1800.0,1134.9 L1799.5,1131.1 L1798.9,1127.3 L1797.7,1123.7 L1796.5,1120.0 L1795.3,1116.3 L1794.2,1112.6 L1793.0,1108.9 L1791.8,1105.2 L1790.6,1101.5 L1789.5,1097.9 L1788.3,1094.2 L1787.1,1090.5 L1785.9,1086.8 L1784.8,1083.1Z M1771.3,1082.8 L1769.9,1086.6 L1768.5,1090.4 L1767.2,1094.2 L1765.8,1098.0 L1764.5,1101.8 L1763.1,1105.7 L1761.7,1109.5 L1760.4,1113.3 L1759.0,1117.1 L1757.6,1120.9 L1756.3,1124.7 L1754.9,1128.5 L1754.1,1132.4 L1753.4,1136.3 L1752.7,1140.2 L1752.0,1144.2 L1751.3,1148.1 L1750.6,1152.0 L1749.9,1155.9 L1749.2,1159.9 L1748.9,1162.6 L1749.0,1165.3 L1749.5,1168.0 L1750.3,1170.5 L1751.5,1172.8 L1752.9,1174.9 L1754.7,1176.6 L1756.7,1178.1 L1758.8,1179.1 L1761.1,1179.7 L1761.1,1179.7 L1763.5,1179.9 L1765.9,1179.7 L1768.2,1179.0 L1770.5,1178.0 L1772.6,1176.5 L1774.5,1174.8 L1776.1,1172.7 L1777.4,1170.3 L1778.4,1167.8 L1779.1,1165.1 L1779.8,1161.2 L1780.5,1157.3 L1781.2,1153.4 L1781.9,1149.4 L1782.6,1145.5 L1783.2,1141.6 L1783.9,1137.7 L1784.5,1133.7 L1784.5,1129.7 L1784.5,1125.6 L1784.6,1121.6 L1784.6,1117.5 L1784.6,1113.5 L1784.6,1109.4 L1784.6,1105.4 L1784.6,1101.4 L1784.7,1097.3 L1784.7,1093.3 L1784.7,1089.2 L1784.7,1085.2Z M1772.0,1080.7 L1769.8,1083.3 L1767.5,1086.0 L1765.3,1088.6 L1763.0,1091.3 L1760.8,1093.9 L1758.5,1096.6 L1756.3,1099.2 L1754.0,1101.9 L1751.8,1104.5 L1749.5,1107.2 L1747.3,1109.8 L1745.0,1112.5 L1743.2,1115.4 L1741.6,1118.4 L1739.9,1121.4 L1738.3,1124.4 L1736.6,1127.3 L1735.0,1130.3 L1733.3,1133.3 L1731.7,1136.3 L1730.7,1138.4 L1730.1,1140.7 L1729.8,1143.0 L1729.9,1145.4 L1730.4,1147.7 L1731.3,1149.9 L1732.5,1152.0 L1733.9,1153.8 L1735.7,1155.4 L1737.7,1156.7 L1737.7,1156.7 L1739.8,1157.7 L1742.1,1158.4 L1744.5,1158.6 L1746.9,1158.6 L1749.2,1158.1 L1751.4,1157.3 L1753.5,1156.1 L1755.3,1154.7 L1756.9,1153.0 L1758.2,1151.0 L1759.9,1148.0 L1761.5,1145.0 L1763.2,1142.0 L1764.8,1139.1 L1766.5,1136.1 L1768.1,1133.1 L1769.8,1130.1 L1771.3,1127.1 L1772.4,1123.8 L1773.4,1120.4 L1774.5,1117.1 L1775.5,1113.8 L1776.6,1110.5 L1777.6,1107.2 L1778.7,1103.9 L1779.7,1100.6 L1780.8,1097.2 L1781.9,1093.9 L1782.9,1090.6 L1784.0,1087.3Z M1775.7,1077.0 L1772.0,1077.5 L1768.2,1077.9 L1764.4,1078.4 L1760.7,1078.8 L1756.9,1079.3 L1753.1,1079.7 L1749.4,1080.2 L1745.6,1080.6 L1741.8,1081.1 L1738.1,1081.5 L1734.3,1082.0 L1730.5,1082.4 L1727.0,1083.4 L1723.4,1084.6 L1719.9,1085.7 L1716.4,1086.9 L1712.8,1088.0 L1709.3,1089.2 L1705.7,1090.3 L1702.2,1091.5 L1699.8,1092.4 L1697.7,1093.8 L1695.7,1095.4 L1694.0,1097.4 L1692.7,1099.6 L1691.7,1101.9 L1691.1,1104.4 L1690.9,1107.0 L1691.1,1109.5 L1691.7,1112.0 L1691.7,1112.0 L1692.7,1114.4 L1694.0,1116.6 L1695.7,1118.5 L1697.7,1120.2 L1699.8,1121.5 L1702.2,1122.5 L1704.7,1123.1 L1707.3,1123.3 L1709.8,1123.1 L1712.3,1122.5 L1715.8,1121.4 L1719.4,1120.2 L1722.9,1119.1 L1726.4,1117.9 L1730.0,1116.8 L1733.5,1115.6 L1737.1,1114.5 L1740.6,1113.2 L1743.9,1111.3 L1747.2,1109.5 L1750.5,1107.6 L1753.8,1105.8 L1757.1,1103.9 L1760.4,1102.1 L1763.7,1100.2 L1767.0,1098.4 L1770.3,1096.5 L1773.7,1094.7 L1777.0,1092.8 L1780.3,1091.0Z M1780.3,1077.6 L1777.8,1075.9 L1775.3,1074.3 L1772.8,1072.7 L1770.3,1071.0 L1767.8,1069.4 L1765.3,1067.7 L1762.7,1066.1 L1760.2,1064.5 L1757.7,1062.8 L1755.2,1061.2 L1752.7,1059.5 L1750.2,1057.9 L1747.5,1056.8 L1744.7,1055.8 L1742.0,1054.8 L1739.2,1053.8 L1736.5,1052.8 L1733.8,1051.8 L1731.0,1050.8 L1728.3,1049.8 L1726.3,1049.2 L1724.3,1049.1 L1722.2,1049.3 L1720.2,1049.9 L1718.2,1050.8 L1716.4,1052.1 L1714.7,1053.6 L1713.2,1055.4 L1712.0,1057.4 L1711.0,1059.6 L1711.0,1059.6 L1710.4,1061.9 L1710.0,1064.2 L1710.0,1066.6 L1710.3,1068.8 L1710.9,1071.0 L1711.8,1073.0 L1713.0,1074.7 L1714.4,1076.2 L1716.1,1077.4 L1717.9,1078.3 L1720.6,1079.3 L1723.4,1080.3 L1726.1,1081.3 L1728.9,1082.3 L1731.6,1083.3 L1734.4,1084.3 L1737.1,1085.3 L1739.9,1086.1 L1742.9,1086.5 L1745.9,1086.8 L1748.8,1087.2 L1751.8,1087.6 L1754.8,1087.9 L1757.8,1088.3 L1760.8,1088.6 L1763.7,1089.0 L1766.7,1089.3 L1769.7,1089.7 L1772.7,1090.1 L1775.7,1090.4Z" fill="url(#pg7)"/><circle cx="1778" cy="1084" r="40.0" fill="url(#pg7)"/>
<path d="M1808.5,1028.6 L1801.0,1024.5 M1783.1,1006.5 L1791.6,1006.7 M1815.6,1002.0 L1808.0,997.9 M1789.5,988.5 L1798.1,988.7 M1780.4,1035.6 L1772.4,1035.6 M1750.5,1031.6 L1757.5,1027.8 M1775.3,1015.5 L1767.3,1015.4 M1748.4,1017.2 L1755.4,1013.4 M1755.0,1033.0 L1747.3,1036.8 M1723.4,1042.5 L1728.5,1035.6 M1739.4,1014.5 L1731.7,1018.4 M1713.9,1028.7 L1719.0,1021.8 M1835.7,1066.8 L1832.1,1057.7 M1828.0,1029.9 L1835.0,1036.8 M1857.2,1052.4 L1853.6,1043.3 M1843.9,1021.6 L1850.9,1028.5 M1841.5,1098.2 L1843.0,1088.5 M1854.7,1062.5 L1857.2,1072.0 M1869.5,1096.6 L1871.0,1086.9 M1874.2,1063.3 L1876.7,1072.8 M1823.3,1113.7 L1827.6,1106.3 M1844.2,1088.4 L1843.6,1096.9 M1845.6,1120.4 L1850.0,1113.0 M1859.1,1094.6 L1858.6,1103.2 M1817.4,1126.7 L1823.7,1120.0 M1845.7,1105.6 L1842.8,1114.4 M1838.9,1139.5 L1845.2,1132.8 M1859.7,1116.0 L1856.8,1124.7 M1770.0,1139.4 L1778.5,1140.3 M1801.8,1148.3 L1793.8,1151.4 M1773.2,1163.3 L1781.8,1164.2 M1802.4,1165.1 L1794.4,1168.2 M1753.3,1136.9 L1761.1,1140.3 M1780.8,1155.6 L1772.2,1156.1 M1749.0,1161.8 L1756.8,1165.2 M1776.2,1172.5 L1767.6,1173.0 M1741.4,1118.8 L1747.7,1124.6 M1762.2,1143.7 L1754.0,1141.4 M1731.0,1137.8 L1737.3,1143.6 M1753.6,1156.0 L1745.3,1153.8 M1722.9,1084.7 L1723.8,1093.9 M1720.9,1119.7 L1716.2,1111.8 M1700.5,1092.1 L1701.4,1101.3 M1704.9,1123.1 L1700.2,1115.2 M1744.3,1055.6 L1739.6,1062.8 M1724.6,1080.7 L1725.6,1072.2 M1726.9,1049.4 L1722.2,1056.5 M1713.1,1074.8 L1714.0,1066.3" stroke="#5a5a5a" stroke-width="3" fill="none"/>
<radialGradient id="pg8" gradientUnits="userSpaceOnUse" cx="1639" cy="1252" r="106.0"><stop offset="0" stop-color="#000000"/><stop offset="0.28" stop-color="#0c1600"/><stop offset="0.58" stop-color="#4a720c"/><stop offset="0.86" stop-color="#94cc20"/><stop offset="1" stop-color="#b4f02a"/></radialGradient>
<path d="M1645.4,1253.8 L1647.3,1249.9 L1649.1,1246.0 L1650.9,1242.1 L1652.7,1238.2 L1654.5,1234.3 L1656.4,1230.4 L1658.2,1226.5 L1660.0,1222.6 L1661.8,1218.7 L1663.6,1214.8 L1665.4,1210.8 L1667.3,1206.9 L1668.6,1202.9 L1669.7,1198.8 L1670.9,1194.7 L1672.1,1190.6 L1673.3,1186.5 L1674.4,1182.4 L1675.6,1178.3 L1676.8,1174.2 L1677.4,1171.4 L1677.7,1168.5 L1677.6,1165.6 L1677.1,1162.9 L1676.2,1160.3 L1675.1,1158.0 L1673.6,1156.0 L1671.8,1154.3 L1669.8,1153.0 L1667.6,1152.1 L1667.6,1152.1 L1665.3,1151.7 L1663.0,1151.8 L1660.6,1152.2 L1658.2,1153.2 L1656.0,1154.5 L1653.9,1156.2 L1652.1,1158.3 L1650.5,1160.7 L1649.2,1163.3 L1648.2,1166.0 L1647.0,1170.1 L1645.8,1174.2 L1644.7,1178.3 L1643.5,1182.4 L1642.3,1186.5 L1641.1,1190.6 L1640.0,1194.7 L1638.9,1198.8 L1638.4,1203.1 L1637.9,1207.4 L1637.3,1211.6 L1636.8,1215.9 L1636.3,1220.2 L1635.7,1224.5 L1635.2,1228.8 L1634.7,1233.0 L1634.1,1237.3 L1633.6,1241.6 L1633.1,1245.9 L1632.6,1250.2Z M1645.0,1250.6 L1644.9,1247.3 L1644.8,1244.1 L1644.7,1240.8 L1644.5,1237.5 L1644.4,1234.2 L1644.3,1231.0 L1644.2,1227.7 L1644.1,1224.4 L1643.9,1221.2 L1643.8,1217.9 L1643.7,1214.6 L1643.6,1211.3 L1643.0,1208.2 L1642.3,1205.0 L1641.5,1201.9 L1640.8,1198.8 L1640.1,1195.6 L1639.4,1192.5 L1638.6,1189.4 L1637.9,1186.2 L1637.3,1184.1 L1636.3,1182.1 L1635.0,1180.3 L1633.5,1178.7 L1631.8,1177.4 L1629.8,1176.4 L1627.8,1175.7 L1625.6,1175.3 L1623.5,1175.3 L1621.4,1175.6 L1621.4,1175.6 L1619.3,1176.2 L1617.4,1177.2 L1615.6,1178.5 L1614.1,1180.0 L1612.8,1181.8 L1611.8,1183.7 L1611.2,1185.8 L1610.8,1188.0 L1610.8,1190.2 L1611.1,1192.4 L1611.9,1195.6 L1612.6,1198.7 L1613.3,1201.8 L1614.0,1205.0 L1614.8,1208.1 L1615.5,1211.2 L1616.2,1214.4 L1617.1,1217.5 L1618.4,1220.5 L1619.7,1223.4 L1621.0,1226.4 L1622.4,1229.4 L1623.7,1232.4 L1625.0,1235.4 L1626.3,1238.4 L1627.7,1241.4 L1629.0,1244.4 L1630.3,1247.4 L1631.6,1250.4 L1633.0,1253.4Z M1644.2,1247.8 L1642.4,1244.5 L1640.5,1241.1 L1638.7,1237.8 L1636.9,1234.5 L1635.1,1231.2 L1633.2,1227.8 L1631.4,1224.5 L1629.6,1221.2 L1627.7,1217.8 L1625.9,1214.5 L1624.1,1211.2 L1622.2,1207.9 L1620.0,1204.9 L1617.6,1202.0 L1615.3,1199.1 L1612.9,1196.2 L1610.6,1193.3 L1608.2,1190.4 L1605.9,1187.4 L1603.5,1184.5 L1601.8,1182.7 L1599.8,1181.1 L1597.6,1179.8 L1595.2,1178.8 L1592.8,1178.3 L1590.4,1178.1 L1588.0,1178.3 L1585.7,1178.9 L1583.6,1179.8 L1581.6,1181.2 L1581.6,1181.2 L1579.9,1182.8 L1578.6,1184.7 L1577.5,1186.8 L1576.8,1189.1 L1576.5,1191.5 L1576.5,1194.0 L1577.0,1196.5 L1577.8,1198.9 L1578.9,1201.2 L1580.4,1203.3 L1582.7,1206.2 L1585.1,1209.1 L1587.4,1212.0 L1589.8,1214.9 L1592.2,1217.8 L1594.5,1220.7 L1596.9,1223.6 L1599.3,1226.4 L1602.2,1228.9 L1605.1,1231.4 L1607.9,1233.9 L1610.8,1236.4 L1613.7,1238.8 L1616.6,1241.3 L1619.4,1243.8 L1622.3,1246.3 L1625.2,1248.8 L1628.0,1251.3 L1630.9,1253.7 L1633.8,1256.2Z M1643.2,1258.5 L1646.9,1257.0 L1650.7,1255.5 L1654.5,1254.0 L1658.3,1252.5 L1662.1,1251.0 L1665.9,1249.5 L1669.7,1248.1 L1673.5,1246.6 L1677.2,1245.1 L1681.0,1243.6 L1684.8,1242.1 L1688.6,1240.6 L1692.1,1238.6 L1695.4,1236.4 L1698.8,1234.3 L1702.2,1232.1 L1705.6,1230.0 L1708.9,1227.8 L1712.3,1225.7 L1715.7,1223.5 L1717.9,1221.9 L1719.8,1219.9 L1721.4,1217.7 L1722.6,1215.2 L1723.4,1212.6 L1723.8,1209.9 L1723.8,1207.2 L1723.4,1204.5 L1722.5,1202.0 L1721.2,1199.6 L1721.2,1199.6 L1719.6,1197.5 L1717.7,1195.6 L1715.4,1194.1 L1713.0,1192.9 L1710.4,1192.1 L1707.7,1191.8 L1704.9,1191.8 L1702.2,1192.3 L1699.6,1193.3 L1697.2,1194.6 L1693.8,1196.7 L1690.5,1198.8 L1687.1,1201.0 L1683.7,1203.1 L1680.4,1205.3 L1677.0,1207.4 L1673.6,1209.6 L1670.3,1211.9 L1667.4,1214.7 L1664.4,1217.5 L1661.5,1220.3 L1658.5,1223.1 L1655.5,1225.9 L1652.6,1228.7 L1649.6,1231.5 L1646.7,1234.3 L1643.7,1237.1 L1640.8,1239.9 L1637.8,1242.7 L1634.8,1245.5Z M1639.3,1259.7 L1643.6,1260.3 L1648.0,1261.0 L1652.4,1261.6 L1656.8,1262.2 L1661.1,1262.8 L1665.5,1263.5 L1669.9,1264.1 L1674.2,1264.7 L1678.6,1265.3 L1683.0,1265.9 L1687.3,1266.6 L1691.7,1267.2 L1696.1,1267.2 L1700.4,1267.0 L1704.7,1266.9 L1709.1,1266.7 L1713.4,1266.6 L1717.8,1266.4 L1722.1,1266.3 L1726.5,1266.1 L1729.4,1265.8 L1732.3,1265.1 L1735.1,1264.0 L1737.6,1262.5 L1739.8,1260.6 L1741.6,1258.5 L1743.1,1256.2 L1744.2,1253.6 L1744.8,1251.0 L1744.9,1248.3 L1744.9,1248.3 L1744.6,1245.6 L1743.8,1243.0 L1742.6,1240.6 L1740.9,1238.3 L1738.9,1236.4 L1736.6,1234.7 L1734.0,1233.4 L1731.2,1232.4 L1728.3,1231.9 L1725.3,1231.8 L1720.9,1232.0 L1716.6,1232.1 L1712.2,1232.3 L1707.9,1232.4 L1703.6,1232.6 L1699.2,1232.7 L1694.9,1232.9 L1690.5,1233.2 L1686.2,1234.1 L1681.9,1235.0 L1677.6,1235.9 L1673.3,1236.9 L1668.9,1237.8 L1664.6,1238.7 L1660.3,1239.6 L1656.0,1240.6 L1651.7,1241.5 L1647.4,1242.4 L1643.0,1243.4 L1638.7,1244.3Z M1636.9,1258.4 L1640.2,1260.1 L1643.4,1261.9 L1646.6,1263.6 L1649.8,1265.4 L1653.0,1267.1 L1656.3,1268.9 L1659.5,1270.6 L1662.7,1272.4 L1665.9,1274.1 L1669.2,1275.9 L1672.4,1277.7 L1675.6,1279.4 L1679.0,1280.6 L1682.4,1281.8 L1685.9,1282.9 L1689.3,1284.0 L1692.7,1285.1 L1696.2,1286.2 L1699.6,1287.3 L1703.0,1288.4 L1705.4,1289.0 L1707.9,1289.3 L1710.4,1289.1 L1712.7,1288.6 L1715.0,1287.8 L1717.1,1286.6 L1718.9,1285.1 L1720.5,1283.3 L1721.8,1281.3 L1722.7,1279.2 L1722.7,1279.2 L1723.2,1276.9 L1723.4,1274.6 L1723.1,1272.2 L1722.5,1269.9 L1721.5,1267.7 L1720.2,1265.7 L1718.5,1263.9 L1716.6,1262.3 L1714.5,1261.1 L1712.2,1260.1 L1708.8,1259.0 L1705.4,1257.9 L1701.9,1256.8 L1698.5,1255.7 L1695.1,1254.6 L1691.6,1253.5 L1688.2,1252.3 L1684.7,1251.3 L1681.1,1250.9 L1677.4,1250.4 L1673.8,1249.9 L1670.2,1249.4 L1666.5,1249.0 L1662.9,1248.5 L1659.3,1248.0 L1655.6,1247.5 L1652.0,1247.1 L1648.3,1246.6 L1644.7,1246.1 L1641.1,1245.6Z M1635.2,1258.1 L1638.1,1260.8 L1641.0,1263.4 L1643.9,1266.1 L1646.8,1268.8 L1649.7,1271.4 L1652.6,1274.1 L1655.5,1276.8 L1658.4,1279.4 L1661.3,1282.1 L1664.1,1284.7 L1667.0,1287.4 L1669.9,1290.1 L1673.1,1292.2 L1676.4,1294.3 L1679.7,1296.3 L1683.0,1298.4 L1686.3,1300.4 L1689.6,1302.5 L1692.8,1304.5 L1696.1,1306.6 L1698.5,1307.8 L1701.0,1308.7 L1703.6,1309.2 L1706.2,1309.3 L1708.8,1309.0 L1711.3,1308.3 L1713.6,1307.2 L1715.7,1305.8 L1717.5,1304.0 L1719.0,1302.0 L1719.0,1302.0 L1720.2,1299.8 L1720.9,1297.4 L1721.3,1294.8 L1721.2,1292.3 L1720.8,1289.7 L1719.9,1287.3 L1718.7,1285.0 L1717.1,1282.8 L1715.2,1281.0 L1713.1,1279.4 L1709.8,1277.4 L1706.5,1275.3 L1703.3,1273.3 L1700.0,1271.2 L1696.7,1269.2 L1693.4,1267.1 L1690.1,1265.1 L1686.8,1263.1 L1683.1,1261.7 L1679.5,1260.3 L1675.8,1258.8 L1672.1,1257.4 L1668.5,1255.9 L1664.8,1254.5 L1661.1,1253.1 L1657.5,1251.6 L1653.8,1250.2 L1650.1,1248.8 L1646.5,1247.3 L1642.8,1245.9Z M1632.3,1252.8 L1632.1,1256.5 L1631.9,1260.3 L1631.6,1264.1 L1631.4,1267.9 L1631.1,1271.7 L1630.9,1275.5 L1630.6,1279.3 L1630.4,1283.1 L1630.2,1286.9 L1629.9,1290.7 L1629.7,1294.4 L1629.4,1298.2 L1629.7,1302.0 L1630.1,1305.7 L1630.6,1309.4 L1631.0,1313.1 L1631.4,1316.8 L1631.8,1320.5 L1632.3,1324.2 L1632.7,1328.0 L1633.1,1330.5 L1634.0,1332.9 L1635.1,1335.2 L1636.6,1337.2 L1638.3,1339.0 L1640.3,1340.5 L1642.4,1341.6 L1644.7,1342.3 L1647.0,1342.6 L1649.3,1342.6 L1649.3,1342.6 L1651.6,1342.1 L1653.8,1341.3 L1655.8,1340.0 L1657.7,1338.5 L1659.2,1336.6 L1660.5,1334.5 L1661.5,1332.2 L1662.1,1329.7 L1662.4,1327.2 L1662.2,1324.6 L1661.8,1320.9 L1661.4,1317.2 L1661.0,1313.4 L1660.6,1309.7 L1660.1,1306.0 L1659.7,1302.3 L1659.3,1298.6 L1658.7,1294.9 L1657.6,1291.3 L1656.6,1287.6 L1655.5,1284.0 L1654.4,1280.3 L1653.3,1276.7 L1652.2,1273.1 L1651.1,1269.4 L1650.0,1265.8 L1648.9,1262.2 L1647.8,1258.5 L1646.7,1254.9 L1645.7,1251.2Z M1632.4,1250.7 L1631.0,1254.4 L1629.6,1258.1 L1628.2,1261.9 L1626.8,1265.6 L1625.4,1269.3 L1624.0,1273.0 L1622.6,1276.7 L1621.2,1280.4 L1619.8,1284.1 L1618.4,1287.8 L1617.0,1291.5 L1615.6,1295.3 L1614.7,1299.1 L1613.9,1302.9 L1613.2,1306.8 L1612.4,1310.6 L1611.7,1314.4 L1611.0,1318.3 L1610.2,1322.1 L1609.5,1326.0 L1609.1,1328.6 L1609.2,1331.3 L1609.6,1333.9 L1610.3,1336.4 L1611.4,1338.7 L1612.8,1340.8 L1614.5,1342.5 L1616.4,1343.9 L1618.6,1345.0 L1620.8,1345.6 L1620.8,1345.6 L1623.1,1345.9 L1625.5,1345.7 L1627.8,1345.1 L1630.0,1344.1 L1632.1,1342.7 L1634.0,1341.0 L1635.6,1339.0 L1637.0,1336.7 L1638.0,1334.2 L1638.7,1331.6 L1639.4,1327.8 L1640.2,1324.0 L1640.9,1320.1 L1641.7,1316.3 L1642.4,1312.4 L1643.2,1308.6 L1643.9,1304.8 L1644.5,1300.9 L1644.6,1296.9 L1644.7,1293.0 L1644.8,1289.0 L1644.9,1285.0 L1645.0,1281.1 L1645.0,1277.1 L1645.1,1273.1 L1645.2,1269.1 L1645.3,1265.2 L1645.4,1261.2 L1645.5,1257.2 L1645.6,1253.3Z M1633.2,1248.7 L1630.9,1251.2 L1628.7,1253.8 L1626.4,1256.3 L1624.2,1258.9 L1621.9,1261.5 L1619.7,1264.0 L1617.4,1266.6 L1615.2,1269.2 L1612.9,1271.7 L1610.7,1274.3 L1608.4,1276.8 L1606.1,1279.4 L1604.4,1282.2 L1602.7,1285.1 L1601.0,1288.0 L1599.3,1290.9 L1597.7,1293.8 L1596.0,1296.7 L1594.3,1299.6 L1592.6,1302.5 L1591.7,1304.6 L1591.0,1306.8 L1590.7,1309.1 L1590.8,1311.4 L1591.2,1313.7 L1592.0,1315.9 L1593.1,1317.9 L1594.6,1319.8 L1596.3,1321.4 L1598.2,1322.7 L1598.2,1322.7 L1600.3,1323.7 L1602.5,1324.4 L1604.8,1324.7 L1607.2,1324.6 L1609.5,1324.2 L1611.6,1323.5 L1613.7,1322.4 L1615.5,1321.0 L1617.1,1319.3 L1618.4,1317.4 L1620.1,1314.5 L1621.8,1311.6 L1623.4,1308.7 L1625.1,1305.8 L1626.8,1302.9 L1628.5,1300.0 L1630.1,1297.1 L1631.7,1294.2 L1632.8,1290.9 L1633.9,1287.7 L1635.0,1284.5 L1636.1,1281.2 L1637.2,1278.0 L1638.2,1274.8 L1639.3,1271.5 L1640.4,1268.3 L1641.5,1265.0 L1642.6,1261.8 L1643.7,1258.6 L1644.8,1255.3Z M1636.9,1245.1 L1633.2,1245.5 L1629.5,1245.9 L1625.8,1246.2 L1622.1,1246.6 L1618.4,1247.0 L1614.7,1247.4 L1611.0,1247.7 L1607.3,1248.1 L1603.6,1248.5 L1599.9,1248.9 L1596.2,1249.2 L1592.5,1249.6 L1588.9,1250.5 L1585.4,1251.6 L1581.9,1252.7 L1578.5,1253.8 L1575.0,1254.8 L1571.5,1255.9 L1568.0,1257.0 L1564.5,1258.0 L1562.2,1258.9 L1560.0,1260.2 L1558.0,1261.8 L1556.4,1263.7 L1555.0,1265.8 L1554.0,1268.1 L1553.4,1270.6 L1553.2,1273.1 L1553.3,1275.6 L1553.9,1278.0 L1553.9,1278.0 L1554.8,1280.4 L1556.0,1282.5 L1557.6,1284.5 L1559.5,1286.1 L1561.7,1287.5 L1564.0,1288.5 L1566.4,1289.1 L1568.9,1289.4 L1571.4,1289.2 L1573.9,1288.7 L1577.4,1287.6 L1580.8,1286.5 L1584.3,1285.5 L1587.8,1284.4 L1591.3,1283.3 L1594.8,1282.3 L1598.3,1281.2 L1601.8,1280.0 L1605.0,1278.2 L1608.3,1276.5 L1611.6,1274.7 L1614.9,1273.0 L1618.2,1271.2 L1621.4,1269.4 L1624.7,1267.7 L1628.0,1265.9 L1631.3,1264.2 L1634.5,1262.4 L1637.8,1260.7 L1641.1,1258.9Z M1641.4,1245.7 L1639.0,1244.1 L1636.5,1242.4 L1634.1,1240.8 L1631.7,1239.1 L1629.2,1237.5 L1626.8,1235.8 L1624.3,1234.2 L1621.9,1232.5 L1619.5,1230.9 L1617.0,1229.2 L1614.6,1227.5 L1612.2,1225.9 L1609.5,1224.7 L1606.8,1223.7 L1604.2,1222.7 L1601.5,1221.7 L1598.8,1220.6 L1596.1,1219.6 L1593.5,1218.6 L1590.8,1217.5 L1588.9,1217.0 L1586.9,1216.8 L1584.9,1217.0 L1582.8,1217.5 L1580.9,1218.4 L1579.1,1219.6 L1577.4,1221.1 L1575.9,1222.9 L1574.7,1224.8 L1573.7,1226.9 L1573.7,1226.9 L1573.0,1229.2 L1572.6,1231.4 L1572.5,1233.7 L1572.8,1236.0 L1573.4,1238.1 L1574.2,1240.0 L1575.4,1241.8 L1576.7,1243.3 L1578.3,1244.5 L1580.1,1245.3 L1582.8,1246.4 L1585.5,1247.4 L1588.1,1248.4 L1590.8,1249.4 L1593.5,1250.5 L1596.2,1251.5 L1598.9,1252.5 L1601.6,1253.4 L1604.5,1253.8 L1607.4,1254.2 L1610.3,1254.6 L1613.3,1255.0 L1616.2,1255.4 L1619.1,1255.8 L1622.0,1256.2 L1624.9,1256.6 L1627.8,1257.0 L1630.8,1257.4 L1633.7,1257.9 L1636.6,1258.3Z M1603.0,1252.0 A36.0,36.0 0 1 0 1675.0,1252.0 A36.0,36.0 0 1 0 1603.0,1252.0Z" fill="#5a5a5a" stroke="#5a5a5a" stroke-width="5" stroke-linejoin="round"/>
<path d="M1645.4,1253.8 L1647.3,1249.9 L1649.1,1246.0 L1650.9,1242.1 L1652.7,1238.2 L1654.5,1234.3 L1656.4,1230.4 L1658.2,1226.5 L1660.0,1222.6 L1661.8,1218.7 L1663.6,1214.8 L1665.4,1210.8 L1667.3,1206.9 L1668.6,1202.9 L1669.7,1198.8 L1670.9,1194.7 L1672.1,1190.6 L1673.3,1186.5 L1674.4,1182.4 L1675.6,1178.3 L1676.8,1174.2 L1677.4,1171.4 L1677.7,1168.5 L1677.6,1165.6 L1677.1,1162.9 L1676.2,1160.3 L1675.1,1158.0 L1673.6,1156.0 L1671.8,1154.3 L1669.8,1153.0 L1667.6,1152.1 L1667.6,1152.1 L1665.3,1151.7 L1663.0,1151.8 L1660.6,1152.2 L1658.2,1153.2 L1656.0,1154.5 L1653.9,1156.2 L1652.1,1158.3 L1650.5,1160.7 L1649.2,1163.3 L1648.2,1166.0 L1647.0,1170.1 L1645.8,1174.2 L1644.7,1178.3 L1643.5,1182.4 L1642.3,1186.5 L1641.1,1190.6 L1640.0,1194.7 L1638.9,1198.8 L1638.4,1203.1 L1637.9,1207.4 L1637.3,1211.6 L1636.8,1215.9 L1636.3,1220.2 L1635.7,1224.5 L1635.2,1228.8 L1634.7,1233.0 L1634.1,1237.3 L1633.6,1241.6 L1633.1,1245.9 L1632.6,1250.2Z M1645.0,1250.6 L1644.9,1247.3 L1644.8,1244.1 L1644.7,1240.8 L1644.5,1237.5 L1644.4,1234.2 L1644.3,1231.0 L1644.2,1227.7 L1644.1,1224.4 L1643.9,1221.2 L1643.8,1217.9 L1643.7,1214.6 L1643.6,1211.3 L1643.0,1208.2 L1642.3,1205.0 L1641.5,1201.9 L1640.8,1198.8 L1640.1,1195.6 L1639.4,1192.5 L1638.6,1189.4 L1637.9,1186.2 L1637.3,1184.1 L1636.3,1182.1 L1635.0,1180.3 L1633.5,1178.7 L1631.8,1177.4 L1629.8,1176.4 L1627.8,1175.7 L1625.6,1175.3 L1623.5,1175.3 L1621.4,1175.6 L1621.4,1175.6 L1619.3,1176.2 L1617.4,1177.2 L1615.6,1178.5 L1614.1,1180.0 L1612.8,1181.8 L1611.8,1183.7 L1611.2,1185.8 L1610.8,1188.0 L1610.8,1190.2 L1611.1,1192.4 L1611.9,1195.6 L1612.6,1198.7 L1613.3,1201.8 L1614.0,1205.0 L1614.8,1208.1 L1615.5,1211.2 L1616.2,1214.4 L1617.1,1217.5 L1618.4,1220.5 L1619.7,1223.4 L1621.0,1226.4 L1622.4,1229.4 L1623.7,1232.4 L1625.0,1235.4 L1626.3,1238.4 L1627.7,1241.4 L1629.0,1244.4 L1630.3,1247.4 L1631.6,1250.4 L1633.0,1253.4Z M1644.2,1247.8 L1642.4,1244.5 L1640.5,1241.1 L1638.7,1237.8 L1636.9,1234.5 L1635.1,1231.2 L1633.2,1227.8 L1631.4,1224.5 L1629.6,1221.2 L1627.7,1217.8 L1625.9,1214.5 L1624.1,1211.2 L1622.2,1207.9 L1620.0,1204.9 L1617.6,1202.0 L1615.3,1199.1 L1612.9,1196.2 L1610.6,1193.3 L1608.2,1190.4 L1605.9,1187.4 L1603.5,1184.5 L1601.8,1182.7 L1599.8,1181.1 L1597.6,1179.8 L1595.2,1178.8 L1592.8,1178.3 L1590.4,1178.1 L1588.0,1178.3 L1585.7,1178.9 L1583.6,1179.8 L1581.6,1181.2 L1581.6,1181.2 L1579.9,1182.8 L1578.6,1184.7 L1577.5,1186.8 L1576.8,1189.1 L1576.5,1191.5 L1576.5,1194.0 L1577.0,1196.5 L1577.8,1198.9 L1578.9,1201.2 L1580.4,1203.3 L1582.7,1206.2 L1585.1,1209.1 L1587.4,1212.0 L1589.8,1214.9 L1592.2,1217.8 L1594.5,1220.7 L1596.9,1223.6 L1599.3,1226.4 L1602.2,1228.9 L1605.1,1231.4 L1607.9,1233.9 L1610.8,1236.4 L1613.7,1238.8 L1616.6,1241.3 L1619.4,1243.8 L1622.3,1246.3 L1625.2,1248.8 L1628.0,1251.3 L1630.9,1253.7 L1633.8,1256.2Z M1643.2,1258.5 L1646.9,1257.0 L1650.7,1255.5 L1654.5,1254.0 L1658.3,1252.5 L1662.1,1251.0 L1665.9,1249.5 L1669.7,1248.1 L1673.5,1246.6 L1677.2,1245.1 L1681.0,1243.6 L1684.8,1242.1 L1688.6,1240.6 L1692.1,1238.6 L1695.4,1236.4 L1698.8,1234.3 L1702.2,1232.1 L1705.6,1230.0 L1708.9,1227.8 L1712.3,1225.7 L1715.7,1223.5 L1717.9,1221.9 L1719.8,1219.9 L1721.4,1217.7 L1722.6,1215.2 L1723.4,1212.6 L1723.8,1209.9 L1723.8,1207.2 L1723.4,1204.5 L1722.5,1202.0 L1721.2,1199.6 L1721.2,1199.6 L1719.6,1197.5 L1717.7,1195.6 L1715.4,1194.1 L1713.0,1192.9 L1710.4,1192.1 L1707.7,1191.8 L1704.9,1191.8 L1702.2,1192.3 L1699.6,1193.3 L1697.2,1194.6 L1693.8,1196.7 L1690.5,1198.8 L1687.1,1201.0 L1683.7,1203.1 L1680.4,1205.3 L1677.0,1207.4 L1673.6,1209.6 L1670.3,1211.9 L1667.4,1214.7 L1664.4,1217.5 L1661.5,1220.3 L1658.5,1223.1 L1655.5,1225.9 L1652.6,1228.7 L1649.6,1231.5 L1646.7,1234.3 L1643.7,1237.1 L1640.8,1239.9 L1637.8,1242.7 L1634.8,1245.5Z M1639.3,1259.7 L1643.6,1260.3 L1648.0,1261.0 L1652.4,1261.6 L1656.8,1262.2 L1661.1,1262.8 L1665.5,1263.5 L1669.9,1264.1 L1674.2,1264.7 L1678.6,1265.3 L1683.0,1265.9 L1687.3,1266.6 L1691.7,1267.2 L1696.1,1267.2 L1700.4,1267.0 L1704.7,1266.9 L1709.1,1266.7 L1713.4,1266.6 L1717.8,1266.4 L1722.1,1266.3 L1726.5,1266.1 L1729.4,1265.8 L1732.3,1265.1 L1735.1,1264.0 L1737.6,1262.5 L1739.8,1260.6 L1741.6,1258.5 L1743.1,1256.2 L1744.2,1253.6 L1744.8,1251.0 L1744.9,1248.3 L1744.9,1248.3 L1744.6,1245.6 L1743.8,1243.0 L1742.6,1240.6 L1740.9,1238.3 L1738.9,1236.4 L1736.6,1234.7 L1734.0,1233.4 L1731.2,1232.4 L1728.3,1231.9 L1725.3,1231.8 L1720.9,1232.0 L1716.6,1232.1 L1712.2,1232.3 L1707.9,1232.4 L1703.6,1232.6 L1699.2,1232.7 L1694.9,1232.9 L1690.5,1233.2 L1686.2,1234.1 L1681.9,1235.0 L1677.6,1235.9 L1673.3,1236.9 L1668.9,1237.8 L1664.6,1238.7 L1660.3,1239.6 L1656.0,1240.6 L1651.7,1241.5 L1647.4,1242.4 L1643.0,1243.4 L1638.7,1244.3Z M1636.9,1258.4 L1640.2,1260.1 L1643.4,1261.9 L1646.6,1263.6 L1649.8,1265.4 L1653.0,1267.1 L1656.3,1268.9 L1659.5,1270.6 L1662.7,1272.4 L1665.9,1274.1 L1669.2,1275.9 L1672.4,1277.7 L1675.6,1279.4 L1679.0,1280.6 L1682.4,1281.8 L1685.9,1282.9 L1689.3,1284.0 L1692.7,1285.1 L1696.2,1286.2 L1699.6,1287.3 L1703.0,1288.4 L1705.4,1289.0 L1707.9,1289.3 L1710.4,1289.1 L1712.7,1288.6 L1715.0,1287.8 L1717.1,1286.6 L1718.9,1285.1 L1720.5,1283.3 L1721.8,1281.3 L1722.7,1279.2 L1722.7,1279.2 L1723.2,1276.9 L1723.4,1274.6 L1723.1,1272.2 L1722.5,1269.9 L1721.5,1267.7 L1720.2,1265.7 L1718.5,1263.9 L1716.6,1262.3 L1714.5,1261.1 L1712.2,1260.1 L1708.8,1259.0 L1705.4,1257.9 L1701.9,1256.8 L1698.5,1255.7 L1695.1,1254.6 L1691.6,1253.5 L1688.2,1252.3 L1684.7,1251.3 L1681.1,1250.9 L1677.4,1250.4 L1673.8,1249.9 L1670.2,1249.4 L1666.5,1249.0 L1662.9,1248.5 L1659.3,1248.0 L1655.6,1247.5 L1652.0,1247.1 L1648.3,1246.6 L1644.7,1246.1 L1641.1,1245.6Z M1635.2,1258.1 L1638.1,1260.8 L1641.0,1263.4 L1643.9,1266.1 L1646.8,1268.8 L1649.7,1271.4 L1652.6,1274.1 L1655.5,1276.8 L1658.4,1279.4 L1661.3,1282.1 L1664.1,1284.7 L1667.0,1287.4 L1669.9,1290.1 L1673.1,1292.2 L1676.4,1294.3 L1679.7,1296.3 L1683.0,1298.4 L1686.3,1300.4 L1689.6,1302.5 L1692.8,1304.5 L1696.1,1306.6 L1698.5,1307.8 L1701.0,1308.7 L1703.6,1309.2 L1706.2,1309.3 L1708.8,1309.0 L1711.3,1308.3 L1713.6,1307.2 L1715.7,1305.8 L1717.5,1304.0 L1719.0,1302.0 L1719.0,1302.0 L1720.2,1299.8 L1720.9,1297.4 L1721.3,1294.8 L1721.2,1292.3 L1720.8,1289.7 L1719.9,1287.3 L1718.7,1285.0 L1717.1,1282.8 L1715.2,1281.0 L1713.1,1279.4 L1709.8,1277.4 L1706.5,1275.3 L1703.3,1273.3 L1700.0,1271.2 L1696.7,1269.2 L1693.4,1267.1 L1690.1,1265.1 L1686.8,1263.1 L1683.1,1261.7 L1679.5,1260.3 L1675.8,1258.8 L1672.1,1257.4 L1668.5,1255.9 L1664.8,1254.5 L1661.1,1253.1 L1657.5,1251.6 L1653.8,1250.2 L1650.1,1248.8 L1646.5,1247.3 L1642.8,1245.9Z M1632.3,1252.8 L1632.1,1256.5 L1631.9,1260.3 L1631.6,1264.1 L1631.4,1267.9 L1631.1,1271.7 L1630.9,1275.5 L1630.6,1279.3 L1630.4,1283.1 L1630.2,1286.9 L1629.9,1290.7 L1629.7,1294.4 L1629.4,1298.2 L1629.7,1302.0 L1630.1,1305.7 L1630.6,1309.4 L1631.0,1313.1 L1631.4,1316.8 L1631.8,1320.5 L1632.3,1324.2 L1632.7,1328.0 L1633.1,1330.5 L1634.0,1332.9 L1635.1,1335.2 L1636.6,1337.2 L1638.3,1339.0 L1640.3,1340.5 L1642.4,1341.6 L1644.7,1342.3 L1647.0,1342.6 L1649.3,1342.6 L1649.3,1342.6 L1651.6,1342.1 L1653.8,1341.3 L1655.8,1340.0 L1657.7,1338.5 L1659.2,1336.6 L1660.5,1334.5 L1661.5,1332.2 L1662.1,1329.7 L1662.4,1327.2 L1662.2,1324.6 L1661.8,1320.9 L1661.4,1317.2 L1661.0,1313.4 L1660.6,1309.7 L1660.1,1306.0 L1659.7,1302.3 L1659.3,1298.6 L1658.7,1294.9 L1657.6,1291.3 L1656.6,1287.6 L1655.5,1284.0 L1654.4,1280.3 L1653.3,1276.7 L1652.2,1273.1 L1651.1,1269.4 L1650.0,1265.8 L1648.9,1262.2 L1647.8,1258.5 L1646.7,1254.9 L1645.7,1251.2Z M1632.4,1250.7 L1631.0,1254.4 L1629.6,1258.1 L1628.2,1261.9 L1626.8,1265.6 L1625.4,1269.3 L1624.0,1273.0 L1622.6,1276.7 L1621.2,1280.4 L1619.8,1284.1 L1618.4,1287.8 L1617.0,1291.5 L1615.6,1295.3 L1614.7,1299.1 L1613.9,1302.9 L1613.2,1306.8 L1612.4,1310.6 L1611.7,1314.4 L1611.0,1318.3 L1610.2,1322.1 L1609.5,1326.0 L1609.1,1328.6 L1609.2,1331.3 L1609.6,1333.9 L1610.3,1336.4 L1611.4,1338.7 L1612.8,1340.8 L1614.5,1342.5 L1616.4,1343.9 L1618.6,1345.0 L1620.8,1345.6 L1620.8,1345.6 L1623.1,1345.9 L1625.5,1345.7 L1627.8,1345.1 L1630.0,1344.1 L1632.1,1342.7 L1634.0,1341.0 L1635.6,1339.0 L1637.0,1336.7 L1638.0,1334.2 L1638.7,1331.6 L1639.4,1327.8 L1640.2,1324.0 L1640.9,1320.1 L1641.7,1316.3 L1642.4,1312.4 L1643.2,1308.6 L1643.9,1304.8 L1644.5,1300.9 L1644.6,1296.9 L1644.7,1293.0 L1644.8,1289.0 L1644.9,1285.0 L1645.0,1281.1 L1645.0,1277.1 L1645.1,1273.1 L1645.2,1269.1 L1645.3,1265.2 L1645.4,1261.2 L1645.5,1257.2 L1645.6,1253.3Z M1633.2,1248.7 L1630.9,1251.2 L1628.7,1253.8 L1626.4,1256.3 L1624.2,1258.9 L1621.9,1261.5 L1619.7,1264.0 L1617.4,1266.6 L1615.2,1269.2 L1612.9,1271.7 L1610.7,1274.3 L1608.4,1276.8 L1606.1,1279.4 L1604.4,1282.2 L1602.7,1285.1 L1601.0,1288.0 L1599.3,1290.9 L1597.7,1293.8 L1596.0,1296.7 L1594.3,1299.6 L1592.6,1302.5 L1591.7,1304.6 L1591.0,1306.8 L1590.7,1309.1 L1590.8,1311.4 L1591.2,1313.7 L1592.0,1315.9 L1593.1,1317.9 L1594.6,1319.8 L1596.3,1321.4 L1598.2,1322.7 L1598.2,1322.7 L1600.3,1323.7 L1602.5,1324.4 L1604.8,1324.7 L1607.2,1324.6 L1609.5,1324.2 L1611.6,1323.5 L1613.7,1322.4 L1615.5,1321.0 L1617.1,1319.3 L1618.4,1317.4 L1620.1,1314.5 L1621.8,1311.6 L1623.4,1308.7 L1625.1,1305.8 L1626.8,1302.9 L1628.5,1300.0 L1630.1,1297.1 L1631.7,1294.2 L1632.8,1290.9 L1633.9,1287.7 L1635.0,1284.5 L1636.1,1281.2 L1637.2,1278.0 L1638.2,1274.8 L1639.3,1271.5 L1640.4,1268.3 L1641.5,1265.0 L1642.6,1261.8 L1643.7,1258.6 L1644.8,1255.3Z M1636.9,1245.1 L1633.2,1245.5 L1629.5,1245.9 L1625.8,1246.2 L1622.1,1246.6 L1618.4,1247.0 L1614.7,1247.4 L1611.0,1247.7 L1607.3,1248.1 L1603.6,1248.5 L1599.9,1248.9 L1596.2,1249.2 L1592.5,1249.6 L1588.9,1250.5 L1585.4,1251.6 L1581.9,1252.7 L1578.5,1253.8 L1575.0,1254.8 L1571.5,1255.9 L1568.0,1257.0 L1564.5,1258.0 L1562.2,1258.9 L1560.0,1260.2 L1558.0,1261.8 L1556.4,1263.7 L1555.0,1265.8 L1554.0,1268.1 L1553.4,1270.6 L1553.2,1273.1 L1553.3,1275.6 L1553.9,1278.0 L1553.9,1278.0 L1554.8,1280.4 L1556.0,1282.5 L1557.6,1284.5 L1559.5,1286.1 L1561.7,1287.5 L1564.0,1288.5 L1566.4,1289.1 L1568.9,1289.4 L1571.4,1289.2 L1573.9,1288.7 L1577.4,1287.6 L1580.8,1286.5 L1584.3,1285.5 L1587.8,1284.4 L1591.3,1283.3 L1594.8,1282.3 L1598.3,1281.2 L1601.8,1280.0 L1605.0,1278.2 L1608.3,1276.5 L1611.6,1274.7 L1614.9,1273.0 L1618.2,1271.2 L1621.4,1269.4 L1624.7,1267.7 L1628.0,1265.9 L1631.3,1264.2 L1634.5,1262.4 L1637.8,1260.7 L1641.1,1258.9Z M1641.4,1245.7 L1639.0,1244.1 L1636.5,1242.4 L1634.1,1240.8 L1631.7,1239.1 L1629.2,1237.5 L1626.8,1235.8 L1624.3,1234.2 L1621.9,1232.5 L1619.5,1230.9 L1617.0,1229.2 L1614.6,1227.5 L1612.2,1225.9 L1609.5,1224.7 L1606.8,1223.7 L1604.2,1222.7 L1601.5,1221.7 L1598.8,1220.6 L1596.1,1219.6 L1593.5,1218.6 L1590.8,1217.5 L1588.9,1217.0 L1586.9,1216.8 L1584.9,1217.0 L1582.8,1217.5 L1580.9,1218.4 L1579.1,1219.6 L1577.4,1221.1 L1575.9,1222.9 L1574.7,1224.8 L1573.7,1226.9 L1573.7,1226.9 L1573.0,1229.2 L1572.6,1231.4 L1572.5,1233.7 L1572.8,1236.0 L1573.4,1238.1 L1574.2,1240.0 L1575.4,1241.8 L1576.7,1243.3 L1578.3,1244.5 L1580.1,1245.3 L1582.8,1246.4 L1585.5,1247.4 L1588.1,1248.4 L1590.8,1249.4 L1593.5,1250.5 L1596.2,1251.5 L1598.9,1252.5 L1601.6,1253.4 L1604.5,1253.8 L1607.4,1254.2 L1610.3,1254.6 L1613.3,1255.0 L1616.2,1255.4 L1619.1,1255.8 L1622.0,1256.2 L1624.9,1256.6 L1627.8,1257.0 L1630.8,1257.4 L1633.7,1257.9 L1636.6,1258.3Z" fill="url(#pg8)"/><circle cx="1639" cy="1252" r="39.2" fill="url(#pg8)"/>
<path d="M1669.9,1198.2 L1662.6,1194.0 M1645.3,1176.0 L1653.7,1176.3 M1677.3,1172.2 L1670.0,1168.0 M1652.0,1158.5 L1660.4,1158.8 M1642.2,1204.6 L1634.3,1204.3 M1612.9,1200.1 L1619.8,1196.4 M1637.5,1184.7 L1629.7,1184.5 M1611.1,1186.0 L1618.0,1182.3 M1617.3,1201.5 L1609.7,1205.1 M1586.1,1210.4 L1591.2,1203.7 M1602.3,1183.2 L1594.7,1186.8 M1577.0,1196.6 L1582.1,1189.9 M1695.9,1236.1 L1692.5,1227.1 M1689.0,1199.8 L1695.8,1206.7 M1717.3,1222.4 L1713.9,1213.3 M1704.8,1191.9 L1711.5,1198.8 M1701.0,1267.0 L1702.7,1257.5 M1714.7,1232.2 L1717.0,1241.5 M1728.6,1265.9 L1730.3,1256.4 M1733.8,1233.3 L1736.1,1242.7 M1682.9,1281.9 L1687.4,1274.8 M1703.8,1257.4 L1703.2,1265.8 M1704.7,1288.9 L1709.1,1281.7 M1718.4,1263.8 L1717.8,1272.2 M1676.9,1294.6 L1683.3,1288.2 M1705.1,1274.4 L1702.1,1282.9 M1697.8,1307.5 L1704.1,1301.1 M1718.6,1284.8 L1715.6,1293.4 M1630.2,1306.2 L1638.6,1307.3 M1661.2,1315.5 L1653.3,1318.4 M1633.0,1329.8 L1641.3,1330.8 M1661.5,1332.0 L1653.6,1334.9 M1613.8,1303.5 L1621.5,1307.0 M1640.5,1322.3 L1632.1,1322.7 M1609.2,1327.8 L1616.8,1331.4 M1635.7,1338.8 L1627.3,1339.2 M1602.4,1285.6 L1608.5,1291.4 M1622.5,1310.3 L1614.4,1308.0 M1591.9,1304.0 L1598.0,1309.8 M1613.8,1322.3 L1605.7,1319.9 M1584.9,1251.8 L1585.6,1260.8 M1582.4,1286.1 L1577.9,1278.2 M1562.8,1258.6 L1563.5,1267.7 M1566.6,1289.2 L1562.1,1281.3 M1606.5,1223.6 L1601.7,1230.5 M1586.6,1247.8 L1587.7,1239.5 M1589.4,1217.1 L1584.6,1224.1 M1575.4,1241.9 L1576.5,1233.5" stroke="#5a5a5a" stroke-width="3" fill="none"/>
<circle cx="1688" cy="1087.6" r="31.5" fill="none" stroke="#000" stroke-width="3"/>
<polyline points="1756.0,479.0 1786.0,768.0 1789.0,803.0" fill="none" stroke="#4a9ae0" stroke-width="4.5" stroke-linejoin="round" stroke-linecap="round" />
<polyline points="1537.5,1302.4 1600.0,1243.8 1618.0,1260.7" fill="none" stroke="#000" stroke-width="3" stroke-linejoin="round" stroke-linecap="round" />
<polyline points="1526.5,1349.3 1618.0,1260.7" fill="none" stroke="#000" stroke-width="1.5" stroke-linejoin="round" stroke-linecap="round" />
<polyline points="1570.0,1272.4 1587.0,1292.0" fill="none" stroke="#000" stroke-width="3" stroke-linejoin="round" stroke-linecap="round" />
<polyline points="1789.0,803.0 1805.0,981.0" fill="none" stroke="#0a1a4a" stroke-width="3" stroke-linejoin="round" stroke-linecap="round" />
<path d="M365,975 A68,68 0 1 0 365.1,975 Z M365,987.5 A55.5,55.5 0 1 1 364.9,987.5 Z" fill="url(#hk)" fill-rule="evenodd" stroke="#000" stroke-width="1.5"/>
<polygon points="318.0,917.0 388.5,1107.0 369.0,1151.0" fill="url(#hk)" stroke="#000" stroke-width="2" stroke-linejoin="miter" />
<polyline points="318.0,917.0 432.0,1127.0 388.5,1107.0" fill="none" stroke="#000" stroke-width="2.5" stroke-linejoin="round" stroke-linecap="round" />
<polygon points="606.0,1206.4 614.3,1201.1 635.4,1225.4 623.7,1226.9" fill="#888" stroke="#000" stroke-width="2" stroke-linejoin="miter" />
<polygon points="565.0,1247.4 615.0,1254.7 650.0,1344.0 638.3,1352.9 557.0,1254.0" fill="#888" stroke="#000" stroke-width="2" stroke-linejoin="miter" />
<polygon points="679.4,1275.2 675.0,1289.9 691.0,1306.6 700.8,1297.2" fill="#888" stroke="#000" stroke-width="2" stroke-linejoin="miter" />
<polygon points="614.3,1201.1 689.6,1221.0 700.8,1297.2 679.4,1275.2 650.0,1344.0 565.0,1247.4 635.4,1225.4" fill="#fff" stroke="#000" stroke-width="3" stroke-linejoin="miter" />
<text x="379.5" y="1415" font-family="Liberation Sans, sans-serif" font-size="62" font-weight="bold" text-anchor="start" fill="#000" textLength="551" lengthAdjust="spacingAndGlyphs">Lemonia Entrance</text></svg></body></html>
